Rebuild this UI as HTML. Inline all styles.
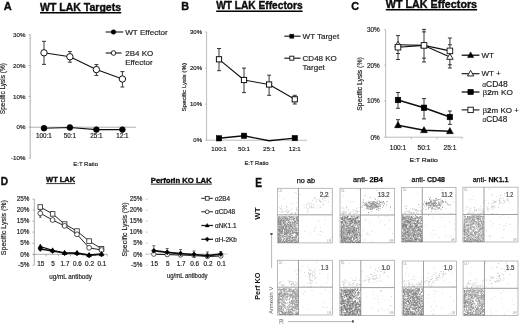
<!DOCTYPE html>
<html><head><meta charset="utf-8"><style>
html,body{margin:0;padding:0;background:#fff;width:520px;height:324px;overflow:hidden}
svg{display:block}
text{font-family:"Liberation Sans", sans-serif}
</style></head><body>
<svg width="520" height="324" viewBox="0 0 520 324">
<defs><filter id="bl" x="-5%" y="-5%" width="110%" height="110%"><feGaussianBlur stdDeviation="0.5"/></filter><filter id="gb" x="0" y="0" width="520" height="324" filterUnits="userSpaceOnUse"><feGaussianBlur stdDeviation="0.35"/></filter></defs>
<rect width="520" height="324" fill="#fff"/>
<g filter="url(#gb)">
<text x="3.7" y="9.8" font-size="11" font-weight="bold" fill="#111" stroke="#000" stroke-width="0.35">A</text>
<text x="40" y="10.8" font-size="10.5" font-weight="bold" textLength="81" lengthAdjust="spacingAndGlyphs" fill="#111" stroke="#000" stroke-width="0.35">WT LAK Targets</text>
<line x1="40" y1="12.8" x2="121.2" y2="12.8" stroke="#000" stroke-width="1.5"/>
<line x1="30.2" y1="34.6" x2="30.2" y2="158.5" stroke="#999" stroke-width="0.8"/>
<line x1="28.7" y1="34.6" x2="30.2" y2="34.6" stroke="#999" stroke-width="0.8"/>
<text x="25.4" y="36.83" font-size="6.2" text-anchor="end" fill="#222" stroke="#222" stroke-width="0.18">30%</text>
<line x1="28.7" y1="65.5" x2="30.2" y2="65.5" stroke="#999" stroke-width="0.8"/>
<text x="25.4" y="67.73" font-size="6.2" text-anchor="end" fill="#222" stroke="#222" stroke-width="0.18">20%</text>
<line x1="28.7" y1="96.4" x2="30.2" y2="96.4" stroke="#999" stroke-width="0.8"/>
<text x="25.4" y="98.63" font-size="6.2" text-anchor="end" fill="#222" stroke="#222" stroke-width="0.18">10%</text>
<line x1="28.7" y1="127.2" x2="30.2" y2="127.2" stroke="#999" stroke-width="0.8"/>
<text x="25.4" y="129.43" font-size="6.2" text-anchor="end" fill="#222" stroke="#222" stroke-width="0.18">0%</text>
<line x1="28.7" y1="158" x2="30.2" y2="158" stroke="#999" stroke-width="0.8"/>
<text x="25.4" y="160.23" font-size="6.2" text-anchor="end" fill="#222" stroke="#222" stroke-width="0.18">-10%</text>
<line x1="30.2" y1="127.2" x2="136" y2="127.2" stroke="#999" stroke-width="0.8"/>
<g transform="translate(2.8,88.6) rotate(-90)">
<text x="0" y="2.34" font-size="6.5" text-anchor="middle" fill="#222" stroke="#222" stroke-width="0.18">Specific Lysis (%)</text>
</g>
<text x="44" y="138.37" font-size="6.3" text-anchor="middle" fill="#222" stroke="#222" stroke-width="0.18">100:1</text>
<text x="69.9" y="138.37" font-size="6.3" text-anchor="middle" fill="#222" stroke="#222" stroke-width="0.18">50:1</text>
<text x="96.4" y="138.37" font-size="6.3" text-anchor="middle" fill="#222" stroke="#222" stroke-width="0.18">25:1</text>
<text x="122.4" y="138.37" font-size="6.3" text-anchor="middle" fill="#222" stroke="#222" stroke-width="0.18">12:1</text>
<text x="73.3" y="165.93" font-size="6.2" textLength="24.7" lengthAdjust="spacingAndGlyphs" fill="#222" stroke="#222" stroke-width="0.18">E:T Ratio</text>
<polyline points="44,128.2 69.9,127.5 96.4,129.6 122.4,129.6" fill="none" stroke="#111" stroke-width="1.1" stroke-linejoin="round"/>
<circle cx="44" cy="128.2" r="2.9" fill="#000" stroke="#000" stroke-width="0.6"/>
<circle cx="69.9" cy="127.5" r="2.9" fill="#000" stroke="#000" stroke-width="0.6"/>
<circle cx="96.4" cy="129.6" r="2.9" fill="#000" stroke="#000" stroke-width="0.6"/>
<circle cx="122.4" cy="129.6" r="2.9" fill="#000" stroke="#000" stroke-width="0.6"/>
<line x1="44" y1="41.3" x2="44" y2="64.4" stroke="#222" stroke-width="0.9"/>
<line x1="42.0" y1="41.3" x2="46.0" y2="41.3" stroke="#222" stroke-width="0.9"/>
<line x1="42.0" y1="64.4" x2="46.0" y2="64.4" stroke="#222" stroke-width="0.9"/>
<line x1="69.9" y1="51.6" x2="69.9" y2="62.2" stroke="#222" stroke-width="0.9"/>
<line x1="67.9" y1="51.6" x2="71.9" y2="51.6" stroke="#222" stroke-width="0.9"/>
<line x1="67.9" y1="62.2" x2="71.9" y2="62.2" stroke="#222" stroke-width="0.9"/>
<line x1="96.4" y1="64.6" x2="96.4" y2="75.4" stroke="#222" stroke-width="0.9"/>
<line x1="94.4" y1="64.6" x2="98.4" y2="64.6" stroke="#222" stroke-width="0.9"/>
<line x1="94.4" y1="75.4" x2="98.4" y2="75.4" stroke="#222" stroke-width="0.9"/>
<line x1="122.4" y1="71.6" x2="122.4" y2="87" stroke="#222" stroke-width="0.9"/>
<line x1="120.4" y1="71.6" x2="124.4" y2="71.6" stroke="#222" stroke-width="0.9"/>
<line x1="120.4" y1="87" x2="124.4" y2="87" stroke="#222" stroke-width="0.9"/>
<polyline points="44,52.8 69.9,56.8 96.4,69.6 122.4,79" fill="none" stroke="#111" stroke-width="1.1" stroke-linejoin="round"/>
<circle cx="44" cy="52.8" r="3.2" fill="#fff" stroke="#111" stroke-width="1"/>
<circle cx="69.9" cy="56.8" r="3.2" fill="#fff" stroke="#111" stroke-width="1"/>
<circle cx="96.4" cy="69.6" r="3.2" fill="#fff" stroke="#111" stroke-width="1"/>
<circle cx="122.4" cy="79" r="3.2" fill="#fff" stroke="#111" stroke-width="1"/>
<line x1="105.7" y1="32" x2="123.3" y2="32" stroke="#111" stroke-width="1.1"/>
<circle cx="113.5" cy="32" r="2.3" fill="#000" stroke="#000" stroke-width="0.5"/>
<text x="125.2" y="34.88" font-size="8" textLength="42.6" lengthAdjust="spacingAndGlyphs" fill="#222" stroke="#222" stroke-width="0.18">WT Effector</text>
<line x1="105.7" y1="53" x2="121.5" y2="53" stroke="#111" stroke-width="1.1"/>
<circle cx="113.5" cy="53" r="2.3" fill="#fff" stroke="#111" stroke-width="0.9"/>
<text x="125.2" y="55.88" font-size="8" fill="#222" stroke="#222" stroke-width="0.18">2B4 KO</text>
<text x="125.2" y="65.48" font-size="8" fill="#222" stroke="#222" stroke-width="0.18">Effector</text>
<text x="181.2" y="9.6" font-size="11.2" font-weight="bold" textLength="7.8" lengthAdjust="spacingAndGlyphs" fill="#111" stroke="#000" stroke-width="0.35">B</text>
<text x="216.2" y="9.3" font-size="10.4" font-weight="bold" textLength="86.4" lengthAdjust="spacingAndGlyphs" fill="#111" stroke="#000" stroke-width="0.35">WT LAK Effectors</text>
<line x1="216.2" y1="11.2" x2="302.6" y2="11.2" stroke="#000" stroke-width="1.5"/>
<line x1="206.6" y1="31.9" x2="206.6" y2="140.2" stroke="#aaa" stroke-width="0.8"/>
<line x1="205.1" y1="31.9" x2="206.6" y2="31.9" stroke="#aaa" stroke-width="0.8"/>
<text x="202" y="34.06" font-size="6" text-anchor="end" fill="#222" stroke="#222" stroke-width="0.18">30%</text>
<line x1="205.1" y1="68" x2="206.6" y2="68" stroke="#aaa" stroke-width="0.8"/>
<text x="202" y="70.16" font-size="6" text-anchor="end" fill="#222" stroke="#222" stroke-width="0.18">20%</text>
<line x1="205.1" y1="104.1" x2="206.6" y2="104.1" stroke="#aaa" stroke-width="0.8"/>
<text x="202" y="106.26" font-size="6" text-anchor="end" fill="#222" stroke="#222" stroke-width="0.18">10%</text>
<line x1="205.1" y1="140.2" x2="206.6" y2="140.2" stroke="#aaa" stroke-width="0.8"/>
<text x="202" y="142.36" font-size="6" text-anchor="end" fill="#222" stroke="#222" stroke-width="0.18">0%</text>
<line x1="206.6" y1="140.2" x2="307" y2="140.2" stroke="#aaa" stroke-width="0.8"/>
<g transform="translate(184,87.3) rotate(-90)">
<text x="0" y="2.23" font-size="6.2" text-anchor="middle" fill="#222" stroke="#222" stroke-width="0.18">Specific Lysis (%)</text>
</g>
<text x="219" y="151.13" font-size="6.2" text-anchor="middle" fill="#222" stroke="#222" stroke-width="0.18">100:1</text>
<text x="244" y="151.13" font-size="6.2" text-anchor="middle" fill="#222" stroke="#222" stroke-width="0.18">50:1</text>
<text x="269.1" y="151.13" font-size="6.2" text-anchor="middle" fill="#222" stroke="#222" stroke-width="0.18">25:1</text>
<text x="294.8" y="151.13" font-size="6.2" text-anchor="middle" fill="#222" stroke="#222" stroke-width="0.18">12:1</text>
<text x="244.5" y="165.16" font-size="6" textLength="24" lengthAdjust="spacingAndGlyphs" fill="#222" stroke="#222" stroke-width="0.18">E:T Ratio</text>
<polyline points="219,138.3 244,135.8 269.1,140.8 294.8,138.1" fill="none" stroke="#111" stroke-width="1.4" stroke-linejoin="round"/>
<rect x="216.3" y="135.60000000000002" width="5.4" height="5.4" fill="#000" stroke="#000" stroke-width="0.5"/>
<rect x="241.3" y="133.10000000000002" width="5.4" height="5.4" fill="#000" stroke="#000" stroke-width="0.5"/>
<rect x="292.1" y="135.4" width="5.4" height="5.4" fill="#000" stroke="#000" stroke-width="0.5"/>
<line x1="219" y1="48.5" x2="219" y2="70.7" stroke="#222" stroke-width="0.9"/>
<line x1="217.0" y1="48.5" x2="221.0" y2="48.5" stroke="#222" stroke-width="0.9"/>
<line x1="217.0" y1="70.7" x2="221.0" y2="70.7" stroke="#222" stroke-width="0.9"/>
<line x1="244" y1="68.1" x2="244" y2="92.6" stroke="#222" stroke-width="0.9"/>
<line x1="242.0" y1="68.1" x2="246.0" y2="68.1" stroke="#222" stroke-width="0.9"/>
<line x1="242.0" y1="92.6" x2="246.0" y2="92.6" stroke="#222" stroke-width="0.9"/>
<line x1="269.1" y1="75.2" x2="269.1" y2="95.3" stroke="#222" stroke-width="0.9"/>
<line x1="267.1" y1="75.2" x2="271.1" y2="75.2" stroke="#222" stroke-width="0.9"/>
<line x1="267.1" y1="95.3" x2="271.1" y2="95.3" stroke="#222" stroke-width="0.9"/>
<line x1="294.8" y1="95.3" x2="294.8" y2="104" stroke="#222" stroke-width="0.9"/>
<line x1="292.8" y1="95.3" x2="296.8" y2="95.3" stroke="#222" stroke-width="0.9"/>
<line x1="292.8" y1="104" x2="296.8" y2="104" stroke="#222" stroke-width="0.9"/>
<polyline points="219,59.3 244,80 269.1,84.5 294.8,99.3" fill="none" stroke="#111" stroke-width="1.1" stroke-linejoin="round"/>
<rect x="216.4" y="56.699999999999996" width="5.2" height="5.2" fill="#fff" stroke="#111" stroke-width="1"/>
<rect x="241.4" y="77.4" width="5.2" height="5.2" fill="#fff" stroke="#111" stroke-width="1"/>
<rect x="266.5" y="81.9" width="5.2" height="5.2" fill="#fff" stroke="#111" stroke-width="1"/>
<rect x="292.2" y="96.7" width="5.2" height="5.2" fill="#fff" stroke="#111" stroke-width="1"/>
<line x1="284.3" y1="36.2" x2="300.5" y2="36.2" stroke="#111" stroke-width="1.1"/>
<rect x="289.8" y="34.2" width="4" height="4" fill="#000" stroke="#000" stroke-width="0.5"/>
<text x="302.6" y="39.08" font-size="8" fill="#222" stroke="#222" stroke-width="0.18">WT Target</text>
<line x1="284.3" y1="58.2" x2="300.5" y2="58.2" stroke="#111" stroke-width="1.1"/>
<rect x="289.8" y="56.2" width="4" height="4" fill="#fff" stroke="#111" stroke-width="0.9"/>
<text x="302.6" y="61.08" font-size="8" fill="#222" stroke="#222" stroke-width="0.18">CD48 KO</text>
<text x="302.6" y="69.98" font-size="8" fill="#222" stroke="#222" stroke-width="0.18">Target</text>
<text x="351.3" y="9.5" font-size="11.5" font-weight="bold" textLength="7.8" lengthAdjust="spacingAndGlyphs" fill="#111" stroke="#000" stroke-width="0.35">C</text>
<text x="385.8" y="8.1" font-size="10.4" font-weight="bold" textLength="91.3" lengthAdjust="spacingAndGlyphs" fill="#111" stroke="#000" stroke-width="0.35">WT LAK Effectors</text>
<line x1="385.8" y1="9.7" x2="477.1" y2="9.7" stroke="#000" stroke-width="1.5"/>
<line x1="385.7" y1="29.8" x2="385.7" y2="137.2" stroke="#aaa" stroke-width="0.8"/>
<line x1="384.2" y1="29.8" x2="385.7" y2="29.8" stroke="#aaa" stroke-width="0.8"/>
<text x="379.8" y="32.1" font-size="6.4" text-anchor="end" fill="#222" stroke="#222" stroke-width="0.18">30%</text>
<line x1="384.2" y1="65.2" x2="385.7" y2="65.2" stroke="#aaa" stroke-width="0.8"/>
<text x="379.8" y="67.5" font-size="6.4" text-anchor="end" fill="#222" stroke="#222" stroke-width="0.18">20%</text>
<line x1="384.2" y1="100.8" x2="385.7" y2="100.8" stroke="#aaa" stroke-width="0.8"/>
<text x="379.8" y="103.1" font-size="6.4" text-anchor="end" fill="#222" stroke="#222" stroke-width="0.18">10%</text>
<line x1="384.2" y1="137.2" x2="385.7" y2="137.2" stroke="#aaa" stroke-width="0.8"/>
<text x="379.8" y="139.5" font-size="6.4" text-anchor="end" fill="#222" stroke="#222" stroke-width="0.18">0%</text>
<line x1="385.7" y1="137.2" x2="462.2" y2="137.2" stroke="#aaa" stroke-width="0.8"/>
<line x1="411.3" y1="137.2" x2="411.3" y2="139.2" stroke="#aaa" stroke-width="0.8"/>
<line x1="436.8" y1="137.2" x2="436.8" y2="139.2" stroke="#aaa" stroke-width="0.8"/>
<line x1="462.2" y1="137.2" x2="462.2" y2="139.2" stroke="#aaa" stroke-width="0.8"/>
<g transform="translate(359.5,84) rotate(-90)">
<text x="0" y="2.45" font-size="6.8" text-anchor="middle" fill="#222" stroke="#222" stroke-width="0.18">Specific Lysis (%)</text>
</g>
<text x="398" y="149.78" font-size="6.6" text-anchor="middle" fill="#222" stroke="#222" stroke-width="0.18">100:1</text>
<text x="424" y="149.78" font-size="6.6" text-anchor="middle" fill="#222" stroke="#222" stroke-width="0.18">50:1</text>
<text x="449.9" y="149.78" font-size="6.6" text-anchor="middle" fill="#222" stroke="#222" stroke-width="0.18">25:1</text>
<text x="409.4" y="162.16" font-size="6" textLength="28.4" lengthAdjust="spacingAndGlyphs" fill="#222" stroke="#222" stroke-width="0.18">E:T Ratio</text>
<line x1="398" y1="35.6" x2="398" y2="59.5" stroke="#222" stroke-width="0.9"/>
<line x1="396.0" y1="35.6" x2="400.0" y2="35.6" stroke="#222" stroke-width="0.9"/>
<line x1="396.0" y1="59.5" x2="400.0" y2="59.5" stroke="#222" stroke-width="0.9"/>
<line x1="424" y1="29.4" x2="424" y2="62" stroke="#222" stroke-width="0.9"/>
<line x1="422.0" y1="29.4" x2="426.0" y2="29.4" stroke="#222" stroke-width="0.9"/>
<line x1="422.0" y1="62" x2="426.0" y2="62" stroke="#222" stroke-width="0.9"/>
<line x1="449.9" y1="38" x2="449.9" y2="68" stroke="#222" stroke-width="0.9"/>
<line x1="447.9" y1="38" x2="451.9" y2="38" stroke="#222" stroke-width="0.9"/>
<line x1="447.9" y1="68" x2="451.9" y2="68" stroke="#222" stroke-width="0.9"/>
<line x1="396" y1="53.5" x2="400" y2="53.5" stroke="#222" stroke-width="0.9"/>
<line x1="422" y1="31.9" x2="426" y2="31.9" stroke="#222" stroke-width="0.9"/>
<line x1="422" y1="58.2" x2="426" y2="58.2" stroke="#222" stroke-width="0.9"/>
<line x1="447.9" y1="44.8" x2="451.9" y2="44.8" stroke="#222" stroke-width="0.9"/>
<line x1="447.9" y1="64.8" x2="451.9" y2="64.8" stroke="#222" stroke-width="0.9"/>
<polyline points="398,44.7 424,45.4 449.9,57" fill="none" stroke="#111" stroke-width="1.1" stroke-linejoin="round"/>
<polyline points="398,47.2 424,45.4 449.9,50.9" fill="none" stroke="#111" stroke-width="1.1" stroke-linejoin="round"/>
<polygon points="398,41.29 401.255,47.025000000000006 394.745,47.025000000000006" fill="#fff" stroke="#111" stroke-width="0.9"/>
<polygon points="424,41.989999999999995 427.255,47.725 420.745,47.725" fill="#fff" stroke="#111" stroke-width="0.9"/>
<polygon points="449.9,53.589999999999996 453.155,59.325 446.645,59.325" fill="#fff" stroke="#111" stroke-width="0.9"/>
<rect x="395.2" y="44.400000000000006" width="5.6" height="5.6" fill="#fff" stroke="#111" stroke-width="0.9"/>
<rect x="421.2" y="42.6" width="5.6" height="5.6" fill="#fff" stroke="#111" stroke-width="0.9"/>
<rect x="447.09999999999997" y="48.1" width="5.6" height="5.6" fill="#fff" stroke="#111" stroke-width="0.9"/>
<line x1="398" y1="92.5" x2="398" y2="108.3" stroke="#222" stroke-width="0.9"/>
<line x1="396.0" y1="92.5" x2="400.0" y2="92.5" stroke="#222" stroke-width="0.9"/>
<line x1="396.0" y1="108.3" x2="400.0" y2="108.3" stroke="#222" stroke-width="0.9"/>
<line x1="424" y1="98.6" x2="424" y2="118.9" stroke="#222" stroke-width="0.9"/>
<line x1="422.0" y1="98.6" x2="426.0" y2="98.6" stroke="#222" stroke-width="0.9"/>
<line x1="422.0" y1="118.9" x2="426.0" y2="118.9" stroke="#222" stroke-width="0.9"/>
<line x1="449.9" y1="111" x2="449.9" y2="124.4" stroke="#222" stroke-width="0.9"/>
<line x1="447.9" y1="111" x2="451.9" y2="111" stroke="#222" stroke-width="0.9"/>
<line x1="447.9" y1="124.4" x2="451.9" y2="124.4" stroke="#222" stroke-width="0.9"/>
<polyline points="398,100 424,107.8 449.9,117" fill="none" stroke="#111" stroke-width="1.6" stroke-linejoin="round"/>
<rect x="395.2" y="97.2" width="5.6" height="5.6" fill="#000" stroke="#000" stroke-width="0.5"/>
<rect x="421.2" y="105.0" width="5.6" height="5.6" fill="#000" stroke="#000" stroke-width="0.5"/>
<rect x="447.09999999999997" y="114.2" width="5.6" height="5.6" fill="#000" stroke="#000" stroke-width="0.5"/>
<line x1="398" y1="119.7" x2="398" y2="127" stroke="#222" stroke-width="0.9"/>
<line x1="396.0" y1="119.7" x2="400.0" y2="119.7" stroke="#222" stroke-width="0.9"/>
<line x1="396.0" y1="127" x2="400.0" y2="127" stroke="#222" stroke-width="0.9"/>
<polyline points="398,125.2 424,130.2 449.9,131.2" fill="none" stroke="#111" stroke-width="1.6" stroke-linejoin="round"/>
<polygon points="398,121.57000000000001 401.465,127.675 394.535,127.675" fill="#000" stroke="#000" stroke-width="0.5"/>
<polygon points="424,126.57 427.465,132.67499999999998 420.535,132.67499999999998" fill="#000" stroke="#000" stroke-width="0.5"/>
<polygon points="449.9,127.57 453.36499999999995,133.67499999999998 446.435,133.67499999999998" fill="#000" stroke="#000" stroke-width="0.5"/>
<line x1="461.7" y1="55.2" x2="479.4" y2="55.2" stroke="#111" stroke-width="1.3"/>
<polygon points="470.6,51.900000000000006 473.75,57.45 467.45000000000005,57.45" fill="#000" stroke="#000" stroke-width="0.5"/>
<text x="481.5" y="58.08" font-size="8" fill="#222" stroke="#222" stroke-width="0.18">WT</text>
<line x1="461.7" y1="73.7" x2="479.4" y2="73.7" stroke="#111" stroke-width="1.1"/>
<polygon points="470.6,70.4 473.75,75.95 467.45000000000005,75.95" fill="#fff" stroke="#111" stroke-width="0.9"/>
<text x="481.5" y="76.38" font-size="8" fill="#222" stroke="#222" stroke-width="0.18">WT +</text>
<text x="482.2" y="86.55" font-size="8.2" textLength="25.6" lengthAdjust="spacingAndGlyphs" fill="#222" stroke="#222" stroke-width="0.18"><tspan font-size="6.5" fill="#555">&#945;</tspan>CD48</text>
<line x1="461.7" y1="92" x2="479.4" y2="92" stroke="#111" stroke-width="1.3"/>
<rect x="467.90000000000003" y="89.3" width="5.4" height="5.4" fill="#000" stroke="#000" stroke-width="0.5"/>
<text x="482.5" y="94.78" font-size="8" textLength="30.3" lengthAdjust="spacingAndGlyphs" fill="#222" stroke="#222" stroke-width="0.18"><tspan fill="#555">&#946;</tspan><tspan font-weight="bold">2</tspan>m KO</text>
<line x1="461.7" y1="109.9" x2="479.4" y2="109.9" stroke="#111" stroke-width="1.1"/>
<rect x="467.90000000000003" y="107.2" width="5.4" height="5.4" fill="#fff" stroke="#111" stroke-width="0.9"/>
<text x="482.5" y="112.88" font-size="8" fill="#222" stroke="#222" stroke-width="0.18"><tspan fill="#555">&#946;</tspan><tspan font-weight="bold">2</tspan>m KO +</text>
<text x="482.5" y="122.45" font-size="8.2" textLength="24.7" lengthAdjust="spacingAndGlyphs" fill="#222" stroke="#222" stroke-width="0.18"><tspan font-size="6.5" fill="#555">&#945;</tspan>CD48</text>
<text x="0.8" y="185.1" font-size="11.5" font-weight="bold" textLength="7.3" lengthAdjust="spacingAndGlyphs" fill="#111" stroke="#000" stroke-width="0.35">D</text>
<text x="46.1" y="182.2" font-size="7" font-weight="bold" textLength="29" lengthAdjust="spacingAndGlyphs" fill="#111" stroke="#000" stroke-width="0.35">WT LAK</text>
<line x1="46.1" y1="183.6" x2="75.1" y2="183.6" stroke="#333" stroke-width="1"/>
<text x="150.8" y="182.7" font-size="7" font-weight="bold" textLength="60.9" lengthAdjust="spacingAndGlyphs" fill="#111" stroke="#000" stroke-width="0.35">Perforin KO LAK</text>
<line x1="150.8" y1="184.2" x2="211.7" y2="184.2" stroke="#333" stroke-width="1"/>
<line x1="34.3" y1="199.2" x2="34.3" y2="265.2" stroke="#999" stroke-width="0.8"/>
<line x1="32.5" y1="199.2" x2="34.3" y2="199.2" stroke="#999" stroke-width="0.8"/>
<text x="29.3" y="201.47" font-size="6.3" text-anchor="end" fill="#222" stroke="#222" stroke-width="0.18">25%</text>
<line x1="32.5" y1="210.1" x2="34.3" y2="210.1" stroke="#999" stroke-width="0.8"/>
<text x="29.3" y="212.37" font-size="6.3" text-anchor="end" fill="#222" stroke="#222" stroke-width="0.18">20%</text>
<line x1="32.5" y1="221.1" x2="34.3" y2="221.1" stroke="#999" stroke-width="0.8"/>
<text x="29.3" y="223.37" font-size="6.3" text-anchor="end" fill="#222" stroke="#222" stroke-width="0.18">15%</text>
<line x1="32.5" y1="232.1" x2="34.3" y2="232.1" stroke="#999" stroke-width="0.8"/>
<text x="29.3" y="234.37" font-size="6.3" text-anchor="end" fill="#222" stroke="#222" stroke-width="0.18">10%</text>
<line x1="32.5" y1="243.2" x2="34.3" y2="243.2" stroke="#999" stroke-width="0.8"/>
<text x="29.3" y="245.47" font-size="6.3" text-anchor="end" fill="#222" stroke="#222" stroke-width="0.18">5%</text>
<line x1="32.5" y1="254.3" x2="34.3" y2="254.3" stroke="#999" stroke-width="0.8"/>
<text x="29.3" y="256.57" font-size="6.3" text-anchor="end" fill="#222" stroke="#222" stroke-width="0.18">0%</text>
<line x1="32.5" y1="265.2" x2="34.3" y2="265.2" stroke="#999" stroke-width="0.8"/>
<text x="29.3" y="267.47" font-size="6.3" text-anchor="end" fill="#222" stroke="#222" stroke-width="0.18">-5%</text>
<line x1="32.8" y1="254.3" x2="107.2" y2="254.3" stroke="#999" stroke-width="0.8"/>
<line x1="46.2" y1="254.3" x2="46.2" y2="256.3" stroke="#999" stroke-width="0.8"/>
<line x1="58.4" y1="254.3" x2="58.4" y2="256.3" stroke="#999" stroke-width="0.8"/>
<line x1="70.6" y1="254.3" x2="70.6" y2="256.3" stroke="#999" stroke-width="0.8"/>
<line x1="82.8" y1="254.3" x2="82.8" y2="256.3" stroke="#999" stroke-width="0.8"/>
<line x1="95" y1="254.3" x2="95" y2="256.3" stroke="#999" stroke-width="0.8"/>
<line x1="107.2" y1="254.3" x2="107.2" y2="256.3" stroke="#999" stroke-width="0.8"/>
<g transform="translate(3.7,227.7) rotate(-90)">
<text x="0" y="2.52" font-size="7" text-anchor="middle" fill="#222" stroke="#222" stroke-width="0.18">Specific Lysis (%)</text>
</g>
<text x="40.699999999999996" y="266.1" font-size="6.4" text-anchor="middle" fill="#222" stroke="#222" stroke-width="0.18">15</text>
<text x="53.0" y="266.1" font-size="6.4" text-anchor="middle" fill="#222" stroke="#222" stroke-width="0.18">5</text>
<text x="65.0" y="266.1" font-size="6.4" text-anchor="middle" fill="#222" stroke="#222" stroke-width="0.18">1.7</text>
<text x="77.4" y="266.1" font-size="6.4" text-anchor="middle" fill="#222" stroke="#222" stroke-width="0.18">0.6</text>
<text x="89.5" y="266.1" font-size="6.4" text-anchor="middle" fill="#222" stroke="#222" stroke-width="0.18">0.2</text>
<text x="101.9" y="266.1" font-size="6.4" text-anchor="middle" fill="#222" stroke="#222" stroke-width="0.18">0.1</text>
<text x="49.3" y="279.1" font-size="6.4" textLength="42.7" lengthAdjust="spacingAndGlyphs" fill="#222" stroke="#222" stroke-width="0.18">ug/mL antibody</text>
<line x1="40.3" y1="210" x2="40.3" y2="217.2" stroke="#333" stroke-width="0.8"/>
<line x1="39.05" y1="210" x2="41.55" y2="210" stroke="#333" stroke-width="0.8"/>
<line x1="39.05" y1="217.2" x2="41.55" y2="217.2" stroke="#333" stroke-width="0.8"/>
<polyline points="40.3,207 52.6,213.9 64.6,224.1 77.0,231.1 89.1,241.1 101.5,248.7" fill="none" stroke="#111" stroke-width="0.9" stroke-linejoin="round"/>
<polyline points="40.3,213.3 52.6,220 64.6,225.9 77.0,234.3 89.1,247.8 101.5,250" fill="none" stroke="#111" stroke-width="0.9" stroke-linejoin="round"/>
<polyline points="40.3,246.5 52.6,250.3 64.6,252.8 77.0,252.8 89.1,255 101.5,254" fill="none" stroke="#111" stroke-width="1.3" stroke-linejoin="round"/>
<polyline points="40.3,249 52.6,251 64.6,253.2 77.0,253.4 89.1,255.4 101.5,254.4" fill="none" stroke="#111" stroke-width="1.3" stroke-linejoin="round"/>
<rect x="38.0" y="204.7" width="4.6" height="4.6" fill="#fff" stroke="#222" stroke-width="0.8"/>
<rect x="50.300000000000004" y="211.6" width="4.6" height="4.6" fill="#fff" stroke="#222" stroke-width="0.8"/>
<rect x="62.3" y="221.79999999999998" width="4.6" height="4.6" fill="#fff" stroke="#222" stroke-width="0.8"/>
<rect x="74.7" y="228.79999999999998" width="4.6" height="4.6" fill="#fff" stroke="#222" stroke-width="0.8"/>
<rect x="86.8" y="238.79999999999998" width="4.6" height="4.6" fill="#fff" stroke="#222" stroke-width="0.8"/>
<rect x="99.2" y="246.39999999999998" width="4.6" height="4.6" fill="#fff" stroke="#222" stroke-width="0.8"/>
<circle cx="40.3" cy="213.3" r="2.4" fill="#fff" stroke="#222" stroke-width="0.8"/>
<circle cx="52.6" cy="220" r="2.4" fill="#fff" stroke="#222" stroke-width="0.8"/>
<circle cx="64.6" cy="225.9" r="2.4" fill="#fff" stroke="#222" stroke-width="0.8"/>
<circle cx="77.0" cy="234.3" r="2.4" fill="#fff" stroke="#222" stroke-width="0.8"/>
<circle cx="89.1" cy="247.8" r="2.4" fill="#fff" stroke="#222" stroke-width="0.8"/>
<circle cx="101.5" cy="250" r="2.4" fill="#fff" stroke="#222" stroke-width="0.8"/>
<polygon points="40.3,243.97 42.714999999999996,248.225 37.885,248.225" fill="#000" stroke="#000" stroke-width="0.5"/>
<polygon points="52.6,247.77 55.015,252.025 50.185,252.025" fill="#000" stroke="#000" stroke-width="0.5"/>
<polygon points="64.6,250.27 67.015,254.525 62.184999999999995,254.525" fill="#000" stroke="#000" stroke-width="0.5"/>
<polygon points="77.0,250.27 79.415,254.525 74.585,254.525" fill="#000" stroke="#000" stroke-width="0.5"/>
<polygon points="89.1,252.47 91.515,256.725 86.68499999999999,256.725" fill="#000" stroke="#000" stroke-width="0.5"/>
<polygon points="101.5,251.47 103.915,255.725 99.085,255.725" fill="#000" stroke="#000" stroke-width="0.5"/>
<polygon points="40.3,246.48 42.61,249 40.3,251.52 37.989999999999995,249" fill="#000" stroke="#000" stroke-width="0.5"/>
<polygon points="52.6,248.48 54.910000000000004,251 52.6,253.52 50.29,251" fill="#000" stroke="#000" stroke-width="0.5"/>
<polygon points="64.6,250.67999999999998 66.91,253.2 64.6,255.72 62.28999999999999,253.2" fill="#000" stroke="#000" stroke-width="0.5"/>
<polygon points="77.0,250.88 79.31,253.4 77.0,255.92000000000002 74.69,253.4" fill="#000" stroke="#000" stroke-width="0.5"/>
<polygon points="89.1,252.88 91.41,255.4 89.1,257.92 86.78999999999999,255.4" fill="#000" stroke="#000" stroke-width="0.5"/>
<polygon points="101.5,251.88 103.81,254.4 101.5,256.92 99.19,254.4" fill="#000" stroke="#000" stroke-width="0.5"/>
<line x1="145.6" y1="199.2" x2="147.6" y2="199.2" stroke="#bbb" stroke-width="0.8"/>
<text x="142.3" y="201.47" font-size="6.3" text-anchor="end" fill="#222" stroke="#222" stroke-width="0.18">25%</text>
<line x1="145.6" y1="210.1" x2="147.6" y2="210.1" stroke="#bbb" stroke-width="0.8"/>
<text x="142.3" y="212.37" font-size="6.3" text-anchor="end" fill="#222" stroke="#222" stroke-width="0.18">20%</text>
<line x1="145.6" y1="221.1" x2="147.6" y2="221.1" stroke="#bbb" stroke-width="0.8"/>
<text x="142.3" y="223.37" font-size="6.3" text-anchor="end" fill="#222" stroke="#222" stroke-width="0.18">15%</text>
<line x1="145.6" y1="232.1" x2="147.6" y2="232.1" stroke="#bbb" stroke-width="0.8"/>
<text x="142.3" y="234.37" font-size="6.3" text-anchor="end" fill="#222" stroke="#222" stroke-width="0.18">10%</text>
<line x1="145.6" y1="243.2" x2="147.6" y2="243.2" stroke="#bbb" stroke-width="0.8"/>
<text x="142.3" y="245.47" font-size="6.3" text-anchor="end" fill="#222" stroke="#222" stroke-width="0.18">5%</text>
<line x1="145.6" y1="254.3" x2="147.6" y2="254.3" stroke="#bbb" stroke-width="0.8"/>
<text x="142.3" y="256.57" font-size="6.3" text-anchor="end" fill="#222" stroke="#222" stroke-width="0.18">0%</text>
<line x1="145.6" y1="265.2" x2="147.6" y2="265.2" stroke="#bbb" stroke-width="0.8"/>
<text x="142.3" y="267.47" font-size="6.3" text-anchor="end" fill="#222" stroke="#222" stroke-width="0.18">-5%</text>
<line x1="145.5" y1="254" x2="227.5" y2="254" stroke="#bbb" stroke-width="0.8"/>
<g transform="translate(124.9,229.5) rotate(-90)">
<text x="0" y="2.48" font-size="6.9" text-anchor="middle" fill="#222" stroke="#222" stroke-width="0.18">Specific Lysis (%)</text>
</g>
<text x="154.4" y="265.8" font-size="6.4" text-anchor="middle" fill="#222" stroke="#222" stroke-width="0.18">15</text>
<text x="167.79999999999998" y="265.8" font-size="6.4" text-anchor="middle" fill="#222" stroke="#222" stroke-width="0.18">5</text>
<text x="181.2" y="265.8" font-size="6.4" text-anchor="middle" fill="#222" stroke="#222" stroke-width="0.18">1.7</text>
<text x="194.6" y="265.8" font-size="6.4" text-anchor="middle" fill="#222" stroke="#222" stroke-width="0.18">0.6</text>
<text x="208.0" y="265.8" font-size="6.4" text-anchor="middle" fill="#222" stroke="#222" stroke-width="0.18">0.2</text>
<text x="221.4" y="265.8" font-size="6.4" text-anchor="middle" fill="#222" stroke="#222" stroke-width="0.18">0.1</text>
<text x="167" y="278.1" font-size="6.4" textLength="40.5" lengthAdjust="spacingAndGlyphs" fill="#222" stroke="#222" stroke-width="0.18">ug/mL antibody</text>
<line x1="153.8" y1="245.8" x2="153.8" y2="255" stroke="#444" stroke-width="0.8"/>
<line x1="152.3" y1="245.8" x2="155.3" y2="245.8" stroke="#444" stroke-width="0.8"/>
<line x1="152.3" y1="255" x2="155.3" y2="255" stroke="#444" stroke-width="0.8"/>
<line x1="167.2" y1="248.5" x2="167.2" y2="256" stroke="#444" stroke-width="0.8"/>
<line x1="165.7" y1="248.5" x2="168.7" y2="248.5" stroke="#444" stroke-width="0.8"/>
<line x1="165.7" y1="256" x2="168.7" y2="256" stroke="#444" stroke-width="0.8"/>
<line x1="180.6" y1="249.5" x2="180.6" y2="256" stroke="#444" stroke-width="0.8"/>
<line x1="179.1" y1="249.5" x2="182.1" y2="249.5" stroke="#444" stroke-width="0.8"/>
<line x1="179.1" y1="256" x2="182.1" y2="256" stroke="#444" stroke-width="0.8"/>
<line x1="194.0" y1="251" x2="194.0" y2="256.5" stroke="#444" stroke-width="0.8"/>
<line x1="192.5" y1="251" x2="195.5" y2="251" stroke="#444" stroke-width="0.8"/>
<line x1="192.5" y1="256.5" x2="195.5" y2="256.5" stroke="#444" stroke-width="0.8"/>
<line x1="207.4" y1="252" x2="207.4" y2="257" stroke="#444" stroke-width="0.8"/>
<line x1="205.9" y1="252" x2="208.9" y2="252" stroke="#444" stroke-width="0.8"/>
<line x1="205.9" y1="257" x2="208.9" y2="257" stroke="#444" stroke-width="0.8"/>
<line x1="220.8" y1="251.5" x2="220.8" y2="256" stroke="#444" stroke-width="0.8"/>
<line x1="219.3" y1="251.5" x2="222.3" y2="251.5" stroke="#444" stroke-width="0.8"/>
<line x1="219.3" y1="256" x2="222.3" y2="256" stroke="#444" stroke-width="0.8"/>
<polyline points="153.8,254.2 167.2,254.6 180.6,255 194.0,255.5 207.4,256.5 220.8,256" fill="none" stroke="#111" stroke-width="1" stroke-linejoin="round"/>
<polyline points="153.8,250.7 167.2,252.3 180.6,253.6 194.0,254.5 207.4,255.7 220.8,254.1" fill="none" stroke="#111" stroke-width="1.7" stroke-linejoin="round"/>
<circle cx="153.8" cy="254.2" r="2.2" fill="#fff" stroke="#333" stroke-width="0.8"/>
<circle cx="167.2" cy="254.6" r="2.2" fill="#fff" stroke="#333" stroke-width="0.8"/>
<circle cx="180.6" cy="255" r="2.2" fill="#fff" stroke="#333" stroke-width="0.8"/>
<circle cx="194.0" cy="255.5" r="2.2" fill="#fff" stroke="#333" stroke-width="0.8"/>
<circle cx="207.4" cy="256.5" r="2.2" fill="#fff" stroke="#333" stroke-width="0.8"/>
<circle cx="220.8" cy="256" r="2.2" fill="#fff" stroke="#333" stroke-width="0.8"/>
<polygon points="153.8,248.17999999999998 156.11,250.7 153.8,253.22 151.49,250.7" fill="#000" stroke="#000" stroke-width="0.5"/>
<polygon points="167.2,249.78 169.51,252.3 167.2,254.82000000000002 164.89,252.3" fill="#000" stroke="#000" stroke-width="0.5"/>
<polygon points="180.6,251.07999999999998 182.91,253.6 180.6,256.12 178.29,253.6" fill="#000" stroke="#000" stroke-width="0.5"/>
<polygon points="194.0,251.98 196.31,254.5 194.0,257.02 191.69,254.5" fill="#000" stroke="#000" stroke-width="0.5"/>
<polygon points="207.4,253.17999999999998 209.71,255.7 207.4,258.21999999999997 205.09,255.7" fill="#000" stroke="#000" stroke-width="0.5"/>
<polygon points="220.8,251.57999999999998 223.11,254.1 220.8,256.62 218.49,254.1" fill="#000" stroke="#000" stroke-width="0.5"/>
<line x1="201.3" y1="198.3" x2="213" y2="198.3" stroke="#222" stroke-width="1"/>
<rect x="205.29999999999998" y="196.4" width="3.8" height="3.8" fill="#fff" stroke="#222" stroke-width="0.8"/>
<text x="215" y="200.6" font-size="6.4" fill="#222" stroke="#222" stroke-width="0.18">&#945;2B4</text>
<line x1="201.3" y1="211.8" x2="213" y2="211.8" stroke="#222" stroke-width="1"/>
<circle cx="207.2" cy="211.8" r="1.9" fill="#fff" stroke="#222" stroke-width="0.8"/>
<text x="215" y="214.1" font-size="6.4" fill="#222" stroke="#222" stroke-width="0.18">&#945;CD48</text>
<line x1="201.3" y1="225.5" x2="213" y2="225.5" stroke="#222" stroke-width="1.3"/>
<polygon points="207.2,223.41 209.195,226.925 205.20499999999998,226.925" fill="#000" stroke="#000" stroke-width="0.4"/>
<text x="215" y="227.8" font-size="6.4" fill="#222" stroke="#222" stroke-width="0.18">&#945;NK1.1</text>
<line x1="201.3" y1="239.3" x2="213" y2="239.3" stroke="#222" stroke-width="1.3"/>
<polygon points="207.2,237.02 209.29,239.3 207.2,241.58 205.10999999999999,239.3" fill="#000" stroke="#000" stroke-width="0.4"/>
<text x="215" y="241.6" font-size="6.4" fill="#222" stroke="#222" stroke-width="0.18">&#945;H-2Kb</text>
<text x="255.3" y="186.7" font-size="12.2" font-weight="bold" textLength="6.7" lengthAdjust="spacingAndGlyphs" fill="#111" stroke="#000" stroke-width="0.35">E</text>
<text x="296.8" y="183.02" font-size="7" textLength="18.2" lengthAdjust="spacingAndGlyphs" fill="#111" stroke="#111" stroke-width="0.25">no ab</text>
<text x="353" y="182.32" font-size="7" textLength="30" lengthAdjust="spacingAndGlyphs" fill="#111" stroke="#111" stroke-width="0.25">anti- <tspan font-weight="bold">2B4</tspan></text>
<text x="411.5" y="181.92" font-size="7" textLength="33.5" lengthAdjust="spacingAndGlyphs" fill="#111" stroke="#111" stroke-width="0.25">anti- <tspan font-weight="bold">CD48</tspan></text>
<text x="472.7" y="182.12" font-size="7" textLength="35.8" lengthAdjust="spacingAndGlyphs" fill="#111" stroke="#111" stroke-width="0.25">anti- <tspan font-weight="bold">NK1.1</tspan></text>
<g transform="translate(257.4,213.6) rotate(-90)">
<text x="0" y="2.81" font-size="7.8" text-anchor="middle" font-weight="bold" fill="#111">WT</text>
</g>
<g transform="translate(256.9,286.2) rotate(-90)">
<text x="0" y="2.63" font-size="7.3" text-anchor="middle" font-weight="bold" fill="#111">Perf KO</text>
</g>
<g transform="translate(271.3,300.3) rotate(-90)">
<text x="0" y="2.16" font-size="6" text-anchor="middle" fill="#555">Annexin V</text>
</g>
<line x1="271.6" y1="234" x2="271.6" y2="268" stroke="#999" stroke-width="0.7"/>
<rect x="270.8" y="233.2" width="1.6" height="1.6" fill="#333" stroke="#333" stroke-width="0.3"/>
<text x="279.2" y="323.54" font-size="6.5" textLength="4.5" lengthAdjust="spacingAndGlyphs" fill="#555">PI</text>
<line x1="288" y1="321.6" x2="352.5" y2="321.6" stroke="#999" stroke-width="0.7"/>
<rect x="352.2" y="320.8" width="1.6" height="1.6" fill="#444" stroke="#444" stroke-width="0.3"/>
<rect x="277.4" y="188.3" width="54.9" height="54.6" fill="#fff" stroke="#aaa" stroke-width="0.8"/>
<g filter="url(#bl)">
<path fill="#707070" d="M284.4 219.6h0.9v0.9h-0.9zM279.8 226.9h0.9v0.9h-0.9zM296.9 232.4h0.9v0.9h-0.9zM289.5 226.2h0.9v0.9h-0.9zM280.1 230.9h0.9v0.9h-0.9zM293.9 226.1h0.9v0.9h-0.9zM286.8 218.5h0.9v0.9h-0.9zM282.0 228.8h0.9v0.9h-0.9zM284.5 230.1h0.9v0.9h-0.9zM280.7 218.8h0.9v0.9h-0.9zM278.4 230.4h0.9v0.9h-0.9zM285.6 229.4h0.9v0.9h-0.9zM280.2 240.1h0.9v0.9h-0.9zM289.4 234.3h0.9v0.9h-0.9zM279.7 238.5h0.9v0.9h-0.9zM290.4 216.8h0.9v0.9h-0.9zM288.0 220.3h0.9v0.9h-0.9zM292.7 222.4h0.9v0.9h-0.9zM282.3 220.5h0.9v0.9h-0.9zM280.8 229.6h0.9v0.9h-0.9zM297.0 232.8h0.9v0.9h-0.9zM282.9 222.6h0.9v0.9h-0.9zM288.5 235.5h0.9v0.9h-0.9zM279.5 239.9h0.9v0.9h-0.9zM285.7 240.1h0.9v0.9h-0.9zM280.6 237.5h0.9v0.9h-0.9zM284.8 224.0h0.9v0.9h-0.9zM279.3 226.0h0.9v0.9h-0.9zM285.2 227.0h0.9v0.9h-0.9zM286.9 241.1h0.9v0.9h-0.9zM295.0 241.6h0.9v0.9h-0.9zM282.5 219.7h0.9v0.9h-0.9zM291.3 240.3h0.9v0.9h-0.9zM286.9 234.6h0.9v0.9h-0.9zM286.8 218.5h0.9v0.9h-0.9zM278.8 216.5h0.9v0.9h-0.9zM285.2 224.5h0.9v0.9h-0.9zM284.5 241.8h0.9v0.9h-0.9zM282.6 237.2h0.9v0.9h-0.9zM296.2 216.7h0.9v0.9h-0.9zM286.9 222.5h0.9v0.9h-0.9zM278.8 235.2h0.9v0.9h-0.9zM290.8 226.0h0.9v0.9h-0.9zM286.6 219.8h0.9v0.9h-0.9zM284.3 231.8h0.9v0.9h-0.9zM278.8 230.6h0.9v0.9h-0.9zM279.8 227.4h0.9v0.9h-0.9zM295.8 233.0h0.9v0.9h-0.9zM295.1 242.2h0.9v0.9h-0.9zM296.6 235.2h0.9v0.9h-0.9zM287.3 238.0h0.9v0.9h-0.9zM296.1 219.5h0.9v0.9h-0.9zM290.6 234.2h0.9v0.9h-0.9zM292.0 230.0h0.9v0.9h-0.9zM282.0 236.0h0.9v0.9h-0.9zM289.2 218.4h0.9v0.9h-0.9zM286.0 226.1h0.9v0.9h-0.9zM283.9 222.9h0.9v0.9h-0.9zM283.6 239.2h0.9v0.9h-0.9zM284.5 215.9h0.9v0.9h-0.9zM297.7 220.5h0.9v0.9h-0.9zM281.0 223.7h0.9v0.9h-0.9zM279.5 232.6h0.9v0.9h-0.9zM280.5 241.6h0.9v0.9h-0.9zM294.4 228.3h0.9v0.9h-0.9zM293.2 218.3h0.9v0.9h-0.9zM296.6 217.1h0.9v0.9h-0.9zM278.1 233.9h0.9v0.9h-0.9zM296.2 217.0h0.9v0.9h-0.9zM278.3 233.0h0.9v0.9h-0.9zM292.5 228.1h0.9v0.9h-0.9zM293.6 230.7h0.9v0.9h-0.9zM283.3 219.8h0.9v0.9h-0.9zM291.6 240.0h0.9v0.9h-0.9zM292.9 236.7h0.9v0.9h-0.9zM282.9 240.2h0.9v0.9h-0.9zM289.9 224.8h0.9v0.9h-0.9zM297.8 225.7h0.9v0.9h-0.9zM289.1 238.8h0.9v0.9h-0.9zM296.7 217.2h0.9v0.9h-0.9zM292.1 232.9h0.9v0.9h-0.9zM280.1 224.2h0.9v0.9h-0.9zM287.8 224.1h0.9v0.9h-0.9zM296.4 230.6h0.9v0.9h-0.9zM294.8 238.7h0.9v0.9h-0.9zM278.7 234.4h0.9v0.9h-0.9zM285.1 240.5h0.9v0.9h-0.9zM293.5 238.8h0.9v0.9h-0.9zM288.2 229.8h0.9v0.9h-0.9zM280.0 222.3h0.9v0.9h-0.9zM282.7 227.5h0.9v0.9h-0.9zM289.7 235.9h0.9v0.9h-0.9zM291.8 231.5h0.9v0.9h-0.9zM293.5 240.6h0.9v0.9h-0.9zM290.4 232.4h0.9v0.9h-0.9zM288.2 225.8h0.9v0.9h-0.9zM283.9 236.2h0.9v0.9h-0.9zM285.7 227.3h0.9v0.9h-0.9zM282.1 227.0h0.9v0.9h-0.9zM296.9 233.7h0.9v0.9h-0.9zM290.7 216.7h0.9v0.9h-0.9zM285.9 218.2h0.9v0.9h-0.9zM288.3 229.2h0.9v0.9h-0.9zM279.3 220.7h0.9v0.9h-0.9zM279.1 239.4h0.9v0.9h-0.9zM286.7 232.2h0.9v0.9h-0.9zM281.2 231.3h0.9v0.9h-0.9zM283.0 239.3h0.9v0.9h-0.9zM286.2 226.2h0.9v0.9h-0.9zM278.6 234.8h0.9v0.9h-0.9zM296.2 235.2h0.9v0.9h-0.9zM291.9 241.6h0.9v0.9h-0.9zM297.2 220.1h0.9v0.9h-0.9zM287.7 228.5h0.9v0.9h-0.9zM278.9 239.5h0.9v0.9h-0.9zM281.8 230.1h0.9v0.9h-0.9zM294.7 222.4h0.9v0.9h-0.9zM286.8 241.5h0.9v0.9h-0.9zM292.1 239.4h0.9v0.9h-0.9zM288.5 230.7h0.9v0.9h-0.9zM280.2 238.6h0.9v0.9h-0.9zM289.0 221.6h0.9v0.9h-0.9zM289.0 234.7h0.9v0.9h-0.9zM279.1 221.9h0.9v0.9h-0.9zM292.0 241.1h0.9v0.9h-0.9zM292.4 216.8h0.9v0.9h-0.9zM285.1 224.3h0.9v0.9h-0.9zM286.8 236.7h0.9v0.9h-0.9zM287.7 228.5h0.9v0.9h-0.9zM285.8 238.9h0.9v0.9h-0.9zM278.4 227.9h0.9v0.9h-0.9zM297.3 234.0h0.9v0.9h-0.9zM295.8 223.1h0.9v0.9h-0.9zM290.8 216.0h0.9v0.9h-0.9zM292.1 237.9h0.9v0.9h-0.9zM281.1 219.4h0.9v0.9h-0.9zM281.0 232.4h0.9v0.9h-0.9zM287.2 224.2h0.9v0.9h-0.9zM297.0 219.2h0.9v0.9h-0.9zM291.6 237.1h0.9v0.9h-0.9zM279.9 220.1h0.9v0.9h-0.9zM288.0 221.8h0.9v0.9h-0.9zM280.9 235.3h0.9v0.9h-0.9zM288.5 238.0h0.9v0.9h-0.9zM283.4 241.4h0.9v0.9h-0.9zM286.1 230.5h0.9v0.9h-0.9zM293.7 238.8h0.9v0.9h-0.9zM289.7 230.8h0.9v0.9h-0.9zM280.4 219.7h0.9v0.9h-0.9zM297.5 238.3h0.9v0.9h-0.9zM289.0 236.1h0.9v0.9h-0.9zM279.8 238.2h0.9v0.9h-0.9z"/>
<path fill="#a5a5a5" d="M294.3 218.1h0.9v0.9h-0.9zM289.1 219.2h0.9v0.9h-0.9zM291.9 222.1h0.9v0.9h-0.9zM287.9 224.8h0.9v0.9h-0.9zM288.9 239.2h0.9v0.9h-0.9zM281.6 223.1h0.9v0.9h-0.9zM285.2 234.0h0.9v0.9h-0.9zM293.7 228.2h0.9v0.9h-0.9zM297.5 233.1h0.9v0.9h-0.9zM278.6 221.3h0.9v0.9h-0.9zM296.1 225.0h0.9v0.9h-0.9zM294.2 229.4h0.9v0.9h-0.9zM281.4 228.2h0.9v0.9h-0.9zM294.3 222.5h0.9v0.9h-0.9zM297.8 216.6h0.9v0.9h-0.9zM287.4 229.0h0.9v0.9h-0.9zM284.1 221.8h0.9v0.9h-0.9zM295.7 232.3h0.9v0.9h-0.9zM284.6 233.0h0.9v0.9h-0.9zM296.6 222.3h0.9v0.9h-0.9zM295.6 237.3h0.9v0.9h-0.9zM297.3 228.7h0.9v0.9h-0.9zM291.9 218.6h0.9v0.9h-0.9zM296.8 220.7h0.9v0.9h-0.9zM281.9 236.9h0.9v0.9h-0.9zM287.7 239.9h0.9v0.9h-0.9zM280.9 226.1h0.9v0.9h-0.9zM279.7 234.4h0.9v0.9h-0.9zM292.7 237.6h0.9v0.9h-0.9zM282.7 238.6h0.9v0.9h-0.9zM286.1 232.9h0.9v0.9h-0.9zM279.3 222.3h0.9v0.9h-0.9zM294.3 226.5h0.9v0.9h-0.9zM284.2 221.0h0.9v0.9h-0.9zM284.1 241.1h0.9v0.9h-0.9zM279.8 232.2h0.9v0.9h-0.9zM290.7 238.5h0.9v0.9h-0.9zM286.9 227.3h0.9v0.9h-0.9zM297.6 228.0h0.9v0.9h-0.9zM293.5 229.3h0.9v0.9h-0.9zM290.1 222.3h0.9v0.9h-0.9zM283.5 237.4h0.9v0.9h-0.9zM297.2 228.4h0.9v0.9h-0.9zM281.0 232.0h0.9v0.9h-0.9zM285.2 216.9h0.9v0.9h-0.9zM289.6 231.3h0.9v0.9h-0.9zM295.8 231.5h0.9v0.9h-0.9zM281.2 239.9h0.9v0.9h-0.9zM289.0 227.2h0.9v0.9h-0.9zM296.3 241.8h0.9v0.9h-0.9zM293.7 226.1h0.9v0.9h-0.9zM295.0 235.9h0.9v0.9h-0.9zM289.4 223.3h0.9v0.9h-0.9zM280.5 231.5h0.9v0.9h-0.9zM281.4 227.3h0.9v0.9h-0.9zM285.9 236.7h0.9v0.9h-0.9zM288.3 218.3h0.9v0.9h-0.9zM296.2 232.4h0.9v0.9h-0.9zM283.3 221.6h0.9v0.9h-0.9zM290.1 236.5h0.9v0.9h-0.9zM279.9 233.2h0.9v0.9h-0.9zM285.9 230.4h0.9v0.9h-0.9zM293.7 239.9h0.9v0.9h-0.9zM278.7 216.1h0.9v0.9h-0.9zM290.4 233.0h0.9v0.9h-0.9zM283.7 219.4h0.9v0.9h-0.9zM280.9 241.6h0.9v0.9h-0.9zM285.9 234.5h0.9v0.9h-0.9zM289.5 239.5h0.9v0.9h-0.9zM279.9 221.1h0.9v0.9h-0.9zM286.5 240.9h0.9v0.9h-0.9zM280.9 232.7h0.9v0.9h-0.9zM284.8 219.3h0.9v0.9h-0.9zM288.4 221.8h0.9v0.9h-0.9zM278.4 231.6h0.9v0.9h-0.9zM286.0 238.0h0.9v0.9h-0.9zM294.0 240.0h0.9v0.9h-0.9zM290.9 218.8h0.9v0.9h-0.9zM288.9 238.0h0.9v0.9h-0.9zM290.1 224.9h0.9v0.9h-0.9zM290.3 238.3h0.9v0.9h-0.9zM280.5 238.9h0.9v0.9h-0.9zM289.7 228.9h0.9v0.9h-0.9zM281.0 238.3h0.9v0.9h-0.9zM283.7 225.0h0.9v0.9h-0.9zM286.1 229.0h0.9v0.9h-0.9zM284.3 241.7h0.9v0.9h-0.9zM281.4 229.6h0.9v0.9h-0.9zM283.5 216.5h0.9v0.9h-0.9zM295.9 237.4h0.9v0.9h-0.9zM289.7 225.4h0.9v0.9h-0.9zM284.4 233.3h0.9v0.9h-0.9zM290.7 220.4h0.9v0.9h-0.9zM283.7 216.7h0.9v0.9h-0.9zM297.9 232.0h0.9v0.9h-0.9zM291.9 219.2h0.9v0.9h-0.9zM289.2 224.5h0.9v0.9h-0.9zM286.9 230.8h0.9v0.9h-0.9zM279.7 234.7h0.9v0.9h-0.9zM287.9 219.8h0.9v0.9h-0.9zM278.1 238.0h0.9v0.9h-0.9zM286.5 223.2h0.9v0.9h-0.9zM295.2 241.6h0.9v0.9h-0.9zM291.5 237.0h0.9v0.9h-0.9zM289.2 236.3h0.9v0.9h-0.9zM292.1 227.0h0.9v0.9h-0.9zM295.4 233.5h0.9v0.9h-0.9zM279.5 232.2h0.9v0.9h-0.9zM283.4 229.0h0.9v0.9h-0.9zM285.2 238.4h0.9v0.9h-0.9zM279.5 220.7h0.9v0.9h-0.9zM281.9 235.2h0.9v0.9h-0.9zM279.0 217.6h0.9v0.9h-0.9zM284.8 219.2h0.9v0.9h-0.9zM289.2 242.0h0.9v0.9h-0.9zM289.7 230.4h0.9v0.9h-0.9zM296.6 232.3h0.9v0.9h-0.9zM288.0 230.4h0.9v0.9h-0.9zM288.5 215.7h0.9v0.9h-0.9zM290.1 240.3h0.9v0.9h-0.9zM286.8 233.4h0.9v0.9h-0.9zM278.0 235.5h0.9v0.9h-0.9zM296.1 228.2h0.9v0.9h-0.9zM296.5 229.7h0.9v0.9h-0.9zM287.7 233.2h0.9v0.9h-0.9zM280.0 218.0h0.9v0.9h-0.9z"/>
<path fill="#7d7d7d" d="M282.3 217.9h0.9v0.9h-0.9zM280.3 223.8h0.9v0.9h-0.9zM288.9 217.3h0.9v0.9h-0.9zM289.7 227.7h0.9v0.9h-0.9zM285.1 231.9h0.9v0.9h-0.9zM297.1 219.6h0.9v0.9h-0.9zM287.6 226.3h0.9v0.9h-0.9zM284.8 222.7h0.9v0.9h-0.9zM288.3 239.9h0.9v0.9h-0.9zM288.6 236.4h0.9v0.9h-0.9zM290.2 236.7h0.9v0.9h-0.9zM294.0 237.4h0.9v0.9h-0.9zM297.7 241.1h0.9v0.9h-0.9zM280.4 226.0h0.9v0.9h-0.9zM286.0 240.9h0.9v0.9h-0.9zM293.5 231.8h0.9v0.9h-0.9zM293.6 218.4h0.9v0.9h-0.9zM284.5 241.6h0.9v0.9h-0.9zM290.8 225.4h0.9v0.9h-0.9zM285.9 228.6h0.9v0.9h-0.9zM279.7 222.9h0.9v0.9h-0.9zM289.9 234.1h0.9v0.9h-0.9zM294.8 221.9h0.9v0.9h-0.9zM290.3 232.8h0.9v0.9h-0.9zM284.5 224.6h0.9v0.9h-0.9zM287.7 239.9h0.9v0.9h-0.9zM292.7 233.0h0.9v0.9h-0.9zM284.0 230.5h0.9v0.9h-0.9zM286.5 230.2h0.9v0.9h-0.9zM280.5 229.0h0.9v0.9h-0.9zM279.7 236.3h0.9v0.9h-0.9zM295.6 232.9h0.9v0.9h-0.9zM279.3 228.8h0.9v0.9h-0.9zM280.2 232.3h0.9v0.9h-0.9zM297.9 240.5h0.9v0.9h-0.9zM285.0 241.1h0.9v0.9h-0.9zM293.7 240.0h0.9v0.9h-0.9zM279.6 220.9h0.9v0.9h-0.9zM297.7 241.6h0.9v0.9h-0.9zM283.2 227.3h0.9v0.9h-0.9zM279.0 231.6h0.9v0.9h-0.9zM280.1 231.5h0.9v0.9h-0.9zM288.9 232.7h0.9v0.9h-0.9zM286.1 239.2h0.9v0.9h-0.9zM281.4 224.9h0.9v0.9h-0.9zM296.4 218.5h0.9v0.9h-0.9zM296.0 232.2h0.9v0.9h-0.9zM294.8 237.7h0.9v0.9h-0.9zM280.4 222.2h0.9v0.9h-0.9zM281.9 241.8h0.9v0.9h-0.9zM288.1 224.1h0.9v0.9h-0.9zM295.8 235.2h0.9v0.9h-0.9zM294.5 219.8h0.9v0.9h-0.9zM292.1 227.6h0.9v0.9h-0.9zM278.9 229.8h0.9v0.9h-0.9zM289.0 240.7h0.9v0.9h-0.9zM295.8 217.9h0.9v0.9h-0.9zM283.2 221.9h0.9v0.9h-0.9zM296.2 240.8h0.9v0.9h-0.9zM280.0 218.2h0.9v0.9h-0.9zM284.9 218.2h0.9v0.9h-0.9zM288.3 231.0h0.9v0.9h-0.9zM290.9 224.9h0.9v0.9h-0.9zM294.4 232.1h0.9v0.9h-0.9zM292.4 231.7h0.9v0.9h-0.9zM297.8 220.0h0.9v0.9h-0.9zM292.0 231.3h0.9v0.9h-0.9zM278.8 230.1h0.9v0.9h-0.9zM288.4 226.6h0.9v0.9h-0.9zM281.8 232.7h0.9v0.9h-0.9zM287.3 223.5h0.9v0.9h-0.9zM293.5 228.1h0.9v0.9h-0.9zM294.5 239.8h0.9v0.9h-0.9zM290.1 231.0h0.9v0.9h-0.9zM295.6 230.4h0.9v0.9h-0.9zM281.3 231.6h0.9v0.9h-0.9zM294.1 218.1h0.9v0.9h-0.9zM279.0 223.6h0.9v0.9h-0.9zM289.8 242.1h0.9v0.9h-0.9zM292.3 222.1h0.9v0.9h-0.9zM284.6 231.8h0.9v0.9h-0.9zM290.0 223.8h0.9v0.9h-0.9zM285.5 233.9h0.9v0.9h-0.9zM284.4 229.1h0.9v0.9h-0.9zM289.5 225.2h0.9v0.9h-0.9zM297.2 222.4h0.9v0.9h-0.9zM279.8 240.2h0.9v0.9h-0.9zM280.0 224.1h0.9v0.9h-0.9zM285.5 225.7h0.9v0.9h-0.9zM296.2 239.4h0.9v0.9h-0.9zM287.0 239.3h0.9v0.9h-0.9zM282.3 230.9h0.9v0.9h-0.9zM292.1 237.3h0.9v0.9h-0.9zM282.8 218.0h0.9v0.9h-0.9zM286.1 219.3h0.9v0.9h-0.9zM280.9 230.9h0.9v0.9h-0.9zM280.2 220.6h0.9v0.9h-0.9zM295.9 217.9h0.9v0.9h-0.9zM294.3 216.4h0.9v0.9h-0.9zM284.4 224.3h0.9v0.9h-0.9zM288.4 242.0h0.9v0.9h-0.9zM286.3 233.4h0.9v0.9h-0.9zM294.9 228.9h0.9v0.9h-0.9zM290.6 229.6h0.9v0.9h-0.9zM295.3 239.5h0.9v0.9h-0.9zM289.4 226.6h0.9v0.9h-0.9zM282.8 226.0h0.9v0.9h-0.9zM294.4 225.0h0.9v0.9h-0.9zM280.6 220.8h0.9v0.9h-0.9zM289.0 228.1h0.9v0.9h-0.9zM288.0 221.7h0.9v0.9h-0.9zM285.8 217.9h0.9v0.9h-0.9zM296.2 237.1h0.9v0.9h-0.9zM279.3 223.9h0.9v0.9h-0.9zM293.4 239.2h0.9v0.9h-0.9zM290.5 229.2h0.9v0.9h-0.9zM286.5 229.3h0.9v0.9h-0.9zM294.4 230.5h0.9v0.9h-0.9zM297.3 232.6h0.9v0.9h-0.9zM286.5 240.7h0.9v0.9h-0.9zM289.9 227.9h0.9v0.9h-0.9zM280.3 223.3h0.9v0.9h-0.9zM290.5 219.4h0.9v0.9h-0.9zM291.3 237.7h0.9v0.9h-0.9zM288.6 232.5h0.9v0.9h-0.9zM281.7 233.5h0.9v0.9h-0.9zM294.5 226.1h0.9v0.9h-0.9zM296.4 233.6h0.9v0.9h-0.9zM296.9 216.0h0.9v0.9h-0.9zM285.2 229.7h0.9v0.9h-0.9zM284.3 224.6h0.9v0.9h-0.9zM278.7 230.6h0.9v0.9h-0.9zM293.8 236.8h0.9v0.9h-0.9zM295.8 237.2h0.9v0.9h-0.9zM286.1 226.2h0.9v0.9h-0.9zM288.9 235.9h0.9v0.9h-0.9zM292.0 221.4h0.9v0.9h-0.9zM287.7 231.9h0.9v0.9h-0.9zM296.2 233.6h0.9v0.9h-0.9zM284.6 228.6h0.9v0.9h-0.9zM284.4 231.9h0.9v0.9h-0.9zM285.2 236.4h0.9v0.9h-0.9zM295.6 241.8h0.9v0.9h-0.9zM282.0 232.4h0.9v0.9h-0.9zM279.3 218.5h0.9v0.9h-0.9zM285.0 221.3h0.9v0.9h-0.9zM294.0 239.6h0.9v0.9h-0.9zM281.4 225.4h0.9v0.9h-0.9zM291.8 227.6h0.9v0.9h-0.9zM284.8 225.8h0.9v0.9h-0.9zM292.3 222.9h0.9v0.9h-0.9zM286.6 231.8h0.9v0.9h-0.9zM285.7 231.1h0.9v0.9h-0.9zM281.5 217.3h0.9v0.9h-0.9z"/>
<path fill="#989898" d="M287.9 229.8h0.9v0.9h-0.9zM284.8 224.9h0.9v0.9h-0.9zM285.7 233.5h0.9v0.9h-0.9zM293.3 219.1h0.9v0.9h-0.9zM296.2 228.9h0.9v0.9h-0.9zM283.5 226.7h0.9v0.9h-0.9zM290.2 217.5h0.9v0.9h-0.9zM287.4 218.7h0.9v0.9h-0.9zM280.0 228.2h0.9v0.9h-0.9zM290.4 239.6h0.9v0.9h-0.9zM279.7 240.9h0.9v0.9h-0.9zM297.8 216.3h0.9v0.9h-0.9zM290.9 229.7h0.9v0.9h-0.9zM280.6 219.7h0.9v0.9h-0.9zM279.2 233.8h0.9v0.9h-0.9zM281.8 216.7h0.9v0.9h-0.9zM289.2 235.9h0.9v0.9h-0.9zM291.8 227.7h0.9v0.9h-0.9zM296.4 239.4h0.9v0.9h-0.9zM290.5 229.8h0.9v0.9h-0.9zM289.0 220.7h0.9v0.9h-0.9zM280.1 237.5h0.9v0.9h-0.9zM280.6 225.2h0.9v0.9h-0.9zM292.7 241.7h0.9v0.9h-0.9zM297.4 218.3h0.9v0.9h-0.9zM283.8 229.4h0.9v0.9h-0.9zM297.5 240.6h0.9v0.9h-0.9zM287.7 216.3h0.9v0.9h-0.9zM291.6 226.4h0.9v0.9h-0.9zM284.3 236.2h0.9v0.9h-0.9zM290.8 217.6h0.9v0.9h-0.9zM289.0 227.7h0.9v0.9h-0.9zM294.1 221.0h0.9v0.9h-0.9zM280.5 227.0h0.9v0.9h-0.9zM296.7 234.9h0.9v0.9h-0.9zM297.2 232.3h0.9v0.9h-0.9zM297.1 232.8h0.9v0.9h-0.9zM288.5 230.2h0.9v0.9h-0.9zM292.0 223.8h0.9v0.9h-0.9zM291.8 234.8h0.9v0.9h-0.9zM280.8 217.0h0.9v0.9h-0.9zM285.6 236.1h0.9v0.9h-0.9zM296.3 220.8h0.9v0.9h-0.9zM278.6 226.6h0.9v0.9h-0.9zM280.1 234.7h0.9v0.9h-0.9zM283.3 217.8h0.9v0.9h-0.9zM280.0 228.3h0.9v0.9h-0.9zM280.6 217.0h0.9v0.9h-0.9zM284.0 238.0h0.9v0.9h-0.9zM291.3 224.3h0.9v0.9h-0.9zM288.9 232.3h0.9v0.9h-0.9zM293.5 227.8h0.9v0.9h-0.9zM284.0 229.6h0.9v0.9h-0.9zM288.3 232.8h0.9v0.9h-0.9zM290.5 242.1h0.9v0.9h-0.9zM292.8 228.0h0.9v0.9h-0.9zM279.7 235.7h0.9v0.9h-0.9zM296.1 236.1h0.9v0.9h-0.9zM294.9 232.1h0.9v0.9h-0.9zM278.6 229.4h0.9v0.9h-0.9zM283.2 239.7h0.9v0.9h-0.9zM290.0 226.4h0.9v0.9h-0.9zM283.5 226.3h0.9v0.9h-0.9zM297.3 242.1h0.9v0.9h-0.9zM285.0 232.7h0.9v0.9h-0.9zM283.3 225.6h0.9v0.9h-0.9zM285.1 233.1h0.9v0.9h-0.9zM293.4 224.9h0.9v0.9h-0.9zM294.5 228.2h0.9v0.9h-0.9zM287.3 219.5h0.9v0.9h-0.9zM295.4 224.8h0.9v0.9h-0.9zM289.2 222.5h0.9v0.9h-0.9zM296.3 227.5h0.9v0.9h-0.9zM287.4 239.5h0.9v0.9h-0.9zM285.7 223.9h0.9v0.9h-0.9zM285.2 232.8h0.9v0.9h-0.9zM288.7 225.1h0.9v0.9h-0.9zM280.8 227.5h0.9v0.9h-0.9zM283.7 225.2h0.9v0.9h-0.9zM279.6 217.9h0.9v0.9h-0.9zM283.8 218.5h0.9v0.9h-0.9zM292.3 216.8h0.9v0.9h-0.9zM288.0 216.2h0.9v0.9h-0.9zM290.4 222.3h0.9v0.9h-0.9zM286.8 229.3h0.9v0.9h-0.9zM287.2 230.2h0.9v0.9h-0.9zM279.9 238.5h0.9v0.9h-0.9zM290.1 225.7h0.9v0.9h-0.9zM288.7 237.0h0.9v0.9h-0.9zM296.3 236.3h0.9v0.9h-0.9zM288.3 229.4h0.9v0.9h-0.9zM287.2 216.7h0.9v0.9h-0.9zM281.1 220.6h0.9v0.9h-0.9zM294.3 242.0h0.9v0.9h-0.9zM285.5 215.8h0.9v0.9h-0.9zM289.2 218.7h0.9v0.9h-0.9zM284.7 233.0h0.9v0.9h-0.9zM281.2 225.0h0.9v0.9h-0.9zM290.5 231.1h0.9v0.9h-0.9zM296.7 242.2h0.9v0.9h-0.9zM288.2 230.1h0.9v0.9h-0.9zM294.3 226.3h0.9v0.9h-0.9zM292.9 217.9h0.9v0.9h-0.9zM279.4 215.9h0.9v0.9h-0.9zM283.3 232.8h0.9v0.9h-0.9zM286.0 216.9h0.9v0.9h-0.9zM292.6 239.9h0.9v0.9h-0.9zM290.5 241.2h0.9v0.9h-0.9zM285.8 228.3h0.9v0.9h-0.9zM290.6 235.0h0.9v0.9h-0.9zM280.7 215.8h0.9v0.9h-0.9zM290.2 236.3h0.9v0.9h-0.9zM287.9 232.6h0.9v0.9h-0.9zM293.1 232.8h0.9v0.9h-0.9zM286.2 232.7h0.9v0.9h-0.9zM292.3 226.3h0.9v0.9h-0.9zM285.6 219.6h0.9v0.9h-0.9zM295.3 216.8h0.9v0.9h-0.9zM287.0 217.9h0.9v0.9h-0.9zM283.3 227.3h0.9v0.9h-0.9zM290.3 225.5h0.9v0.9h-0.9zM285.5 216.7h0.9v0.9h-0.9zM291.2 224.4h0.9v0.9h-0.9zM293.1 216.3h0.9v0.9h-0.9zM296.6 234.3h0.9v0.9h-0.9z"/>
<path fill="#8a8a8a" d="M297.5 218.8h0.9v0.9h-0.9zM279.5 230.5h0.9v0.9h-0.9zM278.0 219.6h0.9v0.9h-0.9zM281.0 222.3h0.9v0.9h-0.9zM283.9 232.8h0.9v0.9h-0.9zM287.5 220.4h0.9v0.9h-0.9zM288.1 222.2h0.9v0.9h-0.9zM291.4 227.0h0.9v0.9h-0.9zM281.2 227.1h0.9v0.9h-0.9zM286.4 225.1h0.9v0.9h-0.9zM283.4 216.0h0.9v0.9h-0.9zM287.0 224.7h0.9v0.9h-0.9zM297.3 222.6h0.9v0.9h-0.9zM288.9 239.3h0.9v0.9h-0.9zM291.2 225.8h0.9v0.9h-0.9zM281.1 227.5h0.9v0.9h-0.9zM297.4 230.2h0.9v0.9h-0.9zM280.9 231.3h0.9v0.9h-0.9zM289.3 215.9h0.9v0.9h-0.9zM293.3 242.1h0.9v0.9h-0.9zM279.5 229.1h0.9v0.9h-0.9zM289.6 219.4h0.9v0.9h-0.9zM292.2 239.7h0.9v0.9h-0.9zM286.2 232.0h0.9v0.9h-0.9zM284.8 218.0h0.9v0.9h-0.9zM285.6 235.5h0.9v0.9h-0.9zM284.7 217.3h0.9v0.9h-0.9zM282.6 240.2h0.9v0.9h-0.9zM278.0 230.0h0.9v0.9h-0.9zM282.6 221.5h0.9v0.9h-0.9zM291.0 229.6h0.9v0.9h-0.9zM291.2 225.7h0.9v0.9h-0.9zM283.1 235.6h0.9v0.9h-0.9zM283.2 234.7h0.9v0.9h-0.9zM288.7 236.3h0.9v0.9h-0.9zM281.1 239.2h0.9v0.9h-0.9zM278.7 224.7h0.9v0.9h-0.9zM295.6 226.7h0.9v0.9h-0.9zM278.8 240.7h0.9v0.9h-0.9zM284.1 222.3h0.9v0.9h-0.9zM286.0 217.4h0.9v0.9h-0.9zM278.8 219.1h0.9v0.9h-0.9zM291.7 234.9h0.9v0.9h-0.9zM286.0 232.6h0.9v0.9h-0.9zM280.3 229.8h0.9v0.9h-0.9zM290.5 226.1h0.9v0.9h-0.9zM285.5 225.5h0.9v0.9h-0.9zM297.1 223.5h0.9v0.9h-0.9zM291.0 216.2h0.9v0.9h-0.9zM295.3 236.5h0.9v0.9h-0.9zM294.2 220.3h0.9v0.9h-0.9zM286.7 234.9h0.9v0.9h-0.9zM283.9 224.6h0.9v0.9h-0.9zM283.1 223.1h0.9v0.9h-0.9zM286.4 232.8h0.9v0.9h-0.9zM295.3 227.6h0.9v0.9h-0.9zM297.5 223.5h0.9v0.9h-0.9zM282.1 228.3h0.9v0.9h-0.9zM292.5 232.0h0.9v0.9h-0.9zM291.5 228.5h0.9v0.9h-0.9zM286.5 232.6h0.9v0.9h-0.9zM278.2 241.0h0.9v0.9h-0.9zM278.4 216.8h0.9v0.9h-0.9zM278.7 234.8h0.9v0.9h-0.9zM289.0 240.0h0.9v0.9h-0.9zM286.4 230.4h0.9v0.9h-0.9zM285.1 228.8h0.9v0.9h-0.9zM293.8 224.4h0.9v0.9h-0.9zM278.3 238.9h0.9v0.9h-0.9zM282.3 218.8h0.9v0.9h-0.9zM289.1 228.9h0.9v0.9h-0.9zM287.5 236.4h0.9v0.9h-0.9zM294.1 223.2h0.9v0.9h-0.9zM281.8 220.4h0.9v0.9h-0.9zM285.4 228.0h0.9v0.9h-0.9zM287.7 230.7h0.9v0.9h-0.9zM297.7 221.5h0.9v0.9h-0.9zM294.8 232.4h0.9v0.9h-0.9zM284.4 221.8h0.9v0.9h-0.9zM283.3 226.6h0.9v0.9h-0.9zM289.4 223.5h0.9v0.9h-0.9zM283.1 221.0h0.9v0.9h-0.9zM297.9 240.3h0.9v0.9h-0.9zM286.3 219.9h0.9v0.9h-0.9zM296.2 229.4h0.9v0.9h-0.9zM283.3 220.6h0.9v0.9h-0.9zM280.4 234.7h0.9v0.9h-0.9zM278.4 240.3h0.9v0.9h-0.9zM285.9 240.7h0.9v0.9h-0.9zM279.1 229.4h0.9v0.9h-0.9zM283.0 226.9h0.9v0.9h-0.9zM282.7 216.7h0.9v0.9h-0.9zM282.4 225.9h0.9v0.9h-0.9zM284.4 238.1h0.9v0.9h-0.9zM278.5 222.4h0.9v0.9h-0.9zM286.8 232.3h0.9v0.9h-0.9zM291.8 235.5h0.9v0.9h-0.9zM281.5 233.1h0.9v0.9h-0.9zM284.1 234.0h0.9v0.9h-0.9zM281.9 228.9h0.9v0.9h-0.9zM293.3 224.2h0.9v0.9h-0.9zM293.8 222.1h0.9v0.9h-0.9zM287.3 224.8h0.9v0.9h-0.9zM291.9 222.2h0.9v0.9h-0.9zM296.0 218.2h0.9v0.9h-0.9zM286.1 231.8h0.9v0.9h-0.9zM279.8 240.9h0.9v0.9h-0.9zM288.3 227.5h0.9v0.9h-0.9zM292.0 227.6h0.9v0.9h-0.9zM278.6 236.3h0.9v0.9h-0.9zM290.3 225.7h0.9v0.9h-0.9zM284.4 225.4h0.9v0.9h-0.9zM294.9 228.4h0.9v0.9h-0.9zM284.9 220.8h0.9v0.9h-0.9zM279.6 237.2h0.9v0.9h-0.9zM290.1 223.5h0.9v0.9h-0.9zM287.6 232.9h0.9v0.9h-0.9zM289.5 230.4h0.9v0.9h-0.9zM284.8 236.0h0.9v0.9h-0.9zM280.4 225.6h0.9v0.9h-0.9zM293.9 220.5h0.9v0.9h-0.9zM295.4 230.0h0.9v0.9h-0.9zM289.7 216.8h0.9v0.9h-0.9zM292.5 224.4h0.9v0.9h-0.9zM293.4 232.5h0.9v0.9h-0.9zM284.4 242.0h0.9v0.9h-0.9zM289.7 219.4h0.9v0.9h-0.9zM292.5 230.3h0.9v0.9h-0.9zM281.6 231.1h0.9v0.9h-0.9zM294.7 224.1h0.9v0.9h-0.9zM283.1 228.0h0.9v0.9h-0.9zM293.4 241.7h0.9v0.9h-0.9zM285.2 229.7h0.9v0.9h-0.9zM278.2 228.3h0.9v0.9h-0.9zM295.0 236.4h0.9v0.9h-0.9zM290.5 221.6h0.9v0.9h-0.9zM292.1 222.1h0.9v0.9h-0.9zM282.3 230.8h0.9v0.9h-0.9zM280.7 223.7h0.9v0.9h-0.9zM292.6 222.9h0.9v0.9h-0.9zM284.5 216.7h0.9v0.9h-0.9zM291.2 240.3h0.9v0.9h-0.9zM285.3 233.3h0.9v0.9h-0.9zM293.1 219.6h0.9v0.9h-0.9zM278.0 222.5h0.9v0.9h-0.9zM295.1 221.0h0.9v0.9h-0.9zM282.0 230.1h0.9v0.9h-0.9zM287.0 237.6h0.9v0.9h-0.9z"/>
<path fill="#b2b2b2" d="M281.0 228.7h0.9v0.9h-0.9zM279.4 218.1h0.9v0.9h-0.9zM291.2 217.2h0.9v0.9h-0.9zM289.5 233.8h0.9v0.9h-0.9zM285.3 230.7h0.9v0.9h-0.9zM295.1 241.0h0.9v0.9h-0.9zM279.1 239.6h0.9v0.9h-0.9zM287.6 223.9h0.9v0.9h-0.9zM296.1 224.8h0.9v0.9h-0.9zM288.9 216.2h0.9v0.9h-0.9zM293.6 239.6h0.9v0.9h-0.9zM283.4 219.1h0.9v0.9h-0.9zM291.7 241.8h0.9v0.9h-0.9zM297.5 237.9h0.9v0.9h-0.9zM293.6 231.5h0.9v0.9h-0.9zM294.4 231.2h0.9v0.9h-0.9zM289.1 232.4h0.9v0.9h-0.9zM292.9 229.0h0.9v0.9h-0.9zM283.6 217.0h0.9v0.9h-0.9zM288.9 234.8h0.9v0.9h-0.9zM287.4 224.8h0.9v0.9h-0.9zM279.8 239.5h0.9v0.9h-0.9zM283.9 234.9h0.9v0.9h-0.9zM286.3 232.2h0.9v0.9h-0.9zM283.8 230.7h0.9v0.9h-0.9zM287.6 226.5h0.9v0.9h-0.9zM285.9 222.8h0.9v0.9h-0.9zM297.2 227.7h0.9v0.9h-0.9zM293.2 227.4h0.9v0.9h-0.9zM290.7 241.9h0.9v0.9h-0.9zM281.5 242.2h0.9v0.9h-0.9zM278.8 224.6h0.9v0.9h-0.9zM296.8 222.6h0.9v0.9h-0.9zM284.5 222.0h0.9v0.9h-0.9zM291.9 216.4h0.9v0.9h-0.9zM282.0 216.5h0.9v0.9h-0.9zM296.7 221.8h0.9v0.9h-0.9zM282.6 224.5h0.9v0.9h-0.9zM282.7 220.7h0.9v0.9h-0.9zM284.5 220.7h0.9v0.9h-0.9zM285.6 241.9h0.9v0.9h-0.9zM291.3 233.0h0.9v0.9h-0.9zM291.9 238.4h0.9v0.9h-0.9zM280.5 227.1h0.9v0.9h-0.9zM279.9 226.8h0.9v0.9h-0.9zM288.3 233.3h0.9v0.9h-0.9zM282.2 219.1h0.9v0.9h-0.9zM288.6 224.8h0.9v0.9h-0.9zM293.7 238.0h0.9v0.9h-0.9zM282.2 217.7h0.9v0.9h-0.9zM294.7 228.1h0.9v0.9h-0.9zM283.9 228.0h0.9v0.9h-0.9zM280.9 233.6h0.9v0.9h-0.9zM279.7 216.7h0.9v0.9h-0.9zM294.4 236.3h0.9v0.9h-0.9zM287.5 226.6h0.9v0.9h-0.9zM296.4 225.4h0.9v0.9h-0.9zM295.0 235.1h0.9v0.9h-0.9zM288.7 228.5h0.9v0.9h-0.9zM296.5 221.8h0.9v0.9h-0.9zM295.2 232.7h0.9v0.9h-0.9zM297.1 222.5h0.9v0.9h-0.9zM291.5 223.6h0.9v0.9h-0.9zM279.5 232.1h0.9v0.9h-0.9zM280.8 221.5h0.9v0.9h-0.9zM281.1 229.3h0.9v0.9h-0.9zM293.1 220.3h0.9v0.9h-0.9zM278.2 234.1h0.9v0.9h-0.9zM286.1 236.0h0.9v0.9h-0.9zM278.7 232.7h0.9v0.9h-0.9zM289.5 222.9h0.9v0.9h-0.9zM283.3 232.4h0.9v0.9h-0.9zM289.1 225.9h0.9v0.9h-0.9zM288.0 220.6h0.9v0.9h-0.9zM289.2 218.4h0.9v0.9h-0.9zM286.6 237.0h0.9v0.9h-0.9zM291.2 224.7h0.9v0.9h-0.9zM288.2 219.0h0.9v0.9h-0.9zM296.6 220.3h0.9v0.9h-0.9zM291.7 239.5h0.9v0.9h-0.9zM281.1 235.3h0.9v0.9h-0.9zM287.9 229.5h0.9v0.9h-0.9zM291.6 224.9h0.9v0.9h-0.9zM291.8 235.3h0.9v0.9h-0.9zM282.0 223.9h0.9v0.9h-0.9zM290.8 232.4h0.9v0.9h-0.9zM291.9 233.0h0.9v0.9h-0.9zM285.3 241.3h0.9v0.9h-0.9zM281.4 236.5h0.9v0.9h-0.9zM289.3 232.4h0.9v0.9h-0.9zM285.5 215.7h0.9v0.9h-0.9zM288.3 227.0h0.9v0.9h-0.9zM291.5 227.5h0.9v0.9h-0.9zM282.5 241.5h0.9v0.9h-0.9zM297.7 221.0h0.9v0.9h-0.9zM289.4 231.2h0.9v0.9h-0.9zM291.6 223.7h0.9v0.9h-0.9zM292.2 224.5h0.9v0.9h-0.9zM282.2 224.3h0.9v0.9h-0.9zM279.1 226.7h0.9v0.9h-0.9zM285.1 225.3h0.9v0.9h-0.9zM289.4 221.7h0.9v0.9h-0.9zM287.5 216.4h0.9v0.9h-0.9zM285.3 219.6h0.9v0.9h-0.9zM289.2 226.5h0.9v0.9h-0.9zM289.5 239.2h0.9v0.9h-0.9zM288.9 234.0h0.9v0.9h-0.9zM292.5 242.1h0.9v0.9h-0.9zM280.3 238.1h0.9v0.9h-0.9zM279.0 234.1h0.9v0.9h-0.9zM284.8 230.2h0.9v0.9h-0.9zM285.8 229.7h0.9v0.9h-0.9zM294.4 227.9h0.9v0.9h-0.9zM285.6 229.6h0.9v0.9h-0.9zM288.2 237.6h0.9v0.9h-0.9z"/>
<path fill="#999" d="M278.3 217.2h0.9v0.9h-0.9zM278.7 237.1h0.9v0.9h-0.9zM278.0 224.5h0.9v0.9h-0.9zM278.7 220.7h0.9v0.9h-0.9zM278.6 236.7h0.9v0.9h-0.9zM278.3 234.3h0.9v0.9h-0.9zM277.9 224.0h0.9v0.9h-0.9zM278.1 234.3h0.9v0.9h-0.9zM278.4 226.4h0.9v0.9h-0.9zM278.3 233.4h0.9v0.9h-0.9zM278.5 236.7h0.9v0.9h-0.9zM278.6 219.6h0.9v0.9h-0.9zM278.0 217.3h0.9v0.9h-0.9zM278.1 221.9h0.9v0.9h-0.9zM278.5 234.3h0.9v0.9h-0.9zM278.3 221.4h0.9v0.9h-0.9zM278.7 241.7h0.9v0.9h-0.9zM296.5 242.2h0.9v0.9h-0.9zM289.5 241.6h0.9v0.9h-0.9zM290.9 241.5h0.9v0.9h-0.9zM294.7 241.5h0.9v0.9h-0.9zM287.3 241.5h0.9v0.9h-0.9z"/>
<path fill="#777" d="M278.5 237.8h0.9v0.9h-0.9zM278.4 223.8h0.9v0.9h-0.9zM278.1 221.1h0.9v0.9h-0.9zM278.4 234.3h0.9v0.9h-0.9zM278.2 236.7h0.9v0.9h-0.9zM278.3 238.7h0.9v0.9h-0.9zM278.0 238.2h0.9v0.9h-0.9zM277.9 238.3h0.9v0.9h-0.9zM278.6 228.8h0.9v0.9h-0.9zM278.6 230.4h0.9v0.9h-0.9zM278.1 218.4h0.9v0.9h-0.9zM278.1 218.2h0.9v0.9h-0.9zM278.7 226.0h0.9v0.9h-0.9zM282.4 241.8h0.9v0.9h-0.9zM281.9 241.5h0.9v0.9h-0.9zM286.5 241.9h0.9v0.9h-0.9zM278.3 242.0h0.9v0.9h-0.9zM289.9 241.8h0.9v0.9h-0.9zM281.9 241.8h0.9v0.9h-0.9zM279.8 241.8h0.9v0.9h-0.9zM289.9 241.8h0.9v0.9h-0.9zM291.2 241.5h0.9v0.9h-0.9zM291.2 241.5h0.9v0.9h-0.9zM284.0 241.6h0.9v0.9h-0.9zM278.7 241.6h0.9v0.9h-0.9z"/>
<path fill="#888" d="M278.1 222.6h0.9v0.9h-0.9zM278.2 233.1h0.9v0.9h-0.9zM278.3 229.1h0.9v0.9h-0.9zM278.1 232.8h0.9v0.9h-0.9zM278.0 240.6h0.9v0.9h-0.9zM277.9 221.5h0.9v0.9h-0.9zM278.2 233.0h0.9v0.9h-0.9zM278.5 227.3h0.9v0.9h-0.9zM278.0 220.0h0.9v0.9h-0.9zM278.0 239.6h0.9v0.9h-0.9zM278.2 219.9h0.9v0.9h-0.9zM288.5 241.6h0.9v0.9h-0.9zM281.9 241.6h0.9v0.9h-0.9zM289.9 242.2h0.9v0.9h-0.9zM281.8 241.5h0.9v0.9h-0.9zM278.9 241.7h0.9v0.9h-0.9zM287.6 241.7h0.9v0.9h-0.9zM281.5 242.0h0.9v0.9h-0.9zM294.2 242.0h0.9v0.9h-0.9zM278.7 241.9h0.9v0.9h-0.9zM294.8 242.1h0.9v0.9h-0.9zM295.6 241.5h0.9v0.9h-0.9zM283.3 241.8h0.9v0.9h-0.9z"/>
<path fill="#c8c8c8" d="M330.7 237.1h0.9v0.9h-0.9zM304.2 230.9h0.9v0.9h-0.9zM331.2 211.6h0.9v0.9h-0.9zM330.4 191.5h0.9v0.9h-0.9zM295.9 192.9h0.9v0.9h-0.9zM312.1 199.8h0.9v0.9h-0.9zM322.4 231.5h0.9v0.9h-0.9zM287.1 209.6h0.9v0.9h-0.9zM318.0 220.5h0.9v0.9h-0.9zM324.8 219.5h0.9v0.9h-0.9zM325.5 191.9h0.9v0.9h-0.9zM319.9 231.0h0.9v0.9h-0.9zM299.9 193.9h0.9v0.9h-0.9zM313.9 230.9h0.9v0.9h-0.9zM311.3 205.4h0.9v0.9h-0.9zM309.2 206.6h0.9v0.9h-0.9zM309.1 203.9h0.9v0.9h-0.9zM311.9 207.4h0.9v0.9h-0.9zM320.3 201.7h0.9v0.9h-0.9zM319.2 200.3h0.9v0.9h-0.9zM309.2 203.8h0.9v0.9h-0.9zM307.7 210.0h0.9v0.9h-0.9zM327.9 201.3h0.9v0.9h-0.9zM324.5 196.5h0.9v0.9h-0.9zM324.4 195.3h0.9v0.9h-0.9zM310.6 206.9h0.9v0.9h-0.9zM316.6 199.4h0.9v0.9h-0.9zM314.7 204.4h0.9v0.9h-0.9zM308.4 202.3h0.9v0.9h-0.9zM317.9 204.9h0.9v0.9h-0.9zM307.8 208.2h0.9v0.9h-0.9zM312.9 206.7h0.9v0.9h-0.9zM320.1 201.5h0.9v0.9h-0.9zM305.9 206.8h0.9v0.9h-0.9zM309.5 205.8h0.9v0.9h-0.9z"/>
<path fill="#d0d0d0" d="M324.5 215.7h0.9v0.9h-0.9zM305.8 204.7h0.9v0.9h-0.9zM319.9 226.7h0.9v0.9h-0.9zM302.8 237.7h0.9v0.9h-0.9zM320.0 191.0h0.9v0.9h-0.9zM319.1 200.0h0.9v0.9h-0.9zM314.7 226.6h0.9v0.9h-0.9zM314.0 228.5h0.9v0.9h-0.9zM318.1 233.9h0.9v0.9h-0.9zM288.9 213.4h0.9v0.9h-0.9z"/>
<path fill="#d8d8d8" d="M283.0 198.3h0.9v0.9h-0.9zM321.9 193.1h0.9v0.9h-0.9zM319.3 198.5h0.9v0.9h-0.9zM331.2 230.9h0.9v0.9h-0.9zM281.1 208.5h0.9v0.9h-0.9zM296.9 197.8h0.9v0.9h-0.9zM294.4 192.1h0.9v0.9h-0.9zM319.9 235.1h0.9v0.9h-0.9zM328.4 195.4h0.9v0.9h-0.9zM319.3 207.3h0.9v0.9h-0.9zM309.9 233.3h0.9v0.9h-0.9zM279.3 195.1h0.9v0.9h-0.9zM300.5 221.1h0.9v0.9h-0.9z"/>
<path fill="#cccccc" d="M281.2 212.2h0.9v0.9h-0.9zM291.8 203.1h0.9v0.9h-0.9zM285.6 210.6h0.9v0.9h-0.9zM296.7 211.4h0.9v0.9h-0.9zM281.6 209.4h0.9v0.9h-0.9zM284.3 207.9h0.9v0.9h-0.9zM296.4 213.4h0.9v0.9h-0.9zM296.1 207.9h0.9v0.9h-0.9zM291.1 208.8h0.9v0.9h-0.9zM283.5 211.2h0.9v0.9h-0.9zM285.3 210.8h0.9v0.9h-0.9zM295.1 212.3h0.9v0.9h-0.9zM296.5 207.2h0.9v0.9h-0.9zM290.7 213.8h0.9v0.9h-0.9zM286.4 206.9h0.9v0.9h-0.9zM290.8 211.8h0.9v0.9h-0.9z"/>
<path fill="#b5b5b5" d="M294.5 213.3h0.9v0.9h-0.9zM289.2 210.2h0.9v0.9h-0.9zM280.3 208.3h0.9v0.9h-0.9zM296.3 209.0h0.9v0.9h-0.9zM279.5 211.2h0.9v0.9h-0.9zM287.0 212.5h0.9v0.9h-0.9zM282.0 211.3h0.9v0.9h-0.9zM288.1 211.3h0.9v0.9h-0.9z"/>
<path fill="#c0c0c0" d="M279.0 207.4h0.9v0.9h-0.9zM286.2 210.9h0.9v0.9h-0.9zM291.4 213.1h0.9v0.9h-0.9zM296.7 201.9h0.9v0.9h-0.9zM294.8 213.3h0.9v0.9h-0.9zM285.9 206.0h0.9v0.9h-0.9zM292.4 213.7h0.9v0.9h-0.9zM297.0 209.9h0.9v0.9h-0.9zM295.4 212.9h0.9v0.9h-0.9zM281.0 205.7h0.9v0.9h-0.9zM290.4 213.4h0.9v0.9h-0.9z"/>
<path fill="#bcbcbc" d="M311.1 206.6h0.9v0.9h-0.9zM306.4 204.6h0.9v0.9h-0.9zM319.6 200.8h0.9v0.9h-0.9zM314.2 197.3h0.9v0.9h-0.9zM323.6 197.6h0.9v0.9h-0.9zM307.1 211.5h0.9v0.9h-0.9zM322.6 197.5h0.9v0.9h-0.9zM314.7 198.3h0.9v0.9h-0.9zM311.0 203.2h0.9v0.9h-0.9zM320.4 206.8h0.9v0.9h-0.9zM315.9 201.3h0.9v0.9h-0.9zM324.6 199.9h0.9v0.9h-0.9zM322.6 204.6h0.9v0.9h-0.9z"/>
<path fill="#d4d4d4" d="M318.3 198.7h0.9v0.9h-0.9zM322.3 201.3h0.9v0.9h-0.9zM325.2 197.7h0.9v0.9h-0.9zM323.0 203.8h0.9v0.9h-0.9zM306.7 207.9h0.9v0.9h-0.9zM312.3 204.7h0.9v0.9h-0.9zM306.6 203.6h0.9v0.9h-0.9zM313.7 206.8h0.9v0.9h-0.9zM303.6 205.2h0.9v0.9h-0.9zM303.8 207.4h0.9v0.9h-0.9zM313.3 203.6h0.9v0.9h-0.9zM316.2 207.5h0.9v0.9h-0.9zM311.6 208.2h0.9v0.9h-0.9zM327.8 195.6h0.9v0.9h-0.9zM320.5 200.7h0.9v0.9h-0.9zM322.0 199.0h0.9v0.9h-0.9z"/>
</g>
<line x1="298.5" y1="188.3" x2="298.5" y2="242.9" stroke="#888" stroke-width="0.8"/>
<line x1="277.4" y1="214.8" x2="332.3" y2="214.8" stroke="#888" stroke-width="0.8"/>
<text x="328.6" y="196.75" font-size="6.8" text-anchor="end" textLength="8.9" lengthAdjust="spacingAndGlyphs" fill="#444" stroke="#444" stroke-width="0.2">2.2</text>
<text x="278.59999999999997" y="191.9" font-size="3" fill="#999">UL</text>
<text x="331.1" y="241.70000000000002" font-size="3" text-anchor="end" fill="#999">LR</text>
<rect x="340.0" y="188.3" width="54.6" height="54.5" fill="#fff" stroke="#aaa" stroke-width="0.8"/>
<g filter="url(#bl)">
<path fill="#7d7d7d" d="M349.1 221.0h0.9v0.9h-0.9zM351.4 228.0h0.9v0.9h-0.9zM352.2 217.5h0.9v0.9h-0.9zM340.7 230.7h0.9v0.9h-0.9zM341.5 222.1h0.9v0.9h-0.9zM353.5 230.6h0.9v0.9h-0.9zM343.5 231.8h0.9v0.9h-0.9zM356.9 216.5h0.9v0.9h-0.9zM354.4 227.2h0.9v0.9h-0.9zM357.7 235.9h0.9v0.9h-0.9zM351.4 234.6h0.9v0.9h-0.9zM351.4 223.0h0.9v0.9h-0.9zM355.8 222.5h0.9v0.9h-0.9zM357.8 228.1h0.9v0.9h-0.9zM344.7 222.8h0.9v0.9h-0.9zM353.0 232.6h0.9v0.9h-0.9zM347.7 238.2h0.9v0.9h-0.9zM356.8 218.1h0.9v0.9h-0.9zM345.0 222.8h0.9v0.9h-0.9zM341.0 218.8h0.9v0.9h-0.9zM341.8 217.2h0.9v0.9h-0.9zM342.4 233.3h0.9v0.9h-0.9zM353.9 232.0h0.9v0.9h-0.9zM359.6 242.1h0.9v0.9h-0.9zM346.7 223.5h0.9v0.9h-0.9zM343.2 218.6h0.9v0.9h-0.9zM356.4 231.7h0.9v0.9h-0.9zM342.7 237.3h0.9v0.9h-0.9zM343.5 238.4h0.9v0.9h-0.9zM352.5 226.2h0.9v0.9h-0.9zM356.1 242.0h0.9v0.9h-0.9zM347.1 237.5h0.9v0.9h-0.9zM349.7 228.0h0.9v0.9h-0.9zM346.9 216.5h0.9v0.9h-0.9zM356.4 236.6h0.9v0.9h-0.9zM346.4 224.5h0.9v0.9h-0.9zM350.1 235.7h0.9v0.9h-0.9zM352.3 225.8h0.9v0.9h-0.9zM358.0 241.0h0.9v0.9h-0.9zM343.8 236.5h0.9v0.9h-0.9zM350.6 220.4h0.9v0.9h-0.9zM349.7 221.0h0.9v0.9h-0.9zM343.7 234.0h0.9v0.9h-0.9zM359.3 239.7h0.9v0.9h-0.9zM351.2 240.1h0.9v0.9h-0.9zM348.0 218.3h0.9v0.9h-0.9zM352.8 218.8h0.9v0.9h-0.9zM344.4 225.2h0.9v0.9h-0.9zM359.8 234.4h0.9v0.9h-0.9zM358.3 230.6h0.9v0.9h-0.9zM356.9 225.4h0.9v0.9h-0.9zM349.7 218.9h0.9v0.9h-0.9zM353.1 237.9h0.9v0.9h-0.9zM343.8 240.3h0.9v0.9h-0.9zM342.9 224.2h0.9v0.9h-0.9zM346.1 224.5h0.9v0.9h-0.9zM354.0 228.5h0.9v0.9h-0.9zM350.9 220.6h0.9v0.9h-0.9zM342.7 235.5h0.9v0.9h-0.9zM348.0 225.6h0.9v0.9h-0.9zM347.5 239.6h0.9v0.9h-0.9zM344.6 222.6h0.9v0.9h-0.9zM341.9 218.0h0.9v0.9h-0.9zM349.0 233.2h0.9v0.9h-0.9zM356.6 220.1h0.9v0.9h-0.9zM340.7 218.2h0.9v0.9h-0.9zM353.6 231.9h0.9v0.9h-0.9zM359.8 240.0h0.9v0.9h-0.9zM356.1 230.1h0.9v0.9h-0.9zM354.0 222.6h0.9v0.9h-0.9zM346.4 235.2h0.9v0.9h-0.9zM358.2 240.4h0.9v0.9h-0.9zM344.6 240.8h0.9v0.9h-0.9zM343.3 230.4h0.9v0.9h-0.9zM344.9 238.7h0.9v0.9h-0.9zM342.5 234.9h0.9v0.9h-0.9zM352.8 231.5h0.9v0.9h-0.9zM345.5 237.8h0.9v0.9h-0.9zM345.3 239.0h0.9v0.9h-0.9zM349.3 228.7h0.9v0.9h-0.9zM340.9 232.4h0.9v0.9h-0.9zM341.1 234.9h0.9v0.9h-0.9zM348.0 227.3h0.9v0.9h-0.9zM341.4 227.7h0.9v0.9h-0.9zM353.2 223.7h0.9v0.9h-0.9zM349.8 224.0h0.9v0.9h-0.9zM356.9 233.5h0.9v0.9h-0.9zM359.3 223.4h0.9v0.9h-0.9zM342.4 240.8h0.9v0.9h-0.9zM353.5 218.2h0.9v0.9h-0.9zM345.4 233.8h0.9v0.9h-0.9zM344.6 221.3h0.9v0.9h-0.9zM341.3 236.6h0.9v0.9h-0.9zM353.5 215.9h0.9v0.9h-0.9zM341.2 232.9h0.9v0.9h-0.9zM356.4 237.5h0.9v0.9h-0.9zM350.7 237.1h0.9v0.9h-0.9zM342.4 226.4h0.9v0.9h-0.9zM345.9 230.0h0.9v0.9h-0.9zM349.2 221.9h0.9v0.9h-0.9zM354.0 223.5h0.9v0.9h-0.9zM356.9 223.3h0.9v0.9h-0.9zM341.0 223.6h0.9v0.9h-0.9zM340.9 224.5h0.9v0.9h-0.9zM341.4 223.0h0.9v0.9h-0.9zM342.5 232.2h0.9v0.9h-0.9zM341.0 228.8h0.9v0.9h-0.9zM343.2 242.1h0.9v0.9h-0.9zM348.4 219.4h0.9v0.9h-0.9zM343.4 229.3h0.9v0.9h-0.9zM342.5 238.3h0.9v0.9h-0.9zM345.1 221.8h0.9v0.9h-0.9zM344.6 238.6h0.9v0.9h-0.9zM345.7 227.4h0.9v0.9h-0.9zM344.6 241.7h0.9v0.9h-0.9zM342.1 232.4h0.9v0.9h-0.9zM357.5 218.7h0.9v0.9h-0.9zM356.6 216.3h0.9v0.9h-0.9zM343.6 233.2h0.9v0.9h-0.9zM357.3 216.3h0.9v0.9h-0.9zM344.1 239.9h0.9v0.9h-0.9zM358.6 217.2h0.9v0.9h-0.9zM355.2 240.3h0.9v0.9h-0.9zM354.4 228.7h0.9v0.9h-0.9zM342.1 219.1h0.9v0.9h-0.9zM351.1 240.1h0.9v0.9h-0.9z"/>
<path fill="#8a8a8a" d="M355.5 221.1h0.9v0.9h-0.9zM350.0 218.0h0.9v0.9h-0.9zM350.8 222.4h0.9v0.9h-0.9zM342.3 223.0h0.9v0.9h-0.9zM356.1 217.2h0.9v0.9h-0.9zM349.1 234.5h0.9v0.9h-0.9zM355.3 237.9h0.9v0.9h-0.9zM347.2 230.2h0.9v0.9h-0.9zM340.6 236.2h0.9v0.9h-0.9zM355.9 229.8h0.9v0.9h-0.9zM341.8 217.6h0.9v0.9h-0.9zM357.5 238.5h0.9v0.9h-0.9zM342.3 231.2h0.9v0.9h-0.9zM340.9 238.3h0.9v0.9h-0.9zM342.5 225.8h0.9v0.9h-0.9zM347.6 226.0h0.9v0.9h-0.9zM359.4 238.0h0.9v0.9h-0.9zM342.6 216.3h0.9v0.9h-0.9zM359.2 220.9h0.9v0.9h-0.9zM351.6 220.6h0.9v0.9h-0.9zM353.0 226.7h0.9v0.9h-0.9zM351.8 240.7h0.9v0.9h-0.9zM343.5 224.7h0.9v0.9h-0.9zM346.2 235.5h0.9v0.9h-0.9zM355.1 237.9h0.9v0.9h-0.9zM354.4 241.1h0.9v0.9h-0.9zM343.1 228.1h0.9v0.9h-0.9zM353.3 238.3h0.9v0.9h-0.9zM344.0 236.0h0.9v0.9h-0.9zM358.0 240.9h0.9v0.9h-0.9zM356.4 222.8h0.9v0.9h-0.9zM355.9 238.0h0.9v0.9h-0.9zM349.7 239.6h0.9v0.9h-0.9zM343.1 242.2h0.9v0.9h-0.9zM355.9 231.7h0.9v0.9h-0.9zM352.9 217.8h0.9v0.9h-0.9zM348.8 231.7h0.9v0.9h-0.9zM344.8 218.0h0.9v0.9h-0.9zM355.4 231.4h0.9v0.9h-0.9zM354.8 240.9h0.9v0.9h-0.9zM346.8 228.5h0.9v0.9h-0.9zM350.7 216.3h0.9v0.9h-0.9zM344.6 235.2h0.9v0.9h-0.9zM349.3 239.1h0.9v0.9h-0.9zM359.0 240.3h0.9v0.9h-0.9zM352.3 227.3h0.9v0.9h-0.9zM351.1 238.6h0.9v0.9h-0.9zM345.8 239.0h0.9v0.9h-0.9zM358.5 221.0h0.9v0.9h-0.9zM355.2 224.7h0.9v0.9h-0.9zM342.5 226.6h0.9v0.9h-0.9zM345.2 221.6h0.9v0.9h-0.9zM355.8 238.0h0.9v0.9h-0.9zM350.6 228.6h0.9v0.9h-0.9zM348.9 231.6h0.9v0.9h-0.9zM345.9 236.1h0.9v0.9h-0.9zM344.7 227.7h0.9v0.9h-0.9zM349.0 231.9h0.9v0.9h-0.9zM357.8 227.1h0.9v0.9h-0.9zM350.4 219.0h0.9v0.9h-0.9zM343.9 229.3h0.9v0.9h-0.9zM347.1 226.8h0.9v0.9h-0.9zM344.4 229.8h0.9v0.9h-0.9zM345.1 236.7h0.9v0.9h-0.9zM356.3 217.3h0.9v0.9h-0.9zM354.2 236.1h0.9v0.9h-0.9zM356.7 233.5h0.9v0.9h-0.9zM349.4 222.1h0.9v0.9h-0.9zM357.9 224.7h0.9v0.9h-0.9zM342.9 220.0h0.9v0.9h-0.9zM359.7 227.4h0.9v0.9h-0.9zM351.3 215.9h0.9v0.9h-0.9zM356.6 240.6h0.9v0.9h-0.9zM347.4 237.2h0.9v0.9h-0.9zM343.6 220.3h0.9v0.9h-0.9zM353.1 218.5h0.9v0.9h-0.9zM359.5 220.0h0.9v0.9h-0.9zM345.4 223.7h0.9v0.9h-0.9zM343.1 233.5h0.9v0.9h-0.9zM342.4 232.8h0.9v0.9h-0.9zM343.6 226.1h0.9v0.9h-0.9zM343.5 229.5h0.9v0.9h-0.9zM342.2 232.0h0.9v0.9h-0.9zM349.0 223.2h0.9v0.9h-0.9zM346.7 237.8h0.9v0.9h-0.9zM347.8 226.7h0.9v0.9h-0.9zM342.1 230.5h0.9v0.9h-0.9zM350.7 219.6h0.9v0.9h-0.9zM347.1 227.3h0.9v0.9h-0.9zM351.5 224.4h0.9v0.9h-0.9zM348.2 232.8h0.9v0.9h-0.9zM354.7 228.2h0.9v0.9h-0.9zM341.5 239.0h0.9v0.9h-0.9zM345.4 229.4h0.9v0.9h-0.9zM343.6 227.6h0.9v0.9h-0.9zM346.9 217.7h0.9v0.9h-0.9zM356.2 221.8h0.9v0.9h-0.9zM343.4 233.7h0.9v0.9h-0.9zM352.3 220.6h0.9v0.9h-0.9zM346.0 235.3h0.9v0.9h-0.9zM349.3 230.8h0.9v0.9h-0.9zM349.9 225.9h0.9v0.9h-0.9zM349.8 241.3h0.9v0.9h-0.9zM349.2 241.7h0.9v0.9h-0.9zM352.0 230.1h0.9v0.9h-0.9zM347.9 240.1h0.9v0.9h-0.9zM357.2 226.4h0.9v0.9h-0.9zM343.7 235.9h0.9v0.9h-0.9zM355.3 217.5h0.9v0.9h-0.9zM351.3 225.9h0.9v0.9h-0.9zM354.7 221.0h0.9v0.9h-0.9zM347.8 231.3h0.9v0.9h-0.9zM356.7 224.0h0.9v0.9h-0.9zM343.3 225.4h0.9v0.9h-0.9zM355.9 230.6h0.9v0.9h-0.9zM358.6 224.7h0.9v0.9h-0.9zM348.0 237.0h0.9v0.9h-0.9zM348.5 230.7h0.9v0.9h-0.9zM359.7 221.5h0.9v0.9h-0.9zM354.1 235.1h0.9v0.9h-0.9zM352.1 236.3h0.9v0.9h-0.9zM349.2 218.9h0.9v0.9h-0.9zM351.9 227.4h0.9v0.9h-0.9zM353.8 227.6h0.9v0.9h-0.9zM357.1 241.7h0.9v0.9h-0.9zM353.6 235.5h0.9v0.9h-0.9zM346.9 222.4h0.9v0.9h-0.9zM345.3 241.7h0.9v0.9h-0.9zM353.0 233.8h0.9v0.9h-0.9zM348.7 231.1h0.9v0.9h-0.9zM341.1 217.4h0.9v0.9h-0.9zM349.3 227.6h0.9v0.9h-0.9zM345.5 218.4h0.9v0.9h-0.9zM354.2 236.8h0.9v0.9h-0.9zM349.5 237.2h0.9v0.9h-0.9zM347.4 234.1h0.9v0.9h-0.9zM355.3 230.5h0.9v0.9h-0.9zM359.1 236.5h0.9v0.9h-0.9zM343.1 231.6h0.9v0.9h-0.9zM366.5 206.0h0.9v0.9h-0.9zM381.6 203.7h0.9v0.9h-0.9zM375.3 206.7h0.9v0.9h-0.9zM372.7 204.3h0.9v0.9h-0.9zM384.1 203.3h0.9v0.9h-0.9zM367.9 201.9h0.9v0.9h-0.9zM371.8 205.1h0.9v0.9h-0.9zM369.5 206.0h0.9v0.9h-0.9zM372.2 201.3h0.9v0.9h-0.9zM379.7 207.9h0.9v0.9h-0.9zM362.8 202.3h0.9v0.9h-0.9zM375.8 205.7h0.9v0.9h-0.9zM372.5 208.1h0.9v0.9h-0.9zM373.0 206.4h0.9v0.9h-0.9zM376.7 206.8h0.9v0.9h-0.9zM361.5 207.2h0.9v0.9h-0.9zM372.3 203.3h0.9v0.9h-0.9zM375.3 205.7h0.9v0.9h-0.9zM374.6 204.2h0.9v0.9h-0.9zM376.6 205.8h0.9v0.9h-0.9zM383.0 201.1h0.9v0.9h-0.9zM368.7 205.9h0.9v0.9h-0.9zM371.5 203.5h0.9v0.9h-0.9zM380.9 201.5h0.9v0.9h-0.9zM368.8 207.8h0.9v0.9h-0.9zM370.1 207.4h0.9v0.9h-0.9zM374.4 205.2h0.9v0.9h-0.9zM370.7 203.3h0.9v0.9h-0.9zM370.5 209.0h0.9v0.9h-0.9zM369.7 208.9h0.9v0.9h-0.9zM380.0 205.9h0.9v0.9h-0.9zM373.8 203.8h0.9v0.9h-0.9zM379.6 204.8h0.9v0.9h-0.9zM363.6 205.0h0.9v0.9h-0.9zM371.1 205.2h0.9v0.9h-0.9zM364.6 195.2h0.9v0.9h-0.9zM370.8 204.9h0.9v0.9h-0.9zM378.6 205.6h0.9v0.9h-0.9zM374.9 198.9h0.9v0.9h-0.9z"/>
<path fill="#b2b2b2" d="M355.0 240.8h0.9v0.9h-0.9zM340.9 238.6h0.9v0.9h-0.9zM345.5 216.4h0.9v0.9h-0.9zM346.0 237.3h0.9v0.9h-0.9zM349.0 219.5h0.9v0.9h-0.9zM349.4 231.3h0.9v0.9h-0.9zM358.2 235.9h0.9v0.9h-0.9zM341.6 228.2h0.9v0.9h-0.9zM349.8 241.1h0.9v0.9h-0.9zM352.4 236.7h0.9v0.9h-0.9zM352.4 218.1h0.9v0.9h-0.9zM340.7 217.8h0.9v0.9h-0.9zM358.4 231.0h0.9v0.9h-0.9zM359.2 220.1h0.9v0.9h-0.9zM358.6 229.5h0.9v0.9h-0.9zM352.4 232.0h0.9v0.9h-0.9zM359.2 232.8h0.9v0.9h-0.9zM342.0 230.5h0.9v0.9h-0.9zM345.0 238.4h0.9v0.9h-0.9zM342.5 241.7h0.9v0.9h-0.9zM347.6 234.9h0.9v0.9h-0.9zM349.8 228.2h0.9v0.9h-0.9zM353.0 233.9h0.9v0.9h-0.9zM345.1 229.0h0.9v0.9h-0.9zM354.9 238.4h0.9v0.9h-0.9zM344.1 221.8h0.9v0.9h-0.9zM351.9 240.6h0.9v0.9h-0.9zM357.2 241.1h0.9v0.9h-0.9zM350.8 238.2h0.9v0.9h-0.9zM349.2 224.8h0.9v0.9h-0.9zM351.1 226.4h0.9v0.9h-0.9zM345.1 235.2h0.9v0.9h-0.9zM350.1 225.4h0.9v0.9h-0.9zM342.4 231.3h0.9v0.9h-0.9zM340.9 240.4h0.9v0.9h-0.9zM350.9 234.9h0.9v0.9h-0.9zM341.1 229.3h0.9v0.9h-0.9zM343.6 221.8h0.9v0.9h-0.9zM341.2 224.3h0.9v0.9h-0.9zM348.1 228.6h0.9v0.9h-0.9zM350.5 227.7h0.9v0.9h-0.9zM348.7 234.4h0.9v0.9h-0.9zM354.4 235.2h0.9v0.9h-0.9zM342.9 222.7h0.9v0.9h-0.9zM352.3 223.4h0.9v0.9h-0.9zM341.1 229.3h0.9v0.9h-0.9zM354.7 238.2h0.9v0.9h-0.9zM349.0 223.9h0.9v0.9h-0.9zM357.0 239.0h0.9v0.9h-0.9zM349.9 226.8h0.9v0.9h-0.9zM345.0 221.3h0.9v0.9h-0.9zM341.3 231.4h0.9v0.9h-0.9zM344.6 216.4h0.9v0.9h-0.9zM342.4 215.9h0.9v0.9h-0.9zM353.7 219.6h0.9v0.9h-0.9zM344.8 230.1h0.9v0.9h-0.9zM347.5 227.3h0.9v0.9h-0.9zM347.1 234.4h0.9v0.9h-0.9zM352.6 219.9h0.9v0.9h-0.9zM347.8 226.0h0.9v0.9h-0.9zM345.0 217.3h0.9v0.9h-0.9zM349.0 220.9h0.9v0.9h-0.9zM343.7 216.8h0.9v0.9h-0.9zM357.8 236.8h0.9v0.9h-0.9zM350.1 234.9h0.9v0.9h-0.9zM354.0 232.9h0.9v0.9h-0.9zM359.2 240.2h0.9v0.9h-0.9zM359.1 227.8h0.9v0.9h-0.9zM344.2 220.8h0.9v0.9h-0.9zM344.6 217.7h0.9v0.9h-0.9zM342.9 237.9h0.9v0.9h-0.9zM342.3 223.2h0.9v0.9h-0.9zM359.8 242.0h0.9v0.9h-0.9zM350.2 228.0h0.9v0.9h-0.9zM342.0 236.4h0.9v0.9h-0.9zM350.2 241.9h0.9v0.9h-0.9zM341.4 217.1h0.9v0.9h-0.9zM354.4 229.3h0.9v0.9h-0.9zM359.8 224.6h0.9v0.9h-0.9zM351.8 241.6h0.9v0.9h-0.9zM347.3 234.2h0.9v0.9h-0.9zM354.4 218.8h0.9v0.9h-0.9zM357.5 242.1h0.9v0.9h-0.9zM355.8 238.6h0.9v0.9h-0.9zM351.1 230.2h0.9v0.9h-0.9zM341.2 222.6h0.9v0.9h-0.9zM349.4 218.1h0.9v0.9h-0.9zM344.6 222.0h0.9v0.9h-0.9zM347.7 222.9h0.9v0.9h-0.9zM346.2 219.9h0.9v0.9h-0.9zM344.1 220.0h0.9v0.9h-0.9zM348.2 220.7h0.9v0.9h-0.9zM347.8 235.9h0.9v0.9h-0.9zM343.7 241.0h0.9v0.9h-0.9zM346.2 234.3h0.9v0.9h-0.9zM345.9 235.9h0.9v0.9h-0.9zM346.2 229.9h0.9v0.9h-0.9zM352.5 219.4h0.9v0.9h-0.9zM342.2 232.3h0.9v0.9h-0.9zM352.5 221.9h0.9v0.9h-0.9zM347.8 239.8h0.9v0.9h-0.9zM355.0 237.7h0.9v0.9h-0.9zM350.0 232.3h0.9v0.9h-0.9zM347.5 221.3h0.9v0.9h-0.9zM349.7 219.3h0.9v0.9h-0.9zM358.4 218.7h0.9v0.9h-0.9zM342.3 216.5h0.9v0.9h-0.9zM351.5 241.6h0.9v0.9h-0.9zM348.9 230.9h0.9v0.9h-0.9zM345.6 234.4h0.9v0.9h-0.9zM352.5 220.9h0.9v0.9h-0.9zM357.9 241.1h0.9v0.9h-0.9zM348.8 225.7h0.9v0.9h-0.9zM349.6 238.0h0.9v0.9h-0.9zM341.0 234.6h0.9v0.9h-0.9zM354.3 230.9h0.9v0.9h-0.9zM350.4 216.8h0.9v0.9h-0.9zM347.4 228.2h0.9v0.9h-0.9zM352.8 231.1h0.9v0.9h-0.9zM349.8 232.5h0.9v0.9h-0.9zM346.2 233.4h0.9v0.9h-0.9zM354.7 237.9h0.9v0.9h-0.9zM342.5 236.0h0.9v0.9h-0.9zM358.4 224.1h0.9v0.9h-0.9zM357.8 222.2h0.9v0.9h-0.9zM346.5 218.4h0.9v0.9h-0.9zM342.0 235.7h0.9v0.9h-0.9zM354.4 236.5h0.9v0.9h-0.9zM350.1 226.2h0.9v0.9h-0.9zM347.9 219.1h0.9v0.9h-0.9zM344.5 225.6h0.9v0.9h-0.9zM345.0 223.9h0.9v0.9h-0.9zM351.6 232.5h0.9v0.9h-0.9zM340.8 227.5h0.9v0.9h-0.9zM354.5 223.8h0.9v0.9h-0.9zM352.0 234.1h0.9v0.9h-0.9zM352.9 227.5h0.9v0.9h-0.9zM354.0 230.6h0.9v0.9h-0.9zM356.0 222.7h0.9v0.9h-0.9zM358.2 222.2h0.9v0.9h-0.9zM344.4 229.6h0.9v0.9h-0.9zM356.7 225.1h0.9v0.9h-0.9zM350.5 239.2h0.9v0.9h-0.9zM342.6 230.1h0.9v0.9h-0.9zM348.8 241.5h0.9v0.9h-0.9zM345.3 216.5h0.9v0.9h-0.9zM341.3 240.1h0.9v0.9h-0.9zM355.1 232.5h0.9v0.9h-0.9zM354.7 227.4h0.9v0.9h-0.9zM345.2 216.2h0.9v0.9h-0.9zM342.8 231.5h0.9v0.9h-0.9zM342.3 232.0h0.9v0.9h-0.9zM351.9 227.5h0.9v0.9h-0.9zM345.4 241.6h0.9v0.9h-0.9zM350.5 231.6h0.9v0.9h-0.9zM347.2 222.9h0.9v0.9h-0.9zM347.7 229.4h0.9v0.9h-0.9zM350.4 220.0h0.9v0.9h-0.9zM346.7 219.6h0.9v0.9h-0.9zM343.3 217.7h0.9v0.9h-0.9zM358.4 218.5h0.9v0.9h-0.9zM343.6 229.7h0.9v0.9h-0.9zM354.6 235.9h0.9v0.9h-0.9z"/>
<path fill="#989898" d="M352.4 216.2h0.9v0.9h-0.9zM342.5 239.0h0.9v0.9h-0.9zM357.2 241.9h0.9v0.9h-0.9zM354.0 228.3h0.9v0.9h-0.9zM358.1 221.1h0.9v0.9h-0.9zM350.5 218.6h0.9v0.9h-0.9zM341.6 230.2h0.9v0.9h-0.9zM355.4 221.4h0.9v0.9h-0.9zM354.4 216.6h0.9v0.9h-0.9zM349.1 241.7h0.9v0.9h-0.9zM359.3 234.0h0.9v0.9h-0.9zM344.0 218.4h0.9v0.9h-0.9zM346.6 222.7h0.9v0.9h-0.9zM357.4 239.8h0.9v0.9h-0.9zM341.2 227.4h0.9v0.9h-0.9zM351.3 228.8h0.9v0.9h-0.9zM349.9 220.4h0.9v0.9h-0.9zM341.8 220.8h0.9v0.9h-0.9zM342.2 221.5h0.9v0.9h-0.9zM349.8 229.3h0.9v0.9h-0.9zM344.3 228.2h0.9v0.9h-0.9zM343.6 237.2h0.9v0.9h-0.9zM343.8 227.0h0.9v0.9h-0.9zM354.2 231.2h0.9v0.9h-0.9zM357.7 232.1h0.9v0.9h-0.9zM347.3 235.8h0.9v0.9h-0.9zM354.0 233.7h0.9v0.9h-0.9zM341.5 239.5h0.9v0.9h-0.9zM355.9 235.0h0.9v0.9h-0.9zM354.4 221.9h0.9v0.9h-0.9zM343.5 240.4h0.9v0.9h-0.9zM358.6 232.1h0.9v0.9h-0.9zM344.5 236.6h0.9v0.9h-0.9zM356.3 222.5h0.9v0.9h-0.9zM344.4 228.0h0.9v0.9h-0.9zM357.6 242.0h0.9v0.9h-0.9zM359.4 234.8h0.9v0.9h-0.9zM354.3 234.6h0.9v0.9h-0.9zM345.3 221.1h0.9v0.9h-0.9zM343.0 223.6h0.9v0.9h-0.9zM350.3 221.9h0.9v0.9h-0.9zM359.3 226.4h0.9v0.9h-0.9zM352.8 240.1h0.9v0.9h-0.9zM352.9 228.4h0.9v0.9h-0.9zM351.0 223.1h0.9v0.9h-0.9zM347.6 241.6h0.9v0.9h-0.9zM351.6 235.0h0.9v0.9h-0.9zM350.1 237.7h0.9v0.9h-0.9zM354.8 240.6h0.9v0.9h-0.9zM357.2 222.7h0.9v0.9h-0.9zM346.4 242.0h0.9v0.9h-0.9zM346.9 224.9h0.9v0.9h-0.9zM354.4 215.8h0.9v0.9h-0.9zM341.1 231.5h0.9v0.9h-0.9zM356.7 231.3h0.9v0.9h-0.9zM358.0 215.9h0.9v0.9h-0.9zM347.0 216.8h0.9v0.9h-0.9zM353.7 222.5h0.9v0.9h-0.9zM356.3 228.3h0.9v0.9h-0.9zM346.0 229.1h0.9v0.9h-0.9zM343.1 224.7h0.9v0.9h-0.9zM354.3 238.2h0.9v0.9h-0.9zM342.8 241.8h0.9v0.9h-0.9zM350.6 230.3h0.9v0.9h-0.9zM344.0 231.6h0.9v0.9h-0.9zM349.1 242.0h0.9v0.9h-0.9zM344.1 215.9h0.9v0.9h-0.9zM346.2 230.1h0.9v0.9h-0.9zM353.8 233.6h0.9v0.9h-0.9zM351.5 235.7h0.9v0.9h-0.9zM349.9 231.7h0.9v0.9h-0.9zM354.1 228.0h0.9v0.9h-0.9zM346.5 217.0h0.9v0.9h-0.9zM355.8 233.7h0.9v0.9h-0.9zM344.6 216.8h0.9v0.9h-0.9zM353.2 229.9h0.9v0.9h-0.9zM342.0 240.8h0.9v0.9h-0.9zM353.7 231.2h0.9v0.9h-0.9zM345.9 237.7h0.9v0.9h-0.9zM352.9 240.4h0.9v0.9h-0.9zM353.3 233.2h0.9v0.9h-0.9zM342.9 228.0h0.9v0.9h-0.9zM346.8 232.9h0.9v0.9h-0.9zM357.9 222.1h0.9v0.9h-0.9zM356.4 237.2h0.9v0.9h-0.9zM342.0 223.4h0.9v0.9h-0.9zM352.1 231.6h0.9v0.9h-0.9zM359.4 223.3h0.9v0.9h-0.9zM348.2 216.1h0.9v0.9h-0.9zM358.6 232.8h0.9v0.9h-0.9zM348.5 224.8h0.9v0.9h-0.9zM357.1 238.5h0.9v0.9h-0.9zM346.7 241.1h0.9v0.9h-0.9zM352.6 217.5h0.9v0.9h-0.9zM342.6 218.4h0.9v0.9h-0.9zM358.7 216.3h0.9v0.9h-0.9zM357.1 227.9h0.9v0.9h-0.9zM348.3 221.1h0.9v0.9h-0.9zM357.0 238.9h0.9v0.9h-0.9zM349.2 220.8h0.9v0.9h-0.9zM342.2 226.2h0.9v0.9h-0.9zM350.5 223.4h0.9v0.9h-0.9zM342.3 241.6h0.9v0.9h-0.9zM347.6 219.5h0.9v0.9h-0.9zM355.2 219.3h0.9v0.9h-0.9zM355.3 230.9h0.9v0.9h-0.9zM345.5 229.4h0.9v0.9h-0.9zM351.1 240.6h0.9v0.9h-0.9zM354.6 224.2h0.9v0.9h-0.9zM346.4 230.2h0.9v0.9h-0.9zM353.3 231.3h0.9v0.9h-0.9zM351.7 219.2h0.9v0.9h-0.9zM342.3 216.2h0.9v0.9h-0.9zM358.1 222.0h0.9v0.9h-0.9zM345.5 234.2h0.9v0.9h-0.9zM355.8 240.0h0.9v0.9h-0.9zM343.1 234.2h0.9v0.9h-0.9zM347.0 226.2h0.9v0.9h-0.9zM357.7 225.3h0.9v0.9h-0.9zM342.4 218.7h0.9v0.9h-0.9zM352.4 225.0h0.9v0.9h-0.9zM348.0 230.4h0.9v0.9h-0.9zM343.0 225.0h0.9v0.9h-0.9zM347.6 239.1h0.9v0.9h-0.9zM340.8 228.4h0.9v0.9h-0.9zM358.3 228.2h0.9v0.9h-0.9zM349.2 230.0h0.9v0.9h-0.9zM351.8 229.8h0.9v0.9h-0.9zM359.4 241.0h0.9v0.9h-0.9zM348.3 223.4h0.9v0.9h-0.9z"/>
<path fill="#a5a5a5" d="M351.0 230.5h0.9v0.9h-0.9zM350.9 217.7h0.9v0.9h-0.9zM355.6 217.0h0.9v0.9h-0.9zM342.5 219.6h0.9v0.9h-0.9zM351.3 237.5h0.9v0.9h-0.9zM342.4 238.7h0.9v0.9h-0.9zM358.1 220.0h0.9v0.9h-0.9zM350.4 228.6h0.9v0.9h-0.9zM341.8 227.2h0.9v0.9h-0.9zM354.2 228.3h0.9v0.9h-0.9zM353.3 231.3h0.9v0.9h-0.9zM353.7 217.7h0.9v0.9h-0.9zM347.7 241.2h0.9v0.9h-0.9zM356.5 231.7h0.9v0.9h-0.9zM349.3 228.2h0.9v0.9h-0.9zM349.4 235.6h0.9v0.9h-0.9zM348.3 229.6h0.9v0.9h-0.9zM350.7 225.4h0.9v0.9h-0.9zM346.6 217.8h0.9v0.9h-0.9zM342.3 240.2h0.9v0.9h-0.9zM347.6 239.3h0.9v0.9h-0.9zM348.7 237.5h0.9v0.9h-0.9zM340.8 233.6h0.9v0.9h-0.9zM359.0 224.0h0.9v0.9h-0.9zM349.1 218.1h0.9v0.9h-0.9zM341.4 236.5h0.9v0.9h-0.9zM353.7 226.3h0.9v0.9h-0.9zM343.2 239.7h0.9v0.9h-0.9zM353.9 219.9h0.9v0.9h-0.9zM359.7 234.0h0.9v0.9h-0.9zM345.7 231.9h0.9v0.9h-0.9zM355.3 230.9h0.9v0.9h-0.9zM350.4 234.4h0.9v0.9h-0.9zM345.6 236.4h0.9v0.9h-0.9zM358.8 242.1h0.9v0.9h-0.9zM356.3 223.6h0.9v0.9h-0.9zM345.4 239.9h0.9v0.9h-0.9zM355.0 221.9h0.9v0.9h-0.9zM351.5 218.4h0.9v0.9h-0.9zM359.1 241.7h0.9v0.9h-0.9zM346.1 218.5h0.9v0.9h-0.9zM340.8 226.8h0.9v0.9h-0.9zM343.7 229.1h0.9v0.9h-0.9zM349.3 229.1h0.9v0.9h-0.9zM343.6 232.3h0.9v0.9h-0.9zM359.7 240.1h0.9v0.9h-0.9zM351.5 227.6h0.9v0.9h-0.9zM347.4 230.6h0.9v0.9h-0.9zM350.6 222.4h0.9v0.9h-0.9zM350.4 218.7h0.9v0.9h-0.9zM341.3 234.7h0.9v0.9h-0.9zM341.6 225.8h0.9v0.9h-0.9zM347.5 224.7h0.9v0.9h-0.9zM347.7 218.8h0.9v0.9h-0.9zM344.5 241.5h0.9v0.9h-0.9zM345.0 218.2h0.9v0.9h-0.9zM359.0 225.5h0.9v0.9h-0.9zM347.3 219.0h0.9v0.9h-0.9zM349.8 230.0h0.9v0.9h-0.9zM351.2 235.2h0.9v0.9h-0.9zM344.7 217.1h0.9v0.9h-0.9zM350.6 230.5h0.9v0.9h-0.9zM342.2 218.2h0.9v0.9h-0.9zM357.2 233.7h0.9v0.9h-0.9zM341.1 218.4h0.9v0.9h-0.9zM350.0 219.7h0.9v0.9h-0.9zM355.6 227.6h0.9v0.9h-0.9zM348.6 238.2h0.9v0.9h-0.9zM359.2 237.9h0.9v0.9h-0.9zM355.3 232.1h0.9v0.9h-0.9zM345.1 237.6h0.9v0.9h-0.9zM356.0 233.2h0.9v0.9h-0.9zM350.8 231.8h0.9v0.9h-0.9zM346.2 238.8h0.9v0.9h-0.9zM344.9 221.3h0.9v0.9h-0.9zM346.7 221.3h0.9v0.9h-0.9zM342.9 220.5h0.9v0.9h-0.9zM358.4 229.0h0.9v0.9h-0.9zM355.5 234.9h0.9v0.9h-0.9zM341.7 233.4h0.9v0.9h-0.9zM347.1 219.8h0.9v0.9h-0.9zM344.0 221.2h0.9v0.9h-0.9zM342.2 234.4h0.9v0.9h-0.9zM343.0 229.7h0.9v0.9h-0.9zM345.2 227.9h0.9v0.9h-0.9zM355.0 232.9h0.9v0.9h-0.9zM341.9 222.1h0.9v0.9h-0.9zM348.1 227.1h0.9v0.9h-0.9zM353.4 228.3h0.9v0.9h-0.9zM345.4 240.5h0.9v0.9h-0.9zM347.2 216.7h0.9v0.9h-0.9zM358.0 229.4h0.9v0.9h-0.9zM351.7 216.4h0.9v0.9h-0.9zM348.3 236.4h0.9v0.9h-0.9zM346.3 218.5h0.9v0.9h-0.9zM359.1 229.4h0.9v0.9h-0.9zM347.7 236.6h0.9v0.9h-0.9zM358.6 238.6h0.9v0.9h-0.9zM351.3 232.4h0.9v0.9h-0.9zM341.4 240.3h0.9v0.9h-0.9zM346.4 233.6h0.9v0.9h-0.9z"/>
<path fill="#707070" d="M352.8 242.0h0.9v0.9h-0.9zM354.9 234.1h0.9v0.9h-0.9zM356.1 227.8h0.9v0.9h-0.9zM349.8 237.5h0.9v0.9h-0.9zM351.9 225.8h0.9v0.9h-0.9zM340.7 221.2h0.9v0.9h-0.9zM352.8 235.4h0.9v0.9h-0.9zM358.3 222.7h0.9v0.9h-0.9zM356.6 237.2h0.9v0.9h-0.9zM354.3 235.2h0.9v0.9h-0.9zM342.4 235.1h0.9v0.9h-0.9zM355.1 217.9h0.9v0.9h-0.9zM345.9 222.4h0.9v0.9h-0.9zM348.8 224.7h0.9v0.9h-0.9zM342.3 221.4h0.9v0.9h-0.9zM346.1 226.1h0.9v0.9h-0.9zM341.9 217.6h0.9v0.9h-0.9zM347.1 232.3h0.9v0.9h-0.9zM345.5 225.5h0.9v0.9h-0.9zM353.0 228.3h0.9v0.9h-0.9zM349.7 240.5h0.9v0.9h-0.9zM357.4 241.2h0.9v0.9h-0.9zM343.9 238.6h0.9v0.9h-0.9zM343.1 237.1h0.9v0.9h-0.9zM344.6 233.3h0.9v0.9h-0.9zM340.8 233.0h0.9v0.9h-0.9zM343.8 225.3h0.9v0.9h-0.9zM345.8 241.5h0.9v0.9h-0.9zM348.5 224.9h0.9v0.9h-0.9zM351.6 236.1h0.9v0.9h-0.9zM359.9 219.4h0.9v0.9h-0.9zM355.1 220.4h0.9v0.9h-0.9zM353.8 221.4h0.9v0.9h-0.9zM354.6 223.0h0.9v0.9h-0.9zM341.7 218.0h0.9v0.9h-0.9zM343.3 231.8h0.9v0.9h-0.9zM349.0 218.1h0.9v0.9h-0.9zM347.2 236.6h0.9v0.9h-0.9zM354.7 225.3h0.9v0.9h-0.9zM347.7 232.0h0.9v0.9h-0.9zM352.2 242.1h0.9v0.9h-0.9zM344.1 239.8h0.9v0.9h-0.9zM351.4 219.6h0.9v0.9h-0.9zM345.1 221.5h0.9v0.9h-0.9zM343.5 238.6h0.9v0.9h-0.9zM351.2 226.4h0.9v0.9h-0.9zM352.4 230.7h0.9v0.9h-0.9zM352.1 241.6h0.9v0.9h-0.9zM348.5 227.6h0.9v0.9h-0.9zM341.7 229.8h0.9v0.9h-0.9zM355.7 230.2h0.9v0.9h-0.9zM353.3 229.3h0.9v0.9h-0.9zM356.1 236.5h0.9v0.9h-0.9zM344.7 233.3h0.9v0.9h-0.9zM350.0 223.1h0.9v0.9h-0.9zM355.6 218.5h0.9v0.9h-0.9zM342.2 227.7h0.9v0.9h-0.9zM349.8 218.1h0.9v0.9h-0.9zM344.8 231.7h0.9v0.9h-0.9zM344.2 219.4h0.9v0.9h-0.9zM350.9 238.4h0.9v0.9h-0.9zM348.6 228.2h0.9v0.9h-0.9zM346.7 216.6h0.9v0.9h-0.9zM345.3 241.5h0.9v0.9h-0.9zM358.1 221.7h0.9v0.9h-0.9zM348.9 238.8h0.9v0.9h-0.9zM343.7 219.8h0.9v0.9h-0.9zM341.7 227.0h0.9v0.9h-0.9zM345.3 237.6h0.9v0.9h-0.9zM355.4 221.7h0.9v0.9h-0.9zM343.6 223.9h0.9v0.9h-0.9zM354.2 227.1h0.9v0.9h-0.9zM344.9 219.8h0.9v0.9h-0.9zM354.8 222.6h0.9v0.9h-0.9zM345.9 217.4h0.9v0.9h-0.9zM356.1 221.9h0.9v0.9h-0.9zM354.5 235.3h0.9v0.9h-0.9zM348.3 231.5h0.9v0.9h-0.9zM351.9 231.0h0.9v0.9h-0.9zM351.6 229.4h0.9v0.9h-0.9zM345.3 231.3h0.9v0.9h-0.9zM357.4 234.1h0.9v0.9h-0.9zM353.0 219.4h0.9v0.9h-0.9zM351.2 220.1h0.9v0.9h-0.9zM359.4 235.0h0.9v0.9h-0.9zM344.0 237.7h0.9v0.9h-0.9zM351.8 221.5h0.9v0.9h-0.9zM354.1 220.3h0.9v0.9h-0.9zM356.7 234.6h0.9v0.9h-0.9zM353.1 225.6h0.9v0.9h-0.9zM357.4 217.1h0.9v0.9h-0.9zM358.0 242.1h0.9v0.9h-0.9zM342.1 225.5h0.9v0.9h-0.9zM354.5 229.5h0.9v0.9h-0.9zM346.5 230.2h0.9v0.9h-0.9zM352.5 232.6h0.9v0.9h-0.9zM358.2 227.4h0.9v0.9h-0.9zM345.5 222.2h0.9v0.9h-0.9zM348.5 231.6h0.9v0.9h-0.9zM351.2 232.7h0.9v0.9h-0.9zM356.1 228.9h0.9v0.9h-0.9zM353.1 237.2h0.9v0.9h-0.9zM349.8 232.9h0.9v0.9h-0.9zM357.8 229.8h0.9v0.9h-0.9zM349.6 227.4h0.9v0.9h-0.9zM349.5 224.9h0.9v0.9h-0.9zM346.7 218.7h0.9v0.9h-0.9zM358.9 242.1h0.9v0.9h-0.9zM344.0 217.8h0.9v0.9h-0.9zM357.7 235.4h0.9v0.9h-0.9zM347.1 216.1h0.9v0.9h-0.9zM354.7 236.9h0.9v0.9h-0.9zM343.3 237.1h0.9v0.9h-0.9zM341.6 219.0h0.9v0.9h-0.9zM348.3 230.3h0.9v0.9h-0.9zM357.5 221.1h0.9v0.9h-0.9zM349.6 237.3h0.9v0.9h-0.9zM348.3 219.1h0.9v0.9h-0.9zM357.5 226.6h0.9v0.9h-0.9zM346.5 232.2h0.9v0.9h-0.9zM355.4 219.9h0.9v0.9h-0.9zM353.0 238.8h0.9v0.9h-0.9zM354.7 234.2h0.9v0.9h-0.9zM358.8 232.5h0.9v0.9h-0.9zM348.0 242.2h0.9v0.9h-0.9zM359.5 230.7h0.9v0.9h-0.9zM356.3 217.3h0.9v0.9h-0.9zM349.1 230.0h0.9v0.9h-0.9zM354.7 220.4h0.9v0.9h-0.9zM344.9 217.0h0.9v0.9h-0.9zM353.6 229.9h0.9v0.9h-0.9zM342.2 238.6h0.9v0.9h-0.9zM349.7 239.3h0.9v0.9h-0.9zM351.7 220.4h0.9v0.9h-0.9zM342.5 240.2h0.9v0.9h-0.9zM346.5 231.2h0.9v0.9h-0.9zM355.5 235.6h0.9v0.9h-0.9zM351.9 219.3h0.9v0.9h-0.9zM349.0 234.2h0.9v0.9h-0.9zM350.2 231.2h0.9v0.9h-0.9zM350.3 240.4h0.9v0.9h-0.9zM351.3 221.3h0.9v0.9h-0.9zM351.8 219.7h0.9v0.9h-0.9zM350.2 220.4h0.9v0.9h-0.9zM346.1 228.1h0.9v0.9h-0.9zM345.4 240.3h0.9v0.9h-0.9zM359.0 224.4h0.9v0.9h-0.9zM347.1 233.8h0.9v0.9h-0.9zM355.8 233.7h0.9v0.9h-0.9zM354.1 239.2h0.9v0.9h-0.9zM349.4 238.2h0.9v0.9h-0.9zM352.4 222.0h0.9v0.9h-0.9zM346.3 238.3h0.9v0.9h-0.9zM354.3 218.5h0.9v0.9h-0.9zM342.2 221.0h0.9v0.9h-0.9zM349.1 232.3h0.9v0.9h-0.9zM351.7 241.4h0.9v0.9h-0.9zM351.4 236.5h0.9v0.9h-0.9zM347.8 242.0h0.9v0.9h-0.9zM346.8 222.7h0.9v0.9h-0.9zM359.1 221.7h0.9v0.9h-0.9z"/>
<path fill="#888" d="M341.1 228.2h0.9v0.9h-0.9zM341.2 237.1h0.9v0.9h-0.9zM341.2 222.0h0.9v0.9h-0.9zM340.8 231.0h0.9v0.9h-0.9zM340.8 235.4h0.9v0.9h-0.9zM340.8 234.5h0.9v0.9h-0.9zM340.9 241.4h0.9v0.9h-0.9zM340.5 221.6h0.9v0.9h-0.9zM340.9 240.7h0.9v0.9h-0.9zM340.7 230.5h0.9v0.9h-0.9zM341.3 238.6h0.9v0.9h-0.9zM341.2 235.5h0.9v0.9h-0.9zM340.8 240.4h0.9v0.9h-0.9zM340.9 231.3h0.9v0.9h-0.9zM340.6 234.0h0.9v0.9h-0.9zM341.3 236.6h0.9v0.9h-0.9zM341.2 229.7h0.9v0.9h-0.9zM340.9 236.1h0.9v0.9h-0.9zM341.1 237.3h0.9v0.9h-0.9zM342.6 241.5h0.9v0.9h-0.9zM351.9 241.4h0.9v0.9h-0.9zM341.9 241.5h0.9v0.9h-0.9zM355.3 241.7h0.9v0.9h-0.9zM347.9 241.4h0.9v0.9h-0.9zM350.2 242.0h0.9v0.9h-0.9zM349.2 242.0h0.9v0.9h-0.9zM344.9 242.0h0.9v0.9h-0.9zM341.8 241.5h0.9v0.9h-0.9z"/>
<path fill="#777" d="M341.2 226.4h0.9v0.9h-0.9zM340.9 231.9h0.9v0.9h-0.9zM341.0 229.1h0.9v0.9h-0.9zM341.1 241.4h0.9v0.9h-0.9zM340.6 236.4h0.9v0.9h-0.9zM341.0 237.3h0.9v0.9h-0.9zM341.3 240.2h0.9v0.9h-0.9zM340.5 217.3h0.9v0.9h-0.9zM340.9 222.1h0.9v0.9h-0.9zM340.8 230.4h0.9v0.9h-0.9zM340.9 230.8h0.9v0.9h-0.9zM340.6 234.4h0.9v0.9h-0.9zM357.3 242.0h0.9v0.9h-0.9zM354.4 242.1h0.9v0.9h-0.9zM352.2 241.6h0.9v0.9h-0.9zM341.7 241.5h0.9v0.9h-0.9zM352.0 242.1h0.9v0.9h-0.9zM358.7 241.8h0.9v0.9h-0.9zM346.7 241.7h0.9v0.9h-0.9zM356.0 241.7h0.9v0.9h-0.9zM346.8 241.9h0.9v0.9h-0.9zM350.9 241.8h0.9v0.9h-0.9zM349.3 242.0h0.9v0.9h-0.9zM352.8 241.9h0.9v0.9h-0.9zM353.2 242.0h0.9v0.9h-0.9zM341.2 241.6h0.9v0.9h-0.9zM359.7 242.1h0.9v0.9h-0.9z"/>
<path fill="#999" d="M340.9 217.9h0.9v0.9h-0.9zM340.6 230.3h0.9v0.9h-0.9zM340.7 234.3h0.9v0.9h-0.9zM340.6 240.7h0.9v0.9h-0.9zM341.2 224.8h0.9v0.9h-0.9zM340.6 241.3h0.9v0.9h-0.9zM340.6 226.6h0.9v0.9h-0.9zM340.7 221.0h0.9v0.9h-0.9zM340.6 227.4h0.9v0.9h-0.9zM357.1 241.4h0.9v0.9h-0.9zM351.2 242.0h0.9v0.9h-0.9zM343.6 241.6h0.9v0.9h-0.9zM350.3 241.7h0.9v0.9h-0.9zM344.0 241.7h0.9v0.9h-0.9zM349.6 241.6h0.9v0.9h-0.9z"/>
<path fill="#d8d8d8" d="M362.8 239.7h0.9v0.9h-0.9zM375.2 199.4h0.9v0.9h-0.9zM383.5 195.0h0.9v0.9h-0.9zM365.6 204.4h0.9v0.9h-0.9zM379.8 219.4h0.9v0.9h-0.9zM368.8 221.9h0.9v0.9h-0.9zM374.8 207.1h0.9v0.9h-0.9zM390.1 198.3h0.9v0.9h-0.9zM391.6 213.8h0.9v0.9h-0.9zM352.5 201.2h0.9v0.9h-0.9z"/>
<path fill="#c8c8c8" d="M390.5 239.5h0.9v0.9h-0.9zM376.0 190.0h0.9v0.9h-0.9zM392.2 233.2h0.9v0.9h-0.9zM389.3 227.9h0.9v0.9h-0.9zM384.7 224.6h0.9v0.9h-0.9zM365.4 219.3h0.9v0.9h-0.9zM368.6 234.3h0.9v0.9h-0.9zM361.5 235.4h0.9v0.9h-0.9zM361.8 200.9h0.9v0.9h-0.9zM358.1 189.4h0.9v0.9h-0.9zM362.8 229.8h0.9v0.9h-0.9zM371.6 241.1h0.9v0.9h-0.9zM358.7 211.0h0.9v0.9h-0.9zM342.9 195.9h0.9v0.9h-0.9zM388.8 219.6h0.9v0.9h-0.9zM371.5 230.8h0.9v0.9h-0.9zM360.3 189.3h0.9v0.9h-0.9z"/>
<path fill="#d0d0d0" d="M387.4 215.6h0.9v0.9h-0.9zM364.1 241.3h0.9v0.9h-0.9zM364.7 220.2h0.9v0.9h-0.9zM344.8 212.5h0.9v0.9h-0.9zM366.2 233.3h0.9v0.9h-0.9zM382.6 195.6h0.9v0.9h-0.9zM384.6 216.4h0.9v0.9h-0.9zM389.8 239.9h0.9v0.9h-0.9zM350.3 201.5h0.9v0.9h-0.9zM358.1 207.2h0.9v0.9h-0.9zM367.3 232.6h0.9v0.9h-0.9zM377.9 216.6h0.9v0.9h-0.9zM364.7 238.5h0.9v0.9h-0.9zM390.0 209.5h0.9v0.9h-0.9zM346.1 205.6h0.9v0.9h-0.9zM366.6 234.7h0.9v0.9h-0.9zM379.5 221.6h0.9v0.9h-0.9zM361.8 203.4h0.9v0.9h-0.9z"/>
<path fill="#c0c0c0" d="M355.7 210.1h0.9v0.9h-0.9zM343.4 213.7h0.9v0.9h-0.9zM348.1 209.8h0.9v0.9h-0.9zM349.5 212.7h0.9v0.9h-0.9zM349.4 213.8h0.9v0.9h-0.9zM341.1 212.0h0.9v0.9h-0.9zM356.0 208.2h0.9v0.9h-0.9zM346.1 207.1h0.9v0.9h-0.9zM345.8 208.7h0.9v0.9h-0.9zM342.9 213.3h0.9v0.9h-0.9zM357.0 211.6h0.9v0.9h-0.9zM354.9 210.3h0.9v0.9h-0.9zM350.1 211.4h0.9v0.9h-0.9zM343.7 213.2h0.9v0.9h-0.9zM342.6 210.7h0.9v0.9h-0.9z"/>
<path fill="#b5b5b5" d="M342.4 207.5h0.9v0.9h-0.9zM356.4 211.8h0.9v0.9h-0.9zM352.6 209.4h0.9v0.9h-0.9zM343.1 211.6h0.9v0.9h-0.9zM352.8 210.8h0.9v0.9h-0.9zM349.7 212.8h0.9v0.9h-0.9zM342.2 213.3h0.9v0.9h-0.9zM342.7 213.7h0.9v0.9h-0.9zM345.4 212.1h0.9v0.9h-0.9z"/>
<path fill="#cccccc" d="M344.0 211.3h0.9v0.9h-0.9zM349.9 211.6h0.9v0.9h-0.9zM343.5 208.4h0.9v0.9h-0.9zM347.7 213.6h0.9v0.9h-0.9zM354.7 213.3h0.9v0.9h-0.9zM353.3 213.0h0.9v0.9h-0.9zM356.5 212.9h0.9v0.9h-0.9zM342.4 213.7h0.9v0.9h-0.9zM356.9 210.8h0.9v0.9h-0.9zM345.7 211.3h0.9v0.9h-0.9zM358.7 213.9h0.9v0.9h-0.9z"/>
<path fill="#b8b8b8" d="M366.3 207.4h0.9v0.9h-0.9zM370.1 206.8h0.9v0.9h-0.9zM368.2 206.0h0.9v0.9h-0.9zM369.7 202.9h0.9v0.9h-0.9zM367.8 201.8h0.9v0.9h-0.9zM378.0 207.6h0.9v0.9h-0.9zM377.8 203.8h0.9v0.9h-0.9zM374.5 198.0h0.9v0.9h-0.9zM373.7 203.3h0.9v0.9h-0.9zM370.4 206.1h0.9v0.9h-0.9zM363.7 209.6h0.9v0.9h-0.9zM367.3 205.1h0.9v0.9h-0.9zM370.3 203.3h0.9v0.9h-0.9zM372.2 204.0h0.9v0.9h-0.9zM371.5 206.4h0.9v0.9h-0.9zM369.9 207.6h0.9v0.9h-0.9zM373.4 204.8h0.9v0.9h-0.9zM370.8 205.7h0.9v0.9h-0.9zM382.2 202.6h0.9v0.9h-0.9zM367.4 209.4h0.9v0.9h-0.9zM372.1 203.1h0.9v0.9h-0.9zM364.5 204.9h0.9v0.9h-0.9zM367.1 204.6h0.9v0.9h-0.9zM363.8 203.0h0.9v0.9h-0.9zM370.0 201.8h0.9v0.9h-0.9zM367.3 207.5h0.9v0.9h-0.9zM376.2 205.7h0.9v0.9h-0.9zM379.2 200.5h0.9v0.9h-0.9zM368.1 206.2h0.9v0.9h-0.9zM374.1 201.4h0.9v0.9h-0.9zM379.0 205.7h0.9v0.9h-0.9zM371.1 201.4h0.9v0.9h-0.9zM375.4 201.6h0.9v0.9h-0.9zM377.8 201.4h0.9v0.9h-0.9z"/>
<path fill="#7a7a7a" d="M373.3 201.4h0.9v0.9h-0.9zM366.9 205.7h0.9v0.9h-0.9zM377.5 206.3h0.9v0.9h-0.9zM370.3 205.4h0.9v0.9h-0.9zM365.9 205.7h0.9v0.9h-0.9zM365.5 203.8h0.9v0.9h-0.9zM373.2 203.3h0.9v0.9h-0.9zM373.2 206.5h0.9v0.9h-0.9zM365.0 204.3h0.9v0.9h-0.9zM379.5 203.5h0.9v0.9h-0.9zM375.3 204.1h0.9v0.9h-0.9zM370.0 206.2h0.9v0.9h-0.9zM386.5 201.1h0.9v0.9h-0.9zM372.1 208.7h0.9v0.9h-0.9zM377.1 202.7h0.9v0.9h-0.9zM370.5 204.6h0.9v0.9h-0.9zM374.7 204.8h0.9v0.9h-0.9zM367.2 207.7h0.9v0.9h-0.9zM371.5 203.3h0.9v0.9h-0.9zM375.4 204.5h0.9v0.9h-0.9zM372.2 206.5h0.9v0.9h-0.9zM365.6 203.2h0.9v0.9h-0.9zM373.4 201.5h0.9v0.9h-0.9zM375.3 205.4h0.9v0.9h-0.9zM376.4 201.7h0.9v0.9h-0.9zM375.1 201.9h0.9v0.9h-0.9zM375.3 206.5h0.9v0.9h-0.9zM369.4 201.5h0.9v0.9h-0.9zM377.4 206.5h0.9v0.9h-0.9zM372.7 203.4h0.9v0.9h-0.9zM368.8 206.3h0.9v0.9h-0.9zM368.8 202.1h0.9v0.9h-0.9zM367.6 206.5h0.9v0.9h-0.9zM371.2 204.0h0.9v0.9h-0.9zM376.2 209.0h0.9v0.9h-0.9zM372.3 204.2h0.9v0.9h-0.9zM382.5 201.7h0.9v0.9h-0.9zM380.2 202.1h0.9v0.9h-0.9zM378.4 203.4h0.9v0.9h-0.9zM376.5 205.3h0.9v0.9h-0.9zM379.0 201.3h0.9v0.9h-0.9zM375.7 206.1h0.9v0.9h-0.9zM390.0 206.5h0.9v0.9h-0.9zM366.5 204.3h0.9v0.9h-0.9zM373.1 203.7h0.9v0.9h-0.9zM371.4 207.5h0.9v0.9h-0.9zM376.3 203.1h0.9v0.9h-0.9zM368.1 212.3h0.9v0.9h-0.9zM378.3 205.4h0.9v0.9h-0.9zM374.0 207.5h0.9v0.9h-0.9z"/>
<path fill="#9a9a9a" d="M366.8 204.7h0.9v0.9h-0.9zM377.8 208.6h0.9v0.9h-0.9zM376.8 202.7h0.9v0.9h-0.9zM368.1 204.8h0.9v0.9h-0.9zM370.9 203.7h0.9v0.9h-0.9zM371.5 206.8h0.9v0.9h-0.9zM364.1 204.4h0.9v0.9h-0.9zM382.3 206.9h0.9v0.9h-0.9zM373.3 202.9h0.9v0.9h-0.9zM373.7 203.5h0.9v0.9h-0.9zM363.1 199.5h0.9v0.9h-0.9zM374.8 205.1h0.9v0.9h-0.9zM373.1 201.5h0.9v0.9h-0.9zM371.1 205.7h0.9v0.9h-0.9zM383.1 205.3h0.9v0.9h-0.9zM369.4 206.8h0.9v0.9h-0.9zM366.0 205.1h0.9v0.9h-0.9zM368.7 203.1h0.9v0.9h-0.9zM371.5 208.8h0.9v0.9h-0.9zM365.4 202.0h0.9v0.9h-0.9zM372.3 207.1h0.9v0.9h-0.9zM383.4 202.4h0.9v0.9h-0.9zM372.9 202.1h0.9v0.9h-0.9zM365.9 207.7h0.9v0.9h-0.9zM374.4 205.0h0.9v0.9h-0.9zM377.6 208.1h0.9v0.9h-0.9zM376.9 200.5h0.9v0.9h-0.9zM374.7 206.6h0.9v0.9h-0.9zM367.9 208.5h0.9v0.9h-0.9zM372.2 203.8h0.9v0.9h-0.9z"/>
<path fill="#aaaaaa" d="M369.9 197.0h0.9v0.9h-0.9zM373.8 202.6h0.9v0.9h-0.9zM372.0 203.8h0.9v0.9h-0.9zM371.7 205.0h0.9v0.9h-0.9zM376.3 203.2h0.9v0.9h-0.9zM373.2 206.5h0.9v0.9h-0.9zM361.8 205.5h0.9v0.9h-0.9zM366.3 208.1h0.9v0.9h-0.9zM372.3 205.9h0.9v0.9h-0.9zM370.6 206.6h0.9v0.9h-0.9zM378.4 206.4h0.9v0.9h-0.9zM374.4 203.5h0.9v0.9h-0.9zM376.4 204.0h0.9v0.9h-0.9zM374.0 206.0h0.9v0.9h-0.9zM371.9 202.1h0.9v0.9h-0.9zM374.3 204.0h0.9v0.9h-0.9zM375.7 202.6h0.9v0.9h-0.9zM372.0 207.6h0.9v0.9h-0.9zM383.3 205.4h0.9v0.9h-0.9zM369.9 207.9h0.9v0.9h-0.9zM378.7 203.0h0.9v0.9h-0.9zM374.3 204.7h0.9v0.9h-0.9zM370.9 210.9h0.9v0.9h-0.9zM374.1 201.3h0.9v0.9h-0.9zM368.3 205.0h0.9v0.9h-0.9zM375.9 206.9h0.9v0.9h-0.9zM385.9 204.5h0.9v0.9h-0.9zM370.7 204.0h0.9v0.9h-0.9zM366.6 203.2h0.9v0.9h-0.9zM367.9 201.4h0.9v0.9h-0.9zM369.5 203.8h0.9v0.9h-0.9zM368.5 202.5h0.9v0.9h-0.9zM376.4 206.9h0.9v0.9h-0.9zM375.1 206.1h0.9v0.9h-0.9zM377.2 206.3h0.9v0.9h-0.9zM377.9 209.9h0.9v0.9h-0.9zM370.9 208.2h0.9v0.9h-0.9z"/>
</g>
<line x1="360.5" y1="188.3" x2="360.5" y2="242.8" stroke="#888" stroke-width="0.8"/>
<line x1="340.0" y1="215.0" x2="394.6" y2="215.0" stroke="#888" stroke-width="0.8"/>
<text x="389.5" y="197.45" font-size="6.8" text-anchor="end" textLength="11.6" lengthAdjust="spacingAndGlyphs" fill="#444" stroke="#444" stroke-width="0.2">13.2</text>
<text x="341.2" y="191.9" font-size="3" fill="#999">UL</text>
<text x="393.40000000000003" y="241.60000000000002" font-size="3" text-anchor="end" fill="#999">LR</text>
<rect x="401.5" y="187.5" width="54.5" height="54.5" fill="#fff" stroke="#aaa" stroke-width="0.8"/>
<g filter="url(#bl)">
<path fill="#a5a5a5" d="M414.6 223.8h0.9v0.9h-0.9zM403.7 217.0h0.9v0.9h-0.9zM406.2 218.5h0.9v0.9h-0.9zM421.3 229.4h0.9v0.9h-0.9zM411.4 239.8h0.9v0.9h-0.9zM412.7 218.6h0.9v0.9h-0.9zM403.7 218.3h0.9v0.9h-0.9zM409.3 228.3h0.9v0.9h-0.9zM420.4 222.8h0.9v0.9h-0.9zM409.4 235.1h0.9v0.9h-0.9zM417.2 220.7h0.9v0.9h-0.9zM406.1 219.1h0.9v0.9h-0.9zM412.3 232.1h0.9v0.9h-0.9zM403.8 234.7h0.9v0.9h-0.9zM410.3 222.5h0.9v0.9h-0.9zM410.8 218.0h0.9v0.9h-0.9zM414.1 223.6h0.9v0.9h-0.9zM417.3 241.3h0.9v0.9h-0.9zM411.0 219.0h0.9v0.9h-0.9zM409.4 226.9h0.9v0.9h-0.9zM416.8 230.2h0.9v0.9h-0.9zM404.5 233.2h0.9v0.9h-0.9zM412.0 237.4h0.9v0.9h-0.9zM404.6 224.6h0.9v0.9h-0.9zM404.8 233.5h0.9v0.9h-0.9zM419.5 235.6h0.9v0.9h-0.9zM406.2 228.5h0.9v0.9h-0.9zM405.2 221.7h0.9v0.9h-0.9zM411.0 219.4h0.9v0.9h-0.9zM415.1 235.0h0.9v0.9h-0.9zM404.7 241.3h0.9v0.9h-0.9zM404.3 223.0h0.9v0.9h-0.9zM405.0 217.3h0.9v0.9h-0.9zM420.7 231.5h0.9v0.9h-0.9zM407.2 234.4h0.9v0.9h-0.9zM409.1 240.3h0.9v0.9h-0.9zM416.1 237.5h0.9v0.9h-0.9zM415.4 218.2h0.9v0.9h-0.9zM415.8 224.5h0.9v0.9h-0.9zM407.1 220.1h0.9v0.9h-0.9zM408.9 222.3h0.9v0.9h-0.9zM420.2 239.6h0.9v0.9h-0.9zM408.8 224.5h0.9v0.9h-0.9zM414.9 232.4h0.9v0.9h-0.9zM407.0 222.2h0.9v0.9h-0.9zM411.4 227.9h0.9v0.9h-0.9zM419.5 216.9h0.9v0.9h-0.9zM411.4 217.0h0.9v0.9h-0.9zM409.5 228.3h0.9v0.9h-0.9zM412.5 225.3h0.9v0.9h-0.9zM408.8 236.2h0.9v0.9h-0.9zM418.9 238.6h0.9v0.9h-0.9zM407.7 228.7h0.9v0.9h-0.9zM416.9 226.2h0.9v0.9h-0.9zM405.8 232.0h0.9v0.9h-0.9zM417.2 232.8h0.9v0.9h-0.9zM419.7 230.8h0.9v0.9h-0.9zM402.8 217.9h0.9v0.9h-0.9zM414.4 228.0h0.9v0.9h-0.9zM407.0 238.0h0.9v0.9h-0.9zM419.2 223.6h0.9v0.9h-0.9zM418.1 221.8h0.9v0.9h-0.9zM410.9 219.3h0.9v0.9h-0.9zM402.5 239.1h0.9v0.9h-0.9zM408.3 237.8h0.9v0.9h-0.9zM408.1 238.6h0.9v0.9h-0.9zM419.9 223.0h0.9v0.9h-0.9zM412.4 220.3h0.9v0.9h-0.9zM409.7 237.7h0.9v0.9h-0.9zM407.2 224.2h0.9v0.9h-0.9zM412.0 237.4h0.9v0.9h-0.9zM417.0 222.4h0.9v0.9h-0.9zM402.6 233.3h0.9v0.9h-0.9zM416.5 235.3h0.9v0.9h-0.9zM421.6 219.7h0.9v0.9h-0.9zM411.6 238.6h0.9v0.9h-0.9zM417.0 222.4h0.9v0.9h-0.9zM412.6 223.2h0.9v0.9h-0.9zM406.3 241.0h0.9v0.9h-0.9zM415.0 224.3h0.9v0.9h-0.9zM416.8 227.2h0.9v0.9h-0.9zM412.0 229.8h0.9v0.9h-0.9zM410.3 237.6h0.9v0.9h-0.9zM409.3 233.0h0.9v0.9h-0.9zM410.8 241.2h0.9v0.9h-0.9zM420.8 230.0h0.9v0.9h-0.9zM413.6 237.5h0.9v0.9h-0.9zM420.5 239.5h0.9v0.9h-0.9zM410.7 232.7h0.9v0.9h-0.9zM410.2 224.2h0.9v0.9h-0.9zM411.3 240.3h0.9v0.9h-0.9zM402.5 229.7h0.9v0.9h-0.9zM409.2 220.8h0.9v0.9h-0.9zM420.4 241.1h0.9v0.9h-0.9zM415.2 220.7h0.9v0.9h-0.9zM406.5 225.6h0.9v0.9h-0.9zM409.3 233.8h0.9v0.9h-0.9zM410.2 219.0h0.9v0.9h-0.9zM404.4 238.1h0.9v0.9h-0.9zM409.4 215.6h0.9v0.9h-0.9zM403.9 238.9h0.9v0.9h-0.9zM408.8 222.2h0.9v0.9h-0.9zM420.4 239.1h0.9v0.9h-0.9zM405.4 221.1h0.9v0.9h-0.9zM413.9 237.2h0.9v0.9h-0.9zM409.0 221.2h0.9v0.9h-0.9zM409.4 226.1h0.9v0.9h-0.9zM407.7 216.2h0.9v0.9h-0.9zM404.0 222.2h0.9v0.9h-0.9zM406.4 231.3h0.9v0.9h-0.9zM411.1 239.5h0.9v0.9h-0.9zM413.3 233.5h0.9v0.9h-0.9zM409.7 240.0h0.9v0.9h-0.9zM404.5 222.4h0.9v0.9h-0.9zM414.6 237.3h0.9v0.9h-0.9zM419.2 235.7h0.9v0.9h-0.9zM412.1 225.7h0.9v0.9h-0.9zM415.7 227.3h0.9v0.9h-0.9zM412.2 217.4h0.9v0.9h-0.9zM409.5 219.3h0.9v0.9h-0.9zM412.2 241.2h0.9v0.9h-0.9zM412.9 225.4h0.9v0.9h-0.9zM418.0 232.9h0.9v0.9h-0.9zM418.5 240.9h0.9v0.9h-0.9zM410.7 226.4h0.9v0.9h-0.9zM403.8 217.2h0.9v0.9h-0.9zM408.6 230.3h0.9v0.9h-0.9zM420.2 221.2h0.9v0.9h-0.9zM421.0 226.5h0.9v0.9h-0.9zM403.3 225.1h0.9v0.9h-0.9zM415.6 226.0h0.9v0.9h-0.9zM412.2 219.9h0.9v0.9h-0.9zM410.5 219.7h0.9v0.9h-0.9zM409.1 228.4h0.9v0.9h-0.9zM409.5 225.1h0.9v0.9h-0.9zM415.9 239.5h0.9v0.9h-0.9zM405.9 226.0h0.9v0.9h-0.9zM410.3 238.1h0.9v0.9h-0.9zM415.8 237.2h0.9v0.9h-0.9zM412.9 235.4h0.9v0.9h-0.9zM407.7 240.5h0.9v0.9h-0.9zM418.9 229.1h0.9v0.9h-0.9zM412.7 235.9h0.9v0.9h-0.9zM415.9 239.0h0.9v0.9h-0.9zM419.9 234.6h0.9v0.9h-0.9zM410.7 223.0h0.9v0.9h-0.9zM415.1 235.6h0.9v0.9h-0.9zM418.8 239.9h0.9v0.9h-0.9zM406.9 239.9h0.9v0.9h-0.9zM412.4 222.1h0.9v0.9h-0.9zM418.0 218.7h0.9v0.9h-0.9zM416.4 216.3h0.9v0.9h-0.9zM412.5 223.4h0.9v0.9h-0.9zM413.0 236.1h0.9v0.9h-0.9zM405.5 232.6h0.9v0.9h-0.9zM415.9 231.1h0.9v0.9h-0.9zM416.1 221.0h0.9v0.9h-0.9z"/>
<path fill="#989898" d="M413.0 234.0h0.9v0.9h-0.9zM406.8 225.0h0.9v0.9h-0.9zM402.8 233.3h0.9v0.9h-0.9zM420.5 235.4h0.9v0.9h-0.9zM410.6 219.7h0.9v0.9h-0.9zM419.1 240.9h0.9v0.9h-0.9zM409.8 227.8h0.9v0.9h-0.9zM420.7 222.9h0.9v0.9h-0.9zM415.4 237.2h0.9v0.9h-0.9zM410.9 223.0h0.9v0.9h-0.9zM402.4 225.6h0.9v0.9h-0.9zM415.9 224.6h0.9v0.9h-0.9zM405.5 223.2h0.9v0.9h-0.9zM415.8 227.9h0.9v0.9h-0.9zM407.0 236.2h0.9v0.9h-0.9zM413.3 234.4h0.9v0.9h-0.9zM412.3 239.2h0.9v0.9h-0.9zM417.7 237.9h0.9v0.9h-0.9zM404.2 238.3h0.9v0.9h-0.9zM414.1 218.0h0.9v0.9h-0.9zM416.8 222.9h0.9v0.9h-0.9zM403.3 238.9h0.9v0.9h-0.9zM405.2 231.6h0.9v0.9h-0.9zM409.2 235.1h0.9v0.9h-0.9zM402.5 221.1h0.9v0.9h-0.9zM421.1 219.3h0.9v0.9h-0.9zM403.6 229.6h0.9v0.9h-0.9zM416.0 231.0h0.9v0.9h-0.9zM408.0 229.6h0.9v0.9h-0.9zM403.9 226.2h0.9v0.9h-0.9zM418.1 230.2h0.9v0.9h-0.9zM420.9 232.8h0.9v0.9h-0.9zM417.4 223.9h0.9v0.9h-0.9zM413.6 232.6h0.9v0.9h-0.9zM418.0 236.0h0.9v0.9h-0.9zM419.3 216.2h0.9v0.9h-0.9zM417.0 226.2h0.9v0.9h-0.9zM403.9 218.6h0.9v0.9h-0.9zM405.1 230.0h0.9v0.9h-0.9zM416.8 225.5h0.9v0.9h-0.9zM414.3 224.7h0.9v0.9h-0.9zM409.3 220.9h0.9v0.9h-0.9zM417.0 227.7h0.9v0.9h-0.9zM419.3 234.1h0.9v0.9h-0.9zM411.2 240.7h0.9v0.9h-0.9zM408.5 230.8h0.9v0.9h-0.9zM406.5 235.3h0.9v0.9h-0.9zM413.0 239.8h0.9v0.9h-0.9zM412.6 222.8h0.9v0.9h-0.9zM411.0 223.4h0.9v0.9h-0.9zM421.5 239.5h0.9v0.9h-0.9zM409.8 227.1h0.9v0.9h-0.9zM405.9 237.3h0.9v0.9h-0.9zM413.5 220.1h0.9v0.9h-0.9zM404.8 219.7h0.9v0.9h-0.9zM409.3 236.7h0.9v0.9h-0.9zM413.0 218.2h0.9v0.9h-0.9zM413.8 222.6h0.9v0.9h-0.9zM410.9 239.0h0.9v0.9h-0.9zM408.1 237.2h0.9v0.9h-0.9zM410.2 241.3h0.9v0.9h-0.9zM416.5 234.0h0.9v0.9h-0.9zM417.8 227.5h0.9v0.9h-0.9zM412.9 231.3h0.9v0.9h-0.9zM414.2 235.6h0.9v0.9h-0.9zM411.0 216.5h0.9v0.9h-0.9zM417.7 230.6h0.9v0.9h-0.9zM420.2 241.0h0.9v0.9h-0.9zM408.3 235.0h0.9v0.9h-0.9zM409.4 227.2h0.9v0.9h-0.9zM415.2 230.7h0.9v0.9h-0.9zM410.0 221.0h0.9v0.9h-0.9zM404.0 229.7h0.9v0.9h-0.9zM416.5 227.6h0.9v0.9h-0.9zM417.9 221.8h0.9v0.9h-0.9zM405.0 230.4h0.9v0.9h-0.9zM416.7 237.4h0.9v0.9h-0.9zM415.2 231.6h0.9v0.9h-0.9zM408.8 239.4h0.9v0.9h-0.9zM403.1 223.7h0.9v0.9h-0.9zM411.2 236.2h0.9v0.9h-0.9zM418.5 227.2h0.9v0.9h-0.9zM415.5 218.0h0.9v0.9h-0.9zM410.6 221.1h0.9v0.9h-0.9zM412.2 235.1h0.9v0.9h-0.9zM414.8 223.9h0.9v0.9h-0.9zM408.3 226.9h0.9v0.9h-0.9zM418.9 225.8h0.9v0.9h-0.9zM412.6 240.0h0.9v0.9h-0.9zM418.2 219.9h0.9v0.9h-0.9zM403.5 221.2h0.9v0.9h-0.9zM411.7 229.1h0.9v0.9h-0.9zM405.7 236.1h0.9v0.9h-0.9zM418.8 225.9h0.9v0.9h-0.9zM408.9 221.6h0.9v0.9h-0.9zM415.9 237.0h0.9v0.9h-0.9zM415.7 217.3h0.9v0.9h-0.9zM409.0 230.5h0.9v0.9h-0.9zM403.9 234.0h0.9v0.9h-0.9zM419.9 222.8h0.9v0.9h-0.9zM410.2 236.4h0.9v0.9h-0.9zM413.5 230.6h0.9v0.9h-0.9zM419.1 217.4h0.9v0.9h-0.9zM411.4 216.9h0.9v0.9h-0.9zM404.7 231.3h0.9v0.9h-0.9zM411.1 235.9h0.9v0.9h-0.9zM414.2 229.3h0.9v0.9h-0.9zM421.2 236.5h0.9v0.9h-0.9zM405.8 237.8h0.9v0.9h-0.9zM409.5 218.9h0.9v0.9h-0.9zM410.5 220.1h0.9v0.9h-0.9zM421.3 229.9h0.9v0.9h-0.9zM420.3 216.4h0.9v0.9h-0.9zM408.3 233.4h0.9v0.9h-0.9zM413.0 223.1h0.9v0.9h-0.9zM420.3 219.6h0.9v0.9h-0.9zM402.8 227.5h0.9v0.9h-0.9zM403.8 222.6h0.9v0.9h-0.9zM408.8 216.2h0.9v0.9h-0.9zM403.2 223.3h0.9v0.9h-0.9zM419.9 228.0h0.9v0.9h-0.9zM419.3 223.3h0.9v0.9h-0.9zM416.6 233.0h0.9v0.9h-0.9zM413.9 235.2h0.9v0.9h-0.9zM407.6 216.3h0.9v0.9h-0.9zM410.2 217.8h0.9v0.9h-0.9zM411.0 241.1h0.9v0.9h-0.9zM415.0 226.6h0.9v0.9h-0.9zM409.3 234.1h0.9v0.9h-0.9zM410.0 226.8h0.9v0.9h-0.9zM419.0 222.4h0.9v0.9h-0.9zM403.8 237.9h0.9v0.9h-0.9zM402.1 236.1h0.9v0.9h-0.9zM410.9 238.4h0.9v0.9h-0.9zM420.4 236.2h0.9v0.9h-0.9zM412.2 225.3h0.9v0.9h-0.9zM415.8 233.9h0.9v0.9h-0.9zM407.4 239.2h0.9v0.9h-0.9zM416.9 216.5h0.9v0.9h-0.9zM420.7 217.6h0.9v0.9h-0.9zM419.7 227.9h0.9v0.9h-0.9zM411.7 215.5h0.9v0.9h-0.9zM421.7 231.4h0.9v0.9h-0.9zM418.3 220.1h0.9v0.9h-0.9zM404.3 228.1h0.9v0.9h-0.9zM416.1 238.6h0.9v0.9h-0.9zM416.8 238.4h0.9v0.9h-0.9zM416.3 234.0h0.9v0.9h-0.9zM402.7 238.8h0.9v0.9h-0.9zM405.6 215.7h0.9v0.9h-0.9zM421.6 223.0h0.9v0.9h-0.9zM406.5 228.3h0.9v0.9h-0.9zM405.6 221.5h0.9v0.9h-0.9zM411.5 226.3h0.9v0.9h-0.9zM404.1 240.4h0.9v0.9h-0.9z"/>
<path fill="#8a8a8a" d="M410.4 222.9h0.9v0.9h-0.9zM405.7 219.9h0.9v0.9h-0.9zM411.2 233.5h0.9v0.9h-0.9zM417.1 229.4h0.9v0.9h-0.9zM403.8 235.5h0.9v0.9h-0.9zM405.9 225.0h0.9v0.9h-0.9zM415.2 228.1h0.9v0.9h-0.9zM419.2 230.2h0.9v0.9h-0.9zM406.2 232.1h0.9v0.9h-0.9zM419.4 230.3h0.9v0.9h-0.9zM404.9 232.6h0.9v0.9h-0.9zM413.1 234.7h0.9v0.9h-0.9zM409.1 217.3h0.9v0.9h-0.9zM406.4 218.3h0.9v0.9h-0.9zM420.5 224.6h0.9v0.9h-0.9zM412.3 228.1h0.9v0.9h-0.9zM404.3 225.6h0.9v0.9h-0.9zM409.8 240.0h0.9v0.9h-0.9zM414.2 228.7h0.9v0.9h-0.9zM411.8 219.3h0.9v0.9h-0.9zM406.1 227.4h0.9v0.9h-0.9zM404.6 234.8h0.9v0.9h-0.9zM409.7 240.8h0.9v0.9h-0.9zM414.9 236.6h0.9v0.9h-0.9zM413.8 234.6h0.9v0.9h-0.9zM410.5 234.7h0.9v0.9h-0.9zM416.5 224.9h0.9v0.9h-0.9zM404.9 236.3h0.9v0.9h-0.9zM420.1 235.3h0.9v0.9h-0.9zM410.2 221.6h0.9v0.9h-0.9zM416.3 216.1h0.9v0.9h-0.9zM408.7 225.5h0.9v0.9h-0.9zM402.7 219.9h0.9v0.9h-0.9zM417.2 230.9h0.9v0.9h-0.9zM410.0 217.5h0.9v0.9h-0.9zM404.3 229.3h0.9v0.9h-0.9zM402.8 235.6h0.9v0.9h-0.9zM412.4 226.1h0.9v0.9h-0.9zM407.6 219.7h0.9v0.9h-0.9zM419.1 228.1h0.9v0.9h-0.9zM406.1 237.6h0.9v0.9h-0.9zM407.1 230.6h0.9v0.9h-0.9zM409.3 219.7h0.9v0.9h-0.9zM413.5 230.8h0.9v0.9h-0.9zM404.5 229.8h0.9v0.9h-0.9zM410.7 227.0h0.9v0.9h-0.9zM415.2 220.4h0.9v0.9h-0.9zM419.0 230.1h0.9v0.9h-0.9zM409.6 233.0h0.9v0.9h-0.9zM405.3 231.9h0.9v0.9h-0.9zM403.7 232.4h0.9v0.9h-0.9zM410.8 227.1h0.9v0.9h-0.9zM404.3 227.3h0.9v0.9h-0.9zM403.2 222.2h0.9v0.9h-0.9zM411.3 219.1h0.9v0.9h-0.9zM402.9 237.8h0.9v0.9h-0.9zM402.5 234.5h0.9v0.9h-0.9zM409.9 226.2h0.9v0.9h-0.9zM408.1 239.6h0.9v0.9h-0.9zM420.5 235.6h0.9v0.9h-0.9zM409.2 226.1h0.9v0.9h-0.9zM413.4 220.0h0.9v0.9h-0.9zM413.1 229.2h0.9v0.9h-0.9zM410.6 225.7h0.9v0.9h-0.9zM415.4 220.9h0.9v0.9h-0.9zM420.3 240.3h0.9v0.9h-0.9zM417.8 234.1h0.9v0.9h-0.9zM408.8 228.4h0.9v0.9h-0.9zM417.8 236.5h0.9v0.9h-0.9zM409.9 237.9h0.9v0.9h-0.9zM413.8 218.2h0.9v0.9h-0.9zM412.8 233.1h0.9v0.9h-0.9zM420.5 235.5h0.9v0.9h-0.9zM407.7 238.3h0.9v0.9h-0.9zM411.5 226.3h0.9v0.9h-0.9zM404.2 221.0h0.9v0.9h-0.9zM413.4 231.5h0.9v0.9h-0.9zM411.5 216.9h0.9v0.9h-0.9zM408.9 232.9h0.9v0.9h-0.9zM421.2 226.5h0.9v0.9h-0.9zM407.9 221.4h0.9v0.9h-0.9zM404.5 231.7h0.9v0.9h-0.9zM414.8 219.7h0.9v0.9h-0.9zM407.0 240.6h0.9v0.9h-0.9zM410.3 231.6h0.9v0.9h-0.9zM412.1 224.5h0.9v0.9h-0.9zM418.0 229.0h0.9v0.9h-0.9zM402.9 238.0h0.9v0.9h-0.9zM417.0 221.3h0.9v0.9h-0.9zM418.6 228.9h0.9v0.9h-0.9zM413.0 232.5h0.9v0.9h-0.9zM410.6 239.5h0.9v0.9h-0.9zM402.4 237.8h0.9v0.9h-0.9zM404.9 225.9h0.9v0.9h-0.9zM420.2 216.6h0.9v0.9h-0.9zM415.7 224.9h0.9v0.9h-0.9zM404.9 226.2h0.9v0.9h-0.9zM407.0 216.6h0.9v0.9h-0.9zM410.3 218.5h0.9v0.9h-0.9zM410.3 230.5h0.9v0.9h-0.9zM409.9 225.5h0.9v0.9h-0.9zM414.9 215.1h0.9v0.9h-0.9zM415.4 226.9h0.9v0.9h-0.9zM409.0 240.2h0.9v0.9h-0.9zM412.7 230.8h0.9v0.9h-0.9zM407.3 220.1h0.9v0.9h-0.9zM405.7 226.1h0.9v0.9h-0.9zM418.1 228.8h0.9v0.9h-0.9zM420.2 221.4h0.9v0.9h-0.9zM411.6 220.8h0.9v0.9h-0.9zM414.2 224.4h0.9v0.9h-0.9zM420.7 225.2h0.9v0.9h-0.9zM409.1 233.3h0.9v0.9h-0.9zM417.3 216.9h0.9v0.9h-0.9zM404.6 221.5h0.9v0.9h-0.9zM410.9 230.1h0.9v0.9h-0.9zM406.4 216.1h0.9v0.9h-0.9zM416.4 224.0h0.9v0.9h-0.9zM404.8 240.8h0.9v0.9h-0.9zM416.2 240.4h0.9v0.9h-0.9zM409.9 224.1h0.9v0.9h-0.9zM402.3 229.2h0.9v0.9h-0.9zM421.5 239.0h0.9v0.9h-0.9zM415.9 225.2h0.9v0.9h-0.9zM417.2 229.0h0.9v0.9h-0.9zM406.7 240.2h0.9v0.9h-0.9zM408.1 229.2h0.9v0.9h-0.9zM407.4 222.7h0.9v0.9h-0.9zM413.0 220.1h0.9v0.9h-0.9zM421.2 227.1h0.9v0.9h-0.9zM407.3 234.0h0.9v0.9h-0.9zM403.2 230.8h0.9v0.9h-0.9zM405.5 238.8h0.9v0.9h-0.9zM417.1 217.8h0.9v0.9h-0.9zM405.2 239.1h0.9v0.9h-0.9zM408.7 227.3h0.9v0.9h-0.9zM405.4 227.3h0.9v0.9h-0.9zM403.8 232.5h0.9v0.9h-0.9zM418.0 217.5h0.9v0.9h-0.9zM403.3 238.6h0.9v0.9h-0.9zM406.2 226.7h0.9v0.9h-0.9zM410.9 237.7h0.9v0.9h-0.9zM419.6 230.3h0.9v0.9h-0.9zM419.7 235.0h0.9v0.9h-0.9zM417.6 235.1h0.9v0.9h-0.9zM403.4 232.9h0.9v0.9h-0.9zM403.1 240.0h0.9v0.9h-0.9zM403.8 218.0h0.9v0.9h-0.9zM403.5 215.7h0.9v0.9h-0.9zM418.2 223.0h0.9v0.9h-0.9zM415.8 237.9h0.9v0.9h-0.9zM408.5 221.8h0.9v0.9h-0.9zM420.0 229.1h0.9v0.9h-0.9zM435.8 202.8h0.9v0.9h-0.9zM434.1 199.9h0.9v0.9h-0.9zM432.7 208.2h0.9v0.9h-0.9zM442.5 201.6h0.9v0.9h-0.9zM431.5 208.7h0.9v0.9h-0.9zM430.5 199.8h0.9v0.9h-0.9zM437.9 204.8h0.9v0.9h-0.9zM422.9 203.8h0.9v0.9h-0.9zM431.4 200.5h0.9v0.9h-0.9zM433.0 203.3h0.9v0.9h-0.9zM441.6 201.3h0.9v0.9h-0.9zM430.6 203.5h0.9v0.9h-0.9zM436.2 205.4h0.9v0.9h-0.9zM439.4 204.1h0.9v0.9h-0.9zM434.7 209.1h0.9v0.9h-0.9zM430.1 201.6h0.9v0.9h-0.9zM431.2 203.5h0.9v0.9h-0.9zM435.0 201.8h0.9v0.9h-0.9zM432.5 203.9h0.9v0.9h-0.9zM445.3 201.3h0.9v0.9h-0.9zM437.2 205.0h0.9v0.9h-0.9zM425.5 208.9h0.9v0.9h-0.9zM429.1 205.3h0.9v0.9h-0.9zM434.5 202.6h0.9v0.9h-0.9zM433.9 201.4h0.9v0.9h-0.9zM439.2 205.0h0.9v0.9h-0.9zM438.0 198.9h0.9v0.9h-0.9zM436.1 198.3h0.9v0.9h-0.9zM438.5 203.8h0.9v0.9h-0.9zM441.2 203.4h0.9v0.9h-0.9zM430.7 203.0h0.9v0.9h-0.9z"/>
<path fill="#7d7d7d" d="M406.7 237.2h0.9v0.9h-0.9zM420.6 237.1h0.9v0.9h-0.9zM414.2 226.6h0.9v0.9h-0.9zM412.0 225.3h0.9v0.9h-0.9zM413.5 220.9h0.9v0.9h-0.9zM406.8 231.0h0.9v0.9h-0.9zM403.8 238.3h0.9v0.9h-0.9zM417.9 227.7h0.9v0.9h-0.9zM406.2 231.2h0.9v0.9h-0.9zM410.8 229.6h0.9v0.9h-0.9zM419.9 231.1h0.9v0.9h-0.9zM412.5 232.6h0.9v0.9h-0.9zM409.3 240.1h0.9v0.9h-0.9zM406.0 216.0h0.9v0.9h-0.9zM405.9 222.0h0.9v0.9h-0.9zM419.6 230.0h0.9v0.9h-0.9zM412.1 229.7h0.9v0.9h-0.9zM407.3 217.9h0.9v0.9h-0.9zM419.6 222.5h0.9v0.9h-0.9zM414.6 229.3h0.9v0.9h-0.9zM413.9 237.2h0.9v0.9h-0.9zM403.0 217.6h0.9v0.9h-0.9zM409.8 232.6h0.9v0.9h-0.9zM409.0 228.0h0.9v0.9h-0.9zM404.8 216.6h0.9v0.9h-0.9zM402.8 241.2h0.9v0.9h-0.9zM417.1 220.3h0.9v0.9h-0.9zM417.8 233.6h0.9v0.9h-0.9zM421.0 220.0h0.9v0.9h-0.9zM417.7 220.8h0.9v0.9h-0.9zM419.6 239.8h0.9v0.9h-0.9zM404.9 224.3h0.9v0.9h-0.9zM403.6 216.7h0.9v0.9h-0.9zM406.8 228.8h0.9v0.9h-0.9zM416.5 225.1h0.9v0.9h-0.9zM406.9 221.2h0.9v0.9h-0.9zM414.3 233.4h0.9v0.9h-0.9zM415.8 225.8h0.9v0.9h-0.9zM408.7 239.5h0.9v0.9h-0.9zM403.8 233.0h0.9v0.9h-0.9zM406.9 234.4h0.9v0.9h-0.9zM419.4 217.9h0.9v0.9h-0.9zM410.6 237.2h0.9v0.9h-0.9zM414.0 234.7h0.9v0.9h-0.9zM416.2 223.5h0.9v0.9h-0.9zM408.6 221.2h0.9v0.9h-0.9zM413.6 227.2h0.9v0.9h-0.9zM415.6 239.9h0.9v0.9h-0.9zM406.6 232.2h0.9v0.9h-0.9zM420.7 240.9h0.9v0.9h-0.9zM402.5 226.6h0.9v0.9h-0.9zM421.3 226.2h0.9v0.9h-0.9zM413.7 227.5h0.9v0.9h-0.9zM419.6 227.7h0.9v0.9h-0.9zM413.6 234.7h0.9v0.9h-0.9zM421.5 225.4h0.9v0.9h-0.9zM405.1 220.5h0.9v0.9h-0.9zM421.1 231.3h0.9v0.9h-0.9zM405.2 241.3h0.9v0.9h-0.9zM420.0 234.2h0.9v0.9h-0.9zM415.2 237.5h0.9v0.9h-0.9zM420.0 216.6h0.9v0.9h-0.9zM407.1 215.9h0.9v0.9h-0.9zM416.7 222.6h0.9v0.9h-0.9zM414.4 222.9h0.9v0.9h-0.9zM404.6 217.1h0.9v0.9h-0.9zM405.6 227.2h0.9v0.9h-0.9zM413.1 234.7h0.9v0.9h-0.9zM404.7 219.9h0.9v0.9h-0.9zM411.3 219.6h0.9v0.9h-0.9zM407.7 224.4h0.9v0.9h-0.9zM417.0 222.0h0.9v0.9h-0.9zM403.2 224.3h0.9v0.9h-0.9zM405.7 238.1h0.9v0.9h-0.9zM415.6 230.0h0.9v0.9h-0.9zM418.3 218.5h0.9v0.9h-0.9zM403.8 236.7h0.9v0.9h-0.9zM414.6 232.2h0.9v0.9h-0.9zM409.0 228.1h0.9v0.9h-0.9zM402.3 225.8h0.9v0.9h-0.9zM408.6 215.5h0.9v0.9h-0.9zM404.3 240.7h0.9v0.9h-0.9zM410.7 227.4h0.9v0.9h-0.9zM416.4 224.6h0.9v0.9h-0.9zM404.9 218.4h0.9v0.9h-0.9zM419.7 241.0h0.9v0.9h-0.9zM418.2 239.8h0.9v0.9h-0.9zM413.3 233.4h0.9v0.9h-0.9zM412.3 234.2h0.9v0.9h-0.9zM410.0 225.6h0.9v0.9h-0.9zM421.0 226.3h0.9v0.9h-0.9zM410.9 216.5h0.9v0.9h-0.9zM410.6 219.1h0.9v0.9h-0.9zM408.6 219.6h0.9v0.9h-0.9zM409.8 222.0h0.9v0.9h-0.9zM413.2 218.7h0.9v0.9h-0.9zM419.4 226.0h0.9v0.9h-0.9zM413.8 232.9h0.9v0.9h-0.9zM417.7 233.5h0.9v0.9h-0.9zM414.3 238.3h0.9v0.9h-0.9zM412.5 231.5h0.9v0.9h-0.9zM409.1 232.2h0.9v0.9h-0.9zM402.5 217.0h0.9v0.9h-0.9zM403.6 225.3h0.9v0.9h-0.9zM415.2 223.0h0.9v0.9h-0.9zM408.4 221.1h0.9v0.9h-0.9zM412.8 235.6h0.9v0.9h-0.9zM414.9 241.4h0.9v0.9h-0.9zM406.5 232.8h0.9v0.9h-0.9zM414.7 217.9h0.9v0.9h-0.9zM416.7 235.8h0.9v0.9h-0.9zM417.1 224.8h0.9v0.9h-0.9zM420.4 237.2h0.9v0.9h-0.9zM411.9 232.5h0.9v0.9h-0.9zM417.6 234.4h0.9v0.9h-0.9zM403.8 218.8h0.9v0.9h-0.9zM404.6 226.5h0.9v0.9h-0.9zM414.7 218.7h0.9v0.9h-0.9zM418.4 229.3h0.9v0.9h-0.9zM407.5 231.4h0.9v0.9h-0.9zM417.2 240.9h0.9v0.9h-0.9zM411.6 228.3h0.9v0.9h-0.9zM405.3 225.2h0.9v0.9h-0.9zM420.6 216.2h0.9v0.9h-0.9zM405.9 224.0h0.9v0.9h-0.9zM416.5 232.0h0.9v0.9h-0.9zM416.1 225.9h0.9v0.9h-0.9zM421.1 220.1h0.9v0.9h-0.9zM415.3 234.0h0.9v0.9h-0.9zM413.9 221.9h0.9v0.9h-0.9zM418.4 220.2h0.9v0.9h-0.9zM410.9 232.4h0.9v0.9h-0.9zM405.7 224.6h0.9v0.9h-0.9zM417.2 220.5h0.9v0.9h-0.9zM419.9 239.4h0.9v0.9h-0.9z"/>
<path fill="#707070" d="M411.4 239.6h0.9v0.9h-0.9zM408.2 241.2h0.9v0.9h-0.9zM418.3 232.2h0.9v0.9h-0.9zM406.1 220.0h0.9v0.9h-0.9zM406.7 231.8h0.9v0.9h-0.9zM421.1 240.1h0.9v0.9h-0.9zM402.6 224.6h0.9v0.9h-0.9zM417.0 229.4h0.9v0.9h-0.9zM407.8 219.5h0.9v0.9h-0.9zM403.4 236.3h0.9v0.9h-0.9zM407.2 221.0h0.9v0.9h-0.9zM405.0 236.5h0.9v0.9h-0.9zM416.5 222.2h0.9v0.9h-0.9zM417.9 226.6h0.9v0.9h-0.9zM406.8 227.6h0.9v0.9h-0.9zM409.3 234.2h0.9v0.9h-0.9zM421.3 241.2h0.9v0.9h-0.9zM407.5 228.7h0.9v0.9h-0.9zM414.3 223.0h0.9v0.9h-0.9zM412.8 236.1h0.9v0.9h-0.9zM405.2 229.3h0.9v0.9h-0.9zM414.0 232.3h0.9v0.9h-0.9zM414.7 239.0h0.9v0.9h-0.9zM402.4 231.5h0.9v0.9h-0.9zM407.6 234.1h0.9v0.9h-0.9zM420.8 226.3h0.9v0.9h-0.9zM417.7 236.0h0.9v0.9h-0.9zM408.2 239.5h0.9v0.9h-0.9zM404.1 224.3h0.9v0.9h-0.9zM413.5 227.9h0.9v0.9h-0.9zM421.2 238.6h0.9v0.9h-0.9zM420.3 225.8h0.9v0.9h-0.9zM415.3 238.4h0.9v0.9h-0.9zM420.6 237.5h0.9v0.9h-0.9zM408.3 232.7h0.9v0.9h-0.9zM415.5 239.2h0.9v0.9h-0.9zM415.3 238.4h0.9v0.9h-0.9zM408.2 235.5h0.9v0.9h-0.9zM406.3 224.6h0.9v0.9h-0.9zM419.8 235.8h0.9v0.9h-0.9zM411.5 220.7h0.9v0.9h-0.9zM419.1 233.2h0.9v0.9h-0.9zM408.7 222.3h0.9v0.9h-0.9zM405.2 225.9h0.9v0.9h-0.9zM407.7 230.3h0.9v0.9h-0.9zM420.8 234.9h0.9v0.9h-0.9zM403.8 238.0h0.9v0.9h-0.9zM415.6 225.2h0.9v0.9h-0.9zM420.8 241.4h0.9v0.9h-0.9zM416.5 238.1h0.9v0.9h-0.9zM402.7 228.0h0.9v0.9h-0.9zM421.2 233.3h0.9v0.9h-0.9zM410.3 240.7h0.9v0.9h-0.9zM404.4 223.6h0.9v0.9h-0.9zM417.0 220.2h0.9v0.9h-0.9zM419.0 238.6h0.9v0.9h-0.9zM404.6 240.0h0.9v0.9h-0.9zM407.6 227.9h0.9v0.9h-0.9zM420.2 231.1h0.9v0.9h-0.9zM412.9 229.4h0.9v0.9h-0.9zM412.2 226.4h0.9v0.9h-0.9zM417.0 220.3h0.9v0.9h-0.9zM404.7 238.7h0.9v0.9h-0.9zM410.3 224.0h0.9v0.9h-0.9zM414.2 240.4h0.9v0.9h-0.9zM416.1 238.1h0.9v0.9h-0.9zM408.7 223.1h0.9v0.9h-0.9zM418.7 227.4h0.9v0.9h-0.9zM418.0 220.4h0.9v0.9h-0.9zM410.8 237.7h0.9v0.9h-0.9zM416.7 238.8h0.9v0.9h-0.9zM403.4 225.0h0.9v0.9h-0.9zM410.6 225.4h0.9v0.9h-0.9zM415.3 226.5h0.9v0.9h-0.9zM414.0 238.7h0.9v0.9h-0.9zM410.8 215.9h0.9v0.9h-0.9zM416.7 226.6h0.9v0.9h-0.9zM412.2 217.9h0.9v0.9h-0.9zM419.8 217.3h0.9v0.9h-0.9zM418.9 229.4h0.9v0.9h-0.9zM416.6 233.1h0.9v0.9h-0.9zM421.3 217.9h0.9v0.9h-0.9zM407.6 229.0h0.9v0.9h-0.9zM408.0 235.3h0.9v0.9h-0.9zM404.9 221.3h0.9v0.9h-0.9zM418.1 239.2h0.9v0.9h-0.9zM407.4 221.6h0.9v0.9h-0.9zM403.9 229.0h0.9v0.9h-0.9zM417.8 230.1h0.9v0.9h-0.9zM407.9 233.7h0.9v0.9h-0.9zM402.2 215.3h0.9v0.9h-0.9zM409.3 229.4h0.9v0.9h-0.9zM402.9 223.8h0.9v0.9h-0.9zM404.0 233.4h0.9v0.9h-0.9zM416.7 224.8h0.9v0.9h-0.9zM408.3 217.3h0.9v0.9h-0.9zM413.7 231.1h0.9v0.9h-0.9zM417.5 235.3h0.9v0.9h-0.9zM414.8 235.2h0.9v0.9h-0.9zM408.6 221.0h0.9v0.9h-0.9zM409.9 238.4h0.9v0.9h-0.9zM402.3 218.3h0.9v0.9h-0.9zM405.9 227.9h0.9v0.9h-0.9zM406.6 227.8h0.9v0.9h-0.9zM402.6 219.2h0.9v0.9h-0.9zM412.9 228.3h0.9v0.9h-0.9zM417.4 225.7h0.9v0.9h-0.9zM410.4 240.9h0.9v0.9h-0.9zM408.1 222.9h0.9v0.9h-0.9zM404.9 232.9h0.9v0.9h-0.9zM412.1 238.3h0.9v0.9h-0.9zM406.8 232.3h0.9v0.9h-0.9zM405.5 221.2h0.9v0.9h-0.9zM416.2 221.1h0.9v0.9h-0.9zM405.7 234.1h0.9v0.9h-0.9zM413.4 230.2h0.9v0.9h-0.9zM409.3 238.7h0.9v0.9h-0.9zM404.7 234.5h0.9v0.9h-0.9zM411.7 225.5h0.9v0.9h-0.9zM419.5 233.5h0.9v0.9h-0.9zM414.5 217.3h0.9v0.9h-0.9zM405.3 239.1h0.9v0.9h-0.9zM408.6 236.6h0.9v0.9h-0.9zM403.9 229.6h0.9v0.9h-0.9zM402.6 226.1h0.9v0.9h-0.9zM408.0 232.6h0.9v0.9h-0.9zM414.5 239.1h0.9v0.9h-0.9zM412.2 226.8h0.9v0.9h-0.9zM419.6 232.6h0.9v0.9h-0.9zM405.8 217.4h0.9v0.9h-0.9zM408.3 222.5h0.9v0.9h-0.9zM406.2 240.2h0.9v0.9h-0.9zM419.6 230.8h0.9v0.9h-0.9zM415.1 225.6h0.9v0.9h-0.9zM404.9 218.2h0.9v0.9h-0.9zM417.0 217.2h0.9v0.9h-0.9zM410.1 234.6h0.9v0.9h-0.9zM408.0 218.1h0.9v0.9h-0.9zM414.5 219.6h0.9v0.9h-0.9zM408.5 231.4h0.9v0.9h-0.9zM415.0 229.9h0.9v0.9h-0.9z"/>
<path fill="#b2b2b2" d="M403.2 219.2h0.9v0.9h-0.9zM414.9 231.2h0.9v0.9h-0.9zM412.7 227.3h0.9v0.9h-0.9zM416.1 235.6h0.9v0.9h-0.9zM414.1 229.0h0.9v0.9h-0.9zM413.1 237.1h0.9v0.9h-0.9zM402.3 234.3h0.9v0.9h-0.9zM412.1 231.7h0.9v0.9h-0.9zM408.5 227.6h0.9v0.9h-0.9zM421.1 234.3h0.9v0.9h-0.9zM418.1 238.4h0.9v0.9h-0.9zM415.6 228.5h0.9v0.9h-0.9zM408.9 215.4h0.9v0.9h-0.9zM413.1 232.0h0.9v0.9h-0.9zM416.0 237.0h0.9v0.9h-0.9zM418.4 235.8h0.9v0.9h-0.9zM404.4 232.6h0.9v0.9h-0.9zM415.0 237.5h0.9v0.9h-0.9zM408.5 218.6h0.9v0.9h-0.9zM402.9 236.3h0.9v0.9h-0.9zM403.0 240.2h0.9v0.9h-0.9zM411.4 220.7h0.9v0.9h-0.9zM419.4 228.7h0.9v0.9h-0.9zM412.3 218.0h0.9v0.9h-0.9zM415.1 228.1h0.9v0.9h-0.9zM407.5 237.0h0.9v0.9h-0.9zM419.3 222.8h0.9v0.9h-0.9zM414.5 234.5h0.9v0.9h-0.9zM403.6 240.6h0.9v0.9h-0.9zM402.8 229.6h0.9v0.9h-0.9zM406.0 216.2h0.9v0.9h-0.9zM409.2 228.8h0.9v0.9h-0.9zM418.7 218.4h0.9v0.9h-0.9zM404.0 238.8h0.9v0.9h-0.9zM404.7 239.6h0.9v0.9h-0.9zM419.7 230.7h0.9v0.9h-0.9zM412.9 227.8h0.9v0.9h-0.9zM402.6 219.1h0.9v0.9h-0.9zM408.7 216.7h0.9v0.9h-0.9zM407.9 216.7h0.9v0.9h-0.9zM408.4 239.3h0.9v0.9h-0.9zM416.9 225.4h0.9v0.9h-0.9zM403.2 229.3h0.9v0.9h-0.9zM405.1 240.8h0.9v0.9h-0.9zM405.1 239.8h0.9v0.9h-0.9zM411.6 222.2h0.9v0.9h-0.9zM408.4 218.8h0.9v0.9h-0.9zM410.6 224.7h0.9v0.9h-0.9zM404.8 219.5h0.9v0.9h-0.9zM408.3 222.8h0.9v0.9h-0.9zM416.9 233.6h0.9v0.9h-0.9zM411.8 227.6h0.9v0.9h-0.9zM409.5 232.8h0.9v0.9h-0.9zM410.5 227.9h0.9v0.9h-0.9zM409.6 230.8h0.9v0.9h-0.9zM402.2 238.7h0.9v0.9h-0.9zM421.5 235.9h0.9v0.9h-0.9zM418.8 232.0h0.9v0.9h-0.9zM415.0 240.8h0.9v0.9h-0.9zM416.2 230.9h0.9v0.9h-0.9zM418.6 229.6h0.9v0.9h-0.9zM409.4 231.9h0.9v0.9h-0.9zM416.3 218.6h0.9v0.9h-0.9zM419.2 238.2h0.9v0.9h-0.9zM414.3 232.0h0.9v0.9h-0.9zM411.8 222.6h0.9v0.9h-0.9zM419.3 217.0h0.9v0.9h-0.9zM413.9 218.1h0.9v0.9h-0.9zM420.2 240.2h0.9v0.9h-0.9zM411.6 238.5h0.9v0.9h-0.9zM420.5 219.6h0.9v0.9h-0.9zM420.3 225.0h0.9v0.9h-0.9zM421.1 223.0h0.9v0.9h-0.9zM412.8 216.3h0.9v0.9h-0.9zM405.2 215.4h0.9v0.9h-0.9zM403.6 228.4h0.9v0.9h-0.9zM415.7 217.3h0.9v0.9h-0.9zM406.3 239.7h0.9v0.9h-0.9zM404.9 240.6h0.9v0.9h-0.9zM419.0 235.2h0.9v0.9h-0.9zM403.8 234.5h0.9v0.9h-0.9zM418.5 227.9h0.9v0.9h-0.9zM404.8 230.8h0.9v0.9h-0.9zM409.9 232.8h0.9v0.9h-0.9zM411.2 235.8h0.9v0.9h-0.9zM405.8 222.2h0.9v0.9h-0.9zM408.7 227.4h0.9v0.9h-0.9zM413.2 231.4h0.9v0.9h-0.9zM417.2 233.0h0.9v0.9h-0.9zM409.3 220.5h0.9v0.9h-0.9zM404.6 226.8h0.9v0.9h-0.9zM411.5 235.0h0.9v0.9h-0.9zM411.4 230.2h0.9v0.9h-0.9zM411.3 219.5h0.9v0.9h-0.9zM419.4 216.2h0.9v0.9h-0.9zM405.8 218.0h0.9v0.9h-0.9zM412.8 239.6h0.9v0.9h-0.9zM403.3 233.6h0.9v0.9h-0.9zM403.0 235.7h0.9v0.9h-0.9zM408.6 234.0h0.9v0.9h-0.9zM417.2 228.9h0.9v0.9h-0.9zM421.5 234.8h0.9v0.9h-0.9zM403.8 222.9h0.9v0.9h-0.9zM413.7 218.9h0.9v0.9h-0.9zM407.7 238.8h0.9v0.9h-0.9zM407.3 228.3h0.9v0.9h-0.9zM412.9 220.7h0.9v0.9h-0.9zM416.2 224.2h0.9v0.9h-0.9zM407.1 223.0h0.9v0.9h-0.9zM410.7 224.8h0.9v0.9h-0.9zM408.7 232.2h0.9v0.9h-0.9zM414.3 226.4h0.9v0.9h-0.9zM415.1 226.9h0.9v0.9h-0.9zM410.2 229.8h0.9v0.9h-0.9zM410.2 231.1h0.9v0.9h-0.9zM411.5 224.7h0.9v0.9h-0.9zM403.2 228.4h0.9v0.9h-0.9zM407.3 215.9h0.9v0.9h-0.9zM417.1 229.2h0.9v0.9h-0.9zM421.7 236.7h0.9v0.9h-0.9zM410.6 235.3h0.9v0.9h-0.9zM420.6 227.0h0.9v0.9h-0.9zM415.8 237.7h0.9v0.9h-0.9zM412.0 225.5h0.9v0.9h-0.9zM406.6 215.1h0.9v0.9h-0.9zM407.5 234.7h0.9v0.9h-0.9zM419.9 231.5h0.9v0.9h-0.9zM417.1 226.1h0.9v0.9h-0.9zM409.6 220.7h0.9v0.9h-0.9zM405.6 221.2h0.9v0.9h-0.9zM410.9 239.5h0.9v0.9h-0.9zM410.4 232.5h0.9v0.9h-0.9zM407.9 219.5h0.9v0.9h-0.9zM408.8 223.7h0.9v0.9h-0.9zM414.7 215.9h0.9v0.9h-0.9zM419.9 217.3h0.9v0.9h-0.9zM408.9 232.8h0.9v0.9h-0.9zM413.0 233.0h0.9v0.9h-0.9zM416.2 221.5h0.9v0.9h-0.9zM409.4 220.7h0.9v0.9h-0.9zM419.5 240.9h0.9v0.9h-0.9zM418.6 236.1h0.9v0.9h-0.9zM408.2 225.9h0.9v0.9h-0.9zM404.5 238.6h0.9v0.9h-0.9zM405.7 227.8h0.9v0.9h-0.9zM412.9 231.4h0.9v0.9h-0.9zM417.9 218.8h0.9v0.9h-0.9zM414.1 232.1h0.9v0.9h-0.9zM404.7 220.4h0.9v0.9h-0.9zM416.3 230.0h0.9v0.9h-0.9zM402.4 238.3h0.9v0.9h-0.9zM407.3 241.0h0.9v0.9h-0.9zM408.6 239.8h0.9v0.9h-0.9zM421.5 226.4h0.9v0.9h-0.9zM411.3 222.4h0.9v0.9h-0.9zM402.2 215.8h0.9v0.9h-0.9zM408.6 219.0h0.9v0.9h-0.9zM406.0 230.7h0.9v0.9h-0.9zM402.4 223.7h0.9v0.9h-0.9zM407.3 219.4h0.9v0.9h-0.9zM412.8 240.0h0.9v0.9h-0.9z"/>
<path fill="#999" d="M402.1 238.3h0.9v0.9h-0.9zM402.7 219.3h0.9v0.9h-0.9zM402.6 218.8h0.9v0.9h-0.9zM402.5 233.9h0.9v0.9h-0.9zM402.4 238.6h0.9v0.9h-0.9zM402.2 226.9h0.9v0.9h-0.9zM402.5 219.5h0.9v0.9h-0.9zM402.1 218.9h0.9v0.9h-0.9zM402.7 236.4h0.9v0.9h-0.9zM402.6 218.3h0.9v0.9h-0.9zM402.2 220.0h0.9v0.9h-0.9zM408.1 240.7h0.9v0.9h-0.9zM416.7 241.1h0.9v0.9h-0.9zM408.9 240.6h0.9v0.9h-0.9zM405.2 240.8h0.9v0.9h-0.9zM419.1 241.2h0.9v0.9h-0.9zM402.4 241.2h0.9v0.9h-0.9zM413.9 240.7h0.9v0.9h-0.9z"/>
<path fill="#777" d="M402.3 236.0h0.9v0.9h-0.9zM402.6 215.4h0.9v0.9h-0.9zM402.6 225.3h0.9v0.9h-0.9zM402.1 225.5h0.9v0.9h-0.9zM402.2 234.8h0.9v0.9h-0.9zM402.4 215.8h0.9v0.9h-0.9zM402.4 227.3h0.9v0.9h-0.9zM402.6 238.5h0.9v0.9h-0.9zM402.3 232.1h0.9v0.9h-0.9zM402.5 222.9h0.9v0.9h-0.9zM402.3 224.6h0.9v0.9h-0.9zM402.2 238.1h0.9v0.9h-0.9zM402.4 240.9h0.9v0.9h-0.9zM412.8 241.0h0.9v0.9h-0.9zM406.5 240.8h0.9v0.9h-0.9zM407.3 240.8h0.9v0.9h-0.9zM402.1 241.0h0.9v0.9h-0.9zM410.5 240.8h0.9v0.9h-0.9zM406.1 240.8h0.9v0.9h-0.9zM421.7 240.6h0.9v0.9h-0.9zM410.9 240.7h0.9v0.9h-0.9zM407.8 240.6h0.9v0.9h-0.9zM413.9 240.7h0.9v0.9h-0.9zM418.8 241.2h0.9v0.9h-0.9zM405.5 240.6h0.9v0.9h-0.9zM414.1 240.6h0.9v0.9h-0.9zM415.3 240.8h0.9v0.9h-0.9z"/>
<path fill="#888" d="M402.2 223.1h0.9v0.9h-0.9zM402.3 235.7h0.9v0.9h-0.9zM402.6 240.2h0.9v0.9h-0.9zM402.7 227.5h0.9v0.9h-0.9zM402.7 238.1h0.9v0.9h-0.9zM402.1 221.7h0.9v0.9h-0.9zM402.2 226.0h0.9v0.9h-0.9zM402.7 239.6h0.9v0.9h-0.9zM402.3 218.4h0.9v0.9h-0.9zM402.7 239.2h0.9v0.9h-0.9zM402.5 224.7h0.9v0.9h-0.9zM402.4 235.3h0.9v0.9h-0.9zM402.6 238.1h0.9v0.9h-0.9zM402.4 217.1h0.9v0.9h-0.9zM402.0 225.1h0.9v0.9h-0.9zM402.8 233.1h0.9v0.9h-0.9zM410.7 240.6h0.9v0.9h-0.9zM408.9 240.8h0.9v0.9h-0.9zM412.1 241.1h0.9v0.9h-0.9zM415.4 241.0h0.9v0.9h-0.9zM402.7 241.1h0.9v0.9h-0.9zM407.4 240.6h0.9v0.9h-0.9zM407.6 241.1h0.9v0.9h-0.9zM420.6 240.8h0.9v0.9h-0.9zM410.7 240.6h0.9v0.9h-0.9z"/>
<path fill="#d0d0d0" d="M449.6 207.5h0.9v0.9h-0.9zM441.5 217.1h0.9v0.9h-0.9zM434.7 234.3h0.9v0.9h-0.9zM440.7 200.0h0.9v0.9h-0.9zM431.4 233.2h0.9v0.9h-0.9zM422.9 208.3h0.9v0.9h-0.9zM444.7 225.8h0.9v0.9h-0.9zM447.8 236.7h0.9v0.9h-0.9zM442.3 203.9h0.9v0.9h-0.9zM410.1 208.3h0.9v0.9h-0.9zM422.4 238.1h0.9v0.9h-0.9zM418.0 204.7h0.9v0.9h-0.9zM417.5 193.2h0.9v0.9h-0.9z"/>
<path fill="#d8d8d8" d="M432.5 230.2h0.9v0.9h-0.9zM445.0 234.8h0.9v0.9h-0.9zM445.5 202.1h0.9v0.9h-0.9zM414.0 208.3h0.9v0.9h-0.9zM434.8 211.1h0.9v0.9h-0.9zM431.9 237.7h0.9v0.9h-0.9zM441.0 189.8h0.9v0.9h-0.9zM433.5 230.2h0.9v0.9h-0.9zM450.5 213.1h0.9v0.9h-0.9zM431.0 199.8h0.9v0.9h-0.9zM454.0 228.3h0.9v0.9h-0.9zM429.9 204.5h0.9v0.9h-0.9zM428.1 208.0h0.9v0.9h-0.9z"/>
<path fill="#c8c8c8" d="M425.7 224.7h0.9v0.9h-0.9zM428.1 215.0h0.9v0.9h-0.9zM449.2 204.4h0.9v0.9h-0.9zM445.2 208.5h0.9v0.9h-0.9zM412.4 208.8h0.9v0.9h-0.9zM451.3 214.2h0.9v0.9h-0.9zM451.7 190.4h0.9v0.9h-0.9zM454.4 223.6h0.9v0.9h-0.9zM449.5 221.6h0.9v0.9h-0.9zM442.5 189.3h0.9v0.9h-0.9zM432.2 216.9h0.9v0.9h-0.9zM438.6 237.2h0.9v0.9h-0.9zM452.7 201.6h0.9v0.9h-0.9zM450.6 235.6h0.9v0.9h-0.9zM452.4 239.5h0.9v0.9h-0.9z"/>
<path fill="#c0c0c0" d="M404.3 206.2h0.9v0.9h-0.9zM405.8 210.6h0.9v0.9h-0.9zM421.1 212.3h0.9v0.9h-0.9zM408.2 210.6h0.9v0.9h-0.9zM404.0 212.9h0.9v0.9h-0.9zM418.4 209.6h0.9v0.9h-0.9zM411.1 213.2h0.9v0.9h-0.9zM412.9 213.0h0.9v0.9h-0.9zM416.4 209.7h0.9v0.9h-0.9zM405.6 207.7h0.9v0.9h-0.9zM404.5 211.4h0.9v0.9h-0.9zM421.1 210.4h0.9v0.9h-0.9zM413.3 212.3h0.9v0.9h-0.9zM419.7 206.8h0.9v0.9h-0.9zM412.0 208.2h0.9v0.9h-0.9zM415.4 209.5h0.9v0.9h-0.9z"/>
<path fill="#b5b5b5" d="M420.1 210.5h0.9v0.9h-0.9zM417.4 211.0h0.9v0.9h-0.9zM411.5 212.2h0.9v0.9h-0.9zM405.6 208.1h0.9v0.9h-0.9zM418.4 204.1h0.9v0.9h-0.9zM409.0 211.5h0.9v0.9h-0.9zM406.1 205.6h0.9v0.9h-0.9zM414.9 209.4h0.9v0.9h-0.9zM417.8 213.2h0.9v0.9h-0.9zM416.1 209.3h0.9v0.9h-0.9zM415.8 211.8h0.9v0.9h-0.9zM421.3 209.8h0.9v0.9h-0.9z"/>
<path fill="#cccccc" d="M410.7 212.3h0.9v0.9h-0.9zM409.7 211.9h0.9v0.9h-0.9zM413.6 210.0h0.9v0.9h-0.9zM408.9 210.6h0.9v0.9h-0.9zM404.7 211.9h0.9v0.9h-0.9zM408.5 211.8h0.9v0.9h-0.9zM407.2 211.7h0.9v0.9h-0.9z"/>
<path fill="#aaaaaa" d="M431.1 204.6h0.9v0.9h-0.9zM439.1 207.0h0.9v0.9h-0.9zM439.8 198.6h0.9v0.9h-0.9zM426.3 203.1h0.9v0.9h-0.9zM426.0 205.4h0.9v0.9h-0.9zM431.7 203.3h0.9v0.9h-0.9zM436.2 199.6h0.9v0.9h-0.9zM430.5 205.9h0.9v0.9h-0.9zM436.3 205.3h0.9v0.9h-0.9zM427.3 204.0h0.9v0.9h-0.9zM428.1 202.1h0.9v0.9h-0.9zM431.1 208.1h0.9v0.9h-0.9zM434.0 205.3h0.9v0.9h-0.9zM438.9 201.8h0.9v0.9h-0.9zM439.0 203.7h0.9v0.9h-0.9zM435.6 204.8h0.9v0.9h-0.9zM428.0 208.3h0.9v0.9h-0.9zM431.7 204.1h0.9v0.9h-0.9zM432.6 205.4h0.9v0.9h-0.9zM440.9 201.6h0.9v0.9h-0.9zM428.2 203.1h0.9v0.9h-0.9zM435.7 200.1h0.9v0.9h-0.9zM430.9 203.1h0.9v0.9h-0.9zM432.6 202.5h0.9v0.9h-0.9zM438.1 203.2h0.9v0.9h-0.9zM434.7 198.4h0.9v0.9h-0.9zM436.2 199.9h0.9v0.9h-0.9zM425.0 203.3h0.9v0.9h-0.9zM442.8 202.1h0.9v0.9h-0.9zM429.8 205.2h0.9v0.9h-0.9zM430.5 206.5h0.9v0.9h-0.9zM430.5 203.1h0.9v0.9h-0.9zM429.0 198.8h0.9v0.9h-0.9zM431.0 201.8h0.9v0.9h-0.9zM435.4 205.9h0.9v0.9h-0.9zM432.4 204.4h0.9v0.9h-0.9zM443.5 201.6h0.9v0.9h-0.9zM435.0 200.3h0.9v0.9h-0.9zM435.7 206.2h0.9v0.9h-0.9z"/>
<path fill="#9a9a9a" d="M439.2 203.1h0.9v0.9h-0.9zM424.3 201.3h0.9v0.9h-0.9zM439.2 207.7h0.9v0.9h-0.9zM426.0 204.2h0.9v0.9h-0.9zM428.6 202.9h0.9v0.9h-0.9zM434.0 202.1h0.9v0.9h-0.9zM433.2 200.1h0.9v0.9h-0.9zM430.6 200.7h0.9v0.9h-0.9zM434.8 200.9h0.9v0.9h-0.9zM436.9 199.4h0.9v0.9h-0.9zM432.8 203.4h0.9v0.9h-0.9zM438.0 203.7h0.9v0.9h-0.9zM435.5 205.5h0.9v0.9h-0.9zM437.8 199.4h0.9v0.9h-0.9zM433.6 201.8h0.9v0.9h-0.9zM432.6 206.0h0.9v0.9h-0.9zM430.7 201.7h0.9v0.9h-0.9zM428.7 204.6h0.9v0.9h-0.9zM428.0 205.3h0.9v0.9h-0.9zM448.2 204.5h0.9v0.9h-0.9zM445.4 202.3h0.9v0.9h-0.9zM436.7 208.8h0.9v0.9h-0.9zM439.3 199.2h0.9v0.9h-0.9zM440.6 204.7h0.9v0.9h-0.9zM431.6 204.8h0.9v0.9h-0.9zM432.5 203.2h0.9v0.9h-0.9zM432.1 207.1h0.9v0.9h-0.9zM429.7 202.0h0.9v0.9h-0.9zM436.2 206.8h0.9v0.9h-0.9zM427.6 204.5h0.9v0.9h-0.9zM433.2 201.7h0.9v0.9h-0.9z"/>
<path fill="#b8b8b8" d="M440.1 201.9h0.9v0.9h-0.9zM435.0 204.2h0.9v0.9h-0.9zM433.0 198.9h0.9v0.9h-0.9zM429.7 201.5h0.9v0.9h-0.9zM434.9 202.8h0.9v0.9h-0.9zM432.2 201.9h0.9v0.9h-0.9zM440.5 203.6h0.9v0.9h-0.9zM431.6 207.1h0.9v0.9h-0.9zM445.4 198.4h0.9v0.9h-0.9zM436.9 204.5h0.9v0.9h-0.9zM433.7 205.8h0.9v0.9h-0.9zM438.1 207.0h0.9v0.9h-0.9zM434.1 206.1h0.9v0.9h-0.9zM442.5 201.0h0.9v0.9h-0.9zM442.3 202.1h0.9v0.9h-0.9zM434.5 201.3h0.9v0.9h-0.9zM441.8 199.7h0.9v0.9h-0.9zM433.5 205.9h0.9v0.9h-0.9zM439.0 203.1h0.9v0.9h-0.9zM435.3 198.4h0.9v0.9h-0.9zM440.4 200.8h0.9v0.9h-0.9zM434.1 201.3h0.9v0.9h-0.9zM429.3 203.6h0.9v0.9h-0.9zM428.2 207.0h0.9v0.9h-0.9zM424.3 206.3h0.9v0.9h-0.9zM430.8 211.0h0.9v0.9h-0.9zM434.1 203.1h0.9v0.9h-0.9zM437.1 206.4h0.9v0.9h-0.9zM438.6 202.8h0.9v0.9h-0.9zM428.9 203.5h0.9v0.9h-0.9zM431.5 199.7h0.9v0.9h-0.9zM430.4 206.7h0.9v0.9h-0.9zM429.8 201.4h0.9v0.9h-0.9zM436.6 204.9h0.9v0.9h-0.9zM440.1 204.4h0.9v0.9h-0.9zM431.1 205.3h0.9v0.9h-0.9zM430.7 202.1h0.9v0.9h-0.9z"/>
<path fill="#7a7a7a" d="M429.8 197.3h0.9v0.9h-0.9zM428.8 207.2h0.9v0.9h-0.9zM428.7 202.0h0.9v0.9h-0.9zM433.6 203.4h0.9v0.9h-0.9zM426.1 201.8h0.9v0.9h-0.9zM433.2 203.9h0.9v0.9h-0.9zM425.5 203.1h0.9v0.9h-0.9zM435.7 203.1h0.9v0.9h-0.9zM430.4 201.0h0.9v0.9h-0.9zM434.5 207.7h0.9v0.9h-0.9zM432.9 202.8h0.9v0.9h-0.9zM433.3 203.3h0.9v0.9h-0.9zM437.0 207.4h0.9v0.9h-0.9zM449.6 204.4h0.9v0.9h-0.9zM446.9 203.6h0.9v0.9h-0.9zM431.7 208.4h0.9v0.9h-0.9zM439.9 205.5h0.9v0.9h-0.9zM428.9 202.7h0.9v0.9h-0.9zM442.1 206.8h0.9v0.9h-0.9zM429.9 205.0h0.9v0.9h-0.9zM433.3 205.0h0.9v0.9h-0.9zM426.2 203.1h0.9v0.9h-0.9zM440.6 208.8h0.9v0.9h-0.9zM438.5 208.0h0.9v0.9h-0.9zM425.9 204.5h0.9v0.9h-0.9zM442.0 200.3h0.9v0.9h-0.9zM429.2 199.3h0.9v0.9h-0.9zM434.2 204.9h0.9v0.9h-0.9zM435.3 204.6h0.9v0.9h-0.9zM438.0 201.5h0.9v0.9h-0.9zM426.8 202.8h0.9v0.9h-0.9zM427.8 202.5h0.9v0.9h-0.9z"/>
</g>
<line x1="422.3" y1="187.5" x2="422.3" y2="242.0" stroke="#888" stroke-width="0.8"/>
<line x1="401.5" y1="214.3" x2="456.0" y2="214.3" stroke="#888" stroke-width="0.8"/>
<text x="452.6" y="196.75" font-size="6.8" text-anchor="end" textLength="11.3" lengthAdjust="spacingAndGlyphs" fill="#444" stroke="#444" stroke-width="0.2">11.2</text>
<text x="402.7" y="191.1" font-size="3" fill="#999">UL</text>
<text x="454.8" y="240.8" font-size="3" text-anchor="end" fill="#999">LR</text>
<rect x="462.9" y="187.2" width="55.1" height="54.8" fill="#fff" stroke="#aaa" stroke-width="0.8"/>
<g filter="url(#bl)">
<path fill="#7a7a7a" d="M469.7 237.9h0.9v0.9h-0.9zM465.3 225.4h0.9v0.9h-0.9zM463.8 236.6h0.9v0.9h-0.9zM464.2 219.5h0.9v0.9h-0.9zM475.1 241.2h0.9v0.9h-0.9zM477.9 219.3h0.9v0.9h-0.9zM471.9 220.0h0.9v0.9h-0.9zM465.7 233.3h0.9v0.9h-0.9zM481.8 219.1h0.9v0.9h-0.9zM477.9 219.7h0.9v0.9h-0.9zM466.8 240.3h0.9v0.9h-0.9zM469.9 233.9h0.9v0.9h-0.9zM468.1 228.5h0.9v0.9h-0.9zM476.1 220.9h0.9v0.9h-0.9zM475.1 232.2h0.9v0.9h-0.9zM474.4 220.8h0.9v0.9h-0.9zM467.3 239.1h0.9v0.9h-0.9zM464.6 229.0h0.9v0.9h-0.9zM478.0 218.1h0.9v0.9h-0.9zM465.6 231.8h0.9v0.9h-0.9zM483.1 233.7h0.9v0.9h-0.9zM478.8 230.7h0.9v0.9h-0.9zM481.7 227.5h0.9v0.9h-0.9zM475.8 232.1h0.9v0.9h-0.9zM472.5 218.9h0.9v0.9h-0.9zM479.5 229.1h0.9v0.9h-0.9zM476.8 218.1h0.9v0.9h-0.9zM465.8 232.7h0.9v0.9h-0.9zM466.6 224.2h0.9v0.9h-0.9zM475.0 237.1h0.9v0.9h-0.9zM473.7 220.1h0.9v0.9h-0.9zM469.7 225.7h0.9v0.9h-0.9zM480.1 225.2h0.9v0.9h-0.9zM475.5 240.3h0.9v0.9h-0.9zM476.3 227.9h0.9v0.9h-0.9zM480.8 229.4h0.9v0.9h-0.9zM472.7 230.2h0.9v0.9h-0.9zM481.7 234.1h0.9v0.9h-0.9zM463.8 234.3h0.9v0.9h-0.9zM464.7 221.4h0.9v0.9h-0.9zM475.9 237.8h0.9v0.9h-0.9zM482.5 227.7h0.9v0.9h-0.9zM477.4 240.4h0.9v0.9h-0.9zM470.5 228.8h0.9v0.9h-0.9zM474.0 239.8h0.9v0.9h-0.9zM476.4 223.4h0.9v0.9h-0.9zM466.6 241.2h0.9v0.9h-0.9zM470.6 241.3h0.9v0.9h-0.9zM472.0 233.9h0.9v0.9h-0.9zM479.3 221.1h0.9v0.9h-0.9zM479.9 225.3h0.9v0.9h-0.9zM480.2 240.6h0.9v0.9h-0.9zM476.2 239.9h0.9v0.9h-0.9zM471.2 217.2h0.9v0.9h-0.9zM464.6 221.7h0.9v0.9h-0.9zM483.0 227.5h0.9v0.9h-0.9zM466.7 225.3h0.9v0.9h-0.9zM472.1 239.3h0.9v0.9h-0.9zM470.6 224.1h0.9v0.9h-0.9zM465.9 219.0h0.9v0.9h-0.9zM468.0 234.8h0.9v0.9h-0.9zM470.0 218.6h0.9v0.9h-0.9zM481.9 219.1h0.9v0.9h-0.9zM479.2 218.9h0.9v0.9h-0.9zM467.3 230.8h0.9v0.9h-0.9zM482.5 230.5h0.9v0.9h-0.9zM472.8 234.8h0.9v0.9h-0.9zM479.3 215.3h0.9v0.9h-0.9zM465.2 222.1h0.9v0.9h-0.9zM482.5 232.6h0.9v0.9h-0.9zM466.9 217.7h0.9v0.9h-0.9zM470.0 225.0h0.9v0.9h-0.9zM477.7 223.7h0.9v0.9h-0.9zM471.1 233.2h0.9v0.9h-0.9zM473.2 223.0h0.9v0.9h-0.9zM480.0 239.7h0.9v0.9h-0.9zM467.4 235.6h0.9v0.9h-0.9zM467.8 218.7h0.9v0.9h-0.9zM474.0 233.3h0.9v0.9h-0.9zM479.1 234.3h0.9v0.9h-0.9zM482.6 216.3h0.9v0.9h-0.9zM477.9 215.7h0.9v0.9h-0.9zM481.9 228.2h0.9v0.9h-0.9zM477.3 216.0h0.9v0.9h-0.9zM476.3 237.4h0.9v0.9h-0.9zM479.2 238.8h0.9v0.9h-0.9zM479.4 228.5h0.9v0.9h-0.9zM480.6 220.9h0.9v0.9h-0.9zM468.3 224.5h0.9v0.9h-0.9zM468.8 218.0h0.9v0.9h-0.9zM468.2 231.9h0.9v0.9h-0.9zM470.7 234.3h0.9v0.9h-0.9zM474.1 218.9h0.9v0.9h-0.9zM478.6 216.6h0.9v0.9h-0.9zM482.3 234.8h0.9v0.9h-0.9zM463.6 219.4h0.9v0.9h-0.9zM481.8 223.7h0.9v0.9h-0.9zM480.5 232.0h0.9v0.9h-0.9zM478.1 223.5h0.9v0.9h-0.9zM469.1 240.7h0.9v0.9h-0.9zM474.5 238.9h0.9v0.9h-0.9zM482.1 227.2h0.9v0.9h-0.9zM465.6 237.9h0.9v0.9h-0.9zM473.1 227.3h0.9v0.9h-0.9zM467.0 225.0h0.9v0.9h-0.9zM472.1 223.8h0.9v0.9h-0.9zM477.9 226.2h0.9v0.9h-0.9zM475.3 222.7h0.9v0.9h-0.9zM481.4 215.7h0.9v0.9h-0.9zM481.9 219.2h0.9v0.9h-0.9zM470.3 227.6h0.9v0.9h-0.9zM464.9 222.1h0.9v0.9h-0.9zM472.3 240.0h0.9v0.9h-0.9zM473.7 233.7h0.9v0.9h-0.9zM469.1 234.6h0.9v0.9h-0.9zM475.6 222.2h0.9v0.9h-0.9zM463.7 240.2h0.9v0.9h-0.9zM477.3 217.6h0.9v0.9h-0.9zM468.1 225.0h0.9v0.9h-0.9zM471.4 237.6h0.9v0.9h-0.9zM481.3 236.0h0.9v0.9h-0.9zM470.2 239.1h0.9v0.9h-0.9zM464.4 237.1h0.9v0.9h-0.9zM472.8 217.1h0.9v0.9h-0.9zM469.0 218.8h0.9v0.9h-0.9zM468.4 235.0h0.9v0.9h-0.9zM467.4 216.0h0.9v0.9h-0.9zM480.8 216.2h0.9v0.9h-0.9zM471.3 220.0h0.9v0.9h-0.9zM468.3 240.8h0.9v0.9h-0.9zM478.3 225.3h0.9v0.9h-0.9zM481.9 225.1h0.9v0.9h-0.9zM477.7 235.3h0.9v0.9h-0.9zM483.0 237.4h0.9v0.9h-0.9z"/>
<path fill="#8a8a8a" d="M482.9 230.5h0.9v0.9h-0.9zM482.8 223.7h0.9v0.9h-0.9zM478.0 236.8h0.9v0.9h-0.9zM482.6 232.8h0.9v0.9h-0.9zM466.5 234.0h0.9v0.9h-0.9zM467.0 216.3h0.9v0.9h-0.9zM470.8 236.6h0.9v0.9h-0.9zM468.4 239.1h0.9v0.9h-0.9zM472.9 223.2h0.9v0.9h-0.9zM475.8 217.4h0.9v0.9h-0.9zM472.1 234.9h0.9v0.9h-0.9zM478.8 230.5h0.9v0.9h-0.9zM474.4 215.8h0.9v0.9h-0.9zM464.8 229.6h0.9v0.9h-0.9zM463.9 230.5h0.9v0.9h-0.9zM464.7 241.2h0.9v0.9h-0.9zM467.3 225.3h0.9v0.9h-0.9zM470.2 238.9h0.9v0.9h-0.9zM474.9 224.2h0.9v0.9h-0.9zM481.7 228.0h0.9v0.9h-0.9zM472.9 220.9h0.9v0.9h-0.9zM478.5 241.3h0.9v0.9h-0.9zM476.5 215.3h0.9v0.9h-0.9zM466.6 218.0h0.9v0.9h-0.9zM480.3 240.6h0.9v0.9h-0.9zM464.9 237.1h0.9v0.9h-0.9zM469.5 241.1h0.9v0.9h-0.9zM475.5 217.0h0.9v0.9h-0.9zM475.1 231.4h0.9v0.9h-0.9zM472.3 239.8h0.9v0.9h-0.9zM467.8 236.6h0.9v0.9h-0.9zM476.8 237.0h0.9v0.9h-0.9zM481.3 227.7h0.9v0.9h-0.9zM480.3 227.6h0.9v0.9h-0.9zM482.3 216.6h0.9v0.9h-0.9zM473.2 219.0h0.9v0.9h-0.9zM482.6 230.4h0.9v0.9h-0.9zM464.1 223.8h0.9v0.9h-0.9zM479.9 229.1h0.9v0.9h-0.9zM477.2 241.0h0.9v0.9h-0.9zM481.6 227.2h0.9v0.9h-0.9zM472.0 222.3h0.9v0.9h-0.9zM463.8 229.3h0.9v0.9h-0.9zM480.1 228.0h0.9v0.9h-0.9zM473.0 216.0h0.9v0.9h-0.9zM465.9 238.7h0.9v0.9h-0.9zM472.9 230.3h0.9v0.9h-0.9zM483.2 238.9h0.9v0.9h-0.9zM478.6 233.5h0.9v0.9h-0.9zM482.3 221.3h0.9v0.9h-0.9zM475.2 239.3h0.9v0.9h-0.9zM469.2 237.8h0.9v0.9h-0.9zM470.3 227.7h0.9v0.9h-0.9zM482.1 239.4h0.9v0.9h-0.9zM477.8 235.6h0.9v0.9h-0.9zM472.1 216.9h0.9v0.9h-0.9zM477.8 216.5h0.9v0.9h-0.9zM478.6 238.6h0.9v0.9h-0.9zM481.6 239.9h0.9v0.9h-0.9zM470.0 226.6h0.9v0.9h-0.9zM477.7 232.3h0.9v0.9h-0.9zM477.4 233.8h0.9v0.9h-0.9zM479.8 217.2h0.9v0.9h-0.9zM464.1 215.5h0.9v0.9h-0.9zM471.3 218.4h0.9v0.9h-0.9zM476.2 241.2h0.9v0.9h-0.9zM473.9 239.6h0.9v0.9h-0.9zM481.9 236.7h0.9v0.9h-0.9zM475.1 233.4h0.9v0.9h-0.9zM471.2 233.5h0.9v0.9h-0.9zM476.1 225.9h0.9v0.9h-0.9zM475.4 233.9h0.9v0.9h-0.9zM468.3 224.3h0.9v0.9h-0.9zM465.2 226.7h0.9v0.9h-0.9zM466.5 221.0h0.9v0.9h-0.9zM471.9 232.2h0.9v0.9h-0.9zM474.1 232.0h0.9v0.9h-0.9zM476.5 231.0h0.9v0.9h-0.9zM480.9 221.5h0.9v0.9h-0.9zM475.6 240.5h0.9v0.9h-0.9zM471.1 233.9h0.9v0.9h-0.9zM463.6 221.4h0.9v0.9h-0.9zM473.0 222.3h0.9v0.9h-0.9zM472.4 230.8h0.9v0.9h-0.9zM482.3 218.2h0.9v0.9h-0.9zM481.9 224.2h0.9v0.9h-0.9zM465.9 238.7h0.9v0.9h-0.9zM474.3 232.4h0.9v0.9h-0.9zM468.3 235.5h0.9v0.9h-0.9zM467.4 237.9h0.9v0.9h-0.9zM472.6 219.7h0.9v0.9h-0.9zM483.1 217.8h0.9v0.9h-0.9zM471.1 240.5h0.9v0.9h-0.9zM475.1 234.6h0.9v0.9h-0.9zM472.1 218.9h0.9v0.9h-0.9zM479.0 230.1h0.9v0.9h-0.9zM478.1 221.4h0.9v0.9h-0.9zM469.1 241.3h0.9v0.9h-0.9zM480.6 221.1h0.9v0.9h-0.9zM466.4 229.5h0.9v0.9h-0.9zM473.6 229.6h0.9v0.9h-0.9zM463.9 233.3h0.9v0.9h-0.9zM467.6 221.8h0.9v0.9h-0.9zM480.5 220.0h0.9v0.9h-0.9zM477.8 218.5h0.9v0.9h-0.9zM467.3 229.4h0.9v0.9h-0.9zM468.8 217.2h0.9v0.9h-0.9zM465.0 215.9h0.9v0.9h-0.9zM464.3 229.6h0.9v0.9h-0.9zM478.5 226.6h0.9v0.9h-0.9zM475.8 225.5h0.9v0.9h-0.9zM470.8 216.8h0.9v0.9h-0.9zM469.9 236.6h0.9v0.9h-0.9zM468.7 237.5h0.9v0.9h-0.9zM467.3 235.5h0.9v0.9h-0.9zM480.0 234.2h0.9v0.9h-0.9zM477.9 239.6h0.9v0.9h-0.9zM470.8 236.8h0.9v0.9h-0.9zM479.2 233.4h0.9v0.9h-0.9zM469.9 239.3h0.9v0.9h-0.9zM474.8 239.5h0.9v0.9h-0.9zM471.3 223.9h0.9v0.9h-0.9zM477.3 219.6h0.9v0.9h-0.9zM464.2 241.1h0.9v0.9h-0.9zM474.6 221.7h0.9v0.9h-0.9zM482.9 220.6h0.9v0.9h-0.9zM470.2 239.7h0.9v0.9h-0.9zM474.5 215.5h0.9v0.9h-0.9zM465.2 236.9h0.9v0.9h-0.9zM471.0 231.5h0.9v0.9h-0.9zM469.8 240.2h0.9v0.9h-0.9zM467.2 240.3h0.9v0.9h-0.9zM470.0 231.9h0.9v0.9h-0.9zM481.2 223.1h0.9v0.9h-0.9zM466.4 236.4h0.9v0.9h-0.9zM472.1 240.2h0.9v0.9h-0.9zM477.5 227.3h0.9v0.9h-0.9z"/>
<path fill="#9a9a9a" d="M466.3 232.5h0.9v0.9h-0.9zM465.3 231.8h0.9v0.9h-0.9zM482.7 222.0h0.9v0.9h-0.9zM469.4 216.7h0.9v0.9h-0.9zM474.7 235.5h0.9v0.9h-0.9zM477.7 224.2h0.9v0.9h-0.9zM474.3 217.6h0.9v0.9h-0.9zM478.7 235.3h0.9v0.9h-0.9zM473.7 215.7h0.9v0.9h-0.9zM464.3 226.4h0.9v0.9h-0.9zM483.4 222.0h0.9v0.9h-0.9zM471.5 225.7h0.9v0.9h-0.9zM477.7 216.2h0.9v0.9h-0.9zM479.9 230.7h0.9v0.9h-0.9zM468.1 231.3h0.9v0.9h-0.9zM477.7 216.4h0.9v0.9h-0.9zM483.3 235.2h0.9v0.9h-0.9zM470.4 228.5h0.9v0.9h-0.9zM473.5 220.4h0.9v0.9h-0.9zM469.5 223.2h0.9v0.9h-0.9zM480.4 221.2h0.9v0.9h-0.9zM479.6 219.4h0.9v0.9h-0.9zM467.3 229.8h0.9v0.9h-0.9zM478.9 216.3h0.9v0.9h-0.9zM476.3 236.2h0.9v0.9h-0.9zM468.5 230.6h0.9v0.9h-0.9zM482.4 233.1h0.9v0.9h-0.9zM471.5 228.9h0.9v0.9h-0.9zM463.9 226.9h0.9v0.9h-0.9zM475.4 230.9h0.9v0.9h-0.9zM465.6 220.3h0.9v0.9h-0.9zM471.7 222.9h0.9v0.9h-0.9zM476.8 239.3h0.9v0.9h-0.9zM483.0 227.0h0.9v0.9h-0.9zM466.6 230.4h0.9v0.9h-0.9zM473.6 226.5h0.9v0.9h-0.9zM470.8 220.7h0.9v0.9h-0.9zM466.3 218.7h0.9v0.9h-0.9zM479.6 218.9h0.9v0.9h-0.9zM466.0 229.1h0.9v0.9h-0.9zM467.0 233.4h0.9v0.9h-0.9zM468.1 216.5h0.9v0.9h-0.9zM478.4 236.2h0.9v0.9h-0.9zM474.3 222.7h0.9v0.9h-0.9zM468.7 240.1h0.9v0.9h-0.9zM468.7 227.7h0.9v0.9h-0.9zM469.7 220.5h0.9v0.9h-0.9zM467.0 217.0h0.9v0.9h-0.9zM471.9 218.3h0.9v0.9h-0.9zM472.9 236.4h0.9v0.9h-0.9zM472.5 215.8h0.9v0.9h-0.9zM466.3 224.9h0.9v0.9h-0.9zM482.6 223.6h0.9v0.9h-0.9zM477.5 219.3h0.9v0.9h-0.9zM471.9 238.4h0.9v0.9h-0.9zM483.2 238.5h0.9v0.9h-0.9zM464.2 224.8h0.9v0.9h-0.9zM478.4 222.8h0.9v0.9h-0.9zM475.3 220.9h0.9v0.9h-0.9zM483.3 228.3h0.9v0.9h-0.9zM478.3 235.5h0.9v0.9h-0.9zM474.7 229.3h0.9v0.9h-0.9zM465.5 226.2h0.9v0.9h-0.9zM473.2 217.6h0.9v0.9h-0.9zM474.6 240.2h0.9v0.9h-0.9zM470.8 239.3h0.9v0.9h-0.9zM472.7 229.2h0.9v0.9h-0.9zM480.0 216.6h0.9v0.9h-0.9zM467.5 230.8h0.9v0.9h-0.9zM470.8 227.2h0.9v0.9h-0.9zM478.4 221.1h0.9v0.9h-0.9zM478.8 216.2h0.9v0.9h-0.9zM480.1 218.6h0.9v0.9h-0.9zM481.7 216.7h0.9v0.9h-0.9zM471.8 222.6h0.9v0.9h-0.9zM478.0 235.3h0.9v0.9h-0.9zM481.1 228.0h0.9v0.9h-0.9zM465.4 226.5h0.9v0.9h-0.9zM480.8 229.5h0.9v0.9h-0.9zM466.8 234.3h0.9v0.9h-0.9zM472.2 217.3h0.9v0.9h-0.9zM473.5 237.1h0.9v0.9h-0.9zM475.5 233.5h0.9v0.9h-0.9zM475.5 232.9h0.9v0.9h-0.9zM464.1 232.0h0.9v0.9h-0.9zM479.5 224.1h0.9v0.9h-0.9zM480.7 235.1h0.9v0.9h-0.9zM464.9 217.2h0.9v0.9h-0.9zM469.1 216.0h0.9v0.9h-0.9zM479.0 223.0h0.9v0.9h-0.9zM471.7 220.5h0.9v0.9h-0.9zM481.1 235.8h0.9v0.9h-0.9zM476.0 216.2h0.9v0.9h-0.9zM467.4 220.9h0.9v0.9h-0.9zM477.7 225.1h0.9v0.9h-0.9zM476.1 217.3h0.9v0.9h-0.9zM479.9 228.4h0.9v0.9h-0.9zM468.7 224.6h0.9v0.9h-0.9zM471.9 226.8h0.9v0.9h-0.9zM469.5 240.2h0.9v0.9h-0.9zM477.2 229.4h0.9v0.9h-0.9zM476.9 222.1h0.9v0.9h-0.9zM474.6 216.5h0.9v0.9h-0.9zM466.5 238.4h0.9v0.9h-0.9zM478.7 224.6h0.9v0.9h-0.9zM477.9 240.5h0.9v0.9h-0.9zM479.7 224.4h0.9v0.9h-0.9zM473.3 231.0h0.9v0.9h-0.9zM467.8 228.0h0.9v0.9h-0.9zM479.9 215.8h0.9v0.9h-0.9zM473.6 238.5h0.9v0.9h-0.9zM477.5 240.0h0.9v0.9h-0.9zM481.3 238.3h0.9v0.9h-0.9zM478.7 223.8h0.9v0.9h-0.9zM478.6 235.6h0.9v0.9h-0.9zM481.3 222.4h0.9v0.9h-0.9zM469.6 218.0h0.9v0.9h-0.9zM477.6 218.8h0.9v0.9h-0.9zM464.7 227.9h0.9v0.9h-0.9zM471.8 226.5h0.9v0.9h-0.9zM465.8 232.7h0.9v0.9h-0.9zM464.1 223.7h0.9v0.9h-0.9zM472.1 238.3h0.9v0.9h-0.9zM474.5 226.5h0.9v0.9h-0.9zM467.9 229.4h0.9v0.9h-0.9zM477.3 224.1h0.9v0.9h-0.9z"/>
<path fill="#aaaaaa" d="M483.0 229.8h0.9v0.9h-0.9zM476.0 217.6h0.9v0.9h-0.9zM483.1 220.4h0.9v0.9h-0.9zM482.2 237.2h0.9v0.9h-0.9zM477.5 238.3h0.9v0.9h-0.9zM474.4 223.6h0.9v0.9h-0.9zM465.9 233.6h0.9v0.9h-0.9zM473.5 239.6h0.9v0.9h-0.9zM473.0 218.7h0.9v0.9h-0.9zM473.4 236.5h0.9v0.9h-0.9zM468.5 241.3h0.9v0.9h-0.9zM467.0 219.2h0.9v0.9h-0.9zM480.8 228.0h0.9v0.9h-0.9zM481.7 227.1h0.9v0.9h-0.9zM474.4 235.5h0.9v0.9h-0.9zM463.5 228.3h0.9v0.9h-0.9zM477.1 235.7h0.9v0.9h-0.9zM479.6 220.7h0.9v0.9h-0.9zM481.7 221.6h0.9v0.9h-0.9zM463.7 230.3h0.9v0.9h-0.9zM467.8 239.5h0.9v0.9h-0.9zM476.2 223.6h0.9v0.9h-0.9zM469.5 221.0h0.9v0.9h-0.9zM466.1 221.4h0.9v0.9h-0.9zM467.3 221.2h0.9v0.9h-0.9zM472.6 238.8h0.9v0.9h-0.9zM465.2 234.6h0.9v0.9h-0.9zM470.2 223.5h0.9v0.9h-0.9zM469.2 216.0h0.9v0.9h-0.9zM483.3 226.3h0.9v0.9h-0.9zM466.7 221.9h0.9v0.9h-0.9zM469.8 216.6h0.9v0.9h-0.9zM475.3 241.0h0.9v0.9h-0.9zM467.5 236.8h0.9v0.9h-0.9zM471.0 238.8h0.9v0.9h-0.9zM483.1 234.8h0.9v0.9h-0.9zM481.7 237.3h0.9v0.9h-0.9zM470.1 233.5h0.9v0.9h-0.9zM467.1 232.9h0.9v0.9h-0.9zM467.9 237.2h0.9v0.9h-0.9zM472.6 217.5h0.9v0.9h-0.9zM472.0 224.2h0.9v0.9h-0.9zM470.8 217.0h0.9v0.9h-0.9zM479.7 231.4h0.9v0.9h-0.9zM468.4 239.4h0.9v0.9h-0.9zM472.5 235.5h0.9v0.9h-0.9zM468.6 217.6h0.9v0.9h-0.9zM471.5 240.7h0.9v0.9h-0.9zM465.1 223.7h0.9v0.9h-0.9zM482.0 237.9h0.9v0.9h-0.9zM467.8 220.0h0.9v0.9h-0.9zM479.8 226.0h0.9v0.9h-0.9zM481.8 239.9h0.9v0.9h-0.9zM482.6 238.3h0.9v0.9h-0.9zM479.7 227.7h0.9v0.9h-0.9zM465.0 234.3h0.9v0.9h-0.9zM471.2 216.4h0.9v0.9h-0.9zM477.9 232.3h0.9v0.9h-0.9zM465.0 216.6h0.9v0.9h-0.9zM482.3 221.3h0.9v0.9h-0.9zM482.4 217.4h0.9v0.9h-0.9zM479.0 217.6h0.9v0.9h-0.9zM479.6 233.2h0.9v0.9h-0.9zM467.9 230.2h0.9v0.9h-0.9zM478.4 221.4h0.9v0.9h-0.9zM466.1 239.3h0.9v0.9h-0.9zM468.6 236.7h0.9v0.9h-0.9zM466.3 222.5h0.9v0.9h-0.9zM465.3 230.7h0.9v0.9h-0.9zM481.9 226.2h0.9v0.9h-0.9zM470.8 228.6h0.9v0.9h-0.9zM466.5 227.2h0.9v0.9h-0.9zM477.4 238.4h0.9v0.9h-0.9zM483.1 232.7h0.9v0.9h-0.9zM466.2 229.2h0.9v0.9h-0.9zM479.4 216.3h0.9v0.9h-0.9zM476.4 241.3h0.9v0.9h-0.9zM479.6 223.3h0.9v0.9h-0.9zM478.9 235.2h0.9v0.9h-0.9zM477.9 221.9h0.9v0.9h-0.9zM464.2 231.5h0.9v0.9h-0.9zM476.8 218.5h0.9v0.9h-0.9zM478.6 237.0h0.9v0.9h-0.9zM463.7 231.0h0.9v0.9h-0.9zM479.5 219.0h0.9v0.9h-0.9zM463.9 226.1h0.9v0.9h-0.9zM464.5 233.9h0.9v0.9h-0.9zM470.0 232.5h0.9v0.9h-0.9zM480.1 218.2h0.9v0.9h-0.9zM480.2 235.9h0.9v0.9h-0.9zM467.1 238.4h0.9v0.9h-0.9zM467.2 228.0h0.9v0.9h-0.9zM476.2 216.4h0.9v0.9h-0.9zM474.4 219.0h0.9v0.9h-0.9zM477.8 231.0h0.9v0.9h-0.9zM471.0 224.9h0.9v0.9h-0.9zM470.7 222.1h0.9v0.9h-0.9zM465.4 219.3h0.9v0.9h-0.9zM476.9 216.4h0.9v0.9h-0.9zM467.2 231.7h0.9v0.9h-0.9zM470.1 217.0h0.9v0.9h-0.9zM469.1 220.5h0.9v0.9h-0.9zM479.3 223.8h0.9v0.9h-0.9zM478.2 234.3h0.9v0.9h-0.9zM477.6 239.4h0.9v0.9h-0.9zM471.1 221.3h0.9v0.9h-0.9zM464.4 234.2h0.9v0.9h-0.9zM481.1 222.8h0.9v0.9h-0.9zM470.7 233.6h0.9v0.9h-0.9zM465.9 222.4h0.9v0.9h-0.9zM463.8 221.3h0.9v0.9h-0.9zM468.3 232.0h0.9v0.9h-0.9zM464.6 228.0h0.9v0.9h-0.9zM468.9 228.5h0.9v0.9h-0.9zM468.7 218.6h0.9v0.9h-0.9zM471.8 235.7h0.9v0.9h-0.9zM477.7 229.2h0.9v0.9h-0.9zM473.7 220.5h0.9v0.9h-0.9zM479.2 239.3h0.9v0.9h-0.9zM473.5 226.1h0.9v0.9h-0.9zM472.0 216.5h0.9v0.9h-0.9zM478.9 239.4h0.9v0.9h-0.9zM481.5 220.6h0.9v0.9h-0.9zM467.5 237.7h0.9v0.9h-0.9zM481.5 238.4h0.9v0.9h-0.9zM476.3 238.2h0.9v0.9h-0.9z"/>
<path fill="#bababa" d="M472.3 240.2h0.9v0.9h-0.9zM483.3 234.9h0.9v0.9h-0.9zM464.8 237.1h0.9v0.9h-0.9zM480.1 234.7h0.9v0.9h-0.9zM479.8 238.0h0.9v0.9h-0.9zM481.0 221.9h0.9v0.9h-0.9zM473.2 222.3h0.9v0.9h-0.9zM470.3 220.8h0.9v0.9h-0.9zM482.7 226.7h0.9v0.9h-0.9zM483.2 235.7h0.9v0.9h-0.9zM466.7 241.0h0.9v0.9h-0.9zM473.2 217.5h0.9v0.9h-0.9zM474.8 217.0h0.9v0.9h-0.9zM464.2 235.0h0.9v0.9h-0.9zM464.5 240.2h0.9v0.9h-0.9zM468.8 227.1h0.9v0.9h-0.9zM464.0 233.6h0.9v0.9h-0.9zM477.9 238.1h0.9v0.9h-0.9zM471.2 223.3h0.9v0.9h-0.9zM479.1 216.0h0.9v0.9h-0.9zM476.2 219.1h0.9v0.9h-0.9zM477.1 223.9h0.9v0.9h-0.9zM478.4 234.6h0.9v0.9h-0.9zM469.9 216.9h0.9v0.9h-0.9zM465.3 231.3h0.9v0.9h-0.9zM478.8 240.6h0.9v0.9h-0.9zM470.4 241.2h0.9v0.9h-0.9zM475.4 227.9h0.9v0.9h-0.9zM477.1 217.1h0.9v0.9h-0.9zM479.8 224.1h0.9v0.9h-0.9zM476.0 224.7h0.9v0.9h-0.9zM472.8 217.7h0.9v0.9h-0.9zM481.1 236.9h0.9v0.9h-0.9zM477.4 226.7h0.9v0.9h-0.9zM482.2 231.0h0.9v0.9h-0.9zM478.4 215.5h0.9v0.9h-0.9zM474.3 219.2h0.9v0.9h-0.9zM471.4 239.5h0.9v0.9h-0.9zM482.1 238.7h0.9v0.9h-0.9zM471.8 216.4h0.9v0.9h-0.9zM464.4 221.3h0.9v0.9h-0.9zM467.4 224.2h0.9v0.9h-0.9zM474.2 228.1h0.9v0.9h-0.9zM482.6 223.0h0.9v0.9h-0.9zM467.9 227.6h0.9v0.9h-0.9zM466.9 228.2h0.9v0.9h-0.9zM471.6 215.8h0.9v0.9h-0.9zM471.3 238.6h0.9v0.9h-0.9zM469.5 216.3h0.9v0.9h-0.9zM471.6 224.8h0.9v0.9h-0.9zM476.4 226.8h0.9v0.9h-0.9zM471.6 230.5h0.9v0.9h-0.9zM478.5 230.8h0.9v0.9h-0.9zM474.4 233.6h0.9v0.9h-0.9zM474.0 228.7h0.9v0.9h-0.9zM480.4 239.9h0.9v0.9h-0.9zM465.3 217.4h0.9v0.9h-0.9zM470.9 235.6h0.9v0.9h-0.9zM475.1 220.6h0.9v0.9h-0.9zM482.6 216.0h0.9v0.9h-0.9zM472.3 226.0h0.9v0.9h-0.9zM473.2 238.0h0.9v0.9h-0.9zM471.7 215.6h0.9v0.9h-0.9zM469.9 240.2h0.9v0.9h-0.9zM474.1 217.8h0.9v0.9h-0.9zM472.7 219.2h0.9v0.9h-0.9zM468.4 232.9h0.9v0.9h-0.9zM483.3 224.8h0.9v0.9h-0.9zM473.8 231.2h0.9v0.9h-0.9zM465.8 227.0h0.9v0.9h-0.9zM481.0 225.9h0.9v0.9h-0.9zM482.1 229.3h0.9v0.9h-0.9zM470.4 226.4h0.9v0.9h-0.9zM482.3 223.3h0.9v0.9h-0.9zM482.7 229.8h0.9v0.9h-0.9zM463.8 230.9h0.9v0.9h-0.9zM467.9 236.4h0.9v0.9h-0.9zM472.4 235.2h0.9v0.9h-0.9zM466.7 221.4h0.9v0.9h-0.9zM478.1 230.4h0.9v0.9h-0.9zM477.9 231.2h0.9v0.9h-0.9zM465.2 218.3h0.9v0.9h-0.9zM479.6 225.9h0.9v0.9h-0.9zM470.3 222.3h0.9v0.9h-0.9zM482.2 223.9h0.9v0.9h-0.9zM482.8 222.0h0.9v0.9h-0.9zM478.7 238.3h0.9v0.9h-0.9zM479.3 234.3h0.9v0.9h-0.9zM482.1 218.9h0.9v0.9h-0.9zM470.1 240.3h0.9v0.9h-0.9zM480.1 239.2h0.9v0.9h-0.9zM471.3 239.9h0.9v0.9h-0.9zM476.6 231.9h0.9v0.9h-0.9zM475.4 221.7h0.9v0.9h-0.9zM468.0 216.1h0.9v0.9h-0.9zM481.3 231.3h0.9v0.9h-0.9zM479.6 240.5h0.9v0.9h-0.9zM477.8 233.3h0.9v0.9h-0.9zM470.7 221.3h0.9v0.9h-0.9zM470.4 218.6h0.9v0.9h-0.9zM468.0 239.4h0.9v0.9h-0.9zM478.3 234.6h0.9v0.9h-0.9zM476.6 221.1h0.9v0.9h-0.9zM478.4 240.6h0.9v0.9h-0.9zM476.6 240.7h0.9v0.9h-0.9zM474.4 236.4h0.9v0.9h-0.9zM464.9 237.5h0.9v0.9h-0.9zM473.0 224.3h0.9v0.9h-0.9zM470.2 230.4h0.9v0.9h-0.9zM483.1 236.5h0.9v0.9h-0.9zM472.4 233.5h0.9v0.9h-0.9zM467.6 229.4h0.9v0.9h-0.9zM471.0 236.7h0.9v0.9h-0.9zM478.7 233.1h0.9v0.9h-0.9zM472.3 215.8h0.9v0.9h-0.9zM479.4 218.9h0.9v0.9h-0.9zM479.3 225.3h0.9v0.9h-0.9zM472.3 220.0h0.9v0.9h-0.9zM466.0 224.1h0.9v0.9h-0.9zM466.7 236.0h0.9v0.9h-0.9zM481.6 235.5h0.9v0.9h-0.9zM465.0 236.6h0.9v0.9h-0.9zM468.1 232.5h0.9v0.9h-0.9zM482.4 224.1h0.9v0.9h-0.9zM465.7 229.9h0.9v0.9h-0.9zM470.6 237.3h0.9v0.9h-0.9zM466.0 234.7h0.9v0.9h-0.9z"/>
<path fill="#999" d="M478.9 240.8h0.9v0.9h-0.9zM482.1 240.7h0.9v0.9h-0.9zM466.9 241.1h0.9v0.9h-0.9zM481.6 240.9h0.9v0.9h-0.9zM477.2 241.0h0.9v0.9h-0.9zM474.3 241.2h0.9v0.9h-0.9zM480.4 240.9h0.9v0.9h-0.9zM466.1 241.0h0.9v0.9h-0.9zM463.7 239.5h0.9v0.9h-0.9zM463.8 233.1h0.9v0.9h-0.9zM463.5 233.9h0.9v0.9h-0.9zM463.7 236.8h0.9v0.9h-0.9zM464.0 230.5h0.9v0.9h-0.9zM464.1 223.7h0.9v0.9h-0.9zM464.0 216.2h0.9v0.9h-0.9zM464.2 229.6h0.9v0.9h-0.9zM463.8 224.9h0.9v0.9h-0.9z"/>
<path fill="#777" d="M465.6 240.8h0.9v0.9h-0.9zM478.1 241.1h0.9v0.9h-0.9zM465.1 240.6h0.9v0.9h-0.9zM480.1 240.5h0.9v0.9h-0.9zM470.7 241.3h0.9v0.9h-0.9zM477.4 241.0h0.9v0.9h-0.9zM465.5 241.2h0.9v0.9h-0.9zM482.3 240.9h0.9v0.9h-0.9zM473.5 241.2h0.9v0.9h-0.9zM472.6 241.2h0.9v0.9h-0.9zM471.2 241.1h0.9v0.9h-0.9zM483.3 240.7h0.9v0.9h-0.9zM464.2 231.2h0.9v0.9h-0.9zM464.0 219.7h0.9v0.9h-0.9zM464.0 230.5h0.9v0.9h-0.9zM463.4 237.9h0.9v0.9h-0.9zM463.7 239.7h0.9v0.9h-0.9zM463.6 239.5h0.9v0.9h-0.9zM464.0 239.5h0.9v0.9h-0.9z"/>
<path fill="#888" d="M469.5 240.8h0.9v0.9h-0.9zM482.1 241.1h0.9v0.9h-0.9zM480.1 240.7h0.9v0.9h-0.9zM466.5 240.9h0.9v0.9h-0.9zM466.7 240.6h0.9v0.9h-0.9zM465.7 240.7h0.9v0.9h-0.9zM467.6 240.9h0.9v0.9h-0.9zM471.4 241.0h0.9v0.9h-0.9zM466.7 240.9h0.9v0.9h-0.9zM464.6 240.5h0.9v0.9h-0.9zM463.4 224.2h0.9v0.9h-0.9zM463.8 241.0h0.9v0.9h-0.9zM464.0 238.2h0.9v0.9h-0.9zM463.8 226.5h0.9v0.9h-0.9zM463.7 231.0h0.9v0.9h-0.9zM463.7 229.7h0.9v0.9h-0.9zM463.7 223.1h0.9v0.9h-0.9zM464.1 233.4h0.9v0.9h-0.9zM463.8 217.8h0.9v0.9h-0.9z"/>
<path fill="#d8d8d8" d="M513.1 231.4h0.9v0.9h-0.9zM504.4 225.0h0.9v0.9h-0.9zM488.2 188.8h0.9v0.9h-0.9zM485.8 230.6h0.9v0.9h-0.9zM480.2 205.8h0.9v0.9h-0.9zM491.9 194.1h0.9v0.9h-0.9zM502.8 214.8h0.9v0.9h-0.9zM471.6 199.2h0.9v0.9h-0.9zM469.4 199.3h0.9v0.9h-0.9zM503.1 200.3h0.9v0.9h-0.9zM470.5 207.9h0.9v0.9h-0.9zM496.0 200.7h0.9v0.9h-0.9zM484.4 235.5h0.9v0.9h-0.9zM499.2 216.6h0.9v0.9h-0.9zM505.9 226.4h0.9v0.9h-0.9zM488.7 208.1h0.9v0.9h-0.9zM479.0 210.5h0.9v0.9h-0.9z"/>
<path fill="#c8c8c8" d="M499.5 223.9h0.9v0.9h-0.9zM506.0 223.2h0.9v0.9h-0.9zM504.3 193.1h0.9v0.9h-0.9zM512.3 196.4h0.9v0.9h-0.9zM491.0 194.8h0.9v0.9h-0.9zM483.2 202.0h0.9v0.9h-0.9zM502.4 237.1h0.9v0.9h-0.9zM509.7 223.8h0.9v0.9h-0.9zM504.5 194.7h0.9v0.9h-0.9zM488.6 236.0h0.9v0.9h-0.9zM474.9 210.2h0.9v0.9h-0.9zM503.5 229.1h0.9v0.9h-0.9zM490.3 220.5h0.9v0.9h-0.9zM492.3 223.5h0.9v0.9h-0.9zM511.7 209.1h0.9v0.9h-0.9zM487.3 208.8h0.9v0.9h-0.9zM491.2 206.3h0.9v0.9h-0.9zM502.5 202.8h0.9v0.9h-0.9zM491.3 205.8h0.9v0.9h-0.9zM499.1 199.5h0.9v0.9h-0.9zM507.4 198.5h0.9v0.9h-0.9zM493.6 205.1h0.9v0.9h-0.9zM487.7 210.3h0.9v0.9h-0.9zM507.2 199.6h0.9v0.9h-0.9zM493.0 207.5h0.9v0.9h-0.9zM502.4 198.3h0.9v0.9h-0.9zM491.3 203.6h0.9v0.9h-0.9zM493.6 213.4h0.9v0.9h-0.9zM499.7 203.1h0.9v0.9h-0.9zM503.6 200.3h0.9v0.9h-0.9z"/>
<path fill="#d0d0d0" d="M495.8 196.2h0.9v0.9h-0.9zM490.2 237.9h0.9v0.9h-0.9zM474.3 208.7h0.9v0.9h-0.9zM490.0 235.2h0.9v0.9h-0.9zM472.8 196.2h0.9v0.9h-0.9zM508.5 217.3h0.9v0.9h-0.9zM492.5 199.9h0.9v0.9h-0.9zM503.0 225.7h0.9v0.9h-0.9zM496.7 213.3h0.9v0.9h-0.9zM484.5 199.9h0.9v0.9h-0.9zM490.0 234.8h0.9v0.9h-0.9zM507.6 190.0h0.9v0.9h-0.9z"/>
<path fill="#c0c0c0" d="M470.8 212.9h0.9v0.9h-0.9zM465.9 209.2h0.9v0.9h-0.9zM482.7 208.3h0.9v0.9h-0.9zM465.9 206.6h0.9v0.9h-0.9zM479.4 212.9h0.9v0.9h-0.9zM476.8 212.9h0.9v0.9h-0.9zM469.8 212.4h0.9v0.9h-0.9zM476.0 210.1h0.9v0.9h-0.9zM469.4 209.6h0.9v0.9h-0.9zM469.6 207.5h0.9v0.9h-0.9zM473.9 207.0h0.9v0.9h-0.9zM482.4 210.6h0.9v0.9h-0.9zM482.7 208.7h0.9v0.9h-0.9zM479.8 208.8h0.9v0.9h-0.9z"/>
<path fill="#cccccc" d="M466.5 212.8h0.9v0.9h-0.9zM472.1 212.5h0.9v0.9h-0.9zM481.2 211.9h0.9v0.9h-0.9zM469.9 210.5h0.9v0.9h-0.9zM482.7 211.6h0.9v0.9h-0.9zM481.3 210.0h0.9v0.9h-0.9zM468.3 213.0h0.9v0.9h-0.9zM469.2 213.3h0.9v0.9h-0.9zM474.4 210.7h0.9v0.9h-0.9zM467.4 206.2h0.9v0.9h-0.9z"/>
<path fill="#b5b5b5" d="M480.0 212.7h0.9v0.9h-0.9zM477.8 208.6h0.9v0.9h-0.9zM468.1 212.6h0.9v0.9h-0.9zM476.0 209.6h0.9v0.9h-0.9zM482.6 213.1h0.9v0.9h-0.9zM480.6 212.7h0.9v0.9h-0.9zM482.9 211.5h0.9v0.9h-0.9zM474.0 209.5h0.9v0.9h-0.9zM473.2 212.4h0.9v0.9h-0.9zM477.5 212.9h0.9v0.9h-0.9zM473.8 213.5h0.9v0.9h-0.9z"/>
<path fill="#d4d4d4" d="M499.0 198.1h0.9v0.9h-0.9zM506.7 199.8h0.9v0.9h-0.9zM494.9 206.6h0.9v0.9h-0.9zM500.5 197.7h0.9v0.9h-0.9zM486.6 205.9h0.9v0.9h-0.9zM487.4 208.7h0.9v0.9h-0.9zM492.2 201.9h0.9v0.9h-0.9zM492.4 202.3h0.9v0.9h-0.9zM499.5 197.6h0.9v0.9h-0.9zM493.8 206.0h0.9v0.9h-0.9zM500.9 202.2h0.9v0.9h-0.9zM494.4 202.1h0.9v0.9h-0.9zM493.4 202.8h0.9v0.9h-0.9zM509.1 202.1h0.9v0.9h-0.9zM507.5 199.8h0.9v0.9h-0.9zM504.0 202.0h0.9v0.9h-0.9zM494.7 201.8h0.9v0.9h-0.9zM487.4 208.5h0.9v0.9h-0.9zM508.0 199.9h0.9v0.9h-0.9zM504.5 201.0h0.9v0.9h-0.9z"/>
<path fill="#bcbcbc" d="M499.6 201.0h0.9v0.9h-0.9zM487.9 202.8h0.9v0.9h-0.9zM491.8 206.8h0.9v0.9h-0.9zM494.0 201.1h0.9v0.9h-0.9zM491.6 213.3h0.9v0.9h-0.9zM500.0 194.8h0.9v0.9h-0.9zM491.6 209.2h0.9v0.9h-0.9zM492.5 205.8h0.9v0.9h-0.9zM487.3 207.5h0.9v0.9h-0.9zM499.2 200.1h0.9v0.9h-0.9zM499.0 202.8h0.9v0.9h-0.9zM506.8 199.4h0.9v0.9h-0.9zM498.0 206.5h0.9v0.9h-0.9zM499.0 200.0h0.9v0.9h-0.9zM495.4 201.0h0.9v0.9h-0.9z"/>
<polygon points="482.1,228.0 483.0,230.2 482.6,232.3 482.1,234.5 481.1,236.3 480.1,238.2 478.5,239.2 476.7,239.4 475.2,240.2 473.5,239.5 472.0,239.4 470.5,238.7 469.1,237.9 467.5,237.3 466.4,235.8 464.7,234.6 464.0,232.5 463.5,230.4 463.5,228.0 464.0,225.8 464.5,223.7 465.5,222.0 467.0,220.9 467.7,219.0 469.1,218.2 470.5,217.1 471.8,215.3 473.5,215.3 475.3,215.3 476.9,215.9 478.4,217.0 479.8,218.2 480.7,220.1 481.3,222.1 481.6,224.2 482.4,226.0" fill="none" stroke="#a0a0a0" stroke-width="0.5"/>
<polygon points="479.2,228.0 479.2,229.3 478.8,230.5 478.0,231.3 477.5,232.4 476.8,233.1 476.1,233.9 475.2,234.2 474.5,235.0 473.5,235.5 472.5,235.3 471.4,235.3 470.5,234.7 469.9,233.6 469.3,232.6 469.0,231.4 468.4,230.4 468.5,229.1 468.6,228.0 468.5,226.9 468.2,225.5 468.5,224.2 468.9,223.0 469.6,222.0 470.7,221.6 471.6,221.2 472.5,220.8 473.5,220.8 474.4,221.4 475.3,221.6 476.2,222.0 476.8,222.9 477.8,223.3 478.4,224.3 478.8,225.5 479.5,226.6" fill="none" stroke="#a0a0a0" stroke-width="0.5"/>
</g>
<line x1="484.0" y1="187.2" x2="484.0" y2="242.0" stroke="#888" stroke-width="0.8"/>
<line x1="462.9" y1="214.5" x2="518.0" y2="214.5" stroke="#888" stroke-width="0.8"/>
<text x="513.2" y="196.75" font-size="6.8" text-anchor="end" textLength="7.2" lengthAdjust="spacingAndGlyphs" fill="#444" stroke="#444" stroke-width="0.2">1.2</text>
<text x="464.09999999999997" y="190.79999999999998" font-size="3" fill="#999">UL</text>
<text x="516.8" y="240.8" font-size="3" text-anchor="end" fill="#999">LR</text>
<rect x="277.5" y="260.3" width="55.0" height="54.7" fill="#fff" stroke="#aaa" stroke-width="0.8"/>
<g filter="url(#bl)">
<path fill="#9a9a9a" d="M283.7 294.9h0.9v0.9h-0.9zM293.2 303.2h0.9v0.9h-0.9zM284.6 294.0h0.9v0.9h-0.9zM284.2 313.4h0.9v0.9h-0.9zM293.6 298.4h0.9v0.9h-0.9zM291.7 314.4h0.9v0.9h-0.9zM295.3 302.7h0.9v0.9h-0.9zM283.2 305.9h0.9v0.9h-0.9zM293.8 304.8h0.9v0.9h-0.9zM294.1 307.3h0.9v0.9h-0.9zM295.3 302.6h0.9v0.9h-0.9zM287.0 297.3h0.9v0.9h-0.9zM280.0 308.4h0.9v0.9h-0.9zM292.9 312.9h0.9v0.9h-0.9zM293.7 303.0h0.9v0.9h-0.9zM280.2 296.2h0.9v0.9h-0.9zM283.0 301.9h0.9v0.9h-0.9zM295.8 298.3h0.9v0.9h-0.9zM282.4 289.0h0.9v0.9h-0.9zM289.6 306.2h0.9v0.9h-0.9zM286.9 291.3h0.9v0.9h-0.9zM290.9 301.1h0.9v0.9h-0.9zM280.0 306.0h0.9v0.9h-0.9zM287.2 294.4h0.9v0.9h-0.9zM290.6 309.4h0.9v0.9h-0.9zM283.7 312.4h0.9v0.9h-0.9zM288.2 310.8h0.9v0.9h-0.9zM283.8 302.1h0.9v0.9h-0.9zM283.3 290.0h0.9v0.9h-0.9zM297.5 292.5h0.9v0.9h-0.9zM294.4 296.2h0.9v0.9h-0.9zM294.4 294.7h0.9v0.9h-0.9zM289.8 311.4h0.9v0.9h-0.9zM289.0 298.5h0.9v0.9h-0.9zM295.3 298.5h0.9v0.9h-0.9zM291.3 294.1h0.9v0.9h-0.9zM286.0 296.3h0.9v0.9h-0.9zM286.4 291.5h0.9v0.9h-0.9zM296.2 304.0h0.9v0.9h-0.9zM290.9 303.0h0.9v0.9h-0.9zM281.9 310.9h0.9v0.9h-0.9zM281.0 298.8h0.9v0.9h-0.9zM297.5 293.6h0.9v0.9h-0.9zM284.0 292.7h0.9v0.9h-0.9zM291.1 300.3h0.9v0.9h-0.9zM291.5 314.1h0.9v0.9h-0.9zM296.1 292.4h0.9v0.9h-0.9zM281.1 307.5h0.9v0.9h-0.9zM283.6 297.4h0.9v0.9h-0.9zM283.6 290.8h0.9v0.9h-0.9zM279.6 295.8h0.9v0.9h-0.9zM284.8 295.5h0.9v0.9h-0.9zM288.2 293.7h0.9v0.9h-0.9zM281.5 306.4h0.9v0.9h-0.9zM295.8 314.0h0.9v0.9h-0.9zM294.6 295.9h0.9v0.9h-0.9zM297.3 305.4h0.9v0.9h-0.9zM285.3 313.5h0.9v0.9h-0.9zM292.2 303.8h0.9v0.9h-0.9zM290.3 310.8h0.9v0.9h-0.9zM291.5 301.8h0.9v0.9h-0.9zM289.5 295.2h0.9v0.9h-0.9zM297.7 302.0h0.9v0.9h-0.9zM297.0 306.7h0.9v0.9h-0.9zM278.3 294.0h0.9v0.9h-0.9zM295.9 302.5h0.9v0.9h-0.9zM284.9 294.3h0.9v0.9h-0.9zM282.7 301.0h0.9v0.9h-0.9zM291.9 290.9h0.9v0.9h-0.9zM292.4 291.1h0.9v0.9h-0.9zM297.8 292.7h0.9v0.9h-0.9zM281.8 312.4h0.9v0.9h-0.9zM290.7 314.0h0.9v0.9h-0.9zM280.8 308.6h0.9v0.9h-0.9zM290.1 314.3h0.9v0.9h-0.9zM291.4 288.8h0.9v0.9h-0.9zM294.4 293.3h0.9v0.9h-0.9zM282.7 303.7h0.9v0.9h-0.9zM281.0 298.9h0.9v0.9h-0.9zM282.9 288.1h0.9v0.9h-0.9zM284.2 305.3h0.9v0.9h-0.9zM295.3 293.7h0.9v0.9h-0.9zM291.5 295.5h0.9v0.9h-0.9zM297.3 313.8h0.9v0.9h-0.9zM282.8 308.4h0.9v0.9h-0.9zM281.9 300.1h0.9v0.9h-0.9zM291.5 307.8h0.9v0.9h-0.9zM296.4 304.3h0.9v0.9h-0.9zM281.7 300.4h0.9v0.9h-0.9zM297.0 313.2h0.9v0.9h-0.9zM279.5 308.1h0.9v0.9h-0.9zM292.4 310.1h0.9v0.9h-0.9zM293.1 312.9h0.9v0.9h-0.9zM289.6 308.8h0.9v0.9h-0.9zM280.8 302.6h0.9v0.9h-0.9zM285.4 298.3h0.9v0.9h-0.9zM297.9 295.9h0.9v0.9h-0.9zM291.7 305.5h0.9v0.9h-0.9zM292.8 297.4h0.9v0.9h-0.9zM281.5 311.2h0.9v0.9h-0.9zM292.3 292.2h0.9v0.9h-0.9zM294.9 297.2h0.9v0.9h-0.9zM288.9 306.3h0.9v0.9h-0.9zM287.5 312.0h0.9v0.9h-0.9zM283.4 308.4h0.9v0.9h-0.9zM281.8 289.1h0.9v0.9h-0.9zM295.4 298.2h0.9v0.9h-0.9zM280.8 307.2h0.9v0.9h-0.9zM279.2 293.6h0.9v0.9h-0.9zM296.3 290.1h0.9v0.9h-0.9zM289.3 300.9h0.9v0.9h-0.9zM297.3 290.6h0.9v0.9h-0.9zM281.8 311.1h0.9v0.9h-0.9zM282.1 313.6h0.9v0.9h-0.9zM289.8 302.4h0.9v0.9h-0.9zM290.2 295.6h0.9v0.9h-0.9zM278.8 295.2h0.9v0.9h-0.9zM292.6 299.9h0.9v0.9h-0.9zM282.6 309.2h0.9v0.9h-0.9zM287.1 307.4h0.9v0.9h-0.9zM283.8 289.2h0.9v0.9h-0.9zM289.3 302.2h0.9v0.9h-0.9zM295.6 304.1h0.9v0.9h-0.9zM293.5 302.6h0.9v0.9h-0.9zM279.1 292.9h0.9v0.9h-0.9zM280.7 295.0h0.9v0.9h-0.9zM291.4 306.0h0.9v0.9h-0.9zM297.0 295.8h0.9v0.9h-0.9zM293.0 295.8h0.9v0.9h-0.9zM287.8 307.8h0.9v0.9h-0.9zM288.9 308.9h0.9v0.9h-0.9zM292.0 306.0h0.9v0.9h-0.9zM281.3 311.8h0.9v0.9h-0.9zM288.0 309.5h0.9v0.9h-0.9zM283.9 291.0h0.9v0.9h-0.9zM282.4 297.3h0.9v0.9h-0.9z"/>
<path fill="#7a7a7a" d="M286.5 293.4h0.9v0.9h-0.9zM279.7 288.8h0.9v0.9h-0.9zM282.4 312.3h0.9v0.9h-0.9zM289.7 303.3h0.9v0.9h-0.9zM295.2 295.1h0.9v0.9h-0.9zM278.7 297.2h0.9v0.9h-0.9zM280.0 293.0h0.9v0.9h-0.9zM293.4 295.3h0.9v0.9h-0.9zM280.4 295.9h0.9v0.9h-0.9zM294.4 304.0h0.9v0.9h-0.9zM284.7 314.3h0.9v0.9h-0.9zM297.0 306.9h0.9v0.9h-0.9zM295.7 306.1h0.9v0.9h-0.9zM282.6 288.9h0.9v0.9h-0.9zM292.5 297.2h0.9v0.9h-0.9zM291.5 309.1h0.9v0.9h-0.9zM278.5 294.4h0.9v0.9h-0.9zM292.9 313.5h0.9v0.9h-0.9zM280.9 292.6h0.9v0.9h-0.9zM297.2 291.3h0.9v0.9h-0.9zM294.3 292.9h0.9v0.9h-0.9zM288.9 289.7h0.9v0.9h-0.9zM292.5 307.5h0.9v0.9h-0.9zM296.3 308.2h0.9v0.9h-0.9zM279.2 293.2h0.9v0.9h-0.9zM293.6 296.1h0.9v0.9h-0.9zM289.3 314.4h0.9v0.9h-0.9zM296.6 313.5h0.9v0.9h-0.9zM283.7 289.5h0.9v0.9h-0.9zM285.0 313.8h0.9v0.9h-0.9zM288.9 295.4h0.9v0.9h-0.9zM295.7 291.6h0.9v0.9h-0.9zM293.4 289.2h0.9v0.9h-0.9zM291.7 301.6h0.9v0.9h-0.9zM295.0 294.3h0.9v0.9h-0.9zM285.0 312.1h0.9v0.9h-0.9zM296.5 309.0h0.9v0.9h-0.9zM287.1 293.8h0.9v0.9h-0.9zM292.1 312.2h0.9v0.9h-0.9zM292.1 296.6h0.9v0.9h-0.9zM296.4 296.0h0.9v0.9h-0.9zM282.6 304.7h0.9v0.9h-0.9zM294.6 313.7h0.9v0.9h-0.9zM281.9 313.4h0.9v0.9h-0.9zM286.6 299.5h0.9v0.9h-0.9zM291.6 312.5h0.9v0.9h-0.9zM294.8 308.2h0.9v0.9h-0.9zM288.3 290.3h0.9v0.9h-0.9zM288.8 309.6h0.9v0.9h-0.9zM296.7 300.2h0.9v0.9h-0.9zM288.4 304.8h0.9v0.9h-0.9zM295.9 300.2h0.9v0.9h-0.9zM278.7 296.0h0.9v0.9h-0.9zM281.8 288.9h0.9v0.9h-0.9zM293.0 292.7h0.9v0.9h-0.9zM283.0 294.7h0.9v0.9h-0.9zM288.4 311.1h0.9v0.9h-0.9zM289.4 297.7h0.9v0.9h-0.9zM280.8 308.4h0.9v0.9h-0.9zM280.4 289.4h0.9v0.9h-0.9zM284.3 294.0h0.9v0.9h-0.9zM295.9 302.1h0.9v0.9h-0.9zM292.0 303.9h0.9v0.9h-0.9zM293.5 292.7h0.9v0.9h-0.9zM284.9 302.4h0.9v0.9h-0.9zM282.5 298.1h0.9v0.9h-0.9zM292.3 297.4h0.9v0.9h-0.9zM281.5 311.7h0.9v0.9h-0.9zM284.3 293.1h0.9v0.9h-0.9zM297.5 305.1h0.9v0.9h-0.9zM282.8 312.3h0.9v0.9h-0.9zM297.0 304.3h0.9v0.9h-0.9zM292.2 291.1h0.9v0.9h-0.9zM290.7 311.6h0.9v0.9h-0.9zM279.5 302.1h0.9v0.9h-0.9zM282.6 294.6h0.9v0.9h-0.9zM289.8 289.4h0.9v0.9h-0.9zM291.6 295.1h0.9v0.9h-0.9zM281.2 295.9h0.9v0.9h-0.9zM292.5 299.7h0.9v0.9h-0.9zM278.7 297.0h0.9v0.9h-0.9zM283.3 305.4h0.9v0.9h-0.9zM297.7 300.7h0.9v0.9h-0.9zM283.1 304.1h0.9v0.9h-0.9zM293.8 300.6h0.9v0.9h-0.9zM295.3 301.0h0.9v0.9h-0.9zM278.7 288.4h0.9v0.9h-0.9zM282.5 294.1h0.9v0.9h-0.9zM283.5 293.0h0.9v0.9h-0.9zM297.5 295.0h0.9v0.9h-0.9zM296.5 301.0h0.9v0.9h-0.9zM290.0 291.8h0.9v0.9h-0.9zM280.7 290.5h0.9v0.9h-0.9zM285.6 293.5h0.9v0.9h-0.9zM295.1 297.6h0.9v0.9h-0.9zM289.5 293.8h0.9v0.9h-0.9zM294.9 298.7h0.9v0.9h-0.9zM294.7 288.7h0.9v0.9h-0.9zM297.6 290.2h0.9v0.9h-0.9zM281.3 289.0h0.9v0.9h-0.9zM287.6 295.6h0.9v0.9h-0.9zM278.8 295.3h0.9v0.9h-0.9zM281.1 292.5h0.9v0.9h-0.9zM297.5 288.6h0.9v0.9h-0.9zM297.7 305.2h0.9v0.9h-0.9zM292.4 301.7h0.9v0.9h-0.9zM291.8 313.4h0.9v0.9h-0.9zM281.2 293.3h0.9v0.9h-0.9zM292.1 292.9h0.9v0.9h-0.9zM280.9 306.9h0.9v0.9h-0.9zM287.0 296.4h0.9v0.9h-0.9zM285.7 312.5h0.9v0.9h-0.9zM279.4 291.5h0.9v0.9h-0.9zM296.1 298.1h0.9v0.9h-0.9zM285.7 289.5h0.9v0.9h-0.9z"/>
<path fill="#aaaaaa" d="M278.6 296.0h0.9v0.9h-0.9zM290.3 294.7h0.9v0.9h-0.9zM287.4 293.4h0.9v0.9h-0.9zM294.4 296.0h0.9v0.9h-0.9zM294.9 288.3h0.9v0.9h-0.9zM291.5 290.3h0.9v0.9h-0.9zM278.7 297.8h0.9v0.9h-0.9zM296.9 306.5h0.9v0.9h-0.9zM288.7 312.6h0.9v0.9h-0.9zM284.4 299.2h0.9v0.9h-0.9zM281.3 305.1h0.9v0.9h-0.9zM279.7 305.1h0.9v0.9h-0.9zM287.8 308.9h0.9v0.9h-0.9zM278.9 294.7h0.9v0.9h-0.9zM278.9 305.5h0.9v0.9h-0.9zM294.8 299.7h0.9v0.9h-0.9zM279.0 296.0h0.9v0.9h-0.9zM292.5 290.6h0.9v0.9h-0.9zM288.7 312.3h0.9v0.9h-0.9zM284.9 307.5h0.9v0.9h-0.9zM296.0 313.2h0.9v0.9h-0.9zM281.9 299.3h0.9v0.9h-0.9zM293.1 300.5h0.9v0.9h-0.9zM295.3 312.0h0.9v0.9h-0.9zM297.4 288.8h0.9v0.9h-0.9zM284.6 304.9h0.9v0.9h-0.9zM295.8 305.7h0.9v0.9h-0.9zM286.8 302.6h0.9v0.9h-0.9zM289.2 299.0h0.9v0.9h-0.9zM288.9 304.3h0.9v0.9h-0.9zM291.9 294.3h0.9v0.9h-0.9zM295.7 306.0h0.9v0.9h-0.9zM279.6 296.0h0.9v0.9h-0.9zM296.0 296.3h0.9v0.9h-0.9zM283.9 307.1h0.9v0.9h-0.9zM279.1 289.1h0.9v0.9h-0.9zM293.3 292.3h0.9v0.9h-0.9zM287.7 291.0h0.9v0.9h-0.9zM278.7 294.2h0.9v0.9h-0.9zM287.0 296.3h0.9v0.9h-0.9zM293.7 311.2h0.9v0.9h-0.9zM291.4 300.1h0.9v0.9h-0.9zM279.7 292.7h0.9v0.9h-0.9zM280.8 309.8h0.9v0.9h-0.9zM293.5 300.9h0.9v0.9h-0.9zM280.0 299.4h0.9v0.9h-0.9zM285.2 291.6h0.9v0.9h-0.9zM283.1 306.1h0.9v0.9h-0.9zM290.4 311.7h0.9v0.9h-0.9zM283.8 295.2h0.9v0.9h-0.9zM295.3 294.9h0.9v0.9h-0.9zM278.8 293.4h0.9v0.9h-0.9zM283.2 309.8h0.9v0.9h-0.9zM292.0 294.6h0.9v0.9h-0.9zM282.0 313.4h0.9v0.9h-0.9zM291.4 289.7h0.9v0.9h-0.9zM283.6 300.6h0.9v0.9h-0.9zM288.6 314.3h0.9v0.9h-0.9zM295.0 296.9h0.9v0.9h-0.9zM294.1 300.7h0.9v0.9h-0.9zM296.5 297.7h0.9v0.9h-0.9zM293.7 290.7h0.9v0.9h-0.9zM281.7 303.2h0.9v0.9h-0.9zM287.0 292.7h0.9v0.9h-0.9zM294.8 304.8h0.9v0.9h-0.9zM278.3 289.1h0.9v0.9h-0.9zM297.1 292.9h0.9v0.9h-0.9zM287.7 312.2h0.9v0.9h-0.9zM296.8 313.5h0.9v0.9h-0.9zM295.1 306.5h0.9v0.9h-0.9zM296.0 304.9h0.9v0.9h-0.9zM282.5 296.0h0.9v0.9h-0.9zM288.7 294.0h0.9v0.9h-0.9zM283.7 293.4h0.9v0.9h-0.9zM290.3 302.2h0.9v0.9h-0.9zM290.5 290.4h0.9v0.9h-0.9zM278.2 299.2h0.9v0.9h-0.9zM289.4 306.5h0.9v0.9h-0.9zM281.3 303.9h0.9v0.9h-0.9zM292.6 306.1h0.9v0.9h-0.9zM297.4 304.4h0.9v0.9h-0.9zM289.2 291.0h0.9v0.9h-0.9zM291.0 310.9h0.9v0.9h-0.9zM289.4 302.0h0.9v0.9h-0.9zM293.6 291.6h0.9v0.9h-0.9zM285.7 289.4h0.9v0.9h-0.9zM283.2 288.4h0.9v0.9h-0.9zM285.1 303.4h0.9v0.9h-0.9zM294.5 310.0h0.9v0.9h-0.9zM287.9 309.2h0.9v0.9h-0.9zM289.5 311.6h0.9v0.9h-0.9zM281.5 309.0h0.9v0.9h-0.9zM284.2 313.5h0.9v0.9h-0.9zM296.7 297.6h0.9v0.9h-0.9zM294.4 300.0h0.9v0.9h-0.9zM290.2 311.7h0.9v0.9h-0.9zM281.6 307.3h0.9v0.9h-0.9zM284.1 294.2h0.9v0.9h-0.9zM280.5 294.7h0.9v0.9h-0.9zM285.5 302.8h0.9v0.9h-0.9zM283.5 312.1h0.9v0.9h-0.9zM284.0 303.2h0.9v0.9h-0.9zM293.6 295.7h0.9v0.9h-0.9zM290.2 291.4h0.9v0.9h-0.9zM290.6 302.5h0.9v0.9h-0.9zM285.3 302.7h0.9v0.9h-0.9zM293.5 289.7h0.9v0.9h-0.9zM292.4 300.9h0.9v0.9h-0.9zM283.9 289.1h0.9v0.9h-0.9zM285.0 308.2h0.9v0.9h-0.9zM288.4 306.9h0.9v0.9h-0.9zM291.5 311.9h0.9v0.9h-0.9zM294.7 307.2h0.9v0.9h-0.9zM280.9 293.3h0.9v0.9h-0.9zM281.0 305.1h0.9v0.9h-0.9zM295.5 296.4h0.9v0.9h-0.9zM295.8 291.8h0.9v0.9h-0.9zM283.6 290.3h0.9v0.9h-0.9zM287.2 308.9h0.9v0.9h-0.9zM283.7 304.6h0.9v0.9h-0.9zM279.1 303.8h0.9v0.9h-0.9zM283.5 304.2h0.9v0.9h-0.9zM296.0 294.8h0.9v0.9h-0.9zM297.1 305.8h0.9v0.9h-0.9zM293.2 302.9h0.9v0.9h-0.9zM297.6 292.5h0.9v0.9h-0.9zM288.6 299.6h0.9v0.9h-0.9zM293.2 291.5h0.9v0.9h-0.9zM284.4 312.9h0.9v0.9h-0.9zM291.9 313.6h0.9v0.9h-0.9zM289.7 296.1h0.9v0.9h-0.9zM285.5 288.0h0.9v0.9h-0.9zM284.4 312.2h0.9v0.9h-0.9zM294.8 301.8h0.9v0.9h-0.9zM283.8 289.6h0.9v0.9h-0.9zM286.9 313.5h0.9v0.9h-0.9z"/>
<path fill="#8a8a8a" d="M293.6 307.0h0.9v0.9h-0.9zM289.4 288.2h0.9v0.9h-0.9zM295.8 288.5h0.9v0.9h-0.9zM291.9 308.8h0.9v0.9h-0.9zM280.6 310.9h0.9v0.9h-0.9zM284.4 296.4h0.9v0.9h-0.9zM296.6 309.0h0.9v0.9h-0.9zM283.3 290.2h0.9v0.9h-0.9zM297.2 312.0h0.9v0.9h-0.9zM293.4 305.9h0.9v0.9h-0.9zM289.8 309.2h0.9v0.9h-0.9zM281.2 307.4h0.9v0.9h-0.9zM289.6 289.5h0.9v0.9h-0.9zM297.4 294.4h0.9v0.9h-0.9zM279.0 302.5h0.9v0.9h-0.9zM296.5 311.2h0.9v0.9h-0.9zM283.8 313.0h0.9v0.9h-0.9zM290.8 294.8h0.9v0.9h-0.9zM279.2 301.8h0.9v0.9h-0.9zM291.8 309.1h0.9v0.9h-0.9zM283.9 288.3h0.9v0.9h-0.9zM280.1 289.6h0.9v0.9h-0.9zM284.4 294.3h0.9v0.9h-0.9zM281.9 294.2h0.9v0.9h-0.9zM296.2 294.1h0.9v0.9h-0.9zM286.4 311.8h0.9v0.9h-0.9zM285.5 297.2h0.9v0.9h-0.9zM294.3 290.3h0.9v0.9h-0.9zM296.6 294.3h0.9v0.9h-0.9zM288.7 313.6h0.9v0.9h-0.9zM297.7 295.9h0.9v0.9h-0.9zM291.5 307.6h0.9v0.9h-0.9zM280.1 298.2h0.9v0.9h-0.9zM288.8 312.3h0.9v0.9h-0.9zM281.3 314.2h0.9v0.9h-0.9zM292.6 310.0h0.9v0.9h-0.9zM278.2 306.6h0.9v0.9h-0.9zM288.0 311.5h0.9v0.9h-0.9zM285.3 291.4h0.9v0.9h-0.9zM281.7 296.8h0.9v0.9h-0.9zM294.1 291.7h0.9v0.9h-0.9zM281.4 302.5h0.9v0.9h-0.9zM291.1 308.8h0.9v0.9h-0.9zM281.4 311.0h0.9v0.9h-0.9zM284.0 291.3h0.9v0.9h-0.9zM289.4 306.0h0.9v0.9h-0.9zM283.3 296.0h0.9v0.9h-0.9zM294.6 297.4h0.9v0.9h-0.9zM284.4 313.9h0.9v0.9h-0.9zM281.5 306.4h0.9v0.9h-0.9zM292.1 302.8h0.9v0.9h-0.9zM289.1 289.3h0.9v0.9h-0.9zM281.6 311.5h0.9v0.9h-0.9zM287.3 296.1h0.9v0.9h-0.9zM278.2 302.3h0.9v0.9h-0.9zM289.0 311.8h0.9v0.9h-0.9zM279.0 313.1h0.9v0.9h-0.9zM285.3 314.0h0.9v0.9h-0.9zM297.6 298.2h0.9v0.9h-0.9zM286.8 305.9h0.9v0.9h-0.9zM295.7 313.1h0.9v0.9h-0.9zM295.2 306.5h0.9v0.9h-0.9zM281.6 288.8h0.9v0.9h-0.9zM295.8 311.7h0.9v0.9h-0.9zM290.6 291.2h0.9v0.9h-0.9zM279.4 309.9h0.9v0.9h-0.9zM292.0 314.0h0.9v0.9h-0.9zM293.0 291.1h0.9v0.9h-0.9zM278.5 309.0h0.9v0.9h-0.9zM279.8 299.2h0.9v0.9h-0.9zM291.4 300.5h0.9v0.9h-0.9zM282.6 314.2h0.9v0.9h-0.9zM284.3 300.6h0.9v0.9h-0.9zM283.2 298.7h0.9v0.9h-0.9zM297.4 313.0h0.9v0.9h-0.9zM280.7 299.3h0.9v0.9h-0.9zM280.4 290.9h0.9v0.9h-0.9zM292.0 299.4h0.9v0.9h-0.9zM292.7 306.7h0.9v0.9h-0.9zM297.6 302.9h0.9v0.9h-0.9zM293.9 306.4h0.9v0.9h-0.9zM288.3 289.6h0.9v0.9h-0.9zM291.2 293.6h0.9v0.9h-0.9zM281.0 313.7h0.9v0.9h-0.9zM291.6 312.1h0.9v0.9h-0.9zM279.9 308.2h0.9v0.9h-0.9zM288.4 313.6h0.9v0.9h-0.9zM292.9 289.9h0.9v0.9h-0.9zM285.9 299.4h0.9v0.9h-0.9zM290.8 300.2h0.9v0.9h-0.9zM290.1 294.5h0.9v0.9h-0.9zM278.1 293.7h0.9v0.9h-0.9zM278.7 312.2h0.9v0.9h-0.9zM289.9 296.2h0.9v0.9h-0.9zM295.2 304.6h0.9v0.9h-0.9zM291.7 297.1h0.9v0.9h-0.9zM290.0 312.2h0.9v0.9h-0.9zM278.9 306.0h0.9v0.9h-0.9zM279.6 311.1h0.9v0.9h-0.9zM295.5 293.0h0.9v0.9h-0.9zM283.0 289.8h0.9v0.9h-0.9zM297.7 302.1h0.9v0.9h-0.9zM281.0 292.6h0.9v0.9h-0.9zM286.3 310.5h0.9v0.9h-0.9zM295.0 291.5h0.9v0.9h-0.9zM291.6 308.6h0.9v0.9h-0.9zM289.9 314.0h0.9v0.9h-0.9zM278.6 297.3h0.9v0.9h-0.9zM281.8 295.1h0.9v0.9h-0.9zM293.9 302.8h0.9v0.9h-0.9zM292.3 297.8h0.9v0.9h-0.9zM293.5 296.6h0.9v0.9h-0.9zM286.3 309.2h0.9v0.9h-0.9zM297.5 314.0h0.9v0.9h-0.9zM297.8 299.8h0.9v0.9h-0.9zM286.4 294.6h0.9v0.9h-0.9zM279.4 292.2h0.9v0.9h-0.9z"/>
<path fill="#bababa" d="M290.2 297.0h0.9v0.9h-0.9zM294.7 306.0h0.9v0.9h-0.9zM281.5 306.3h0.9v0.9h-0.9zM284.0 291.6h0.9v0.9h-0.9zM295.5 295.0h0.9v0.9h-0.9zM293.9 308.8h0.9v0.9h-0.9zM279.5 307.5h0.9v0.9h-0.9zM282.6 290.2h0.9v0.9h-0.9zM286.7 308.9h0.9v0.9h-0.9zM295.5 310.1h0.9v0.9h-0.9zM296.3 295.9h0.9v0.9h-0.9zM297.4 296.9h0.9v0.9h-0.9zM282.8 289.0h0.9v0.9h-0.9zM297.0 298.7h0.9v0.9h-0.9zM278.8 293.2h0.9v0.9h-0.9zM281.1 309.6h0.9v0.9h-0.9zM281.6 308.8h0.9v0.9h-0.9zM278.2 289.8h0.9v0.9h-0.9zM289.7 306.2h0.9v0.9h-0.9zM279.0 310.9h0.9v0.9h-0.9zM279.7 301.6h0.9v0.9h-0.9zM284.5 290.5h0.9v0.9h-0.9zM287.2 291.2h0.9v0.9h-0.9zM282.1 293.8h0.9v0.9h-0.9zM282.5 292.1h0.9v0.9h-0.9zM285.1 305.8h0.9v0.9h-0.9zM284.9 295.8h0.9v0.9h-0.9zM280.5 291.0h0.9v0.9h-0.9zM281.5 309.5h0.9v0.9h-0.9zM293.4 308.4h0.9v0.9h-0.9zM286.3 297.7h0.9v0.9h-0.9zM297.8 302.4h0.9v0.9h-0.9zM295.4 308.9h0.9v0.9h-0.9zM285.8 299.1h0.9v0.9h-0.9zM296.5 314.0h0.9v0.9h-0.9zM283.0 310.5h0.9v0.9h-0.9zM293.9 290.0h0.9v0.9h-0.9zM289.7 310.1h0.9v0.9h-0.9zM287.1 296.4h0.9v0.9h-0.9zM281.1 305.8h0.9v0.9h-0.9zM295.7 289.2h0.9v0.9h-0.9zM295.3 301.7h0.9v0.9h-0.9zM281.2 295.2h0.9v0.9h-0.9zM285.0 298.1h0.9v0.9h-0.9zM294.9 294.9h0.9v0.9h-0.9zM289.8 306.8h0.9v0.9h-0.9zM278.5 298.3h0.9v0.9h-0.9zM296.0 300.9h0.9v0.9h-0.9zM283.6 298.5h0.9v0.9h-0.9zM282.9 300.7h0.9v0.9h-0.9zM285.7 310.3h0.9v0.9h-0.9zM286.7 293.6h0.9v0.9h-0.9zM293.6 299.8h0.9v0.9h-0.9zM292.0 312.2h0.9v0.9h-0.9zM282.6 301.8h0.9v0.9h-0.9zM297.2 308.1h0.9v0.9h-0.9zM297.4 290.9h0.9v0.9h-0.9zM296.6 297.9h0.9v0.9h-0.9zM278.1 303.3h0.9v0.9h-0.9zM295.3 308.0h0.9v0.9h-0.9zM289.8 314.4h0.9v0.9h-0.9zM286.0 292.2h0.9v0.9h-0.9zM285.8 289.0h0.9v0.9h-0.9zM280.6 288.9h0.9v0.9h-0.9zM290.2 309.8h0.9v0.9h-0.9zM280.8 310.1h0.9v0.9h-0.9zM287.6 302.6h0.9v0.9h-0.9zM283.5 306.4h0.9v0.9h-0.9zM293.4 295.2h0.9v0.9h-0.9zM279.0 302.3h0.9v0.9h-0.9zM292.0 306.4h0.9v0.9h-0.9zM278.1 301.4h0.9v0.9h-0.9zM296.2 312.5h0.9v0.9h-0.9zM295.6 302.7h0.9v0.9h-0.9zM295.6 300.9h0.9v0.9h-0.9zM292.2 292.4h0.9v0.9h-0.9zM281.0 304.8h0.9v0.9h-0.9zM295.2 302.1h0.9v0.9h-0.9zM293.3 306.2h0.9v0.9h-0.9zM297.5 290.3h0.9v0.9h-0.9zM292.9 297.6h0.9v0.9h-0.9zM286.6 314.3h0.9v0.9h-0.9zM294.1 291.1h0.9v0.9h-0.9zM282.4 301.4h0.9v0.9h-0.9zM286.0 313.8h0.9v0.9h-0.9zM281.0 300.1h0.9v0.9h-0.9zM282.0 311.1h0.9v0.9h-0.9zM289.6 288.8h0.9v0.9h-0.9zM283.1 305.0h0.9v0.9h-0.9zM279.8 302.3h0.9v0.9h-0.9zM292.2 311.9h0.9v0.9h-0.9zM280.3 308.8h0.9v0.9h-0.9zM288.0 314.3h0.9v0.9h-0.9zM282.2 300.0h0.9v0.9h-0.9zM282.4 303.9h0.9v0.9h-0.9zM286.4 290.2h0.9v0.9h-0.9zM292.6 299.9h0.9v0.9h-0.9zM287.3 309.4h0.9v0.9h-0.9zM281.7 297.7h0.9v0.9h-0.9zM292.9 310.1h0.9v0.9h-0.9zM289.5 303.8h0.9v0.9h-0.9zM285.5 313.2h0.9v0.9h-0.9zM286.6 288.9h0.9v0.9h-0.9zM283.6 290.9h0.9v0.9h-0.9zM292.5 312.3h0.9v0.9h-0.9zM282.3 289.1h0.9v0.9h-0.9zM287.6 292.2h0.9v0.9h-0.9zM280.5 290.8h0.9v0.9h-0.9zM289.8 292.1h0.9v0.9h-0.9zM279.3 306.2h0.9v0.9h-0.9zM296.5 307.1h0.9v0.9h-0.9zM293.3 294.8h0.9v0.9h-0.9zM294.4 291.9h0.9v0.9h-0.9zM296.5 291.6h0.9v0.9h-0.9zM284.8 307.2h0.9v0.9h-0.9zM288.6 289.9h0.9v0.9h-0.9zM290.0 291.0h0.9v0.9h-0.9zM291.1 308.8h0.9v0.9h-0.9zM280.4 289.7h0.9v0.9h-0.9zM291.5 312.0h0.9v0.9h-0.9zM286.6 314.2h0.9v0.9h-0.9zM282.8 310.7h0.9v0.9h-0.9zM294.9 295.4h0.9v0.9h-0.9zM296.0 298.5h0.9v0.9h-0.9zM290.1 305.5h0.9v0.9h-0.9zM294.6 310.9h0.9v0.9h-0.9zM279.7 309.6h0.9v0.9h-0.9zM293.0 300.5h0.9v0.9h-0.9zM294.8 302.1h0.9v0.9h-0.9zM279.1 297.0h0.9v0.9h-0.9zM286.1 296.9h0.9v0.9h-0.9zM282.9 313.2h0.9v0.9h-0.9zM287.8 293.2h0.9v0.9h-0.9zM285.2 290.7h0.9v0.9h-0.9zM297.3 290.3h0.9v0.9h-0.9zM278.3 295.6h0.9v0.9h-0.9zM280.5 309.5h0.9v0.9h-0.9zM279.3 313.5h0.9v0.9h-0.9zM291.8 300.1h0.9v0.9h-0.9zM292.3 296.5h0.9v0.9h-0.9zM291.5 310.6h0.9v0.9h-0.9zM297.4 294.1h0.9v0.9h-0.9zM280.5 294.9h0.9v0.9h-0.9zM281.5 310.7h0.9v0.9h-0.9zM280.9 313.9h0.9v0.9h-0.9zM293.1 300.3h0.9v0.9h-0.9z"/>
<path fill="#777" d="M291.5 314.1h0.9v0.9h-0.9zM280.4 314.0h0.9v0.9h-0.9zM290.0 313.6h0.9v0.9h-0.9zM286.9 314.0h0.9v0.9h-0.9zM289.1 314.1h0.9v0.9h-0.9zM279.7 314.1h0.9v0.9h-0.9zM291.1 313.9h0.9v0.9h-0.9zM296.5 313.5h0.9v0.9h-0.9zM295.7 313.7h0.9v0.9h-0.9zM281.8 314.1h0.9v0.9h-0.9zM296.4 313.7h0.9v0.9h-0.9zM292.1 314.0h0.9v0.9h-0.9zM284.8 313.7h0.9v0.9h-0.9zM278.5 309.6h0.9v0.9h-0.9zM278.7 302.3h0.9v0.9h-0.9zM278.7 299.3h0.9v0.9h-0.9zM278.2 292.9h0.9v0.9h-0.9zM278.6 300.7h0.9v0.9h-0.9zM278.1 301.1h0.9v0.9h-0.9zM278.3 306.2h0.9v0.9h-0.9zM278.5 298.2h0.9v0.9h-0.9zM278.4 298.6h0.9v0.9h-0.9zM278.7 299.9h0.9v0.9h-0.9zM278.3 300.3h0.9v0.9h-0.9zM278.4 308.1h0.9v0.9h-0.9zM278.2 300.6h0.9v0.9h-0.9z"/>
<path fill="#999" d="M292.1 313.9h0.9v0.9h-0.9zM288.0 314.2h0.9v0.9h-0.9zM288.9 314.2h0.9v0.9h-0.9zM291.4 313.6h0.9v0.9h-0.9zM282.4 313.8h0.9v0.9h-0.9zM289.4 313.7h0.9v0.9h-0.9zM288.8 313.5h0.9v0.9h-0.9zM278.1 303.5h0.9v0.9h-0.9zM278.1 305.7h0.9v0.9h-0.9zM278.4 307.8h0.9v0.9h-0.9zM278.8 293.7h0.9v0.9h-0.9zM278.5 289.8h0.9v0.9h-0.9z"/>
<path fill="#888" d="M283.0 313.8h0.9v0.9h-0.9zM294.7 314.1h0.9v0.9h-0.9zM291.2 314.1h0.9v0.9h-0.9zM284.3 313.5h0.9v0.9h-0.9zM288.5 314.0h0.9v0.9h-0.9zM295.7 313.8h0.9v0.9h-0.9zM290.8 314.1h0.9v0.9h-0.9zM278.7 314.0h0.9v0.9h-0.9zM287.4 313.6h0.9v0.9h-0.9zM296.5 314.3h0.9v0.9h-0.9zM278.8 294.1h0.9v0.9h-0.9zM278.0 311.7h0.9v0.9h-0.9zM278.5 310.9h0.9v0.9h-0.9zM278.2 309.3h0.9v0.9h-0.9zM278.1 309.9h0.9v0.9h-0.9zM278.1 301.7h0.9v0.9h-0.9zM278.3 305.7h0.9v0.9h-0.9z"/>
<path fill="#c8c8c8" d="M301.6 265.8h0.9v0.9h-0.9zM303.9 291.1h0.9v0.9h-0.9zM302.6 306.9h0.9v0.9h-0.9zM319.3 273.0h0.9v0.9h-0.9zM326.2 307.0h0.9v0.9h-0.9zM310.9 285.8h0.9v0.9h-0.9zM296.2 274.2h0.9v0.9h-0.9zM329.8 291.2h0.9v0.9h-0.9zM330.2 298.4h0.9v0.9h-0.9zM326.0 282.2h0.9v0.9h-0.9zM313.7 271.7h0.9v0.9h-0.9zM308.6 275.2h0.9v0.9h-0.9zM309.3 272.8h0.9v0.9h-0.9zM309.2 269.2h0.9v0.9h-0.9zM312.0 275.2h0.9v0.9h-0.9zM314.1 275.4h0.9v0.9h-0.9zM316.3 261.6h0.9v0.9h-0.9zM312.9 275.3h0.9v0.9h-0.9z"/>
<path fill="#d0d0d0" d="M299.6 269.8h0.9v0.9h-0.9zM327.4 277.5h0.9v0.9h-0.9zM311.7 290.3h0.9v0.9h-0.9zM304.0 272.1h0.9v0.9h-0.9zM287.7 280.0h0.9v0.9h-0.9zM284.6 263.2h0.9v0.9h-0.9zM322.6 306.6h0.9v0.9h-0.9zM307.4 266.8h0.9v0.9h-0.9zM297.5 270.7h0.9v0.9h-0.9zM303.4 284.9h0.9v0.9h-0.9zM310.0 286.9h0.9v0.9h-0.9zM307.7 286.2h0.9v0.9h-0.9zM327.5 274.3h0.9v0.9h-0.9zM282.2 284.1h0.9v0.9h-0.9zM311.5 282.9h0.9v0.9h-0.9zM303.0 293.5h0.9v0.9h-0.9z"/>
<path fill="#d8d8d8" d="M324.9 289.6h0.9v0.9h-0.9zM285.7 286.8h0.9v0.9h-0.9zM294.8 271.3h0.9v0.9h-0.9zM320.3 285.7h0.9v0.9h-0.9zM297.4 268.8h0.9v0.9h-0.9zM323.8 301.6h0.9v0.9h-0.9zM308.6 308.9h0.9v0.9h-0.9zM330.4 312.2h0.9v0.9h-0.9zM330.7 308.6h0.9v0.9h-0.9zM331.5 287.1h0.9v0.9h-0.9zM284.1 282.5h0.9v0.9h-0.9zM320.9 293.1h0.9v0.9h-0.9zM295.9 278.4h0.9v0.9h-0.9z"/>
<path fill="#c0c0c0" d="M280.7 283.7h0.9v0.9h-0.9zM297.2 285.4h0.9v0.9h-0.9zM291.3 283.8h0.9v0.9h-0.9zM295.4 281.6h0.9v0.9h-0.9zM288.8 281.0h0.9v0.9h-0.9zM282.4 285.2h0.9v0.9h-0.9zM292.8 282.8h0.9v0.9h-0.9zM289.1 282.2h0.9v0.9h-0.9zM297.5 283.1h0.9v0.9h-0.9zM278.6 282.9h0.9v0.9h-0.9zM280.6 280.9h0.9v0.9h-0.9zM295.5 281.7h0.9v0.9h-0.9z"/>
<path fill="#b5b5b5" d="M294.7 284.5h0.9v0.9h-0.9zM295.9 283.8h0.9v0.9h-0.9zM290.9 285.7h0.9v0.9h-0.9zM279.4 281.8h0.9v0.9h-0.9zM290.8 283.6h0.9v0.9h-0.9zM294.4 284.4h0.9v0.9h-0.9zM291.4 281.0h0.9v0.9h-0.9zM293.2 283.8h0.9v0.9h-0.9zM291.7 283.1h0.9v0.9h-0.9zM282.3 284.9h0.9v0.9h-0.9zM293.1 282.7h0.9v0.9h-0.9zM289.7 280.8h0.9v0.9h-0.9z"/>
<path fill="#cccccc" d="M282.9 285.1h0.9v0.9h-0.9zM293.6 281.2h0.9v0.9h-0.9zM278.5 283.6h0.9v0.9h-0.9zM293.5 283.5h0.9v0.9h-0.9zM292.9 283.2h0.9v0.9h-0.9zM296.8 282.3h0.9v0.9h-0.9zM281.5 284.8h0.9v0.9h-0.9zM284.5 284.9h0.9v0.9h-0.9zM293.9 285.5h0.9v0.9h-0.9zM279.6 282.5h0.9v0.9h-0.9zM290.1 283.8h0.9v0.9h-0.9z"/>
<path fill="#d4d4d4" d="M311.8 276.6h0.9v0.9h-0.9zM314.7 277.7h0.9v0.9h-0.9zM314.3 268.3h0.9v0.9h-0.9zM308.4 272.3h0.9v0.9h-0.9zM310.6 284.7h0.9v0.9h-0.9zM305.3 275.8h0.9v0.9h-0.9zM310.5 280.0h0.9v0.9h-0.9zM310.2 278.5h0.9v0.9h-0.9z"/>
<path fill="#bcbcbc" d="M315.6 282.4h0.9v0.9h-0.9zM310.6 269.7h0.9v0.9h-0.9zM314.7 270.0h0.9v0.9h-0.9zM310.0 273.8h0.9v0.9h-0.9zM311.2 279.9h0.9v0.9h-0.9zM312.4 271.6h0.9v0.9h-0.9zM309.1 275.5h0.9v0.9h-0.9zM318.5 269.7h0.9v0.9h-0.9zM312.0 280.4h0.9v0.9h-0.9zM309.4 279.6h0.9v0.9h-0.9zM315.1 277.0h0.9v0.9h-0.9zM309.4 279.1h0.9v0.9h-0.9zM314.3 278.7h0.9v0.9h-0.9zM311.5 273.3h0.9v0.9h-0.9zM307.4 282.4h0.9v0.9h-0.9zM314.4 273.6h0.9v0.9h-0.9zM309.5 270.1h0.9v0.9h-0.9zM309.8 283.1h0.9v0.9h-0.9zM309.1 277.1h0.9v0.9h-0.9zM309.9 281.8h0.9v0.9h-0.9zM309.5 276.9h0.9v0.9h-0.9zM309.2 274.3h0.9v0.9h-0.9zM308.1 272.7h0.9v0.9h-0.9zM310.1 273.4h0.9v0.9h-0.9z"/>
<polygon points="296.7,301.0 296.9,303.1 296.8,305.2 295.9,307.1 295.2,309.1 294.0,310.6 292.4,311.7 290.9,312.5 289.1,312.5 287.5,312.0 285.9,312.3 284.4,311.6 283.1,310.6 281.4,310.1 280.1,308.8 278.8,307.2 278.1,305.4 278.1,303.2 278.1,301.0 278.1,298.9 278.8,297.1 280.0,295.6 280.7,293.8 281.6,292.2 283.0,291.2 284.1,289.4 285.8,289.3 287.5,288.3 289.2,288.7 291.0,289.1 292.3,290.6 293.6,291.9 294.3,293.8 295.5,295.2 296.1,297.1 296.3,299.1" fill="none" stroke="#a0a0a0" stroke-width="0.5"/>
<polygon points="293.4,301.0 293.2,302.2 293.2,303.6 292.6,304.7 291.6,305.3 290.8,305.9 290.1,306.7 289.2,306.9 288.4,307.1 287.5,307.4 286.6,307.5 285.5,307.9 284.7,307.1 283.8,306.5 283.1,305.6 282.7,304.4 282.2,303.4 282.2,302.2 282.3,301.0 282.3,299.8 282.5,298.7 282.9,297.7 283.4,296.7 283.8,295.5 284.7,294.9 285.4,293.9 286.5,293.7 287.5,293.8 288.4,294.4 289.4,294.6 290.1,295.3 290.9,295.9 291.4,296.9 292.0,297.7 292.8,298.6 293.1,299.8" fill="none" stroke="#a0a0a0" stroke-width="0.5"/>
</g>
<line x1="298.5" y1="260.3" x2="298.5" y2="315.0" stroke="#888" stroke-width="0.8"/>
<line x1="277.5" y1="287.2" x2="332.5" y2="287.2" stroke="#888" stroke-width="0.8"/>
<text x="328.3" y="269.55" font-size="6.8" text-anchor="end" textLength="7.2" lengthAdjust="spacingAndGlyphs" fill="#444" stroke="#444" stroke-width="0.2">1.3</text>
<text x="278.7" y="263.90000000000003" font-size="3" fill="#999">UL</text>
<text x="331.3" y="313.8" font-size="3" text-anchor="end" fill="#999">LR</text>
<rect x="339.8" y="260.3" width="54.7" height="55.2" fill="#fff" stroke="#aaa" stroke-width="0.8"/>
<g filter="url(#bl)">
<path fill="#989898" d="M358.7 308.8h0.9v0.9h-0.9zM349.9 304.5h0.9v0.9h-0.9zM355.1 314.0h0.9v0.9h-0.9zM347.2 289.3h0.9v0.9h-0.9zM349.5 301.7h0.9v0.9h-0.9zM357.4 309.5h0.9v0.9h-0.9zM343.4 288.6h0.9v0.9h-0.9zM348.9 309.2h0.9v0.9h-0.9zM359.1 298.4h0.9v0.9h-0.9zM342.8 292.5h0.9v0.9h-0.9zM357.4 309.8h0.9v0.9h-0.9zM348.8 311.8h0.9v0.9h-0.9zM351.6 310.9h0.9v0.9h-0.9zM355.5 301.3h0.9v0.9h-0.9zM348.7 300.0h0.9v0.9h-0.9zM350.4 306.1h0.9v0.9h-0.9zM351.5 301.1h0.9v0.9h-0.9zM352.2 295.3h0.9v0.9h-0.9zM355.0 302.0h0.9v0.9h-0.9zM355.1 307.5h0.9v0.9h-0.9zM341.4 309.1h0.9v0.9h-0.9zM340.5 309.9h0.9v0.9h-0.9zM340.6 300.5h0.9v0.9h-0.9zM351.3 292.7h0.9v0.9h-0.9zM340.7 289.1h0.9v0.9h-0.9zM356.8 307.0h0.9v0.9h-0.9zM345.4 313.4h0.9v0.9h-0.9zM350.4 294.8h0.9v0.9h-0.9zM341.4 293.7h0.9v0.9h-0.9zM341.9 305.8h0.9v0.9h-0.9zM347.5 307.6h0.9v0.9h-0.9zM341.1 314.0h0.9v0.9h-0.9zM343.3 292.1h0.9v0.9h-0.9zM346.7 311.8h0.9v0.9h-0.9zM344.0 307.3h0.9v0.9h-0.9zM342.4 290.1h0.9v0.9h-0.9zM352.0 291.1h0.9v0.9h-0.9zM355.0 295.1h0.9v0.9h-0.9zM343.6 288.5h0.9v0.9h-0.9zM343.7 296.5h0.9v0.9h-0.9zM341.2 293.9h0.9v0.9h-0.9zM341.3 314.0h0.9v0.9h-0.9zM348.2 301.4h0.9v0.9h-0.9zM350.4 298.0h0.9v0.9h-0.9zM347.6 298.6h0.9v0.9h-0.9zM345.5 288.5h0.9v0.9h-0.9zM352.5 306.6h0.9v0.9h-0.9zM354.9 303.6h0.9v0.9h-0.9zM344.9 299.3h0.9v0.9h-0.9zM353.9 301.2h0.9v0.9h-0.9zM349.0 307.3h0.9v0.9h-0.9zM353.1 292.6h0.9v0.9h-0.9zM352.4 306.0h0.9v0.9h-0.9zM341.8 307.9h0.9v0.9h-0.9zM352.2 296.6h0.9v0.9h-0.9zM346.6 288.5h0.9v0.9h-0.9zM340.7 313.5h0.9v0.9h-0.9zM352.3 314.8h0.9v0.9h-0.9zM346.8 304.6h0.9v0.9h-0.9zM355.6 305.3h0.9v0.9h-0.9zM346.7 309.0h0.9v0.9h-0.9zM353.0 307.5h0.9v0.9h-0.9zM348.4 313.8h0.9v0.9h-0.9zM344.9 314.8h0.9v0.9h-0.9zM348.0 289.9h0.9v0.9h-0.9zM355.7 297.1h0.9v0.9h-0.9zM346.1 307.7h0.9v0.9h-0.9zM349.5 298.0h0.9v0.9h-0.9zM356.1 314.8h0.9v0.9h-0.9zM344.5 300.0h0.9v0.9h-0.9zM346.8 296.6h0.9v0.9h-0.9zM354.6 309.4h0.9v0.9h-0.9zM343.0 308.3h0.9v0.9h-0.9zM351.6 290.8h0.9v0.9h-0.9zM349.2 293.9h0.9v0.9h-0.9zM356.2 290.3h0.9v0.9h-0.9zM351.1 306.8h0.9v0.9h-0.9zM357.4 310.4h0.9v0.9h-0.9zM354.6 308.3h0.9v0.9h-0.9zM345.6 306.4h0.9v0.9h-0.9zM346.4 289.7h0.9v0.9h-0.9zM345.4 314.8h0.9v0.9h-0.9zM342.8 298.6h0.9v0.9h-0.9zM345.2 289.2h0.9v0.9h-0.9zM358.0 307.7h0.9v0.9h-0.9zM344.4 289.5h0.9v0.9h-0.9zM342.5 310.0h0.9v0.9h-0.9zM340.4 297.0h0.9v0.9h-0.9zM346.0 310.2h0.9v0.9h-0.9zM358.4 308.5h0.9v0.9h-0.9zM349.5 298.2h0.9v0.9h-0.9zM350.4 307.2h0.9v0.9h-0.9zM355.9 306.2h0.9v0.9h-0.9zM352.5 309.7h0.9v0.9h-0.9zM340.4 298.5h0.9v0.9h-0.9zM356.8 311.6h0.9v0.9h-0.9zM344.0 306.0h0.9v0.9h-0.9zM354.3 308.7h0.9v0.9h-0.9zM342.8 299.2h0.9v0.9h-0.9zM357.0 304.2h0.9v0.9h-0.9zM348.5 308.0h0.9v0.9h-0.9zM351.2 308.5h0.9v0.9h-0.9zM352.2 300.3h0.9v0.9h-0.9zM340.8 311.7h0.9v0.9h-0.9zM346.2 296.7h0.9v0.9h-0.9zM342.7 292.4h0.9v0.9h-0.9zM347.1 302.2h0.9v0.9h-0.9zM350.7 308.1h0.9v0.9h-0.9zM356.8 295.4h0.9v0.9h-0.9zM343.6 314.9h0.9v0.9h-0.9zM349.8 302.3h0.9v0.9h-0.9zM343.4 306.3h0.9v0.9h-0.9zM343.7 300.1h0.9v0.9h-0.9zM354.1 289.9h0.9v0.9h-0.9zM353.9 305.7h0.9v0.9h-0.9zM347.9 291.3h0.9v0.9h-0.9zM353.5 306.4h0.9v0.9h-0.9zM347.0 298.1h0.9v0.9h-0.9zM343.7 291.1h0.9v0.9h-0.9zM344.6 299.3h0.9v0.9h-0.9zM360.0 303.6h0.9v0.9h-0.9zM347.2 306.8h0.9v0.9h-0.9zM342.6 298.6h0.9v0.9h-0.9zM357.0 309.2h0.9v0.9h-0.9zM341.7 294.3h0.9v0.9h-0.9zM355.4 311.5h0.9v0.9h-0.9zM347.8 299.4h0.9v0.9h-0.9zM341.6 306.2h0.9v0.9h-0.9zM352.1 310.4h0.9v0.9h-0.9zM358.6 299.3h0.9v0.9h-0.9zM346.4 305.6h0.9v0.9h-0.9zM350.0 302.9h0.9v0.9h-0.9zM355.5 307.4h0.9v0.9h-0.9zM341.3 304.0h0.9v0.9h-0.9zM345.3 306.0h0.9v0.9h-0.9zM350.8 292.5h0.9v0.9h-0.9zM358.7 304.3h0.9v0.9h-0.9zM353.8 310.2h0.9v0.9h-0.9zM359.6 297.2h0.9v0.9h-0.9zM347.9 308.8h0.9v0.9h-0.9zM347.7 298.3h0.9v0.9h-0.9zM351.3 309.7h0.9v0.9h-0.9zM340.5 296.6h0.9v0.9h-0.9z"/>
<path fill="#b2b2b2" d="M358.1 313.3h0.9v0.9h-0.9zM349.6 303.6h0.9v0.9h-0.9zM356.9 308.7h0.9v0.9h-0.9zM356.4 295.1h0.9v0.9h-0.9zM357.3 301.7h0.9v0.9h-0.9zM346.9 304.5h0.9v0.9h-0.9zM349.6 310.3h0.9v0.9h-0.9zM342.6 309.0h0.9v0.9h-0.9zM341.5 299.9h0.9v0.9h-0.9zM356.8 304.3h0.9v0.9h-0.9zM359.2 296.7h0.9v0.9h-0.9zM355.1 300.3h0.9v0.9h-0.9zM352.4 305.3h0.9v0.9h-0.9zM355.6 303.9h0.9v0.9h-0.9zM346.8 292.1h0.9v0.9h-0.9zM343.7 292.3h0.9v0.9h-0.9zM356.0 303.0h0.9v0.9h-0.9zM348.0 302.7h0.9v0.9h-0.9zM355.2 292.3h0.9v0.9h-0.9zM350.6 304.6h0.9v0.9h-0.9zM356.3 305.8h0.9v0.9h-0.9zM348.3 302.8h0.9v0.9h-0.9zM351.5 314.8h0.9v0.9h-0.9zM356.7 308.8h0.9v0.9h-0.9zM344.9 312.2h0.9v0.9h-0.9zM356.6 303.0h0.9v0.9h-0.9zM344.5 305.1h0.9v0.9h-0.9zM351.9 304.4h0.9v0.9h-0.9zM351.9 288.6h0.9v0.9h-0.9zM344.2 290.0h0.9v0.9h-0.9zM340.6 293.3h0.9v0.9h-0.9zM349.9 309.4h0.9v0.9h-0.9zM360.1 297.9h0.9v0.9h-0.9zM344.6 300.2h0.9v0.9h-0.9zM347.0 304.0h0.9v0.9h-0.9zM344.7 294.8h0.9v0.9h-0.9zM351.1 303.5h0.9v0.9h-0.9zM349.6 294.1h0.9v0.9h-0.9zM345.4 291.4h0.9v0.9h-0.9zM344.2 306.1h0.9v0.9h-0.9zM354.3 310.3h0.9v0.9h-0.9zM357.5 288.5h0.9v0.9h-0.9zM348.7 312.5h0.9v0.9h-0.9zM349.8 308.9h0.9v0.9h-0.9zM360.1 308.0h0.9v0.9h-0.9zM356.9 290.1h0.9v0.9h-0.9zM345.0 294.5h0.9v0.9h-0.9zM348.6 310.7h0.9v0.9h-0.9zM349.3 292.6h0.9v0.9h-0.9zM349.1 300.9h0.9v0.9h-0.9zM353.1 310.2h0.9v0.9h-0.9zM347.4 291.7h0.9v0.9h-0.9zM356.3 312.1h0.9v0.9h-0.9zM348.8 312.3h0.9v0.9h-0.9zM358.1 309.5h0.9v0.9h-0.9zM343.3 296.4h0.9v0.9h-0.9zM347.5 293.1h0.9v0.9h-0.9zM358.5 294.8h0.9v0.9h-0.9zM357.4 292.0h0.9v0.9h-0.9zM344.3 290.1h0.9v0.9h-0.9zM353.0 296.7h0.9v0.9h-0.9zM345.3 292.0h0.9v0.9h-0.9zM341.4 310.2h0.9v0.9h-0.9zM343.7 312.6h0.9v0.9h-0.9zM345.7 293.0h0.9v0.9h-0.9zM349.1 307.0h0.9v0.9h-0.9zM345.4 314.1h0.9v0.9h-0.9zM353.4 311.0h0.9v0.9h-0.9zM345.9 296.4h0.9v0.9h-0.9zM354.2 309.0h0.9v0.9h-0.9zM354.3 306.8h0.9v0.9h-0.9zM356.9 289.1h0.9v0.9h-0.9zM355.5 291.6h0.9v0.9h-0.9zM344.6 308.0h0.9v0.9h-0.9zM351.5 300.3h0.9v0.9h-0.9zM359.4 300.0h0.9v0.9h-0.9zM348.3 300.5h0.9v0.9h-0.9zM356.7 294.9h0.9v0.9h-0.9zM360.1 299.9h0.9v0.9h-0.9zM346.5 314.4h0.9v0.9h-0.9zM350.9 300.8h0.9v0.9h-0.9zM360.2 309.6h0.9v0.9h-0.9zM344.7 305.6h0.9v0.9h-0.9zM348.8 299.4h0.9v0.9h-0.9zM358.5 304.0h0.9v0.9h-0.9zM355.7 314.6h0.9v0.9h-0.9zM351.9 305.5h0.9v0.9h-0.9zM352.2 294.8h0.9v0.9h-0.9zM351.8 288.7h0.9v0.9h-0.9zM358.1 314.1h0.9v0.9h-0.9zM348.0 305.1h0.9v0.9h-0.9zM343.6 294.5h0.9v0.9h-0.9zM357.4 301.5h0.9v0.9h-0.9zM353.9 300.5h0.9v0.9h-0.9zM348.5 292.4h0.9v0.9h-0.9zM342.9 292.5h0.9v0.9h-0.9zM341.8 310.6h0.9v0.9h-0.9zM353.5 311.6h0.9v0.9h-0.9zM358.5 305.3h0.9v0.9h-0.9zM347.2 300.8h0.9v0.9h-0.9zM347.9 297.3h0.9v0.9h-0.9zM355.9 307.6h0.9v0.9h-0.9zM347.6 307.1h0.9v0.9h-0.9zM354.7 304.1h0.9v0.9h-0.9zM343.7 291.1h0.9v0.9h-0.9zM355.6 314.6h0.9v0.9h-0.9zM348.6 310.2h0.9v0.9h-0.9zM359.8 303.3h0.9v0.9h-0.9zM359.4 290.2h0.9v0.9h-0.9zM348.9 296.2h0.9v0.9h-0.9zM342.8 300.3h0.9v0.9h-0.9zM341.7 292.6h0.9v0.9h-0.9zM353.6 289.7h0.9v0.9h-0.9zM346.3 308.7h0.9v0.9h-0.9zM344.8 314.3h0.9v0.9h-0.9zM350.0 314.0h0.9v0.9h-0.9zM347.0 303.8h0.9v0.9h-0.9zM356.6 298.3h0.9v0.9h-0.9zM346.9 308.7h0.9v0.9h-0.9zM345.5 296.7h0.9v0.9h-0.9zM351.5 302.8h0.9v0.9h-0.9zM357.2 297.2h0.9v0.9h-0.9zM355.5 305.3h0.9v0.9h-0.9zM346.1 298.3h0.9v0.9h-0.9zM345.2 298.9h0.9v0.9h-0.9zM340.7 292.6h0.9v0.9h-0.9zM347.0 313.9h0.9v0.9h-0.9zM347.7 294.5h0.9v0.9h-0.9zM344.2 303.5h0.9v0.9h-0.9zM341.3 290.0h0.9v0.9h-0.9zM356.1 307.7h0.9v0.9h-0.9zM354.2 305.0h0.9v0.9h-0.9zM343.1 294.3h0.9v0.9h-0.9zM352.2 292.0h0.9v0.9h-0.9zM348.1 293.8h0.9v0.9h-0.9zM348.2 297.7h0.9v0.9h-0.9zM355.0 303.1h0.9v0.9h-0.9zM346.5 312.3h0.9v0.9h-0.9z"/>
<path fill="#8a8a8a" d="M350.7 304.4h0.9v0.9h-0.9zM349.4 304.2h0.9v0.9h-0.9zM351.7 308.1h0.9v0.9h-0.9zM346.0 313.8h0.9v0.9h-0.9zM347.0 309.8h0.9v0.9h-0.9zM345.2 289.5h0.9v0.9h-0.9zM356.1 312.6h0.9v0.9h-0.9zM359.9 311.9h0.9v0.9h-0.9zM344.0 314.2h0.9v0.9h-0.9zM348.5 314.8h0.9v0.9h-0.9zM356.8 307.3h0.9v0.9h-0.9zM346.7 308.6h0.9v0.9h-0.9zM348.1 311.5h0.9v0.9h-0.9zM355.6 309.6h0.9v0.9h-0.9zM349.6 292.5h0.9v0.9h-0.9zM345.7 303.2h0.9v0.9h-0.9zM352.6 301.1h0.9v0.9h-0.9zM353.0 296.3h0.9v0.9h-0.9zM354.0 290.8h0.9v0.9h-0.9zM345.8 294.1h0.9v0.9h-0.9zM350.2 297.2h0.9v0.9h-0.9zM349.4 309.3h0.9v0.9h-0.9zM355.9 307.6h0.9v0.9h-0.9zM344.5 301.0h0.9v0.9h-0.9zM359.2 301.6h0.9v0.9h-0.9zM342.2 308.6h0.9v0.9h-0.9zM347.9 299.2h0.9v0.9h-0.9zM349.0 307.7h0.9v0.9h-0.9zM347.3 295.3h0.9v0.9h-0.9zM355.4 288.8h0.9v0.9h-0.9zM358.8 301.1h0.9v0.9h-0.9zM346.6 300.9h0.9v0.9h-0.9zM344.2 295.4h0.9v0.9h-0.9zM340.9 311.5h0.9v0.9h-0.9zM345.9 295.3h0.9v0.9h-0.9zM349.2 305.6h0.9v0.9h-0.9zM353.5 301.7h0.9v0.9h-0.9zM342.7 299.2h0.9v0.9h-0.9zM357.6 303.0h0.9v0.9h-0.9zM342.4 298.1h0.9v0.9h-0.9zM356.2 308.8h0.9v0.9h-0.9zM349.4 314.9h0.9v0.9h-0.9zM352.3 299.1h0.9v0.9h-0.9zM352.8 306.3h0.9v0.9h-0.9zM344.1 312.2h0.9v0.9h-0.9zM344.6 302.1h0.9v0.9h-0.9zM350.6 313.9h0.9v0.9h-0.9zM354.7 305.4h0.9v0.9h-0.9zM353.0 312.5h0.9v0.9h-0.9zM343.7 306.4h0.9v0.9h-0.9zM344.6 314.0h0.9v0.9h-0.9zM352.1 303.6h0.9v0.9h-0.9zM351.6 290.1h0.9v0.9h-0.9zM345.5 292.3h0.9v0.9h-0.9zM356.6 298.6h0.9v0.9h-0.9zM352.4 289.4h0.9v0.9h-0.9zM357.1 311.4h0.9v0.9h-0.9zM347.1 300.8h0.9v0.9h-0.9zM356.8 294.2h0.9v0.9h-0.9zM348.7 295.9h0.9v0.9h-0.9zM357.5 306.1h0.9v0.9h-0.9zM351.8 290.5h0.9v0.9h-0.9zM353.1 302.4h0.9v0.9h-0.9zM341.3 305.6h0.9v0.9h-0.9zM356.4 307.0h0.9v0.9h-0.9zM342.8 290.4h0.9v0.9h-0.9zM342.3 299.0h0.9v0.9h-0.9zM347.9 295.1h0.9v0.9h-0.9zM344.3 307.4h0.9v0.9h-0.9zM351.3 294.1h0.9v0.9h-0.9zM348.5 311.4h0.9v0.9h-0.9zM354.8 300.3h0.9v0.9h-0.9zM340.8 310.3h0.9v0.9h-0.9zM349.7 292.6h0.9v0.9h-0.9zM344.6 302.9h0.9v0.9h-0.9zM353.3 288.9h0.9v0.9h-0.9zM356.1 303.4h0.9v0.9h-0.9zM356.6 293.8h0.9v0.9h-0.9zM354.1 300.7h0.9v0.9h-0.9zM348.6 297.9h0.9v0.9h-0.9zM341.8 299.4h0.9v0.9h-0.9zM351.7 314.0h0.9v0.9h-0.9zM352.3 301.3h0.9v0.9h-0.9zM351.7 308.7h0.9v0.9h-0.9zM355.7 312.7h0.9v0.9h-0.9zM348.2 293.5h0.9v0.9h-0.9zM341.8 300.2h0.9v0.9h-0.9zM342.7 295.8h0.9v0.9h-0.9zM354.1 293.3h0.9v0.9h-0.9zM358.4 310.0h0.9v0.9h-0.9zM346.6 310.3h0.9v0.9h-0.9zM360.0 288.7h0.9v0.9h-0.9zM360.1 314.7h0.9v0.9h-0.9zM346.0 299.9h0.9v0.9h-0.9zM348.7 296.3h0.9v0.9h-0.9zM360.2 302.1h0.9v0.9h-0.9zM341.4 290.3h0.9v0.9h-0.9zM347.6 306.9h0.9v0.9h-0.9zM344.9 314.6h0.9v0.9h-0.9zM347.4 312.6h0.9v0.9h-0.9zM346.6 311.3h0.9v0.9h-0.9zM342.4 307.3h0.9v0.9h-0.9zM351.1 303.4h0.9v0.9h-0.9zM354.9 288.7h0.9v0.9h-0.9zM341.9 296.1h0.9v0.9h-0.9zM343.4 292.6h0.9v0.9h-0.9zM357.2 311.4h0.9v0.9h-0.9zM358.1 293.4h0.9v0.9h-0.9zM341.6 312.0h0.9v0.9h-0.9zM356.4 295.7h0.9v0.9h-0.9zM354.8 309.1h0.9v0.9h-0.9zM354.8 301.5h0.9v0.9h-0.9zM356.7 307.4h0.9v0.9h-0.9zM358.4 305.8h0.9v0.9h-0.9zM355.3 313.9h0.9v0.9h-0.9zM349.1 308.8h0.9v0.9h-0.9zM358.7 308.9h0.9v0.9h-0.9zM349.8 292.0h0.9v0.9h-0.9zM356.2 297.3h0.9v0.9h-0.9zM351.4 304.8h0.9v0.9h-0.9zM355.0 293.4h0.9v0.9h-0.9z"/>
<path fill="#a5a5a5" d="M355.9 302.5h0.9v0.9h-0.9zM359.5 309.5h0.9v0.9h-0.9zM341.7 298.3h0.9v0.9h-0.9zM341.0 288.5h0.9v0.9h-0.9zM350.7 289.3h0.9v0.9h-0.9zM354.0 302.8h0.9v0.9h-0.9zM344.4 302.3h0.9v0.9h-0.9zM355.9 302.6h0.9v0.9h-0.9zM341.6 290.7h0.9v0.9h-0.9zM360.0 312.8h0.9v0.9h-0.9zM354.7 305.3h0.9v0.9h-0.9zM346.9 299.0h0.9v0.9h-0.9zM354.8 295.9h0.9v0.9h-0.9zM355.8 304.8h0.9v0.9h-0.9zM356.7 307.8h0.9v0.9h-0.9zM356.0 311.0h0.9v0.9h-0.9zM349.3 293.8h0.9v0.9h-0.9zM357.4 292.1h0.9v0.9h-0.9zM353.9 294.5h0.9v0.9h-0.9zM352.1 306.2h0.9v0.9h-0.9zM345.0 304.7h0.9v0.9h-0.9zM349.6 292.9h0.9v0.9h-0.9zM350.5 311.4h0.9v0.9h-0.9zM344.7 308.3h0.9v0.9h-0.9zM340.8 296.9h0.9v0.9h-0.9zM340.6 294.3h0.9v0.9h-0.9zM341.4 301.3h0.9v0.9h-0.9zM353.8 312.5h0.9v0.9h-0.9zM352.5 305.1h0.9v0.9h-0.9zM359.3 291.9h0.9v0.9h-0.9zM353.3 313.1h0.9v0.9h-0.9zM358.2 291.0h0.9v0.9h-0.9zM352.6 303.5h0.9v0.9h-0.9zM347.2 306.8h0.9v0.9h-0.9zM348.7 298.4h0.9v0.9h-0.9zM351.0 288.9h0.9v0.9h-0.9zM350.2 291.0h0.9v0.9h-0.9zM349.7 291.0h0.9v0.9h-0.9zM343.6 290.4h0.9v0.9h-0.9zM351.4 297.3h0.9v0.9h-0.9zM344.5 307.7h0.9v0.9h-0.9zM359.8 298.4h0.9v0.9h-0.9zM356.4 314.4h0.9v0.9h-0.9zM344.0 291.0h0.9v0.9h-0.9zM340.8 302.3h0.9v0.9h-0.9zM341.6 291.6h0.9v0.9h-0.9zM343.9 289.9h0.9v0.9h-0.9zM352.6 304.4h0.9v0.9h-0.9zM351.8 298.3h0.9v0.9h-0.9zM343.4 310.4h0.9v0.9h-0.9zM357.2 309.7h0.9v0.9h-0.9zM350.8 290.9h0.9v0.9h-0.9zM354.9 300.0h0.9v0.9h-0.9zM348.7 303.8h0.9v0.9h-0.9zM340.5 295.1h0.9v0.9h-0.9zM357.8 294.6h0.9v0.9h-0.9zM344.0 291.8h0.9v0.9h-0.9zM351.2 307.2h0.9v0.9h-0.9zM341.4 304.0h0.9v0.9h-0.9zM347.0 306.4h0.9v0.9h-0.9zM355.3 302.6h0.9v0.9h-0.9zM342.4 296.6h0.9v0.9h-0.9zM354.3 303.9h0.9v0.9h-0.9zM347.7 294.3h0.9v0.9h-0.9zM344.3 303.2h0.9v0.9h-0.9zM349.9 294.9h0.9v0.9h-0.9zM354.0 290.7h0.9v0.9h-0.9zM346.4 306.4h0.9v0.9h-0.9zM355.6 308.0h0.9v0.9h-0.9zM350.9 303.2h0.9v0.9h-0.9zM343.3 292.1h0.9v0.9h-0.9zM347.8 313.4h0.9v0.9h-0.9zM354.9 292.0h0.9v0.9h-0.9zM349.7 288.7h0.9v0.9h-0.9zM345.8 295.1h0.9v0.9h-0.9zM352.4 312.3h0.9v0.9h-0.9zM349.6 301.2h0.9v0.9h-0.9zM343.2 299.0h0.9v0.9h-0.9zM343.2 294.1h0.9v0.9h-0.9zM358.3 290.7h0.9v0.9h-0.9zM343.6 291.2h0.9v0.9h-0.9zM359.1 307.7h0.9v0.9h-0.9zM359.6 299.8h0.9v0.9h-0.9zM350.9 306.7h0.9v0.9h-0.9zM346.6 314.5h0.9v0.9h-0.9zM350.2 293.7h0.9v0.9h-0.9zM355.6 308.8h0.9v0.9h-0.9zM343.5 313.0h0.9v0.9h-0.9zM340.7 303.3h0.9v0.9h-0.9zM350.3 289.1h0.9v0.9h-0.9zM350.5 311.5h0.9v0.9h-0.9zM347.3 294.0h0.9v0.9h-0.9zM354.4 289.2h0.9v0.9h-0.9zM353.9 294.1h0.9v0.9h-0.9zM348.0 296.2h0.9v0.9h-0.9zM357.8 309.2h0.9v0.9h-0.9zM350.6 290.7h0.9v0.9h-0.9zM345.0 306.0h0.9v0.9h-0.9zM353.6 289.8h0.9v0.9h-0.9zM355.9 313.2h0.9v0.9h-0.9zM354.9 288.7h0.9v0.9h-0.9zM346.0 295.8h0.9v0.9h-0.9zM342.9 312.2h0.9v0.9h-0.9zM350.7 312.8h0.9v0.9h-0.9zM345.2 305.5h0.9v0.9h-0.9zM341.8 300.4h0.9v0.9h-0.9zM347.4 293.2h0.9v0.9h-0.9zM342.6 301.6h0.9v0.9h-0.9zM345.5 308.2h0.9v0.9h-0.9zM345.7 308.4h0.9v0.9h-0.9zM349.9 312.9h0.9v0.9h-0.9zM344.3 295.6h0.9v0.9h-0.9zM343.1 303.0h0.9v0.9h-0.9zM358.2 291.6h0.9v0.9h-0.9zM344.2 313.8h0.9v0.9h-0.9zM356.3 306.6h0.9v0.9h-0.9zM358.2 306.2h0.9v0.9h-0.9zM340.8 304.2h0.9v0.9h-0.9zM342.9 293.6h0.9v0.9h-0.9zM340.5 289.1h0.9v0.9h-0.9zM348.1 312.5h0.9v0.9h-0.9zM349.1 307.9h0.9v0.9h-0.9zM340.5 302.3h0.9v0.9h-0.9zM340.4 296.7h0.9v0.9h-0.9zM357.6 298.6h0.9v0.9h-0.9zM352.3 313.6h0.9v0.9h-0.9zM342.6 289.8h0.9v0.9h-0.9zM352.2 307.6h0.9v0.9h-0.9zM342.0 309.3h0.9v0.9h-0.9zM346.8 310.8h0.9v0.9h-0.9zM352.4 293.5h0.9v0.9h-0.9zM343.1 312.2h0.9v0.9h-0.9zM347.9 301.5h0.9v0.9h-0.9zM356.7 309.6h0.9v0.9h-0.9zM351.7 291.4h0.9v0.9h-0.9zM350.4 310.9h0.9v0.9h-0.9zM342.5 312.3h0.9v0.9h-0.9zM349.4 305.8h0.9v0.9h-0.9zM341.8 297.6h0.9v0.9h-0.9zM349.9 300.9h0.9v0.9h-0.9zM341.4 303.3h0.9v0.9h-0.9zM340.8 290.5h0.9v0.9h-0.9z"/>
<path fill="#7d7d7d" d="M346.5 310.6h0.9v0.9h-0.9zM344.9 309.3h0.9v0.9h-0.9zM345.9 295.8h0.9v0.9h-0.9zM348.2 307.9h0.9v0.9h-0.9zM350.1 307.6h0.9v0.9h-0.9zM348.9 313.9h0.9v0.9h-0.9zM350.8 291.7h0.9v0.9h-0.9zM342.4 289.4h0.9v0.9h-0.9zM347.4 299.3h0.9v0.9h-0.9zM341.1 308.4h0.9v0.9h-0.9zM342.2 300.9h0.9v0.9h-0.9zM353.1 303.0h0.9v0.9h-0.9zM343.2 303.3h0.9v0.9h-0.9zM350.9 308.3h0.9v0.9h-0.9zM357.5 288.8h0.9v0.9h-0.9zM349.3 295.5h0.9v0.9h-0.9zM341.7 303.7h0.9v0.9h-0.9zM341.5 297.3h0.9v0.9h-0.9zM356.9 311.3h0.9v0.9h-0.9zM343.3 300.8h0.9v0.9h-0.9zM350.9 293.1h0.9v0.9h-0.9zM341.9 291.4h0.9v0.9h-0.9zM350.1 304.7h0.9v0.9h-0.9zM344.8 307.7h0.9v0.9h-0.9zM354.8 292.0h0.9v0.9h-0.9zM352.0 310.8h0.9v0.9h-0.9zM346.5 290.1h0.9v0.9h-0.9zM348.8 291.9h0.9v0.9h-0.9zM347.9 314.5h0.9v0.9h-0.9zM358.3 298.3h0.9v0.9h-0.9zM349.3 289.5h0.9v0.9h-0.9zM346.3 310.4h0.9v0.9h-0.9zM347.3 291.9h0.9v0.9h-0.9zM356.7 290.0h0.9v0.9h-0.9zM346.5 301.9h0.9v0.9h-0.9zM342.4 303.3h0.9v0.9h-0.9zM349.8 300.7h0.9v0.9h-0.9zM349.0 312.7h0.9v0.9h-0.9zM351.5 303.1h0.9v0.9h-0.9zM341.5 298.7h0.9v0.9h-0.9zM342.0 314.4h0.9v0.9h-0.9zM341.2 313.6h0.9v0.9h-0.9zM359.8 310.2h0.9v0.9h-0.9zM355.1 291.5h0.9v0.9h-0.9zM359.1 305.6h0.9v0.9h-0.9zM350.5 301.2h0.9v0.9h-0.9zM351.5 298.1h0.9v0.9h-0.9zM349.2 293.4h0.9v0.9h-0.9zM347.9 302.1h0.9v0.9h-0.9zM354.5 302.0h0.9v0.9h-0.9zM341.3 310.8h0.9v0.9h-0.9zM342.3 300.4h0.9v0.9h-0.9zM352.9 295.7h0.9v0.9h-0.9zM352.0 293.7h0.9v0.9h-0.9zM346.5 301.3h0.9v0.9h-0.9zM356.6 309.6h0.9v0.9h-0.9zM350.9 298.5h0.9v0.9h-0.9zM349.8 308.3h0.9v0.9h-0.9zM342.5 302.2h0.9v0.9h-0.9zM347.1 304.6h0.9v0.9h-0.9zM344.8 290.2h0.9v0.9h-0.9zM357.4 311.2h0.9v0.9h-0.9zM348.1 290.5h0.9v0.9h-0.9zM357.9 307.5h0.9v0.9h-0.9zM353.4 297.3h0.9v0.9h-0.9zM345.7 308.3h0.9v0.9h-0.9zM350.6 295.4h0.9v0.9h-0.9zM348.8 290.3h0.9v0.9h-0.9zM350.4 289.9h0.9v0.9h-0.9zM342.8 302.9h0.9v0.9h-0.9zM359.7 290.1h0.9v0.9h-0.9zM345.0 312.2h0.9v0.9h-0.9zM347.6 313.4h0.9v0.9h-0.9zM350.4 308.9h0.9v0.9h-0.9zM349.9 313.3h0.9v0.9h-0.9zM352.1 313.9h0.9v0.9h-0.9zM349.9 291.6h0.9v0.9h-0.9zM350.7 294.5h0.9v0.9h-0.9zM346.5 312.1h0.9v0.9h-0.9zM352.7 292.4h0.9v0.9h-0.9zM359.7 305.6h0.9v0.9h-0.9zM349.3 297.0h0.9v0.9h-0.9zM352.0 295.1h0.9v0.9h-0.9zM355.0 306.7h0.9v0.9h-0.9zM351.9 305.5h0.9v0.9h-0.9zM359.9 305.1h0.9v0.9h-0.9zM349.3 300.4h0.9v0.9h-0.9zM341.6 296.1h0.9v0.9h-0.9zM358.1 294.1h0.9v0.9h-0.9zM344.6 300.4h0.9v0.9h-0.9zM341.3 312.3h0.9v0.9h-0.9zM345.8 294.8h0.9v0.9h-0.9zM349.9 306.0h0.9v0.9h-0.9zM347.2 305.3h0.9v0.9h-0.9zM354.4 309.0h0.9v0.9h-0.9zM351.7 290.7h0.9v0.9h-0.9zM359.6 306.0h0.9v0.9h-0.9zM343.8 308.4h0.9v0.9h-0.9zM359.0 309.6h0.9v0.9h-0.9zM360.1 305.4h0.9v0.9h-0.9zM347.8 302.9h0.9v0.9h-0.9zM349.1 292.5h0.9v0.9h-0.9zM359.0 300.2h0.9v0.9h-0.9zM345.7 313.6h0.9v0.9h-0.9zM342.5 309.4h0.9v0.9h-0.9zM353.7 296.5h0.9v0.9h-0.9zM345.6 296.2h0.9v0.9h-0.9zM352.5 291.9h0.9v0.9h-0.9zM346.9 299.0h0.9v0.9h-0.9zM359.5 311.1h0.9v0.9h-0.9zM346.1 311.3h0.9v0.9h-0.9zM344.8 293.2h0.9v0.9h-0.9zM348.9 301.6h0.9v0.9h-0.9zM360.2 314.0h0.9v0.9h-0.9zM347.2 303.3h0.9v0.9h-0.9zM344.3 295.2h0.9v0.9h-0.9zM344.1 305.2h0.9v0.9h-0.9zM357.8 309.6h0.9v0.9h-0.9zM354.2 301.2h0.9v0.9h-0.9zM356.3 303.0h0.9v0.9h-0.9zM352.5 304.5h0.9v0.9h-0.9zM341.4 302.6h0.9v0.9h-0.9zM356.0 304.1h0.9v0.9h-0.9zM341.6 296.3h0.9v0.9h-0.9zM344.0 297.0h0.9v0.9h-0.9zM347.8 304.5h0.9v0.9h-0.9zM346.8 304.8h0.9v0.9h-0.9zM358.2 303.3h0.9v0.9h-0.9zM347.1 290.6h0.9v0.9h-0.9zM344.6 309.7h0.9v0.9h-0.9zM349.1 301.7h0.9v0.9h-0.9zM349.2 312.0h0.9v0.9h-0.9z"/>
<path fill="#707070" d="M352.2 312.3h0.9v0.9h-0.9zM344.7 291.0h0.9v0.9h-0.9zM359.2 305.8h0.9v0.9h-0.9zM340.8 293.4h0.9v0.9h-0.9zM348.2 294.2h0.9v0.9h-0.9zM349.8 311.5h0.9v0.9h-0.9zM350.7 297.0h0.9v0.9h-0.9zM352.6 302.3h0.9v0.9h-0.9zM353.9 296.1h0.9v0.9h-0.9zM356.7 306.4h0.9v0.9h-0.9zM349.0 309.2h0.9v0.9h-0.9zM353.3 304.4h0.9v0.9h-0.9zM354.5 312.8h0.9v0.9h-0.9zM353.7 289.9h0.9v0.9h-0.9zM341.2 303.5h0.9v0.9h-0.9zM359.7 310.4h0.9v0.9h-0.9zM349.2 307.8h0.9v0.9h-0.9zM343.3 305.5h0.9v0.9h-0.9zM350.6 299.4h0.9v0.9h-0.9zM345.1 292.3h0.9v0.9h-0.9zM353.5 295.6h0.9v0.9h-0.9zM343.7 306.8h0.9v0.9h-0.9zM348.7 296.2h0.9v0.9h-0.9zM343.2 304.9h0.9v0.9h-0.9zM340.9 295.6h0.9v0.9h-0.9zM355.6 308.9h0.9v0.9h-0.9zM344.2 305.8h0.9v0.9h-0.9zM354.7 288.9h0.9v0.9h-0.9zM349.8 312.2h0.9v0.9h-0.9zM345.3 308.6h0.9v0.9h-0.9zM341.8 301.5h0.9v0.9h-0.9zM355.0 305.0h0.9v0.9h-0.9zM354.6 301.5h0.9v0.9h-0.9zM341.2 308.1h0.9v0.9h-0.9zM350.1 291.5h0.9v0.9h-0.9zM348.9 309.7h0.9v0.9h-0.9zM347.6 308.9h0.9v0.9h-0.9zM353.9 310.0h0.9v0.9h-0.9zM346.5 295.8h0.9v0.9h-0.9zM355.5 304.1h0.9v0.9h-0.9zM346.3 296.0h0.9v0.9h-0.9zM347.2 294.1h0.9v0.9h-0.9zM341.0 310.3h0.9v0.9h-0.9zM351.9 313.3h0.9v0.9h-0.9zM357.8 292.0h0.9v0.9h-0.9zM348.3 299.1h0.9v0.9h-0.9zM355.1 309.7h0.9v0.9h-0.9zM346.8 308.2h0.9v0.9h-0.9zM340.8 296.0h0.9v0.9h-0.9zM342.8 310.3h0.9v0.9h-0.9zM351.7 307.5h0.9v0.9h-0.9zM355.1 307.1h0.9v0.9h-0.9zM349.7 296.5h0.9v0.9h-0.9zM360.0 310.9h0.9v0.9h-0.9zM352.0 304.2h0.9v0.9h-0.9zM348.9 304.9h0.9v0.9h-0.9zM358.8 297.1h0.9v0.9h-0.9zM341.7 300.4h0.9v0.9h-0.9zM340.8 308.5h0.9v0.9h-0.9zM349.8 304.5h0.9v0.9h-0.9zM354.5 288.4h0.9v0.9h-0.9zM346.6 304.6h0.9v0.9h-0.9zM354.4 312.7h0.9v0.9h-0.9zM341.2 306.6h0.9v0.9h-0.9zM345.7 292.1h0.9v0.9h-0.9zM345.5 307.0h0.9v0.9h-0.9zM350.4 299.3h0.9v0.9h-0.9zM348.7 311.9h0.9v0.9h-0.9zM349.3 305.6h0.9v0.9h-0.9zM356.7 311.6h0.9v0.9h-0.9zM349.8 302.9h0.9v0.9h-0.9zM343.4 300.3h0.9v0.9h-0.9zM345.4 294.1h0.9v0.9h-0.9zM354.9 307.5h0.9v0.9h-0.9zM358.8 303.9h0.9v0.9h-0.9zM345.6 292.1h0.9v0.9h-0.9zM353.0 313.8h0.9v0.9h-0.9zM360.1 312.3h0.9v0.9h-0.9zM349.3 290.8h0.9v0.9h-0.9zM350.9 295.7h0.9v0.9h-0.9zM348.0 301.5h0.9v0.9h-0.9zM347.0 310.9h0.9v0.9h-0.9zM350.2 290.5h0.9v0.9h-0.9zM357.7 304.0h0.9v0.9h-0.9zM357.0 301.8h0.9v0.9h-0.9zM353.9 313.2h0.9v0.9h-0.9zM358.9 292.7h0.9v0.9h-0.9zM352.0 289.6h0.9v0.9h-0.9zM352.1 303.0h0.9v0.9h-0.9zM346.1 303.8h0.9v0.9h-0.9zM359.0 312.4h0.9v0.9h-0.9zM348.8 297.8h0.9v0.9h-0.9zM354.9 297.9h0.9v0.9h-0.9zM357.0 288.8h0.9v0.9h-0.9zM349.3 297.1h0.9v0.9h-0.9zM343.3 302.5h0.9v0.9h-0.9zM357.3 312.5h0.9v0.9h-0.9zM358.2 302.7h0.9v0.9h-0.9zM351.1 308.1h0.9v0.9h-0.9zM344.0 305.1h0.9v0.9h-0.9zM353.4 311.7h0.9v0.9h-0.9zM357.4 292.8h0.9v0.9h-0.9zM352.5 310.6h0.9v0.9h-0.9zM347.4 301.9h0.9v0.9h-0.9zM349.3 295.8h0.9v0.9h-0.9zM345.1 300.6h0.9v0.9h-0.9zM348.2 300.4h0.9v0.9h-0.9zM360.0 310.5h0.9v0.9h-0.9zM345.1 307.4h0.9v0.9h-0.9zM344.7 313.5h0.9v0.9h-0.9zM348.1 289.3h0.9v0.9h-0.9zM350.3 312.3h0.9v0.9h-0.9zM348.6 298.2h0.9v0.9h-0.9zM351.2 311.1h0.9v0.9h-0.9zM353.0 290.1h0.9v0.9h-0.9zM346.3 309.0h0.9v0.9h-0.9zM352.8 290.0h0.9v0.9h-0.9zM357.3 313.4h0.9v0.9h-0.9zM350.1 297.6h0.9v0.9h-0.9zM354.4 311.2h0.9v0.9h-0.9zM345.9 294.1h0.9v0.9h-0.9zM344.3 305.9h0.9v0.9h-0.9zM344.1 303.6h0.9v0.9h-0.9zM352.0 310.1h0.9v0.9h-0.9zM346.1 291.1h0.9v0.9h-0.9zM357.1 310.5h0.9v0.9h-0.9zM350.2 310.4h0.9v0.9h-0.9zM344.6 294.8h0.9v0.9h-0.9zM342.5 300.8h0.9v0.9h-0.9zM359.5 301.3h0.9v0.9h-0.9zM348.8 305.6h0.9v0.9h-0.9zM352.5 290.9h0.9v0.9h-0.9zM359.8 304.1h0.9v0.9h-0.9zM341.5 307.4h0.9v0.9h-0.9zM345.3 309.4h0.9v0.9h-0.9zM346.4 309.8h0.9v0.9h-0.9zM345.6 314.9h0.9v0.9h-0.9zM344.0 289.9h0.9v0.9h-0.9zM359.7 310.9h0.9v0.9h-0.9zM351.4 313.8h0.9v0.9h-0.9zM355.8 305.4h0.9v0.9h-0.9zM341.3 311.5h0.9v0.9h-0.9zM344.8 291.8h0.9v0.9h-0.9zM350.4 288.7h0.9v0.9h-0.9z"/>
<path fill="#777" d="M341.1 289.5h0.9v0.9h-0.9zM340.6 307.7h0.9v0.9h-0.9zM341.0 312.2h0.9v0.9h-0.9zM340.6 293.8h0.9v0.9h-0.9zM340.5 313.9h0.9v0.9h-0.9zM340.4 308.9h0.9v0.9h-0.9zM340.8 295.8h0.9v0.9h-0.9zM340.8 300.3h0.9v0.9h-0.9zM340.3 303.0h0.9v0.9h-0.9zM340.3 307.2h0.9v0.9h-0.9zM340.8 311.1h0.9v0.9h-0.9zM358.6 314.6h0.9v0.9h-0.9zM358.6 314.8h0.9v0.9h-0.9zM353.9 314.5h0.9v0.9h-0.9zM345.0 314.6h0.9v0.9h-0.9zM353.8 314.3h0.9v0.9h-0.9zM343.8 314.7h0.9v0.9h-0.9zM349.1 314.1h0.9v0.9h-0.9zM344.0 314.8h0.9v0.9h-0.9zM357.8 314.7h0.9v0.9h-0.9zM355.6 314.1h0.9v0.9h-0.9zM347.6 314.2h0.9v0.9h-0.9zM345.3 314.4h0.9v0.9h-0.9z"/>
<path fill="#888" d="M340.6 297.7h0.9v0.9h-0.9zM340.6 307.0h0.9v0.9h-0.9zM340.4 294.1h0.9v0.9h-0.9zM340.7 290.1h0.9v0.9h-0.9zM340.5 292.7h0.9v0.9h-0.9zM340.8 306.1h0.9v0.9h-0.9zM341.0 310.9h0.9v0.9h-0.9zM341.1 302.8h0.9v0.9h-0.9zM341.1 313.4h0.9v0.9h-0.9zM341.1 310.6h0.9v0.9h-0.9zM340.4 295.2h0.9v0.9h-0.9zM340.6 297.9h0.9v0.9h-0.9zM340.4 292.5h0.9v0.9h-0.9zM340.3 301.3h0.9v0.9h-0.9zM340.5 314.0h0.9v0.9h-0.9zM342.0 314.8h0.9v0.9h-0.9zM354.6 314.7h0.9v0.9h-0.9zM359.6 314.8h0.9v0.9h-0.9zM352.4 314.1h0.9v0.9h-0.9zM347.7 314.3h0.9v0.9h-0.9zM351.7 314.8h0.9v0.9h-0.9zM348.0 314.8h0.9v0.9h-0.9zM354.1 314.1h0.9v0.9h-0.9z"/>
<path fill="#999" d="M341.1 294.9h0.9v0.9h-0.9zM340.8 311.8h0.9v0.9h-0.9zM340.5 301.6h0.9v0.9h-0.9zM340.5 296.7h0.9v0.9h-0.9zM340.4 292.4h0.9v0.9h-0.9zM340.8 294.5h0.9v0.9h-0.9zM340.4 293.4h0.9v0.9h-0.9zM341.1 307.0h0.9v0.9h-0.9zM340.6 294.2h0.9v0.9h-0.9zM340.9 293.4h0.9v0.9h-0.9zM340.6 313.8h0.9v0.9h-0.9zM340.5 293.5h0.9v0.9h-0.9zM340.5 301.4h0.9v0.9h-0.9zM340.4 310.0h0.9v0.9h-0.9zM340.7 292.4h0.9v0.9h-0.9zM342.4 314.2h0.9v0.9h-0.9zM342.6 314.4h0.9v0.9h-0.9zM359.1 314.2h0.9v0.9h-0.9zM342.5 314.6h0.9v0.9h-0.9zM343.9 314.7h0.9v0.9h-0.9zM349.8 314.7h0.9v0.9h-0.9zM356.0 314.8h0.9v0.9h-0.9zM347.2 314.3h0.9v0.9h-0.9zM350.4 314.2h0.9v0.9h-0.9z"/>
<path fill="#d0d0d0" d="M377.9 309.5h0.9v0.9h-0.9zM380.3 290.3h0.9v0.9h-0.9zM380.7 290.7h0.9v0.9h-0.9zM390.9 296.0h0.9v0.9h-0.9zM380.0 280.0h0.9v0.9h-0.9zM382.2 295.4h0.9v0.9h-0.9zM374.2 298.2h0.9v0.9h-0.9zM388.2 276.5h0.9v0.9h-0.9zM378.2 302.4h0.9v0.9h-0.9zM370.8 308.2h0.9v0.9h-0.9zM390.5 304.8h0.9v0.9h-0.9zM375.7 270.2h0.9v0.9h-0.9zM362.0 271.3h0.9v0.9h-0.9zM346.4 280.1h0.9v0.9h-0.9zM390.1 305.5h0.9v0.9h-0.9z"/>
<path fill="#c8c8c8" d="M352.0 279.7h0.9v0.9h-0.9zM386.7 275.4h0.9v0.9h-0.9zM381.3 308.3h0.9v0.9h-0.9zM375.2 269.1h0.9v0.9h-0.9zM378.1 310.4h0.9v0.9h-0.9zM352.5 282.9h0.9v0.9h-0.9zM369.9 266.8h0.9v0.9h-0.9zM380.9 290.3h0.9v0.9h-0.9zM357.4 283.0h0.9v0.9h-0.9zM364.3 279.8h0.9v0.9h-0.9zM392.6 312.6h0.9v0.9h-0.9zM372.6 291.7h0.9v0.9h-0.9zM387.5 309.1h0.9v0.9h-0.9zM380.5 271.0h0.9v0.9h-0.9zM383.2 268.2h0.9v0.9h-0.9zM368.9 277.6h0.9v0.9h-0.9zM379.8 274.0h0.9v0.9h-0.9zM382.1 266.3h0.9v0.9h-0.9zM368.7 281.8h0.9v0.9h-0.9zM373.4 276.4h0.9v0.9h-0.9zM374.8 275.0h0.9v0.9h-0.9zM375.7 278.0h0.9v0.9h-0.9zM367.9 279.7h0.9v0.9h-0.9zM379.4 269.7h0.9v0.9h-0.9zM374.9 278.6h0.9v0.9h-0.9zM383.6 273.6h0.9v0.9h-0.9zM371.0 274.0h0.9v0.9h-0.9zM369.6 278.9h0.9v0.9h-0.9zM374.3 272.4h0.9v0.9h-0.9zM381.2 267.5h0.9v0.9h-0.9zM376.8 280.8h0.9v0.9h-0.9zM375.9 277.0h0.9v0.9h-0.9zM373.8 279.0h0.9v0.9h-0.9z"/>
<path fill="#d8d8d8" d="M383.6 299.4h0.9v0.9h-0.9zM349.2 262.7h0.9v0.9h-0.9zM342.4 265.0h0.9v0.9h-0.9zM370.2 273.8h0.9v0.9h-0.9zM344.7 280.5h0.9v0.9h-0.9zM385.1 269.1h0.9v0.9h-0.9zM383.7 310.3h0.9v0.9h-0.9zM360.7 285.7h0.9v0.9h-0.9zM380.2 290.8h0.9v0.9h-0.9zM366.6 275.8h0.9v0.9h-0.9zM365.8 296.6h0.9v0.9h-0.9zM377.3 295.3h0.9v0.9h-0.9zM377.3 298.5h0.9v0.9h-0.9zM350.1 277.2h0.9v0.9h-0.9zM373.2 293.9h0.9v0.9h-0.9z"/>
<path fill="#b5b5b5" d="M351.6 285.7h0.9v0.9h-0.9zM354.8 279.8h0.9v0.9h-0.9zM359.2 284.0h0.9v0.9h-0.9zM353.4 285.8h0.9v0.9h-0.9zM348.5 285.7h0.9v0.9h-0.9zM356.6 285.3h0.9v0.9h-0.9zM343.5 285.4h0.9v0.9h-0.9zM359.6 284.5h0.9v0.9h-0.9zM359.1 279.7h0.9v0.9h-0.9zM343.5 282.3h0.9v0.9h-0.9zM343.0 284.0h0.9v0.9h-0.9zM345.8 286.1h0.9v0.9h-0.9zM342.3 281.3h0.9v0.9h-0.9zM343.5 286.5h0.9v0.9h-0.9zM356.5 283.3h0.9v0.9h-0.9z"/>
<path fill="#c0c0c0" d="M355.6 286.2h0.9v0.9h-0.9zM349.5 282.3h0.9v0.9h-0.9zM349.4 285.1h0.9v0.9h-0.9zM344.7 283.2h0.9v0.9h-0.9zM353.6 280.0h0.9v0.9h-0.9zM352.6 283.8h0.9v0.9h-0.9zM343.6 280.4h0.9v0.9h-0.9zM351.6 286.4h0.9v0.9h-0.9z"/>
<path fill="#cccccc" d="M348.0 283.9h0.9v0.9h-0.9zM356.0 284.4h0.9v0.9h-0.9zM344.0 285.7h0.9v0.9h-0.9zM357.0 285.0h0.9v0.9h-0.9zM348.5 282.5h0.9v0.9h-0.9zM345.3 281.7h0.9v0.9h-0.9zM358.1 286.1h0.9v0.9h-0.9zM350.5 284.1h0.9v0.9h-0.9zM344.5 278.8h0.9v0.9h-0.9zM353.6 281.9h0.9v0.9h-0.9zM343.8 285.8h0.9v0.9h-0.9zM355.5 277.4h0.9v0.9h-0.9z"/>
<path fill="#bcbcbc" d="M367.8 279.3h0.9v0.9h-0.9zM373.4 281.4h0.9v0.9h-0.9zM378.2 267.6h0.9v0.9h-0.9zM383.8 269.3h0.9v0.9h-0.9zM371.8 275.9h0.9v0.9h-0.9zM383.3 266.5h0.9v0.9h-0.9zM377.3 271.2h0.9v0.9h-0.9zM365.5 279.6h0.9v0.9h-0.9zM376.3 274.8h0.9v0.9h-0.9zM379.3 276.4h0.9v0.9h-0.9zM384.3 272.0h0.9v0.9h-0.9zM373.2 278.0h0.9v0.9h-0.9zM373.2 274.9h0.9v0.9h-0.9z"/>
<path fill="#d4d4d4" d="M386.2 268.9h0.9v0.9h-0.9zM367.6 277.4h0.9v0.9h-0.9zM368.3 281.6h0.9v0.9h-0.9zM364.2 281.0h0.9v0.9h-0.9zM383.2 272.4h0.9v0.9h-0.9zM379.4 267.4h0.9v0.9h-0.9zM371.7 277.8h0.9v0.9h-0.9zM383.8 271.0h0.9v0.9h-0.9zM371.1 277.4h0.9v0.9h-0.9zM382.8 267.1h0.9v0.9h-0.9zM370.7 273.8h0.9v0.9h-0.9zM377.6 277.7h0.9v0.9h-0.9zM369.4 278.8h0.9v0.9h-0.9zM372.8 279.0h0.9v0.9h-0.9zM362.2 279.9h0.9v0.9h-0.9zM381.3 271.4h0.9v0.9h-0.9z"/>
</g>
<line x1="360.8" y1="260.3" x2="360.8" y2="315.5" stroke="#888" stroke-width="0.8"/>
<line x1="339.8" y1="287.6" x2="394.5" y2="287.6" stroke="#888" stroke-width="0.8"/>
<text x="389.9" y="269.55" font-size="6.8" text-anchor="end" textLength="8.5" lengthAdjust="spacingAndGlyphs" fill="#444" stroke="#444" stroke-width="0.2">1.0</text>
<text x="341.0" y="263.90000000000003" font-size="3" fill="#999">UL</text>
<text x="393.3" y="314.3" font-size="3" text-anchor="end" fill="#999">LR</text>
<rect x="402.2" y="261.0" width="54.3" height="54.3" fill="#fff" stroke="#aaa" stroke-width="0.8"/>
<g filter="url(#bl)">
<path fill="#707070" d="M404.0 293.1h0.9v0.9h-0.9zM416.0 312.3h0.9v0.9h-0.9zM408.4 290.4h0.9v0.9h-0.9zM410.7 302.1h0.9v0.9h-0.9zM421.8 288.3h0.9v0.9h-0.9zM403.0 306.1h0.9v0.9h-0.9zM417.2 304.4h0.9v0.9h-0.9zM415.1 300.6h0.9v0.9h-0.9zM407.8 303.9h0.9v0.9h-0.9zM415.5 297.0h0.9v0.9h-0.9zM420.8 300.7h0.9v0.9h-0.9zM408.8 306.5h0.9v0.9h-0.9zM418.0 290.8h0.9v0.9h-0.9zM406.1 301.1h0.9v0.9h-0.9zM403.2 307.1h0.9v0.9h-0.9zM412.1 312.8h0.9v0.9h-0.9zM410.8 304.3h0.9v0.9h-0.9zM416.9 305.0h0.9v0.9h-0.9zM419.4 290.8h0.9v0.9h-0.9zM417.9 298.6h0.9v0.9h-0.9zM413.7 297.0h0.9v0.9h-0.9zM403.6 289.6h0.9v0.9h-0.9zM417.2 288.5h0.9v0.9h-0.9zM403.6 302.3h0.9v0.9h-0.9zM419.5 310.4h0.9v0.9h-0.9zM418.3 288.7h0.9v0.9h-0.9zM405.6 311.6h0.9v0.9h-0.9zM422.6 297.2h0.9v0.9h-0.9zM402.9 311.8h0.9v0.9h-0.9zM416.8 289.9h0.9v0.9h-0.9zM410.1 301.1h0.9v0.9h-0.9zM407.5 303.9h0.9v0.9h-0.9zM411.2 304.4h0.9v0.9h-0.9zM405.2 302.5h0.9v0.9h-0.9zM411.5 294.4h0.9v0.9h-0.9zM420.8 298.3h0.9v0.9h-0.9zM416.3 303.2h0.9v0.9h-0.9zM407.8 309.0h0.9v0.9h-0.9zM422.0 311.2h0.9v0.9h-0.9zM418.1 291.9h0.9v0.9h-0.9zM417.2 300.8h0.9v0.9h-0.9zM413.6 300.5h0.9v0.9h-0.9zM419.0 296.3h0.9v0.9h-0.9zM408.7 306.6h0.9v0.9h-0.9zM405.2 288.6h0.9v0.9h-0.9zM408.0 304.1h0.9v0.9h-0.9zM406.0 291.2h0.9v0.9h-0.9zM408.2 299.9h0.9v0.9h-0.9zM411.2 290.4h0.9v0.9h-0.9zM418.4 309.8h0.9v0.9h-0.9zM407.2 300.8h0.9v0.9h-0.9zM421.2 309.3h0.9v0.9h-0.9zM421.4 308.8h0.9v0.9h-0.9zM411.9 289.4h0.9v0.9h-0.9zM413.9 290.4h0.9v0.9h-0.9zM413.4 298.4h0.9v0.9h-0.9zM422.4 298.6h0.9v0.9h-0.9zM416.2 298.8h0.9v0.9h-0.9zM406.9 289.0h0.9v0.9h-0.9zM411.8 304.4h0.9v0.9h-0.9zM418.9 303.1h0.9v0.9h-0.9zM414.9 291.4h0.9v0.9h-0.9zM413.4 299.8h0.9v0.9h-0.9zM421.0 309.6h0.9v0.9h-0.9zM413.2 302.1h0.9v0.9h-0.9zM417.0 302.0h0.9v0.9h-0.9zM410.7 290.2h0.9v0.9h-0.9zM412.0 311.6h0.9v0.9h-0.9zM414.2 294.1h0.9v0.9h-0.9zM409.0 308.0h0.9v0.9h-0.9zM407.8 297.6h0.9v0.9h-0.9zM418.4 305.7h0.9v0.9h-0.9zM416.5 304.7h0.9v0.9h-0.9zM403.2 313.0h0.9v0.9h-0.9zM410.4 313.0h0.9v0.9h-0.9zM419.3 306.4h0.9v0.9h-0.9zM409.9 312.0h0.9v0.9h-0.9zM403.2 299.3h0.9v0.9h-0.9zM405.5 288.8h0.9v0.9h-0.9zM422.8 312.4h0.9v0.9h-0.9zM411.7 297.0h0.9v0.9h-0.9zM411.9 309.0h0.9v0.9h-0.9zM422.4 311.2h0.9v0.9h-0.9zM412.2 302.3h0.9v0.9h-0.9zM419.5 303.8h0.9v0.9h-0.9zM408.5 302.0h0.9v0.9h-0.9zM414.8 287.9h0.9v0.9h-0.9zM419.1 307.5h0.9v0.9h-0.9zM422.4 289.6h0.9v0.9h-0.9zM403.6 294.5h0.9v0.9h-0.9zM417.3 293.8h0.9v0.9h-0.9zM403.4 313.4h0.9v0.9h-0.9zM418.8 299.4h0.9v0.9h-0.9zM419.9 292.7h0.9v0.9h-0.9zM408.1 294.0h0.9v0.9h-0.9zM409.4 298.5h0.9v0.9h-0.9zM414.0 312.0h0.9v0.9h-0.9zM407.6 295.9h0.9v0.9h-0.9zM422.8 307.9h0.9v0.9h-0.9zM417.0 290.1h0.9v0.9h-0.9zM407.4 300.5h0.9v0.9h-0.9zM422.1 290.7h0.9v0.9h-0.9zM407.7 294.8h0.9v0.9h-0.9zM409.8 306.5h0.9v0.9h-0.9zM418.5 289.8h0.9v0.9h-0.9zM402.8 301.7h0.9v0.9h-0.9zM412.4 290.0h0.9v0.9h-0.9zM410.9 292.3h0.9v0.9h-0.9zM416.8 297.5h0.9v0.9h-0.9zM416.9 296.7h0.9v0.9h-0.9zM419.5 306.6h0.9v0.9h-0.9zM407.0 297.9h0.9v0.9h-0.9zM419.3 302.6h0.9v0.9h-0.9zM406.2 311.1h0.9v0.9h-0.9zM410.9 304.1h0.9v0.9h-0.9zM412.3 304.4h0.9v0.9h-0.9zM418.8 300.6h0.9v0.9h-0.9zM410.3 292.1h0.9v0.9h-0.9zM418.6 290.0h0.9v0.9h-0.9zM411.8 300.1h0.9v0.9h-0.9zM413.2 297.8h0.9v0.9h-0.9zM408.3 289.1h0.9v0.9h-0.9zM418.7 306.5h0.9v0.9h-0.9zM421.4 288.7h0.9v0.9h-0.9zM407.5 290.9h0.9v0.9h-0.9zM413.0 295.4h0.9v0.9h-0.9zM421.2 300.0h0.9v0.9h-0.9z"/>
<path fill="#b2b2b2" d="M414.4 302.6h0.9v0.9h-0.9zM421.0 313.2h0.9v0.9h-0.9zM419.0 289.0h0.9v0.9h-0.9zM411.1 294.1h0.9v0.9h-0.9zM412.7 300.7h0.9v0.9h-0.9zM411.5 314.7h0.9v0.9h-0.9zM410.0 303.2h0.9v0.9h-0.9zM403.3 311.0h0.9v0.9h-0.9zM416.8 306.5h0.9v0.9h-0.9zM415.3 309.1h0.9v0.9h-0.9zM405.1 290.8h0.9v0.9h-0.9zM410.5 291.3h0.9v0.9h-0.9zM403.0 308.7h0.9v0.9h-0.9zM419.0 311.8h0.9v0.9h-0.9zM413.0 288.5h0.9v0.9h-0.9zM421.8 302.2h0.9v0.9h-0.9zM416.9 304.0h0.9v0.9h-0.9zM403.3 307.3h0.9v0.9h-0.9zM408.7 294.5h0.9v0.9h-0.9zM403.5 297.8h0.9v0.9h-0.9zM421.4 288.6h0.9v0.9h-0.9zM417.3 297.1h0.9v0.9h-0.9zM404.8 312.9h0.9v0.9h-0.9zM408.2 313.0h0.9v0.9h-0.9zM417.1 291.9h0.9v0.9h-0.9zM408.6 305.4h0.9v0.9h-0.9zM416.9 311.7h0.9v0.9h-0.9zM410.7 303.3h0.9v0.9h-0.9zM414.6 299.6h0.9v0.9h-0.9zM410.2 299.9h0.9v0.9h-0.9zM406.2 290.0h0.9v0.9h-0.9zM404.7 305.1h0.9v0.9h-0.9zM409.8 308.4h0.9v0.9h-0.9zM416.4 290.1h0.9v0.9h-0.9zM416.0 299.5h0.9v0.9h-0.9zM405.1 313.7h0.9v0.9h-0.9zM416.5 291.2h0.9v0.9h-0.9zM421.1 311.5h0.9v0.9h-0.9zM408.1 301.8h0.9v0.9h-0.9zM411.0 288.2h0.9v0.9h-0.9zM413.8 306.5h0.9v0.9h-0.9zM416.0 312.4h0.9v0.9h-0.9zM414.3 307.8h0.9v0.9h-0.9zM418.4 301.2h0.9v0.9h-0.9zM418.3 295.7h0.9v0.9h-0.9zM404.4 302.3h0.9v0.9h-0.9zM414.4 289.4h0.9v0.9h-0.9zM408.6 313.4h0.9v0.9h-0.9zM417.1 291.8h0.9v0.9h-0.9zM414.4 295.0h0.9v0.9h-0.9zM416.0 304.8h0.9v0.9h-0.9zM413.0 293.1h0.9v0.9h-0.9zM415.2 314.0h0.9v0.9h-0.9zM421.2 312.5h0.9v0.9h-0.9zM415.7 292.0h0.9v0.9h-0.9zM405.1 291.8h0.9v0.9h-0.9zM411.5 307.3h0.9v0.9h-0.9zM412.0 298.7h0.9v0.9h-0.9zM406.5 311.7h0.9v0.9h-0.9zM403.5 303.5h0.9v0.9h-0.9zM416.0 307.0h0.9v0.9h-0.9zM416.2 298.6h0.9v0.9h-0.9zM408.9 305.1h0.9v0.9h-0.9zM410.8 300.5h0.9v0.9h-0.9zM406.9 314.4h0.9v0.9h-0.9zM405.0 308.4h0.9v0.9h-0.9zM406.0 308.6h0.9v0.9h-0.9zM403.7 295.0h0.9v0.9h-0.9zM416.3 289.9h0.9v0.9h-0.9zM409.4 302.4h0.9v0.9h-0.9zM409.4 299.6h0.9v0.9h-0.9zM417.1 290.8h0.9v0.9h-0.9zM411.7 303.4h0.9v0.9h-0.9zM408.1 289.2h0.9v0.9h-0.9zM408.8 292.3h0.9v0.9h-0.9zM413.3 294.1h0.9v0.9h-0.9zM410.6 288.8h0.9v0.9h-0.9zM419.0 297.7h0.9v0.9h-0.9zM410.2 300.8h0.9v0.9h-0.9zM410.0 310.7h0.9v0.9h-0.9zM418.3 301.7h0.9v0.9h-0.9zM405.8 313.2h0.9v0.9h-0.9zM407.5 293.9h0.9v0.9h-0.9zM404.8 309.2h0.9v0.9h-0.9zM408.0 301.6h0.9v0.9h-0.9zM412.8 296.2h0.9v0.9h-0.9zM405.8 291.8h0.9v0.9h-0.9zM405.9 290.7h0.9v0.9h-0.9zM422.1 308.6h0.9v0.9h-0.9zM404.2 300.9h0.9v0.9h-0.9zM416.1 307.6h0.9v0.9h-0.9zM406.5 294.1h0.9v0.9h-0.9zM404.4 307.8h0.9v0.9h-0.9zM410.0 294.8h0.9v0.9h-0.9zM408.7 302.0h0.9v0.9h-0.9zM422.0 311.1h0.9v0.9h-0.9zM411.6 288.9h0.9v0.9h-0.9zM408.1 310.7h0.9v0.9h-0.9zM414.7 295.2h0.9v0.9h-0.9zM406.4 306.5h0.9v0.9h-0.9zM407.2 294.4h0.9v0.9h-0.9zM419.2 295.5h0.9v0.9h-0.9zM416.0 311.6h0.9v0.9h-0.9zM409.6 310.4h0.9v0.9h-0.9zM406.8 305.9h0.9v0.9h-0.9zM407.8 293.7h0.9v0.9h-0.9zM409.6 288.1h0.9v0.9h-0.9zM406.8 311.7h0.9v0.9h-0.9zM404.4 303.3h0.9v0.9h-0.9zM420.8 296.4h0.9v0.9h-0.9zM422.7 306.8h0.9v0.9h-0.9zM418.0 298.3h0.9v0.9h-0.9zM411.5 302.2h0.9v0.9h-0.9zM416.0 290.6h0.9v0.9h-0.9zM404.7 289.2h0.9v0.9h-0.9zM409.6 313.9h0.9v0.9h-0.9zM412.2 298.5h0.9v0.9h-0.9zM407.2 310.5h0.9v0.9h-0.9zM411.9 313.9h0.9v0.9h-0.9zM414.7 301.1h0.9v0.9h-0.9zM409.7 301.0h0.9v0.9h-0.9zM407.0 304.3h0.9v0.9h-0.9zM408.7 314.1h0.9v0.9h-0.9zM421.1 307.6h0.9v0.9h-0.9zM409.4 311.3h0.9v0.9h-0.9zM406.7 288.6h0.9v0.9h-0.9zM403.9 295.3h0.9v0.9h-0.9z"/>
<path fill="#989898" d="M404.7 291.7h0.9v0.9h-0.9zM415.5 289.8h0.9v0.9h-0.9zM416.4 305.1h0.9v0.9h-0.9zM404.6 308.9h0.9v0.9h-0.9zM419.6 293.2h0.9v0.9h-0.9zM412.0 296.7h0.9v0.9h-0.9zM406.7 299.6h0.9v0.9h-0.9zM419.9 308.3h0.9v0.9h-0.9zM416.3 293.3h0.9v0.9h-0.9zM414.4 313.2h0.9v0.9h-0.9zM412.0 300.0h0.9v0.9h-0.9zM418.5 288.6h0.9v0.9h-0.9zM408.4 291.7h0.9v0.9h-0.9zM405.1 308.5h0.9v0.9h-0.9zM407.9 312.4h0.9v0.9h-0.9zM415.9 307.5h0.9v0.9h-0.9zM412.1 292.9h0.9v0.9h-0.9zM414.1 308.9h0.9v0.9h-0.9zM407.8 298.5h0.9v0.9h-0.9zM404.6 299.0h0.9v0.9h-0.9zM405.3 299.5h0.9v0.9h-0.9zM402.8 295.7h0.9v0.9h-0.9zM415.5 300.1h0.9v0.9h-0.9zM408.9 291.0h0.9v0.9h-0.9zM417.2 297.5h0.9v0.9h-0.9zM417.3 288.2h0.9v0.9h-0.9zM409.1 295.0h0.9v0.9h-0.9zM415.6 294.9h0.9v0.9h-0.9zM405.3 311.8h0.9v0.9h-0.9zM404.5 289.1h0.9v0.9h-0.9zM412.7 309.0h0.9v0.9h-0.9zM405.7 313.2h0.9v0.9h-0.9zM407.7 292.6h0.9v0.9h-0.9zM415.8 301.7h0.9v0.9h-0.9zM421.3 300.1h0.9v0.9h-0.9zM418.5 310.2h0.9v0.9h-0.9zM420.1 307.7h0.9v0.9h-0.9zM414.2 292.1h0.9v0.9h-0.9zM410.1 301.4h0.9v0.9h-0.9zM404.0 301.5h0.9v0.9h-0.9zM420.7 312.8h0.9v0.9h-0.9zM412.9 306.7h0.9v0.9h-0.9zM403.9 311.2h0.9v0.9h-0.9zM409.8 313.3h0.9v0.9h-0.9zM408.1 313.7h0.9v0.9h-0.9zM405.3 305.4h0.9v0.9h-0.9zM416.0 308.4h0.9v0.9h-0.9zM415.1 295.7h0.9v0.9h-0.9zM406.8 310.8h0.9v0.9h-0.9zM407.1 307.8h0.9v0.9h-0.9zM417.0 302.0h0.9v0.9h-0.9zM422.4 300.7h0.9v0.9h-0.9zM421.8 314.0h0.9v0.9h-0.9zM416.1 307.8h0.9v0.9h-0.9zM419.8 300.3h0.9v0.9h-0.9zM421.3 306.8h0.9v0.9h-0.9zM414.5 312.5h0.9v0.9h-0.9zM419.3 301.8h0.9v0.9h-0.9zM419.5 312.8h0.9v0.9h-0.9zM415.5 300.0h0.9v0.9h-0.9zM411.7 295.8h0.9v0.9h-0.9zM403.5 300.9h0.9v0.9h-0.9zM419.8 305.6h0.9v0.9h-0.9zM413.4 309.3h0.9v0.9h-0.9zM407.6 294.6h0.9v0.9h-0.9zM415.3 293.7h0.9v0.9h-0.9zM409.3 303.8h0.9v0.9h-0.9zM419.4 302.4h0.9v0.9h-0.9zM413.1 312.9h0.9v0.9h-0.9zM413.4 308.9h0.9v0.9h-0.9zM405.3 293.7h0.9v0.9h-0.9zM422.1 294.9h0.9v0.9h-0.9zM414.1 292.8h0.9v0.9h-0.9zM419.7 300.0h0.9v0.9h-0.9zM405.6 303.9h0.9v0.9h-0.9zM419.2 303.1h0.9v0.9h-0.9zM413.9 302.0h0.9v0.9h-0.9zM410.5 300.9h0.9v0.9h-0.9zM422.2 299.8h0.9v0.9h-0.9zM412.6 308.1h0.9v0.9h-0.9zM413.4 307.9h0.9v0.9h-0.9zM418.0 289.7h0.9v0.9h-0.9zM422.2 305.2h0.9v0.9h-0.9zM409.0 290.8h0.9v0.9h-0.9zM408.1 308.6h0.9v0.9h-0.9zM413.1 299.1h0.9v0.9h-0.9zM408.6 305.8h0.9v0.9h-0.9zM414.3 305.2h0.9v0.9h-0.9zM413.7 312.6h0.9v0.9h-0.9zM407.6 311.0h0.9v0.9h-0.9zM408.3 296.6h0.9v0.9h-0.9zM422.8 303.6h0.9v0.9h-0.9zM416.6 312.4h0.9v0.9h-0.9zM407.9 313.9h0.9v0.9h-0.9zM404.7 314.7h0.9v0.9h-0.9zM417.7 308.1h0.9v0.9h-0.9zM409.6 297.7h0.9v0.9h-0.9zM415.2 310.6h0.9v0.9h-0.9zM407.5 312.2h0.9v0.9h-0.9zM420.5 305.7h0.9v0.9h-0.9zM420.1 297.7h0.9v0.9h-0.9zM408.6 290.9h0.9v0.9h-0.9zM413.6 294.1h0.9v0.9h-0.9zM417.7 313.1h0.9v0.9h-0.9zM408.7 296.9h0.9v0.9h-0.9zM420.0 305.3h0.9v0.9h-0.9zM406.3 296.3h0.9v0.9h-0.9zM405.9 299.3h0.9v0.9h-0.9zM418.4 305.4h0.9v0.9h-0.9zM413.0 296.4h0.9v0.9h-0.9zM412.1 308.8h0.9v0.9h-0.9zM408.2 298.4h0.9v0.9h-0.9zM413.1 309.4h0.9v0.9h-0.9zM404.2 291.0h0.9v0.9h-0.9zM403.5 297.3h0.9v0.9h-0.9zM403.1 298.7h0.9v0.9h-0.9zM412.5 300.8h0.9v0.9h-0.9zM419.8 312.2h0.9v0.9h-0.9z"/>
<path fill="#a5a5a5" d="M403.3 308.0h0.9v0.9h-0.9zM413.3 291.5h0.9v0.9h-0.9zM403.5 313.6h0.9v0.9h-0.9zM413.1 302.9h0.9v0.9h-0.9zM410.2 300.4h0.9v0.9h-0.9zM412.3 290.8h0.9v0.9h-0.9zM413.0 291.0h0.9v0.9h-0.9zM421.2 312.8h0.9v0.9h-0.9zM418.1 292.8h0.9v0.9h-0.9zM411.3 312.2h0.9v0.9h-0.9zM413.6 295.3h0.9v0.9h-0.9zM420.1 297.6h0.9v0.9h-0.9zM405.5 302.3h0.9v0.9h-0.9zM417.5 290.2h0.9v0.9h-0.9zM404.4 295.7h0.9v0.9h-0.9zM414.3 306.6h0.9v0.9h-0.9zM416.9 289.4h0.9v0.9h-0.9zM417.9 304.7h0.9v0.9h-0.9zM405.1 312.6h0.9v0.9h-0.9zM406.7 299.6h0.9v0.9h-0.9zM409.4 292.1h0.9v0.9h-0.9zM421.6 306.0h0.9v0.9h-0.9zM407.3 290.0h0.9v0.9h-0.9zM407.3 291.8h0.9v0.9h-0.9zM416.7 299.0h0.9v0.9h-0.9zM416.6 304.4h0.9v0.9h-0.9zM405.0 289.3h0.9v0.9h-0.9zM418.3 309.6h0.9v0.9h-0.9zM414.4 307.6h0.9v0.9h-0.9zM403.9 303.0h0.9v0.9h-0.9zM414.5 298.9h0.9v0.9h-0.9zM421.5 304.4h0.9v0.9h-0.9zM421.0 309.3h0.9v0.9h-0.9zM407.2 289.5h0.9v0.9h-0.9zM416.5 296.2h0.9v0.9h-0.9zM420.8 310.1h0.9v0.9h-0.9zM404.6 300.0h0.9v0.9h-0.9zM407.8 314.1h0.9v0.9h-0.9zM417.8 292.6h0.9v0.9h-0.9zM414.3 299.0h0.9v0.9h-0.9zM410.4 305.4h0.9v0.9h-0.9zM422.1 307.2h0.9v0.9h-0.9zM412.5 297.3h0.9v0.9h-0.9zM411.9 313.5h0.9v0.9h-0.9zM414.3 294.1h0.9v0.9h-0.9zM419.4 298.6h0.9v0.9h-0.9zM410.5 301.9h0.9v0.9h-0.9zM408.3 304.2h0.9v0.9h-0.9zM419.6 310.7h0.9v0.9h-0.9zM403.6 310.2h0.9v0.9h-0.9zM412.6 295.1h0.9v0.9h-0.9zM418.8 299.4h0.9v0.9h-0.9zM417.7 292.2h0.9v0.9h-0.9zM410.4 303.0h0.9v0.9h-0.9zM411.1 296.7h0.9v0.9h-0.9zM411.7 293.5h0.9v0.9h-0.9zM408.5 307.6h0.9v0.9h-0.9zM421.0 291.4h0.9v0.9h-0.9zM420.4 299.8h0.9v0.9h-0.9zM409.4 308.8h0.9v0.9h-0.9zM403.3 306.2h0.9v0.9h-0.9zM418.0 305.7h0.9v0.9h-0.9zM408.1 302.4h0.9v0.9h-0.9zM418.1 304.4h0.9v0.9h-0.9zM408.8 313.0h0.9v0.9h-0.9zM421.5 300.9h0.9v0.9h-0.9zM412.0 296.9h0.9v0.9h-0.9zM422.1 307.2h0.9v0.9h-0.9zM417.9 301.6h0.9v0.9h-0.9zM406.0 301.1h0.9v0.9h-0.9zM407.9 308.8h0.9v0.9h-0.9zM421.4 291.1h0.9v0.9h-0.9zM420.5 304.9h0.9v0.9h-0.9zM410.7 313.0h0.9v0.9h-0.9zM410.8 302.5h0.9v0.9h-0.9zM422.1 313.2h0.9v0.9h-0.9zM417.5 291.2h0.9v0.9h-0.9zM407.1 311.6h0.9v0.9h-0.9zM412.2 313.6h0.9v0.9h-0.9zM422.5 292.3h0.9v0.9h-0.9zM420.6 307.5h0.9v0.9h-0.9zM404.5 312.9h0.9v0.9h-0.9zM412.0 307.5h0.9v0.9h-0.9zM406.3 311.2h0.9v0.9h-0.9zM404.9 289.4h0.9v0.9h-0.9zM418.0 289.7h0.9v0.9h-0.9zM411.0 311.8h0.9v0.9h-0.9zM415.2 307.5h0.9v0.9h-0.9zM419.3 301.6h0.9v0.9h-0.9zM404.6 289.2h0.9v0.9h-0.9zM406.3 293.5h0.9v0.9h-0.9zM406.2 293.5h0.9v0.9h-0.9zM413.4 296.2h0.9v0.9h-0.9zM406.7 291.8h0.9v0.9h-0.9zM418.7 308.9h0.9v0.9h-0.9zM410.3 300.6h0.9v0.9h-0.9zM422.0 295.6h0.9v0.9h-0.9zM406.1 309.5h0.9v0.9h-0.9zM405.7 311.4h0.9v0.9h-0.9zM407.0 289.0h0.9v0.9h-0.9zM413.8 298.8h0.9v0.9h-0.9zM404.7 291.6h0.9v0.9h-0.9zM409.5 313.7h0.9v0.9h-0.9zM410.7 312.6h0.9v0.9h-0.9zM404.7 314.7h0.9v0.9h-0.9zM411.9 297.7h0.9v0.9h-0.9zM411.6 304.6h0.9v0.9h-0.9zM416.7 306.3h0.9v0.9h-0.9zM405.1 306.6h0.9v0.9h-0.9zM421.7 296.1h0.9v0.9h-0.9zM418.5 297.1h0.9v0.9h-0.9zM418.1 306.5h0.9v0.9h-0.9zM402.9 304.0h0.9v0.9h-0.9zM407.6 301.2h0.9v0.9h-0.9zM408.1 291.2h0.9v0.9h-0.9zM408.1 312.6h0.9v0.9h-0.9zM422.7 292.2h0.9v0.9h-0.9zM412.6 296.2h0.9v0.9h-0.9zM412.6 301.9h0.9v0.9h-0.9zM410.3 311.0h0.9v0.9h-0.9zM417.1 305.7h0.9v0.9h-0.9zM411.9 302.2h0.9v0.9h-0.9zM418.0 307.5h0.9v0.9h-0.9zM406.3 303.0h0.9v0.9h-0.9zM406.5 314.1h0.9v0.9h-0.9zM422.6 304.3h0.9v0.9h-0.9zM403.7 308.6h0.9v0.9h-0.9zM403.5 306.5h0.9v0.9h-0.9zM405.4 294.7h0.9v0.9h-0.9zM420.9 313.4h0.9v0.9h-0.9zM413.5 310.9h0.9v0.9h-0.9zM416.7 303.8h0.9v0.9h-0.9zM418.2 298.4h0.9v0.9h-0.9zM405.3 303.2h0.9v0.9h-0.9zM413.8 301.7h0.9v0.9h-0.9z"/>
<path fill="#8a8a8a" d="M407.2 290.2h0.9v0.9h-0.9zM421.6 314.2h0.9v0.9h-0.9zM411.5 302.9h0.9v0.9h-0.9zM418.8 296.5h0.9v0.9h-0.9zM402.9 294.8h0.9v0.9h-0.9zM402.9 304.2h0.9v0.9h-0.9zM413.3 294.1h0.9v0.9h-0.9zM415.2 293.0h0.9v0.9h-0.9zM407.2 292.9h0.9v0.9h-0.9zM415.8 291.8h0.9v0.9h-0.9zM410.8 313.9h0.9v0.9h-0.9zM412.8 293.4h0.9v0.9h-0.9zM413.1 314.4h0.9v0.9h-0.9zM417.8 296.3h0.9v0.9h-0.9zM408.1 311.3h0.9v0.9h-0.9zM415.2 295.9h0.9v0.9h-0.9zM406.1 311.0h0.9v0.9h-0.9zM408.4 288.5h0.9v0.9h-0.9zM417.6 295.8h0.9v0.9h-0.9zM410.1 297.7h0.9v0.9h-0.9zM420.5 313.8h0.9v0.9h-0.9zM412.7 296.6h0.9v0.9h-0.9zM415.0 293.7h0.9v0.9h-0.9zM421.5 312.3h0.9v0.9h-0.9zM410.7 311.6h0.9v0.9h-0.9zM405.4 301.8h0.9v0.9h-0.9zM415.0 305.0h0.9v0.9h-0.9zM406.8 309.0h0.9v0.9h-0.9zM409.0 303.1h0.9v0.9h-0.9zM418.7 302.0h0.9v0.9h-0.9zM419.9 293.3h0.9v0.9h-0.9zM406.8 305.8h0.9v0.9h-0.9zM413.5 293.1h0.9v0.9h-0.9zM413.2 303.7h0.9v0.9h-0.9zM412.5 314.3h0.9v0.9h-0.9zM410.1 297.1h0.9v0.9h-0.9zM417.6 300.5h0.9v0.9h-0.9zM418.2 289.2h0.9v0.9h-0.9zM406.3 290.9h0.9v0.9h-0.9zM415.7 303.7h0.9v0.9h-0.9zM416.0 303.7h0.9v0.9h-0.9zM406.0 314.5h0.9v0.9h-0.9zM412.7 290.1h0.9v0.9h-0.9zM403.4 295.5h0.9v0.9h-0.9zM410.9 291.6h0.9v0.9h-0.9zM406.1 308.5h0.9v0.9h-0.9zM409.9 304.7h0.9v0.9h-0.9zM410.6 295.6h0.9v0.9h-0.9zM410.0 306.3h0.9v0.9h-0.9zM411.6 311.2h0.9v0.9h-0.9zM412.9 314.0h0.9v0.9h-0.9zM417.1 293.8h0.9v0.9h-0.9zM405.9 309.3h0.9v0.9h-0.9zM416.6 297.4h0.9v0.9h-0.9zM417.4 300.9h0.9v0.9h-0.9zM412.8 292.3h0.9v0.9h-0.9zM415.4 290.5h0.9v0.9h-0.9zM416.2 302.6h0.9v0.9h-0.9zM404.1 304.5h0.9v0.9h-0.9zM416.4 293.4h0.9v0.9h-0.9zM420.2 295.7h0.9v0.9h-0.9zM414.8 310.2h0.9v0.9h-0.9zM422.2 306.1h0.9v0.9h-0.9zM412.3 300.4h0.9v0.9h-0.9zM407.4 295.4h0.9v0.9h-0.9zM408.6 294.4h0.9v0.9h-0.9zM412.4 313.1h0.9v0.9h-0.9zM417.9 307.6h0.9v0.9h-0.9zM422.8 295.0h0.9v0.9h-0.9zM408.1 292.8h0.9v0.9h-0.9zM404.0 311.4h0.9v0.9h-0.9zM406.6 292.3h0.9v0.9h-0.9zM404.2 304.8h0.9v0.9h-0.9zM411.1 297.5h0.9v0.9h-0.9zM412.7 305.1h0.9v0.9h-0.9zM418.8 288.6h0.9v0.9h-0.9zM409.9 300.3h0.9v0.9h-0.9zM414.9 302.7h0.9v0.9h-0.9zM418.5 303.2h0.9v0.9h-0.9zM404.7 305.4h0.9v0.9h-0.9zM414.9 302.6h0.9v0.9h-0.9zM408.0 313.5h0.9v0.9h-0.9zM420.3 313.5h0.9v0.9h-0.9zM417.2 300.8h0.9v0.9h-0.9zM415.7 295.9h0.9v0.9h-0.9zM413.7 302.2h0.9v0.9h-0.9zM413.3 298.6h0.9v0.9h-0.9zM416.2 288.0h0.9v0.9h-0.9zM419.2 294.0h0.9v0.9h-0.9zM405.6 293.6h0.9v0.9h-0.9zM412.5 294.0h0.9v0.9h-0.9zM416.3 302.6h0.9v0.9h-0.9zM406.8 312.7h0.9v0.9h-0.9zM415.7 294.6h0.9v0.9h-0.9zM414.9 314.3h0.9v0.9h-0.9zM414.0 311.7h0.9v0.9h-0.9zM420.4 302.7h0.9v0.9h-0.9zM404.4 299.1h0.9v0.9h-0.9zM418.3 289.4h0.9v0.9h-0.9zM406.3 307.3h0.9v0.9h-0.9zM409.7 295.7h0.9v0.9h-0.9zM408.0 298.1h0.9v0.9h-0.9zM405.7 305.4h0.9v0.9h-0.9zM417.1 310.7h0.9v0.9h-0.9zM408.0 312.7h0.9v0.9h-0.9zM405.5 298.0h0.9v0.9h-0.9zM419.6 298.5h0.9v0.9h-0.9zM422.8 306.2h0.9v0.9h-0.9zM416.3 296.3h0.9v0.9h-0.9zM416.9 309.2h0.9v0.9h-0.9zM422.1 302.8h0.9v0.9h-0.9zM410.0 292.6h0.9v0.9h-0.9zM408.4 310.7h0.9v0.9h-0.9zM406.8 304.7h0.9v0.9h-0.9zM412.2 307.0h0.9v0.9h-0.9zM413.4 294.3h0.9v0.9h-0.9zM416.2 307.4h0.9v0.9h-0.9zM405.5 287.9h0.9v0.9h-0.9zM407.3 309.3h0.9v0.9h-0.9zM413.1 305.5h0.9v0.9h-0.9zM409.1 292.0h0.9v0.9h-0.9zM407.5 310.7h0.9v0.9h-0.9zM420.6 312.7h0.9v0.9h-0.9zM410.2 290.9h0.9v0.9h-0.9zM411.9 297.7h0.9v0.9h-0.9zM405.6 291.5h0.9v0.9h-0.9z"/>
<path fill="#7d7d7d" d="M410.2 300.5h0.9v0.9h-0.9zM410.9 305.4h0.9v0.9h-0.9zM419.6 313.5h0.9v0.9h-0.9zM410.2 290.2h0.9v0.9h-0.9zM406.5 311.4h0.9v0.9h-0.9zM414.0 304.4h0.9v0.9h-0.9zM415.5 303.3h0.9v0.9h-0.9zM415.2 309.7h0.9v0.9h-0.9zM416.7 303.6h0.9v0.9h-0.9zM421.1 292.1h0.9v0.9h-0.9zM411.6 290.6h0.9v0.9h-0.9zM415.7 300.7h0.9v0.9h-0.9zM409.9 300.4h0.9v0.9h-0.9zM411.8 304.5h0.9v0.9h-0.9zM404.0 306.9h0.9v0.9h-0.9zM422.6 305.9h0.9v0.9h-0.9zM416.6 296.9h0.9v0.9h-0.9zM410.6 307.0h0.9v0.9h-0.9zM420.5 306.5h0.9v0.9h-0.9zM415.4 297.6h0.9v0.9h-0.9zM415.1 308.1h0.9v0.9h-0.9zM416.6 311.3h0.9v0.9h-0.9zM421.3 295.7h0.9v0.9h-0.9zM413.3 289.4h0.9v0.9h-0.9zM403.0 303.2h0.9v0.9h-0.9zM419.2 299.0h0.9v0.9h-0.9zM407.8 301.4h0.9v0.9h-0.9zM409.0 309.2h0.9v0.9h-0.9zM417.8 308.7h0.9v0.9h-0.9zM408.9 289.9h0.9v0.9h-0.9zM408.4 301.6h0.9v0.9h-0.9zM416.5 295.3h0.9v0.9h-0.9zM410.3 311.3h0.9v0.9h-0.9zM411.5 293.5h0.9v0.9h-0.9zM416.6 306.9h0.9v0.9h-0.9zM411.2 290.5h0.9v0.9h-0.9zM408.9 295.3h0.9v0.9h-0.9zM422.4 305.3h0.9v0.9h-0.9zM412.6 314.2h0.9v0.9h-0.9zM412.1 296.6h0.9v0.9h-0.9zM409.5 311.7h0.9v0.9h-0.9zM405.6 303.2h0.9v0.9h-0.9zM421.5 303.4h0.9v0.9h-0.9zM415.1 305.9h0.9v0.9h-0.9zM421.1 297.5h0.9v0.9h-0.9zM414.6 294.6h0.9v0.9h-0.9zM420.5 294.6h0.9v0.9h-0.9zM416.3 296.4h0.9v0.9h-0.9zM414.9 310.1h0.9v0.9h-0.9zM421.5 313.9h0.9v0.9h-0.9zM414.4 313.6h0.9v0.9h-0.9zM417.5 297.8h0.9v0.9h-0.9zM407.6 313.1h0.9v0.9h-0.9zM414.9 293.6h0.9v0.9h-0.9zM420.2 304.2h0.9v0.9h-0.9zM407.2 297.9h0.9v0.9h-0.9zM417.3 299.1h0.9v0.9h-0.9zM415.5 303.1h0.9v0.9h-0.9zM413.4 303.5h0.9v0.9h-0.9zM414.6 302.0h0.9v0.9h-0.9zM409.2 291.2h0.9v0.9h-0.9zM402.9 290.5h0.9v0.9h-0.9zM411.9 313.2h0.9v0.9h-0.9zM421.0 311.3h0.9v0.9h-0.9zM409.5 309.8h0.9v0.9h-0.9zM410.4 307.3h0.9v0.9h-0.9zM403.3 288.4h0.9v0.9h-0.9zM407.3 312.8h0.9v0.9h-0.9zM417.2 298.4h0.9v0.9h-0.9zM415.8 293.0h0.9v0.9h-0.9zM405.8 301.5h0.9v0.9h-0.9zM413.5 300.3h0.9v0.9h-0.9zM413.7 297.1h0.9v0.9h-0.9zM419.6 300.4h0.9v0.9h-0.9zM408.0 313.9h0.9v0.9h-0.9zM422.0 301.7h0.9v0.9h-0.9zM404.5 314.3h0.9v0.9h-0.9zM410.8 296.1h0.9v0.9h-0.9zM414.7 301.2h0.9v0.9h-0.9zM407.6 311.2h0.9v0.9h-0.9zM418.1 311.3h0.9v0.9h-0.9zM416.5 303.6h0.9v0.9h-0.9zM421.1 301.1h0.9v0.9h-0.9zM422.2 309.9h0.9v0.9h-0.9zM405.7 288.4h0.9v0.9h-0.9zM415.7 311.6h0.9v0.9h-0.9zM406.7 312.7h0.9v0.9h-0.9zM415.9 301.9h0.9v0.9h-0.9zM407.1 300.0h0.9v0.9h-0.9zM414.2 301.9h0.9v0.9h-0.9zM414.1 298.5h0.9v0.9h-0.9zM408.6 302.4h0.9v0.9h-0.9zM415.9 307.6h0.9v0.9h-0.9zM411.8 313.1h0.9v0.9h-0.9zM421.9 308.9h0.9v0.9h-0.9zM422.3 307.9h0.9v0.9h-0.9zM413.1 292.6h0.9v0.9h-0.9zM405.3 309.6h0.9v0.9h-0.9zM406.2 308.5h0.9v0.9h-0.9zM410.4 289.2h0.9v0.9h-0.9zM415.4 304.8h0.9v0.9h-0.9zM411.7 299.2h0.9v0.9h-0.9zM408.0 295.6h0.9v0.9h-0.9zM404.5 299.5h0.9v0.9h-0.9zM408.7 301.6h0.9v0.9h-0.9zM416.3 290.2h0.9v0.9h-0.9zM409.3 299.0h0.9v0.9h-0.9zM413.8 305.6h0.9v0.9h-0.9zM418.8 303.2h0.9v0.9h-0.9zM418.8 312.5h0.9v0.9h-0.9zM413.8 300.5h0.9v0.9h-0.9zM420.1 304.5h0.9v0.9h-0.9zM419.7 298.4h0.9v0.9h-0.9zM405.2 314.3h0.9v0.9h-0.9zM414.5 308.4h0.9v0.9h-0.9zM408.8 308.4h0.9v0.9h-0.9zM412.8 312.8h0.9v0.9h-0.9zM403.4 290.0h0.9v0.9h-0.9zM420.2 310.5h0.9v0.9h-0.9zM415.0 292.0h0.9v0.9h-0.9zM413.8 313.7h0.9v0.9h-0.9zM413.9 308.6h0.9v0.9h-0.9zM407.4 289.8h0.9v0.9h-0.9zM403.1 291.3h0.9v0.9h-0.9zM405.3 295.8h0.9v0.9h-0.9zM408.6 289.4h0.9v0.9h-0.9zM418.4 288.4h0.9v0.9h-0.9zM414.7 303.9h0.9v0.9h-0.9zM410.7 292.4h0.9v0.9h-0.9zM413.1 304.1h0.9v0.9h-0.9zM418.7 289.0h0.9v0.9h-0.9zM413.8 308.5h0.9v0.9h-0.9zM407.9 300.5h0.9v0.9h-0.9zM417.0 297.9h0.9v0.9h-0.9zM407.2 292.7h0.9v0.9h-0.9zM416.5 294.2h0.9v0.9h-0.9zM414.5 289.3h0.9v0.9h-0.9zM416.8 300.5h0.9v0.9h-0.9zM410.1 297.5h0.9v0.9h-0.9zM407.1 309.7h0.9v0.9h-0.9zM420.7 306.1h0.9v0.9h-0.9zM407.9 293.4h0.9v0.9h-0.9zM407.0 295.9h0.9v0.9h-0.9zM417.8 310.0h0.9v0.9h-0.9zM404.1 291.7h0.9v0.9h-0.9zM404.3 294.0h0.9v0.9h-0.9z"/>
<path fill="#888" d="M402.9 303.6h0.9v0.9h-0.9zM403.1 292.1h0.9v0.9h-0.9zM403.2 303.1h0.9v0.9h-0.9zM403.1 310.4h0.9v0.9h-0.9zM403.1 300.3h0.9v0.9h-0.9zM403.3 305.0h0.9v0.9h-0.9zM403.4 312.8h0.9v0.9h-0.9zM402.9 296.0h0.9v0.9h-0.9zM402.8 311.3h0.9v0.9h-0.9zM402.9 292.0h0.9v0.9h-0.9zM403.4 288.7h0.9v0.9h-0.9zM403.3 313.4h0.9v0.9h-0.9zM403.4 290.9h0.9v0.9h-0.9zM403.1 305.5h0.9v0.9h-0.9zM402.8 310.2h0.9v0.9h-0.9zM403.1 307.1h0.9v0.9h-0.9zM402.7 312.6h0.9v0.9h-0.9zM422.0 314.4h0.9v0.9h-0.9zM415.7 314.1h0.9v0.9h-0.9zM404.0 314.0h0.9v0.9h-0.9zM409.6 313.9h0.9v0.9h-0.9zM407.9 314.0h0.9v0.9h-0.9zM413.1 314.0h0.9v0.9h-0.9z"/>
<path fill="#777" d="M403.0 289.7h0.9v0.9h-0.9zM403.2 308.4h0.9v0.9h-0.9zM403.4 297.4h0.9v0.9h-0.9zM403.4 307.4h0.9v0.9h-0.9zM403.4 298.1h0.9v0.9h-0.9zM403.0 307.9h0.9v0.9h-0.9zM402.9 291.8h0.9v0.9h-0.9zM403.1 301.1h0.9v0.9h-0.9zM403.4 289.7h0.9v0.9h-0.9zM403.5 310.4h0.9v0.9h-0.9zM403.1 313.9h0.9v0.9h-0.9zM403.2 290.0h0.9v0.9h-0.9zM403.1 302.3h0.9v0.9h-0.9zM403.1 309.8h0.9v0.9h-0.9zM403.0 308.2h0.9v0.9h-0.9zM419.2 314.3h0.9v0.9h-0.9zM414.5 314.1h0.9v0.9h-0.9zM417.4 314.2h0.9v0.9h-0.9zM403.2 314.2h0.9v0.9h-0.9zM420.2 314.5h0.9v0.9h-0.9zM414.6 314.0h0.9v0.9h-0.9zM412.2 314.5h0.9v0.9h-0.9zM413.6 314.2h0.9v0.9h-0.9zM421.6 314.4h0.9v0.9h-0.9zM415.6 314.3h0.9v0.9h-0.9zM407.2 314.4h0.9v0.9h-0.9zM421.9 314.2h0.9v0.9h-0.9zM410.9 314.5h0.9v0.9h-0.9zM406.1 314.5h0.9v0.9h-0.9zM421.0 314.5h0.9v0.9h-0.9zM417.9 314.2h0.9v0.9h-0.9z"/>
<path fill="#999" d="M403.1 308.1h0.9v0.9h-0.9zM403.4 297.7h0.9v0.9h-0.9zM402.9 301.0h0.9v0.9h-0.9zM403.5 292.4h0.9v0.9h-0.9zM403.4 311.0h0.9v0.9h-0.9zM402.8 288.8h0.9v0.9h-0.9zM403.1 304.4h0.9v0.9h-0.9zM402.8 313.0h0.9v0.9h-0.9zM412.7 314.5h0.9v0.9h-0.9zM410.1 314.6h0.9v0.9h-0.9zM417.7 314.0h0.9v0.9h-0.9zM403.4 314.4h0.9v0.9h-0.9zM403.1 314.3h0.9v0.9h-0.9zM405.6 314.2h0.9v0.9h-0.9zM407.5 314.2h0.9v0.9h-0.9zM403.8 314.4h0.9v0.9h-0.9z"/>
<path fill="#c8c8c8" d="M432.5 314.1h0.9v0.9h-0.9zM403.8 280.6h0.9v0.9h-0.9zM435.6 291.0h0.9v0.9h-0.9zM448.7 312.9h0.9v0.9h-0.9zM449.7 295.9h0.9v0.9h-0.9zM436.2 305.8h0.9v0.9h-0.9zM430.6 286.1h0.9v0.9h-0.9zM430.4 306.6h0.9v0.9h-0.9zM453.0 300.8h0.9v0.9h-0.9zM431.4 285.4h0.9v0.9h-0.9zM433.2 273.9h0.9v0.9h-0.9zM431.6 275.8h0.9v0.9h-0.9zM437.3 277.1h0.9v0.9h-0.9zM442.4 273.4h0.9v0.9h-0.9zM435.2 275.6h0.9v0.9h-0.9zM442.4 276.6h0.9v0.9h-0.9zM428.7 281.8h0.9v0.9h-0.9zM428.5 284.4h0.9v0.9h-0.9zM431.0 279.2h0.9v0.9h-0.9zM443.4 272.9h0.9v0.9h-0.9zM437.8 277.0h0.9v0.9h-0.9zM439.7 277.7h0.9v0.9h-0.9zM435.9 277.9h0.9v0.9h-0.9zM442.9 274.7h0.9v0.9h-0.9zM435.6 278.7h0.9v0.9h-0.9z"/>
<path fill="#d0d0d0" d="M441.0 307.3h0.9v0.9h-0.9zM451.6 273.3h0.9v0.9h-0.9zM421.0 285.7h0.9v0.9h-0.9zM435.5 272.2h0.9v0.9h-0.9zM428.2 272.6h0.9v0.9h-0.9zM428.3 283.5h0.9v0.9h-0.9zM449.1 282.2h0.9v0.9h-0.9zM452.9 286.0h0.9v0.9h-0.9zM427.8 297.9h0.9v0.9h-0.9zM412.2 284.9h0.9v0.9h-0.9zM405.0 272.7h0.9v0.9h-0.9zM433.3 309.6h0.9v0.9h-0.9z"/>
<path fill="#d8d8d8" d="M434.1 300.8h0.9v0.9h-0.9zM428.0 294.1h0.9v0.9h-0.9zM431.2 310.5h0.9v0.9h-0.9zM414.0 274.4h0.9v0.9h-0.9zM434.1 293.3h0.9v0.9h-0.9zM406.5 267.6h0.9v0.9h-0.9zM443.5 287.4h0.9v0.9h-0.9zM437.1 278.5h0.9v0.9h-0.9zM442.3 275.9h0.9v0.9h-0.9zM409.9 283.6h0.9v0.9h-0.9zM407.9 274.5h0.9v0.9h-0.9zM434.9 273.2h0.9v0.9h-0.9zM418.1 284.6h0.9v0.9h-0.9zM426.7 302.2h0.9v0.9h-0.9zM433.1 289.9h0.9v0.9h-0.9zM424.5 282.0h0.9v0.9h-0.9zM423.7 291.2h0.9v0.9h-0.9zM441.8 292.8h0.9v0.9h-0.9zM444.3 280.3h0.9v0.9h-0.9zM433.8 267.6h0.9v0.9h-0.9z"/>
<path fill="#b5b5b5" d="M409.0 284.5h0.9v0.9h-0.9zM411.5 279.2h0.9v0.9h-0.9zM420.9 281.3h0.9v0.9h-0.9zM413.5 285.5h0.9v0.9h-0.9zM408.6 283.8h0.9v0.9h-0.9zM408.6 282.2h0.9v0.9h-0.9zM412.4 285.9h0.9v0.9h-0.9zM419.9 283.5h0.9v0.9h-0.9zM419.3 284.1h0.9v0.9h-0.9zM421.3 282.6h0.9v0.9h-0.9z"/>
<path fill="#c0c0c0" d="M407.8 280.1h0.9v0.9h-0.9zM419.9 284.4h0.9v0.9h-0.9zM405.9 280.9h0.9v0.9h-0.9zM418.2 282.1h0.9v0.9h-0.9zM411.8 283.8h0.9v0.9h-0.9zM408.7 285.8h0.9v0.9h-0.9zM416.1 283.4h0.9v0.9h-0.9zM413.2 276.6h0.9v0.9h-0.9zM420.1 284.8h0.9v0.9h-0.9zM414.1 285.8h0.9v0.9h-0.9zM421.6 283.7h0.9v0.9h-0.9zM403.9 280.5h0.9v0.9h-0.9zM418.9 283.8h0.9v0.9h-0.9zM404.0 284.6h0.9v0.9h-0.9z"/>
<path fill="#cccccc" d="M408.1 282.5h0.9v0.9h-0.9zM416.8 285.3h0.9v0.9h-0.9zM421.4 279.8h0.9v0.9h-0.9zM417.5 284.1h0.9v0.9h-0.9zM405.3 283.5h0.9v0.9h-0.9zM403.3 282.2h0.9v0.9h-0.9zM413.7 285.1h0.9v0.9h-0.9zM414.3 279.3h0.9v0.9h-0.9zM408.1 286.1h0.9v0.9h-0.9zM421.5 285.7h0.9v0.9h-0.9zM420.5 276.8h0.9v0.9h-0.9z"/>
<path fill="#bcbcbc" d="M440.5 271.1h0.9v0.9h-0.9zM424.8 281.0h0.9v0.9h-0.9zM436.3 276.6h0.9v0.9h-0.9zM448.1 269.9h0.9v0.9h-0.9zM427.6 277.5h0.9v0.9h-0.9zM430.6 279.2h0.9v0.9h-0.9zM429.1 281.8h0.9v0.9h-0.9zM426.5 280.0h0.9v0.9h-0.9zM434.7 280.3h0.9v0.9h-0.9zM438.8 274.9h0.9v0.9h-0.9zM442.9 271.3h0.9v0.9h-0.9zM429.9 279.4h0.9v0.9h-0.9zM439.1 276.4h0.9v0.9h-0.9zM445.1 273.1h0.9v0.9h-0.9zM432.3 281.8h0.9v0.9h-0.9zM432.3 278.0h0.9v0.9h-0.9zM428.4 280.9h0.9v0.9h-0.9zM439.4 273.4h0.9v0.9h-0.9zM438.5 274.6h0.9v0.9h-0.9zM448.3 270.3h0.9v0.9h-0.9z"/>
<path fill="#d4d4d4" d="M440.6 271.4h0.9v0.9h-0.9zM449.4 270.7h0.9v0.9h-0.9zM438.4 275.4h0.9v0.9h-0.9zM433.3 280.8h0.9v0.9h-0.9zM431.3 283.8h0.9v0.9h-0.9zM443.1 274.6h0.9v0.9h-0.9zM438.1 279.7h0.9v0.9h-0.9zM443.4 273.9h0.9v0.9h-0.9zM429.5 280.7h0.9v0.9h-0.9zM436.9 279.6h0.9v0.9h-0.9zM442.8 273.4h0.9v0.9h-0.9zM428.3 284.8h0.9v0.9h-0.9zM431.2 276.9h0.9v0.9h-0.9zM433.3 282.6h0.9v0.9h-0.9z"/>
</g>
<line x1="423.5" y1="261.0" x2="423.5" y2="315.3" stroke="#888" stroke-width="0.8"/>
<line x1="402.2" y1="287.1" x2="456.5" y2="287.1" stroke="#888" stroke-width="0.8"/>
<text x="452.3" y="269.85" font-size="6.8" text-anchor="end" textLength="8.5" lengthAdjust="spacingAndGlyphs" fill="#444" stroke="#444" stroke-width="0.2">1.0</text>
<text x="403.4" y="264.6" font-size="3" fill="#999">UL</text>
<text x="455.3" y="314.1" font-size="3" text-anchor="end" fill="#999">LR</text>
<rect x="463.1" y="261.0" width="54.9" height="54.5" fill="#fff" stroke="#aaa" stroke-width="0.8"/>
<g filter="url(#bl)">
<path fill="#9a9a9a" d="M477.4 294.8h0.9v0.9h-0.9zM480.3 305.0h0.9v0.9h-0.9zM473.6 313.7h0.9v0.9h-0.9zM470.6 306.1h0.9v0.9h-0.9zM471.0 296.8h0.9v0.9h-0.9zM463.9 302.1h0.9v0.9h-0.9zM476.6 298.3h0.9v0.9h-0.9zM465.9 300.0h0.9v0.9h-0.9zM470.0 303.6h0.9v0.9h-0.9zM480.1 304.9h0.9v0.9h-0.9zM467.7 293.8h0.9v0.9h-0.9zM471.4 300.1h0.9v0.9h-0.9zM468.0 294.6h0.9v0.9h-0.9zM466.9 305.6h0.9v0.9h-0.9zM471.7 303.6h0.9v0.9h-0.9zM481.7 293.3h0.9v0.9h-0.9zM467.6 293.1h0.9v0.9h-0.9zM473.4 307.8h0.9v0.9h-0.9zM469.4 309.5h0.9v0.9h-0.9zM467.5 310.9h0.9v0.9h-0.9zM468.9 291.0h0.9v0.9h-0.9zM473.0 291.9h0.9v0.9h-0.9zM470.9 310.0h0.9v0.9h-0.9zM473.5 307.7h0.9v0.9h-0.9zM479.9 295.4h0.9v0.9h-0.9zM483.1 297.6h0.9v0.9h-0.9zM469.8 311.9h0.9v0.9h-0.9zM481.5 303.5h0.9v0.9h-0.9zM473.3 307.3h0.9v0.9h-0.9zM463.8 291.3h0.9v0.9h-0.9zM467.8 292.6h0.9v0.9h-0.9zM480.6 301.3h0.9v0.9h-0.9zM482.2 309.6h0.9v0.9h-0.9zM482.6 296.6h0.9v0.9h-0.9zM477.6 306.9h0.9v0.9h-0.9zM468.5 314.8h0.9v0.9h-0.9zM468.8 305.8h0.9v0.9h-0.9zM479.4 311.4h0.9v0.9h-0.9zM476.5 298.1h0.9v0.9h-0.9zM474.4 311.2h0.9v0.9h-0.9zM477.8 290.2h0.9v0.9h-0.9zM470.8 295.5h0.9v0.9h-0.9zM467.1 313.5h0.9v0.9h-0.9zM477.4 309.0h0.9v0.9h-0.9zM465.7 293.2h0.9v0.9h-0.9zM471.0 304.7h0.9v0.9h-0.9zM476.3 308.0h0.9v0.9h-0.9zM469.5 289.6h0.9v0.9h-0.9zM465.7 302.1h0.9v0.9h-0.9zM480.2 303.6h0.9v0.9h-0.9zM467.0 313.0h0.9v0.9h-0.9zM483.8 295.8h0.9v0.9h-0.9zM464.6 306.6h0.9v0.9h-0.9zM466.0 300.3h0.9v0.9h-0.9zM477.7 292.1h0.9v0.9h-0.9zM472.0 312.2h0.9v0.9h-0.9zM478.4 309.3h0.9v0.9h-0.9zM479.6 310.9h0.9v0.9h-0.9zM473.8 314.1h0.9v0.9h-0.9zM479.1 303.0h0.9v0.9h-0.9zM480.1 292.8h0.9v0.9h-0.9zM474.1 292.6h0.9v0.9h-0.9zM478.4 304.6h0.9v0.9h-0.9zM473.5 314.7h0.9v0.9h-0.9zM472.8 303.0h0.9v0.9h-0.9zM468.7 313.1h0.9v0.9h-0.9zM474.3 295.5h0.9v0.9h-0.9zM470.9 304.3h0.9v0.9h-0.9zM476.1 312.2h0.9v0.9h-0.9zM465.8 290.2h0.9v0.9h-0.9zM481.3 297.6h0.9v0.9h-0.9zM470.9 303.7h0.9v0.9h-0.9zM482.0 304.6h0.9v0.9h-0.9zM468.7 295.6h0.9v0.9h-0.9zM474.9 306.2h0.9v0.9h-0.9zM467.7 294.0h0.9v0.9h-0.9zM480.9 291.0h0.9v0.9h-0.9zM469.7 300.1h0.9v0.9h-0.9zM476.3 295.5h0.9v0.9h-0.9zM482.9 294.5h0.9v0.9h-0.9zM465.0 302.9h0.9v0.9h-0.9zM476.3 313.3h0.9v0.9h-0.9zM465.4 311.4h0.9v0.9h-0.9zM481.4 304.7h0.9v0.9h-0.9zM469.6 293.3h0.9v0.9h-0.9zM479.8 314.7h0.9v0.9h-0.9zM466.2 308.3h0.9v0.9h-0.9zM468.5 309.2h0.9v0.9h-0.9zM467.7 293.3h0.9v0.9h-0.9zM480.8 296.9h0.9v0.9h-0.9zM482.1 303.2h0.9v0.9h-0.9zM469.8 314.6h0.9v0.9h-0.9zM472.8 307.1h0.9v0.9h-0.9zM467.0 311.7h0.9v0.9h-0.9zM477.6 294.8h0.9v0.9h-0.9zM483.1 303.9h0.9v0.9h-0.9zM468.6 309.2h0.9v0.9h-0.9zM482.2 295.6h0.9v0.9h-0.9zM483.2 314.4h0.9v0.9h-0.9zM467.8 313.8h0.9v0.9h-0.9zM470.2 295.2h0.9v0.9h-0.9zM467.8 311.9h0.9v0.9h-0.9zM471.7 291.1h0.9v0.9h-0.9zM473.4 313.9h0.9v0.9h-0.9zM469.7 312.1h0.9v0.9h-0.9zM466.7 300.9h0.9v0.9h-0.9zM476.3 309.9h0.9v0.9h-0.9zM478.4 309.8h0.9v0.9h-0.9zM467.1 312.6h0.9v0.9h-0.9zM467.5 313.1h0.9v0.9h-0.9zM480.8 290.3h0.9v0.9h-0.9zM480.8 297.4h0.9v0.9h-0.9zM483.2 290.9h0.9v0.9h-0.9zM481.8 304.2h0.9v0.9h-0.9zM476.7 295.7h0.9v0.9h-0.9zM478.2 307.8h0.9v0.9h-0.9zM478.8 312.9h0.9v0.9h-0.9zM472.6 290.9h0.9v0.9h-0.9zM475.5 313.4h0.9v0.9h-0.9zM473.9 294.4h0.9v0.9h-0.9zM464.2 309.7h0.9v0.9h-0.9zM472.5 299.9h0.9v0.9h-0.9zM478.4 291.4h0.9v0.9h-0.9zM483.1 299.2h0.9v0.9h-0.9zM467.9 296.1h0.9v0.9h-0.9zM475.2 312.1h0.9v0.9h-0.9zM467.0 302.8h0.9v0.9h-0.9z"/>
<path fill="#7a7a7a" d="M465.0 313.5h0.9v0.9h-0.9zM472.6 297.6h0.9v0.9h-0.9zM471.3 309.2h0.9v0.9h-0.9zM465.7 314.1h0.9v0.9h-0.9zM469.7 301.9h0.9v0.9h-0.9zM470.5 297.7h0.9v0.9h-0.9zM476.9 307.9h0.9v0.9h-0.9zM471.2 310.3h0.9v0.9h-0.9zM475.7 294.8h0.9v0.9h-0.9zM480.4 309.3h0.9v0.9h-0.9zM478.6 310.4h0.9v0.9h-0.9zM468.7 304.5h0.9v0.9h-0.9zM471.6 307.6h0.9v0.9h-0.9zM480.5 312.7h0.9v0.9h-0.9zM477.0 291.9h0.9v0.9h-0.9zM478.4 301.6h0.9v0.9h-0.9zM466.1 291.8h0.9v0.9h-0.9zM470.1 299.9h0.9v0.9h-0.9zM474.4 296.0h0.9v0.9h-0.9zM473.0 310.8h0.9v0.9h-0.9zM471.9 308.0h0.9v0.9h-0.9zM480.5 296.9h0.9v0.9h-0.9zM475.3 292.3h0.9v0.9h-0.9zM468.0 309.8h0.9v0.9h-0.9zM469.2 292.0h0.9v0.9h-0.9zM480.0 312.1h0.9v0.9h-0.9zM482.0 300.4h0.9v0.9h-0.9zM483.0 294.7h0.9v0.9h-0.9zM470.0 312.4h0.9v0.9h-0.9zM471.6 304.4h0.9v0.9h-0.9zM480.6 289.3h0.9v0.9h-0.9zM483.8 308.8h0.9v0.9h-0.9zM469.4 301.3h0.9v0.9h-0.9zM477.7 291.7h0.9v0.9h-0.9zM478.3 299.8h0.9v0.9h-0.9zM464.6 301.9h0.9v0.9h-0.9zM482.6 303.6h0.9v0.9h-0.9zM475.8 314.7h0.9v0.9h-0.9zM463.8 302.9h0.9v0.9h-0.9zM469.6 293.8h0.9v0.9h-0.9zM480.7 289.5h0.9v0.9h-0.9zM466.5 312.1h0.9v0.9h-0.9zM468.9 291.8h0.9v0.9h-0.9zM469.4 312.1h0.9v0.9h-0.9zM470.9 295.3h0.9v0.9h-0.9zM469.6 309.1h0.9v0.9h-0.9zM475.8 296.4h0.9v0.9h-0.9zM467.6 302.3h0.9v0.9h-0.9zM481.8 310.3h0.9v0.9h-0.9zM468.0 303.7h0.9v0.9h-0.9zM483.7 312.2h0.9v0.9h-0.9zM477.2 314.4h0.9v0.9h-0.9zM475.3 295.3h0.9v0.9h-0.9zM472.3 291.5h0.9v0.9h-0.9zM471.3 301.8h0.9v0.9h-0.9zM467.1 301.0h0.9v0.9h-0.9zM465.5 295.0h0.9v0.9h-0.9zM481.0 296.1h0.9v0.9h-0.9zM481.0 289.2h0.9v0.9h-0.9zM481.7 298.9h0.9v0.9h-0.9zM482.5 306.1h0.9v0.9h-0.9zM479.8 313.1h0.9v0.9h-0.9zM481.8 290.7h0.9v0.9h-0.9zM482.3 308.2h0.9v0.9h-0.9zM482.3 289.4h0.9v0.9h-0.9zM483.5 310.0h0.9v0.9h-0.9zM466.4 301.0h0.9v0.9h-0.9zM465.7 306.1h0.9v0.9h-0.9zM477.2 298.0h0.9v0.9h-0.9zM474.8 313.7h0.9v0.9h-0.9zM475.7 292.0h0.9v0.9h-0.9zM481.4 312.2h0.9v0.9h-0.9zM467.7 299.1h0.9v0.9h-0.9zM464.7 295.7h0.9v0.9h-0.9zM470.2 289.5h0.9v0.9h-0.9zM474.1 303.0h0.9v0.9h-0.9zM465.7 291.1h0.9v0.9h-0.9zM477.5 300.7h0.9v0.9h-0.9zM479.8 305.2h0.9v0.9h-0.9zM468.2 298.3h0.9v0.9h-0.9zM467.8 305.6h0.9v0.9h-0.9zM472.3 300.5h0.9v0.9h-0.9zM468.3 297.9h0.9v0.9h-0.9zM477.3 303.6h0.9v0.9h-0.9zM466.0 294.6h0.9v0.9h-0.9zM470.0 309.5h0.9v0.9h-0.9zM470.4 290.1h0.9v0.9h-0.9zM465.9 291.7h0.9v0.9h-0.9zM465.6 290.5h0.9v0.9h-0.9zM465.1 300.8h0.9v0.9h-0.9zM471.9 294.1h0.9v0.9h-0.9zM467.6 290.2h0.9v0.9h-0.9zM482.9 308.9h0.9v0.9h-0.9zM469.7 299.7h0.9v0.9h-0.9zM482.5 314.0h0.9v0.9h-0.9zM471.2 310.6h0.9v0.9h-0.9zM469.0 302.5h0.9v0.9h-0.9zM470.9 294.6h0.9v0.9h-0.9zM467.9 307.5h0.9v0.9h-0.9zM471.8 296.7h0.9v0.9h-0.9zM472.1 295.4h0.9v0.9h-0.9zM471.9 300.8h0.9v0.9h-0.9zM466.7 301.8h0.9v0.9h-0.9zM463.8 306.6h0.9v0.9h-0.9zM472.4 311.8h0.9v0.9h-0.9zM476.1 309.1h0.9v0.9h-0.9zM473.2 300.9h0.9v0.9h-0.9zM481.0 308.9h0.9v0.9h-0.9zM477.4 309.5h0.9v0.9h-0.9zM481.4 297.4h0.9v0.9h-0.9zM482.3 311.4h0.9v0.9h-0.9zM481.2 289.3h0.9v0.9h-0.9zM470.1 309.7h0.9v0.9h-0.9zM483.7 300.4h0.9v0.9h-0.9zM480.8 298.7h0.9v0.9h-0.9zM482.4 310.1h0.9v0.9h-0.9zM470.7 305.3h0.9v0.9h-0.9zM468.6 304.5h0.9v0.9h-0.9zM471.3 313.5h0.9v0.9h-0.9zM472.8 300.4h0.9v0.9h-0.9zM479.5 295.0h0.9v0.9h-0.9zM475.6 314.8h0.9v0.9h-0.9zM481.8 297.0h0.9v0.9h-0.9zM471.9 292.2h0.9v0.9h-0.9zM466.3 296.9h0.9v0.9h-0.9zM475.4 312.9h0.9v0.9h-0.9zM482.7 310.9h0.9v0.9h-0.9zM481.2 306.1h0.9v0.9h-0.9zM470.4 291.2h0.9v0.9h-0.9zM471.2 313.7h0.9v0.9h-0.9zM471.0 303.8h0.9v0.9h-0.9zM475.6 300.9h0.9v0.9h-0.9zM468.9 302.9h0.9v0.9h-0.9zM480.5 311.2h0.9v0.9h-0.9zM470.9 306.8h0.9v0.9h-0.9zM468.3 298.6h0.9v0.9h-0.9zM473.7 295.7h0.9v0.9h-0.9z"/>
<path fill="#8a8a8a" d="M464.2 299.8h0.9v0.9h-0.9zM480.8 302.3h0.9v0.9h-0.9zM477.3 300.9h0.9v0.9h-0.9zM474.5 296.6h0.9v0.9h-0.9zM473.6 294.5h0.9v0.9h-0.9zM479.1 302.0h0.9v0.9h-0.9zM465.0 293.7h0.9v0.9h-0.9zM473.1 289.6h0.9v0.9h-0.9zM470.8 297.3h0.9v0.9h-0.9zM463.8 303.2h0.9v0.9h-0.9zM467.6 309.8h0.9v0.9h-0.9zM466.3 295.2h0.9v0.9h-0.9zM477.0 308.9h0.9v0.9h-0.9zM465.1 302.1h0.9v0.9h-0.9zM474.5 294.8h0.9v0.9h-0.9zM476.8 289.4h0.9v0.9h-0.9zM483.0 294.2h0.9v0.9h-0.9zM475.2 311.0h0.9v0.9h-0.9zM477.9 291.6h0.9v0.9h-0.9zM468.0 306.9h0.9v0.9h-0.9zM481.1 293.4h0.9v0.9h-0.9zM483.0 291.4h0.9v0.9h-0.9zM480.9 291.3h0.9v0.9h-0.9zM475.2 307.1h0.9v0.9h-0.9zM472.1 298.3h0.9v0.9h-0.9zM481.0 295.0h0.9v0.9h-0.9zM478.4 314.3h0.9v0.9h-0.9zM470.2 302.9h0.9v0.9h-0.9zM469.9 289.8h0.9v0.9h-0.9zM469.7 304.9h0.9v0.9h-0.9zM483.7 310.8h0.9v0.9h-0.9zM472.9 307.1h0.9v0.9h-0.9zM482.9 291.0h0.9v0.9h-0.9zM465.7 306.8h0.9v0.9h-0.9zM480.3 295.4h0.9v0.9h-0.9zM478.2 297.2h0.9v0.9h-0.9zM469.4 294.0h0.9v0.9h-0.9zM481.9 314.7h0.9v0.9h-0.9zM476.4 297.8h0.9v0.9h-0.9zM467.7 313.0h0.9v0.9h-0.9zM471.3 311.9h0.9v0.9h-0.9zM466.3 302.2h0.9v0.9h-0.9zM468.4 290.5h0.9v0.9h-0.9zM470.5 314.1h0.9v0.9h-0.9zM464.8 296.6h0.9v0.9h-0.9zM475.7 309.7h0.9v0.9h-0.9zM481.8 290.6h0.9v0.9h-0.9zM469.7 289.5h0.9v0.9h-0.9zM479.3 299.9h0.9v0.9h-0.9zM480.4 312.9h0.9v0.9h-0.9zM469.4 298.6h0.9v0.9h-0.9zM464.9 294.3h0.9v0.9h-0.9zM482.8 302.8h0.9v0.9h-0.9zM467.5 290.5h0.9v0.9h-0.9zM463.8 306.2h0.9v0.9h-0.9zM464.1 291.6h0.9v0.9h-0.9zM480.8 306.8h0.9v0.9h-0.9zM471.3 296.2h0.9v0.9h-0.9zM482.9 308.9h0.9v0.9h-0.9zM477.8 304.2h0.9v0.9h-0.9zM483.3 309.0h0.9v0.9h-0.9zM473.0 306.9h0.9v0.9h-0.9zM483.1 296.4h0.9v0.9h-0.9zM469.8 312.3h0.9v0.9h-0.9zM482.7 305.7h0.9v0.9h-0.9zM483.7 298.8h0.9v0.9h-0.9zM474.9 309.9h0.9v0.9h-0.9zM463.9 290.1h0.9v0.9h-0.9zM472.8 293.8h0.9v0.9h-0.9zM479.1 301.6h0.9v0.9h-0.9zM482.8 305.7h0.9v0.9h-0.9zM478.2 298.6h0.9v0.9h-0.9zM467.5 301.7h0.9v0.9h-0.9zM478.8 300.3h0.9v0.9h-0.9zM483.9 296.9h0.9v0.9h-0.9zM470.2 301.5h0.9v0.9h-0.9zM480.1 308.2h0.9v0.9h-0.9zM465.0 302.9h0.9v0.9h-0.9zM475.9 304.9h0.9v0.9h-0.9zM472.1 295.9h0.9v0.9h-0.9zM466.7 289.2h0.9v0.9h-0.9zM477.5 290.9h0.9v0.9h-0.9zM478.1 298.7h0.9v0.9h-0.9zM481.3 304.0h0.9v0.9h-0.9zM464.9 300.5h0.9v0.9h-0.9zM470.7 306.4h0.9v0.9h-0.9zM477.4 296.3h0.9v0.9h-0.9zM483.6 296.0h0.9v0.9h-0.9zM472.4 302.3h0.9v0.9h-0.9zM466.8 305.2h0.9v0.9h-0.9zM470.7 298.6h0.9v0.9h-0.9zM471.6 304.0h0.9v0.9h-0.9zM474.8 314.1h0.9v0.9h-0.9zM482.0 306.2h0.9v0.9h-0.9zM475.3 293.6h0.9v0.9h-0.9zM474.5 304.6h0.9v0.9h-0.9zM469.6 307.9h0.9v0.9h-0.9zM474.6 290.0h0.9v0.9h-0.9zM474.2 296.5h0.9v0.9h-0.9zM470.2 294.6h0.9v0.9h-0.9zM470.0 307.7h0.9v0.9h-0.9zM472.5 312.5h0.9v0.9h-0.9zM476.6 311.0h0.9v0.9h-0.9zM483.5 311.2h0.9v0.9h-0.9zM483.9 312.0h0.9v0.9h-0.9zM464.5 304.0h0.9v0.9h-0.9zM465.8 305.0h0.9v0.9h-0.9zM468.1 300.7h0.9v0.9h-0.9zM469.4 294.8h0.9v0.9h-0.9zM481.9 295.0h0.9v0.9h-0.9zM465.0 301.8h0.9v0.9h-0.9zM480.9 290.2h0.9v0.9h-0.9zM472.3 289.5h0.9v0.9h-0.9zM467.8 310.2h0.9v0.9h-0.9zM481.9 307.3h0.9v0.9h-0.9zM481.0 307.8h0.9v0.9h-0.9zM480.6 291.5h0.9v0.9h-0.9zM471.7 306.6h0.9v0.9h-0.9zM469.6 307.1h0.9v0.9h-0.9zM477.4 302.5h0.9v0.9h-0.9zM479.7 302.6h0.9v0.9h-0.9zM473.0 297.8h0.9v0.9h-0.9zM477.4 297.4h0.9v0.9h-0.9zM472.1 313.2h0.9v0.9h-0.9zM464.1 307.2h0.9v0.9h-0.9zM468.2 293.4h0.9v0.9h-0.9zM464.1 295.7h0.9v0.9h-0.9zM472.6 291.0h0.9v0.9h-0.9zM475.9 299.8h0.9v0.9h-0.9zM473.8 290.1h0.9v0.9h-0.9zM478.9 296.8h0.9v0.9h-0.9zM465.0 299.3h0.9v0.9h-0.9zM480.1 295.6h0.9v0.9h-0.9zM469.3 307.7h0.9v0.9h-0.9z"/>
<path fill="#aaaaaa" d="M467.8 289.7h0.9v0.9h-0.9zM473.9 291.1h0.9v0.9h-0.9zM465.4 311.4h0.9v0.9h-0.9zM467.3 293.7h0.9v0.9h-0.9zM477.8 289.4h0.9v0.9h-0.9zM481.3 298.3h0.9v0.9h-0.9zM483.4 314.0h0.9v0.9h-0.9zM477.8 310.7h0.9v0.9h-0.9zM479.5 308.8h0.9v0.9h-0.9zM467.0 290.5h0.9v0.9h-0.9zM465.8 300.7h0.9v0.9h-0.9zM483.1 290.7h0.9v0.9h-0.9zM483.6 309.0h0.9v0.9h-0.9zM481.4 293.5h0.9v0.9h-0.9zM479.1 312.7h0.9v0.9h-0.9zM467.5 307.0h0.9v0.9h-0.9zM470.8 312.1h0.9v0.9h-0.9zM465.3 310.4h0.9v0.9h-0.9zM477.4 295.5h0.9v0.9h-0.9zM471.5 307.9h0.9v0.9h-0.9zM466.2 300.1h0.9v0.9h-0.9zM480.9 296.1h0.9v0.9h-0.9zM481.0 294.1h0.9v0.9h-0.9zM468.6 305.3h0.9v0.9h-0.9zM479.2 309.9h0.9v0.9h-0.9zM483.8 303.3h0.9v0.9h-0.9zM470.4 313.8h0.9v0.9h-0.9zM480.0 295.0h0.9v0.9h-0.9zM473.7 309.2h0.9v0.9h-0.9zM465.9 309.8h0.9v0.9h-0.9zM464.1 298.3h0.9v0.9h-0.9zM477.0 293.7h0.9v0.9h-0.9zM471.2 304.9h0.9v0.9h-0.9zM468.7 309.5h0.9v0.9h-0.9zM480.3 291.2h0.9v0.9h-0.9zM467.2 310.3h0.9v0.9h-0.9zM473.7 308.9h0.9v0.9h-0.9zM470.4 314.9h0.9v0.9h-0.9zM482.0 314.5h0.9v0.9h-0.9zM466.2 308.9h0.9v0.9h-0.9zM468.2 294.7h0.9v0.9h-0.9zM472.5 314.1h0.9v0.9h-0.9zM481.5 301.0h0.9v0.9h-0.9zM463.9 302.5h0.9v0.9h-0.9zM473.7 294.0h0.9v0.9h-0.9zM466.0 304.8h0.9v0.9h-0.9zM468.4 303.8h0.9v0.9h-0.9zM482.7 296.4h0.9v0.9h-0.9zM467.2 293.6h0.9v0.9h-0.9zM463.9 304.6h0.9v0.9h-0.9zM470.3 297.4h0.9v0.9h-0.9zM481.9 311.6h0.9v0.9h-0.9zM465.8 304.8h0.9v0.9h-0.9zM477.9 290.2h0.9v0.9h-0.9zM481.9 308.4h0.9v0.9h-0.9zM479.1 290.8h0.9v0.9h-0.9zM474.9 299.8h0.9v0.9h-0.9zM464.6 295.4h0.9v0.9h-0.9zM466.4 310.4h0.9v0.9h-0.9zM470.8 295.3h0.9v0.9h-0.9zM466.3 292.6h0.9v0.9h-0.9zM476.9 306.5h0.9v0.9h-0.9zM465.2 304.6h0.9v0.9h-0.9zM469.2 290.0h0.9v0.9h-0.9zM469.8 298.7h0.9v0.9h-0.9zM482.6 297.8h0.9v0.9h-0.9zM480.6 289.7h0.9v0.9h-0.9zM480.2 301.7h0.9v0.9h-0.9zM475.3 289.7h0.9v0.9h-0.9zM469.7 290.6h0.9v0.9h-0.9zM464.1 306.3h0.9v0.9h-0.9zM483.7 300.8h0.9v0.9h-0.9zM471.5 291.3h0.9v0.9h-0.9zM476.6 313.1h0.9v0.9h-0.9zM464.4 293.9h0.9v0.9h-0.9zM477.3 305.6h0.9v0.9h-0.9zM479.2 302.7h0.9v0.9h-0.9zM469.8 290.5h0.9v0.9h-0.9zM464.7 293.7h0.9v0.9h-0.9zM480.3 298.9h0.9v0.9h-0.9zM476.4 307.4h0.9v0.9h-0.9zM473.8 297.7h0.9v0.9h-0.9zM479.2 305.1h0.9v0.9h-0.9zM480.7 305.7h0.9v0.9h-0.9zM478.0 308.7h0.9v0.9h-0.9zM467.1 298.7h0.9v0.9h-0.9zM464.9 294.5h0.9v0.9h-0.9zM482.1 305.1h0.9v0.9h-0.9zM483.3 309.8h0.9v0.9h-0.9zM471.3 291.9h0.9v0.9h-0.9zM480.4 301.7h0.9v0.9h-0.9zM479.0 306.0h0.9v0.9h-0.9zM483.6 294.1h0.9v0.9h-0.9zM481.6 310.9h0.9v0.9h-0.9zM472.9 304.7h0.9v0.9h-0.9zM464.1 313.2h0.9v0.9h-0.9zM481.4 312.7h0.9v0.9h-0.9zM483.9 310.5h0.9v0.9h-0.9zM465.8 303.6h0.9v0.9h-0.9zM481.5 307.2h0.9v0.9h-0.9zM475.5 291.1h0.9v0.9h-0.9zM480.5 291.1h0.9v0.9h-0.9zM482.3 302.8h0.9v0.9h-0.9zM476.6 296.0h0.9v0.9h-0.9zM477.4 289.8h0.9v0.9h-0.9zM476.4 314.1h0.9v0.9h-0.9zM475.4 289.6h0.9v0.9h-0.9zM481.9 295.9h0.9v0.9h-0.9zM477.2 313.3h0.9v0.9h-0.9zM476.4 313.8h0.9v0.9h-0.9zM481.2 311.1h0.9v0.9h-0.9zM478.1 291.9h0.9v0.9h-0.9zM480.4 312.2h0.9v0.9h-0.9zM478.3 309.6h0.9v0.9h-0.9zM470.1 300.2h0.9v0.9h-0.9zM466.0 312.0h0.9v0.9h-0.9zM472.6 306.4h0.9v0.9h-0.9zM481.7 294.9h0.9v0.9h-0.9zM466.3 293.8h0.9v0.9h-0.9zM482.8 298.5h0.9v0.9h-0.9zM472.6 301.2h0.9v0.9h-0.9zM466.4 294.4h0.9v0.9h-0.9zM477.4 293.1h0.9v0.9h-0.9zM478.5 313.2h0.9v0.9h-0.9zM464.2 313.3h0.9v0.9h-0.9zM471.6 307.0h0.9v0.9h-0.9z"/>
<path fill="#bababa" d="M468.2 310.4h0.9v0.9h-0.9zM468.8 313.9h0.9v0.9h-0.9zM479.5 289.3h0.9v0.9h-0.9zM482.0 293.0h0.9v0.9h-0.9zM478.2 311.8h0.9v0.9h-0.9zM470.3 293.4h0.9v0.9h-0.9zM479.2 289.1h0.9v0.9h-0.9zM480.5 306.6h0.9v0.9h-0.9zM471.1 292.2h0.9v0.9h-0.9zM472.8 311.7h0.9v0.9h-0.9zM477.5 312.1h0.9v0.9h-0.9zM481.2 291.5h0.9v0.9h-0.9zM466.5 310.7h0.9v0.9h-0.9zM482.6 301.7h0.9v0.9h-0.9zM463.7 300.1h0.9v0.9h-0.9zM472.5 290.4h0.9v0.9h-0.9zM469.6 298.7h0.9v0.9h-0.9zM482.9 300.7h0.9v0.9h-0.9zM477.4 299.0h0.9v0.9h-0.9zM471.6 309.1h0.9v0.9h-0.9zM479.2 310.4h0.9v0.9h-0.9zM482.3 296.9h0.9v0.9h-0.9zM474.5 291.8h0.9v0.9h-0.9zM480.1 298.2h0.9v0.9h-0.9zM471.8 295.4h0.9v0.9h-0.9zM464.8 292.8h0.9v0.9h-0.9zM472.1 294.2h0.9v0.9h-0.9zM479.5 309.6h0.9v0.9h-0.9zM476.1 313.8h0.9v0.9h-0.9zM467.8 295.9h0.9v0.9h-0.9zM478.2 290.8h0.9v0.9h-0.9zM463.9 313.5h0.9v0.9h-0.9zM466.0 298.8h0.9v0.9h-0.9zM467.9 304.8h0.9v0.9h-0.9zM467.7 301.7h0.9v0.9h-0.9zM471.8 291.6h0.9v0.9h-0.9zM467.3 293.9h0.9v0.9h-0.9zM472.0 295.3h0.9v0.9h-0.9zM473.7 303.5h0.9v0.9h-0.9zM475.4 294.2h0.9v0.9h-0.9zM476.4 298.3h0.9v0.9h-0.9zM478.3 302.6h0.9v0.9h-0.9zM474.1 295.7h0.9v0.9h-0.9zM465.4 298.4h0.9v0.9h-0.9zM480.0 297.5h0.9v0.9h-0.9zM481.0 300.8h0.9v0.9h-0.9zM469.5 291.3h0.9v0.9h-0.9zM475.9 293.5h0.9v0.9h-0.9zM478.3 293.3h0.9v0.9h-0.9zM475.2 293.8h0.9v0.9h-0.9zM483.0 297.8h0.9v0.9h-0.9zM465.0 305.2h0.9v0.9h-0.9zM475.9 313.0h0.9v0.9h-0.9zM474.6 302.9h0.9v0.9h-0.9zM476.9 296.0h0.9v0.9h-0.9zM480.0 301.7h0.9v0.9h-0.9zM475.3 312.9h0.9v0.9h-0.9zM474.8 298.8h0.9v0.9h-0.9zM479.8 296.5h0.9v0.9h-0.9zM468.1 300.7h0.9v0.9h-0.9zM464.6 306.9h0.9v0.9h-0.9zM475.4 313.8h0.9v0.9h-0.9zM472.1 300.2h0.9v0.9h-0.9zM472.6 293.2h0.9v0.9h-0.9zM471.1 292.9h0.9v0.9h-0.9zM476.0 297.5h0.9v0.9h-0.9zM478.2 310.9h0.9v0.9h-0.9zM472.8 310.6h0.9v0.9h-0.9zM470.1 311.3h0.9v0.9h-0.9zM470.9 310.2h0.9v0.9h-0.9zM481.1 311.3h0.9v0.9h-0.9zM478.2 294.3h0.9v0.9h-0.9zM476.5 312.1h0.9v0.9h-0.9zM465.6 293.4h0.9v0.9h-0.9zM481.4 291.5h0.9v0.9h-0.9zM466.1 296.6h0.9v0.9h-0.9zM479.3 302.1h0.9v0.9h-0.9zM479.5 310.5h0.9v0.9h-0.9zM472.6 301.5h0.9v0.9h-0.9zM470.6 293.8h0.9v0.9h-0.9zM481.1 290.2h0.9v0.9h-0.9zM477.6 304.3h0.9v0.9h-0.9zM472.0 308.7h0.9v0.9h-0.9zM480.5 292.1h0.9v0.9h-0.9zM483.5 291.7h0.9v0.9h-0.9zM481.5 289.7h0.9v0.9h-0.9zM463.9 299.6h0.9v0.9h-0.9zM467.0 298.6h0.9v0.9h-0.9zM468.2 297.8h0.9v0.9h-0.9zM480.4 292.3h0.9v0.9h-0.9zM471.3 298.2h0.9v0.9h-0.9zM471.0 312.0h0.9v0.9h-0.9zM468.1 292.9h0.9v0.9h-0.9zM478.2 297.5h0.9v0.9h-0.9zM479.9 295.4h0.9v0.9h-0.9zM476.4 311.0h0.9v0.9h-0.9zM471.2 309.7h0.9v0.9h-0.9zM481.8 308.2h0.9v0.9h-0.9zM476.3 297.7h0.9v0.9h-0.9zM479.3 289.9h0.9v0.9h-0.9zM478.3 291.6h0.9v0.9h-0.9zM481.1 298.4h0.9v0.9h-0.9zM478.7 298.4h0.9v0.9h-0.9zM473.5 293.3h0.9v0.9h-0.9zM481.4 307.8h0.9v0.9h-0.9zM469.0 292.3h0.9v0.9h-0.9zM471.9 311.9h0.9v0.9h-0.9zM464.4 291.3h0.9v0.9h-0.9zM472.9 310.1h0.9v0.9h-0.9zM471.5 292.6h0.9v0.9h-0.9zM469.6 290.2h0.9v0.9h-0.9zM478.6 307.7h0.9v0.9h-0.9zM473.8 307.9h0.9v0.9h-0.9zM480.7 295.6h0.9v0.9h-0.9zM471.5 312.7h0.9v0.9h-0.9zM480.2 314.8h0.9v0.9h-0.9zM473.3 306.5h0.9v0.9h-0.9zM483.8 296.2h0.9v0.9h-0.9zM468.5 309.4h0.9v0.9h-0.9zM475.1 313.6h0.9v0.9h-0.9zM482.7 309.7h0.9v0.9h-0.9zM467.4 300.7h0.9v0.9h-0.9zM473.3 306.0h0.9v0.9h-0.9zM464.6 303.9h0.9v0.9h-0.9zM472.2 290.2h0.9v0.9h-0.9zM473.0 291.9h0.9v0.9h-0.9z"/>
<path fill="#888" d="M474.0 314.1h0.9v0.9h-0.9zM463.8 314.6h0.9v0.9h-0.9zM464.9 314.0h0.9v0.9h-0.9zM483.0 314.6h0.9v0.9h-0.9zM482.6 314.3h0.9v0.9h-0.9zM463.8 290.2h0.9v0.9h-0.9zM463.9 298.0h0.9v0.9h-0.9zM463.6 313.2h0.9v0.9h-0.9zM464.3 304.9h0.9v0.9h-0.9z"/>
<path fill="#999" d="M468.5 314.1h0.9v0.9h-0.9zM472.5 314.5h0.9v0.9h-0.9zM479.5 314.6h0.9v0.9h-0.9zM472.1 314.4h0.9v0.9h-0.9zM464.2 314.3h0.9v0.9h-0.9zM473.0 314.2h0.9v0.9h-0.9zM483.5 314.2h0.9v0.9h-0.9zM470.2 314.5h0.9v0.9h-0.9zM466.3 314.1h0.9v0.9h-0.9zM478.1 314.3h0.9v0.9h-0.9zM464.4 293.2h0.9v0.9h-0.9zM464.1 295.0h0.9v0.9h-0.9zM464.1 295.6h0.9v0.9h-0.9zM464.0 305.8h0.9v0.9h-0.9zM464.1 296.7h0.9v0.9h-0.9zM463.9 303.1h0.9v0.9h-0.9zM464.3 291.9h0.9v0.9h-0.9zM464.1 294.6h0.9v0.9h-0.9z"/>
<path fill="#777" d="M470.1 314.1h0.9v0.9h-0.9zM478.2 314.0h0.9v0.9h-0.9zM472.1 314.4h0.9v0.9h-0.9zM475.3 314.4h0.9v0.9h-0.9zM480.7 314.4h0.9v0.9h-0.9zM476.7 314.4h0.9v0.9h-0.9zM464.1 314.8h0.9v0.9h-0.9zM466.3 314.4h0.9v0.9h-0.9zM474.9 314.7h0.9v0.9h-0.9zM483.9 314.5h0.9v0.9h-0.9zM480.4 314.6h0.9v0.9h-0.9zM478.2 314.4h0.9v0.9h-0.9zM470.8 314.4h0.9v0.9h-0.9zM467.0 314.3h0.9v0.9h-0.9zM479.7 314.4h0.9v0.9h-0.9zM463.7 305.9h0.9v0.9h-0.9zM463.8 295.5h0.9v0.9h-0.9zM464.1 301.6h0.9v0.9h-0.9zM464.1 297.3h0.9v0.9h-0.9zM463.9 294.0h0.9v0.9h-0.9zM463.7 310.7h0.9v0.9h-0.9zM464.1 299.8h0.9v0.9h-0.9zM464.1 291.5h0.9v0.9h-0.9zM464.2 289.9h0.9v0.9h-0.9zM464.2 308.6h0.9v0.9h-0.9zM464.2 308.9h0.9v0.9h-0.9zM463.8 310.4h0.9v0.9h-0.9zM463.8 301.7h0.9v0.9h-0.9z"/>
<path fill="#d0d0d0" d="M507.3 283.5h0.9v0.9h-0.9zM501.2 298.3h0.9v0.9h-0.9zM513.5 303.8h0.9v0.9h-0.9zM501.1 292.5h0.9v0.9h-0.9zM507.4 309.7h0.9v0.9h-0.9zM496.2 267.1h0.9v0.9h-0.9zM491.4 267.3h0.9v0.9h-0.9zM498.1 263.1h0.9v0.9h-0.9zM503.9 313.6h0.9v0.9h-0.9zM503.0 290.4h0.9v0.9h-0.9zM467.8 282.5h0.9v0.9h-0.9zM484.7 263.3h0.9v0.9h-0.9zM494.2 295.8h0.9v0.9h-0.9z"/>
<path fill="#c8c8c8" d="M474.4 283.8h0.9v0.9h-0.9zM506.9 264.4h0.9v0.9h-0.9zM482.1 281.0h0.9v0.9h-0.9zM491.5 286.4h0.9v0.9h-0.9zM482.5 283.6h0.9v0.9h-0.9zM503.5 307.2h0.9v0.9h-0.9zM505.9 262.6h0.9v0.9h-0.9zM468.1 262.5h0.9v0.9h-0.9zM483.8 287.9h0.9v0.9h-0.9zM498.1 262.9h0.9v0.9h-0.9zM490.9 313.3h0.9v0.9h-0.9zM496.7 266.5h0.9v0.9h-0.9zM474.3 283.3h0.9v0.9h-0.9zM486.0 279.6h0.9v0.9h-0.9zM500.4 274.7h0.9v0.9h-0.9zM489.7 279.8h0.9v0.9h-0.9zM497.7 272.6h0.9v0.9h-0.9zM488.5 283.7h0.9v0.9h-0.9zM496.7 276.4h0.9v0.9h-0.9zM485.8 286.5h0.9v0.9h-0.9zM496.2 280.5h0.9v0.9h-0.9zM498.8 274.8h0.9v0.9h-0.9zM503.0 274.1h0.9v0.9h-0.9zM492.5 277.5h0.9v0.9h-0.9zM498.4 280.6h0.9v0.9h-0.9zM501.8 268.5h0.9v0.9h-0.9zM499.1 277.6h0.9v0.9h-0.9z"/>
<path fill="#d8d8d8" d="M490.4 310.0h0.9v0.9h-0.9zM495.9 311.6h0.9v0.9h-0.9zM491.0 298.3h0.9v0.9h-0.9zM470.9 266.9h0.9v0.9h-0.9zM512.0 299.7h0.9v0.9h-0.9zM469.5 273.2h0.9v0.9h-0.9zM470.3 274.7h0.9v0.9h-0.9zM503.1 274.3h0.9v0.9h-0.9zM470.1 287.4h0.9v0.9h-0.9zM486.3 280.4h0.9v0.9h-0.9zM476.7 282.6h0.9v0.9h-0.9zM500.4 268.0h0.9v0.9h-0.9z"/>
<path fill="#cccccc" d="M480.2 284.5h0.9v0.9h-0.9zM473.3 285.2h0.9v0.9h-0.9zM467.7 283.7h0.9v0.9h-0.9zM471.8 285.7h0.9v0.9h-0.9zM471.3 285.9h0.9v0.9h-0.9zM482.5 285.5h0.9v0.9h-0.9zM472.6 285.9h0.9v0.9h-0.9zM474.7 282.3h0.9v0.9h-0.9zM480.2 286.1h0.9v0.9h-0.9zM479.4 285.5h0.9v0.9h-0.9zM477.6 285.5h0.9v0.9h-0.9zM478.1 285.2h0.9v0.9h-0.9z"/>
<path fill="#c0c0c0" d="M474.3 286.8h0.9v0.9h-0.9zM465.8 286.2h0.9v0.9h-0.9zM475.5 285.7h0.9v0.9h-0.9zM471.7 284.1h0.9v0.9h-0.9zM467.9 281.6h0.9v0.9h-0.9zM467.1 286.9h0.9v0.9h-0.9zM475.7 279.5h0.9v0.9h-0.9zM479.6 286.4h0.9v0.9h-0.9zM467.4 283.5h0.9v0.9h-0.9zM469.3 283.0h0.9v0.9h-0.9zM469.8 283.4h0.9v0.9h-0.9zM482.0 285.8h0.9v0.9h-0.9zM466.1 284.4h0.9v0.9h-0.9zM477.4 287.0h0.9v0.9h-0.9zM476.3 287.2h0.9v0.9h-0.9zM482.9 279.8h0.9v0.9h-0.9zM471.2 285.9h0.9v0.9h-0.9z"/>
<path fill="#b5b5b5" d="M476.4 285.5h0.9v0.9h-0.9zM467.0 286.7h0.9v0.9h-0.9zM469.9 280.0h0.9v0.9h-0.9zM471.3 287.0h0.9v0.9h-0.9zM466.1 286.4h0.9v0.9h-0.9zM472.6 282.7h0.9v0.9h-0.9z"/>
<path fill="#bcbcbc" d="M498.3 275.8h0.9v0.9h-0.9zM504.8 271.2h0.9v0.9h-0.9zM499.3 275.5h0.9v0.9h-0.9zM492.7 277.1h0.9v0.9h-0.9zM495.6 281.6h0.9v0.9h-0.9zM498.9 275.1h0.9v0.9h-0.9zM498.1 279.7h0.9v0.9h-0.9zM506.2 269.2h0.9v0.9h-0.9zM491.0 282.8h0.9v0.9h-0.9zM490.5 276.2h0.9v0.9h-0.9zM498.7 280.4h0.9v0.9h-0.9zM494.7 281.0h0.9v0.9h-0.9zM491.4 277.8h0.9v0.9h-0.9zM509.5 274.1h0.9v0.9h-0.9zM500.0 278.6h0.9v0.9h-0.9z"/>
<path fill="#d4d4d4" d="M491.3 277.1h0.9v0.9h-0.9zM496.9 273.2h0.9v0.9h-0.9zM489.8 279.8h0.9v0.9h-0.9zM490.9 277.6h0.9v0.9h-0.9zM499.2 280.9h0.9v0.9h-0.9zM491.0 283.4h0.9v0.9h-0.9zM501.3 273.0h0.9v0.9h-0.9zM489.2 280.2h0.9v0.9h-0.9zM508.1 270.1h0.9v0.9h-0.9zM503.8 277.9h0.9v0.9h-0.9zM490.8 283.1h0.9v0.9h-0.9zM500.7 280.3h0.9v0.9h-0.9zM496.6 278.2h0.9v0.9h-0.9zM503.1 277.3h0.9v0.9h-0.9zM503.3 274.4h0.9v0.9h-0.9zM497.5 281.1h0.9v0.9h-0.9zM504.1 268.7h0.9v0.9h-0.9zM502.8 279.5h0.9v0.9h-0.9zM505.7 270.7h0.9v0.9h-0.9zM496.6 279.8h0.9v0.9h-0.9z"/>
<polygon points="484.1,301.5 483.8,303.6 483.0,305.4 482.1,307.1 481.6,309.1 480.2,310.2 479.1,311.9 477.7,313.5 475.9,314.3 474.0,314.7 472.1,314.0 470.3,313.7 468.6,312.5 467.4,310.8 466.5,309.0 465.8,307.1 464.9,305.4 463.7,303.6 463.7,301.5 463.7,299.2 463.7,297.1 464.0,294.7 465.8,293.4 467.1,291.8 468.8,290.8 470.6,290.5 472.2,289.7 474.0,290.1 475.7,290.2 477.5,290.1 479.3,290.7 480.9,291.8 482.6,293.0 483.8,294.8 484.1,296.9 484.1,299.3" fill="none" stroke="#a0a0a0" stroke-width="0.5"/>
<polygon points="479.5,301.5 479.5,302.7 479.5,303.9 479.2,305.1 478.8,306.3 477.9,307.0 477.3,308.2 476.2,308.7 475.1,309.2 474.0,308.7 473.0,308.3 472.1,307.8 471.2,307.3 470.3,306.7 469.6,305.8 469.1,304.8 468.3,304.0 468.0,302.8 467.5,301.5 467.7,300.2 467.9,298.9 468.8,297.9 469.2,296.8 470.4,296.4 471.2,295.7 472.1,295.2 473.0,294.6 474.0,294.7 475.1,294.4 476.1,294.6 477.2,295.0 478.2,295.6 479.0,296.5 479.3,297.9 479.7,299.0 479.8,300.3" fill="none" stroke="#a0a0a0" stroke-width="0.5"/>
</g>
<line x1="484.5" y1="261.0" x2="484.5" y2="315.5" stroke="#888" stroke-width="0.8"/>
<line x1="463.1" y1="288.3" x2="518.0" y2="288.3" stroke="#888" stroke-width="0.8"/>
<text x="514.5" y="269.85" font-size="6.8" text-anchor="end" textLength="8.5" lengthAdjust="spacingAndGlyphs" fill="#444" stroke="#444" stroke-width="0.2">1.5</text>
<text x="464.3" y="264.6" font-size="3" fill="#999">UL</text>
<text x="516.8" y="314.3" font-size="3" text-anchor="end" fill="#999">LR</text>
</g>
</svg>
</body></html>
